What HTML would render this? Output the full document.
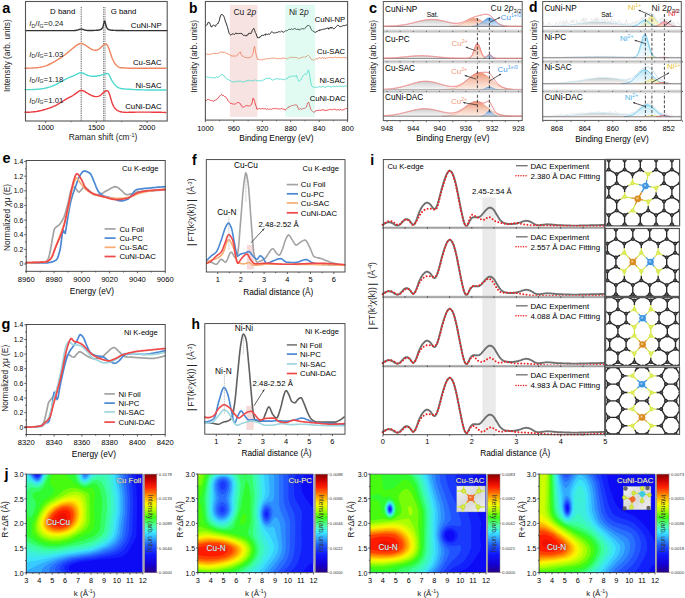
<!DOCTYPE html>
<html><head><meta charset="utf-8"><style>
html,body{margin:0;padding:0;background:#fff;}
body{width:685px;height:598px;overflow:hidden;}
svg{display:block;font-family:"Liberation Sans", sans-serif;}
</style></head><body>
<svg width="685" height="598" viewBox="0 0 685 598">
<rect width="685" height="598" fill="#fff"/>
<text x="2.3" y="12.7" font-size="14.5" font-weight="bold" fill="#000">a</text>
<line x1="81.2" y1="7" x2="81.2" y2="121" stroke="#111" stroke-width="0.8" stroke-dasharray="0.9,0.9"/>
<line x1="103.6" y1="7" x2="103.6" y2="121" stroke="#222" stroke-width="0.7" stroke-dasharray="0.9,0.9"/>
<line x1="105" y1="7" x2="105" y2="121" stroke="#222" stroke-width="0.7" stroke-dasharray="0.9,0.9"/>
<polyline points="25.5,30.6 25.8,30.6 26.1,30.6 26.4,30.6 26.6,30.6 26.9,30.6 27.2,30.6 27.5,30.6 27.8,30.6 28.1,30.6 28.3,30.6 28.6,30.6 28.9,30.6 29.2,30.6 29.5,30.6 29.8,30.6 30,30.6 30.3,30.6 30.6,30.6 30.9,30.6 31.2,30.6 31.5,30.6 31.7,30.6 32,30.6 32.3,30.6 32.6,30.6 32.9,30.6 33.2,30.6 33.5,30.6 33.7,30.6 34,30.6 34.3,30.6 34.6,30.6 34.9,30.6 35.2,30.6 35.4,30.6 35.7,30.6 36,30.6 36.3,30.6 36.6,30.6 36.9,30.6 37.1,30.6 37.4,30.6 37.7,30.6 38,30.6 38.3,30.6 38.6,30.6 38.8,30.6 39.1,30.6 39.4,30.6 39.7,30.6 40,30.6 40.3,30.6 40.6,30.6 40.8,30.6 41.1,30.6 41.4,30.6 41.7,30.6 42,30.6 42.3,30.6 42.5,30.6 42.8,30.6 43.1,30.6 43.4,30.6 43.7,30.6 44,30.6 44.2,30.6 44.5,30.6 44.8,30.6 45.1,30.6 45.4,30.6 45.7,30.6 45.9,30.6 46.2,30.6 46.5,30.6 46.8,30.6 47.1,30.6 47.4,30.6 47.6,30.6 47.9,30.6 48.2,30.6 48.5,30.6 48.8,30.6 49.1,30.6 49.4,30.6 49.6,30.6 49.9,30.6 50.2,30.6 50.5,30.6 50.8,30.6 51.1,30.6 51.3,30.6 51.6,30.6 51.9,30.6 52.2,30.6 52.5,30.6 52.8,30.6 53,30.6 53.3,30.6 53.6,30.6 53.9,30.6 54.2,30.6 54.5,30.6 54.7,30.6 55,30.6 55.3,30.6 55.6,30.6 55.9,30.6 56.2,30.6 56.5,30.6 56.7,30.6 57,30.6 57.3,30.6 57.6,30.6 57.9,30.6 58.2,30.6 58.4,30.6 58.7,30.6 59,30.6 59.3,30.6 59.6,30.6 59.9,30.6 60.1,30.6 60.4,30.6 60.7,30.6 61,30.6 61.3,30.6 61.6,30.6 61.8,30.6 62.1,30.6 62.4,30.6 62.7,30.6 63,30.6 63.3,30.6 63.6,30.6 63.8,30.6 64.1,30.6 64.4,30.6 64.7,30.6 65,30.6 65.3,30.6 65.5,30.6 65.8,30.6 66.1,30.6 66.4,30.6 66.7,30.6 67,30.6 67.2,30.6 67.5,30.6 67.8,30.6 68.1,30.6 68.4,30.6 68.7,30.6 68.9,30.6 69.2,30.6 69.5,30.6 69.8,30.6 70.1,30.6 70.4,30.6 70.7,30.6 70.9,30.6 71.2,30.6 71.5,30.6 71.8,30.6 72.1,30.6 72.4,30.6 72.6,30.6 72.9,30.6 73.2,30.6 73.5,30.6 73.8,30.6 74.1,30.6 74.3,30.5 74.6,30.5 74.9,30.5 75.2,30.5 75.5,30.5 75.8,30.4 76,30.4 76.3,30.3 76.6,30.3 76.9,30.2 77.2,30.1 77.5,30.1 77.8,30 78,29.9 78.3,29.8 78.6,29.7 78.9,29.6 79.2,29.5 79.5,29.4 79.7,29.3 80,29.2 80.3,29.2 80.6,29.1 80.9,29.1 81.2,29.1 81.4,29.1 81.7,29.1 82,29.1 82.3,29.2 82.6,29.3 82.9,29.4 83.1,29.5 83.4,29.6 83.7,29.7 84,29.8 84.3,29.9 84.6,29.9 84.8,30 85.1,30.1 85.4,30.2 85.7,30.2 86,30.3 86.3,30.3 86.6,30.4 86.8,30.4 87.1,30.4 87.4,30.5 87.7,30.5 88,30.5 88.3,30.5 88.5,30.5 88.8,30.5 89.1,30.5 89.4,30.5 89.7,30.5 90,30.5 90.2,30.5 90.5,30.5 90.8,30.5 91.1,30.5 91.4,30.5 91.7,30.5 91.9,30.5 92.2,30.5 92.5,30.5 92.8,30.5 93.1,30.5 93.4,30.5 93.7,30.4 93.9,30.4 94.2,30.4 94.5,30.4 94.8,30.4 95.1,30.4 95.4,30.4 95.6,30.4 95.9,30.4 96.2,30.3 96.5,30.3 96.8,30.3 97.1,30.3 97.3,30.3 97.6,30.2 97.9,30.2 98.2,30.2 98.5,30.1 98.8,30.1 99,30 99.3,30 99.6,29.9 99.9,29.8 100.2,29.7 100.5,29.6 100.8,29.5 101,29.3 101.3,29.1 101.6,28.9 101.9,28.6 102.2,28.2 102.5,27.8 102.7,27.2 103,26.5 103.3,25.5 103.6,24.4 103.9,23.2 104.2,22 104.4,21.2 104.7,21 105,21.6 105.3,22.6 105.6,23.9 105.9,25.1 106.1,26.1 106.4,26.9 106.7,27.5 107,28 107.3,28.4 107.6,28.8 107.9,29 108.1,29.2 108.4,29.4 108.7,29.6 109,29.7 109.3,29.8 109.6,29.9 109.8,29.9 110.1,30 110.4,30.1 110.7,30.1 111,30.1 111.3,30.2 111.5,30.2 111.8,30.2 112.1,30.3 112.4,30.3 112.7,30.3 113,30.3 113.2,30.3 113.5,30.4 113.8,30.4 114.1,30.4 114.4,30.4 114.7,30.4 114.9,30.4 115.2,30.4 115.5,30.4 115.8,30.4 116.1,30.5 116.4,30.5 116.7,30.5 116.9,30.5 117.2,30.5 117.5,30.5 117.8,30.5 118.1,30.5 118.4,30.5 118.6,30.5 118.9,30.5 119.2,30.5 119.5,30.5 119.8,30.5 120.1,30.5 120.3,30.5 120.6,30.5 120.9,30.5 121.2,30.5 121.5,30.5 121.8,30.5 122,30.5 122.3,30.5 122.6,30.5 122.9,30.5 123.2,30.5 123.5,30.5 123.8,30.5 124,30.5 124.3,30.6 124.6,30.6 124.9,30.6 125.2,30.6 125.5,30.6 125.7,30.6 126,30.6 126.3,30.6 126.6,30.6 126.9,30.6 127.2,30.6 127.4,30.6 127.7,30.6 128,30.6 128.3,30.6 128.6,30.6 128.9,30.6 129.1,30.6 129.4,30.6 129.7,30.6 130,30.6 130.3,30.6 130.6,30.6 130.9,30.6 131.1,30.6 131.4,30.6 131.7,30.6 132,30.6 132.3,30.6 132.6,30.6 132.8,30.6 133.1,30.6 133.4,30.6 133.7,30.6 134,30.6 134.3,30.6 134.5,30.6 134.8,30.6 135.1,30.6 135.4,30.6 135.7,30.6 136,30.6 136.2,30.6 136.5,30.6 136.8,30.6 137.1,30.6 137.4,30.6 137.7,30.6 138,30.6 138.2,30.6 138.5,30.6 138.8,30.6 139.1,30.6 139.4,30.6 139.7,30.6 139.9,30.6 140.2,30.6 140.5,30.6 140.8,30.6 141.1,30.6 141.4,30.6 141.6,30.6 141.9,30.6 142.2,30.6 142.5,30.6 142.8,30.6 143.1,30.6 143.3,30.6 143.6,30.6 143.9,30.6 144.2,30.6 144.5,30.6 144.8,30.6 145.1,30.6 145.3,30.6 145.6,30.6 145.9,30.6 146.2,30.6 146.5,30.6 146.8,30.6 147,30.6 147.3,30.6 147.6,30.6 147.9,30.6 148.2,30.6 148.5,30.6 148.7,30.6 149,30.6 149.3,30.6 149.6,30.6 149.9,30.6 150.2,30.6 150.4,30.6 150.7,30.6 151,30.6 151.3,30.6 151.6,30.6 151.9,30.6 152.1,30.6 152.4,30.6 152.7,30.6 153,30.6 153.3,30.6 153.6,30.6 153.9,30.6 154.1,30.6 154.4,30.6 154.7,30.6 155,30.6 155.3,30.6 155.6,30.6 155.8,30.6 156.1,30.6 156.4,30.6 156.7,30.6 157,30.6 157.3,30.6 157.5,30.6 157.8,30.6 158.1,30.6 158.4,30.6 158.7,30.6 159,30.6 159.2,30.6 159.5,30.6 159.8,30.6 160.1,30.6 160.4,30.6 160.7,30.6 161,30.6 161.2,30.6 161.5,30.6 161.8,30.6 162.1,30.6 162.4,30.6 162.7,30.6 162.9,30.6 163.2,30.6 163.5,30.6 163.8,30.6 164.1,30.6 164.4,30.6 164.6,30.6 164.9,30.6 165.2,30.6 165.5,30.6 165.8,30.6 166.1,30.6 166.3,30.6 166.6,30.6 166.9,30.6 167.2,30.6" fill="none" stroke="#333" stroke-width="1.4" stroke-linejoin="round" stroke-linecap="round" />
<polyline points="25,68.2 26,68.2 27,68.2 28,68.2 29,68.1 30,68.1 31,68.1 32,68 33,68 34,67.9 35,67.9 36,67.8 37,67.7 38,67.6 39,67.4 40,67.3 41,67.1 42,66.9 43,66.7 44,66.4 45,66.1 46,65.8 47,65.4 48,65 49,64.5 50,64 51,63.5 52,63 53,62.4 54,61.8 55,61.3 55.9,60.7 56.9,60.1 57.9,59.5 58.9,58.9 59.9,58.3 60.9,57.7 61.9,57 62.9,56.3 63.9,55.6 64.9,54.8 65.9,54 66.9,53.2 67.9,52.4 68.9,51.6 69.9,50.7 70.9,49.9 71.9,49 72.9,48.2 73.9,47.4 74.9,46.6 75.9,45.8 76.9,45.1 77.9,44.5 78.9,44 79.9,43.6 80.9,43.5 81.9,43.5 82.9,43.8 83.9,44.3 84.9,44.9 85.9,45.5 86.9,46.2 87.9,46.9 88.9,47.6 89.9,48.3 90.9,48.9 91.9,49.4 92.9,49.9 93.9,50.1 94.9,50.3 95.9,50.2 96.9,50 97.9,49.6 98.9,49.1 99.9,48.3 100.9,47.5 101.9,46.5 102.9,45.6 103.9,44.7 104.9,44 105.9,43.9 106.9,44.6 107.9,46.2 108.9,48.5 109.9,51.4 110.9,54.5 111.9,57.4 112.9,59.8 113.9,61.8 114.9,63.4 115.9,64.7 116.9,65.8 117.8,66.6 118.8,67.1 119.8,67.5 120.8,67.7 121.8,67.8 122.8,67.8 123.8,67.9 124.8,68 125.8,68 126.8,68.1 127.8,68.1 128.8,68.2 129.8,68.2 130.8,68.2 131.8,68.3 132.8,68.3 133.8,68.3 134.8,68.3 135.8,68.3 136.8,68.3 137.8,68.3 138.8,68.3 139.8,68.3 140.8,68.3 141.8,68.3 142.8,68.2 143.8,68.2 144.8,68.2 145.8,68.2 146.8,68.2 147.8,68.2 148.8,68.2 149.8,68.2 150.8,68.2 151.8,68.2 152.8,68.2 153.8,68.2 154.8,68.2 155.8,68.2 156.8,68.2 157.8,68.2 158.8,68.2 159.8,68.2 160.8,68.2 161.8,68.2 162.8,68.2 163.8,68.2 164.8,68.2 165.8,68.2" fill="none" stroke="#EE8660" stroke-width="1.4" stroke-linejoin="round" stroke-linecap="round" />
<polyline points="25,89.6 26,89.6 27,89.6 28,89.6 29,89.6 30,89.6 31,89.6 32,89.6 33,89.5 34,89.5 35,89.4 36,89.4 37,89.3 38,89.2 39,89.1 40,89 41,88.9 42,88.7 43,88.6 44,88.4 45,88.2 46,88 47,87.7 48,87.5 49,87.2 50,86.9 51,86.5 52,86.2 53,85.8 54,85.4 55,85 55.9,84.5 56.9,84 57.9,83.5 58.9,82.9 59.9,82.4 60.9,81.8 61.9,81.2 62.9,80.7 63.9,80.1 64.9,79.6 65.9,79.1 66.9,78.6 67.9,78.1 68.9,77.7 69.9,77.3 70.9,76.9 71.9,76.5 72.9,76.1 73.9,75.7 74.9,75.2 75.9,74.7 76.9,74.2 77.9,73.6 78.9,73.2 79.9,72.8 80.9,72.7 81.9,72.8 82.9,73.1 83.9,73.5 84.9,74 85.9,74.6 86.9,75 87.9,75.4 88.9,75.7 89.9,76 90.9,76.1 91.9,76.2 92.9,76.3 93.9,76.3 94.9,76.2 95.9,76.2 96.9,76 97.9,75.9 98.9,75.7 99.9,75.5 100.9,75.2 101.9,74.9 102.9,74.6 103.9,74.3 104.9,74 105.9,73.7 106.9,73.5 107.9,73.6 108.9,74.5 109.9,76.4 110.9,78.7 111.9,80.6 112.9,82.2 113.9,83.6 114.9,84.8 115.9,85.8 116.9,86.7 117.8,87.3 118.8,87.9 119.8,88.2 120.8,88.5 121.8,88.7 122.8,88.8 123.8,88.9 124.8,89 125.8,89.1 126.8,89.1 127.8,89.2 128.8,89.3 129.8,89.3 130.8,89.4 131.8,89.4 132.8,89.5 133.8,89.6 134.8,89.6 135.8,89.6 136.8,89.7 137.8,89.7 138.8,89.8 139.8,89.8 140.8,89.8 141.8,89.9 142.8,89.9 143.8,89.9 144.8,89.9 145.8,90 146.8,90 147.8,90 148.8,90 149.8,90 150.8,90 151.8,90 152.8,90 153.8,90 154.8,90 155.8,90 156.8,90 157.8,90 158.8,90.1 159.8,90 160.8,90 161.8,90 162.8,90 163.8,90 164.8,90 165.8,90" fill="none" stroke="#4FD9CF" stroke-width="1.4" stroke-linejoin="round" stroke-linecap="round" />
<polyline points="25,112.3 26,112.2 27,112.2 28,112.2 29,112.2 30,112.1 31,112.1 32,112 33,111.9 34,111.8 35,111.7 36,111.6 37,111.4 38,111.2 39,111 40,110.8 41,110.6 42,110.3 43,110 44,109.8 45,109.5 46,109.2 47,108.8 48,108.5 49,108.2 50,107.8 51,107.5 52,107.1 53,106.7 54,106.2 55,105.8 55.9,105.3 56.9,104.8 57.9,104.2 58.9,103.6 59.9,103 60.9,102.4 61.9,101.8 62.9,101.1 63.9,100.5 64.9,99.9 65.9,99.3 66.9,98.7 67.9,98.2 68.9,97.7 69.9,97.1 70.9,96.6 71.9,96.1 72.9,95.5 73.9,94.8 74.9,94.1 75.9,93.4 76.9,92.6 77.9,91.9 78.9,91.2 79.9,90.7 80.9,90.5 81.9,90.5 82.9,90.7 83.9,91.1 84.9,91.7 85.9,92.3 86.9,92.9 87.9,93.5 88.9,94.1 89.9,94.7 90.9,95.2 91.9,95.6 92.9,96 93.9,96.3 94.9,96.5 95.9,96.6 96.9,96.6 97.9,96.4 98.9,96.1 99.9,95.6 100.9,95 101.9,94.1 102.9,93.1 103.9,92.2 104.9,91.4 105.9,90.8 106.9,90.7 107.9,91.1 108.9,92.7 109.9,95.5 110.9,98.9 111.9,102.2 112.9,104.9 113.9,106.9 114.9,108.3 115.9,109.4 116.9,110.1 117.8,110.7 118.8,111.2 119.8,111.5 120.8,111.8 121.8,112 122.8,112.1 123.8,112.2 124.8,112.3 125.8,112.4 126.8,112.4 127.8,112.4 128.8,112.3 129.8,112.3 130.8,112.3 131.8,112.2 132.8,112.2 133.8,112.2 134.8,112.2 135.8,112.1 136.8,112.1 137.8,112.1 138.8,112.1 139.8,112.1 140.8,112.1 141.8,112.1 142.8,112.1 143.8,112.1 144.8,112.1 145.8,112.1 146.8,112.1 147.8,112.1 148.8,112.1 149.8,112.1 150.8,112.1 151.8,112.2 152.8,112.2 153.8,112.2 154.8,112.2 155.8,112.2 156.8,112.3 157.8,112.3 158.8,112.3 159.8,112.3 160.8,112.3 161.8,112.4 162.8,112.4 163.8,112.4 164.8,112.5 165.8,112.5" fill="none" stroke="#EC3A3F" stroke-width="1.4" stroke-linejoin="round" stroke-linecap="round" />
<rect x="25.5" y="1.5" width="141.7" height="119.5" fill="none" stroke="#555" stroke-width="1.1" />
<line x1="45.7" y1="121" x2="45.7" y2="123" stroke="#555" stroke-width="0.9" />
<line x1="96.3" y1="121" x2="96.3" y2="123" stroke="#555" stroke-width="0.9" />
<line x1="147" y1="121" x2="147" y2="123" stroke="#555" stroke-width="0.9" />
<line x1="71" y1="121" x2="71" y2="122.2" stroke="#555" stroke-width="0.8" />
<line x1="121.7" y1="121" x2="121.7" y2="122.2" stroke="#555" stroke-width="0.8" />
<text x="45.7" y="130.3" font-size="7.5" text-anchor="middle">1000</text>
<text x="96.3" y="130.3" font-size="7.5" text-anchor="middle">1500</text>
<text x="147" y="130.3" font-size="7.5" text-anchor="middle">2000</text>
<text x="62.7" y="13.7" font-size="7.8" text-anchor="middle">D band</text>
<text x="123.6" y="13.7" font-size="7.8" text-anchor="middle">G band</text>
<text x="29.3" y="26.2" font-size="7.8" fill="#222"><tspan font-style="italic">I</tspan><tspan font-size="5.2" dy="1.5">D</tspan><tspan dy="-1.5">/</tspan><tspan font-style="italic">I</tspan><tspan font-size="5.2" dy="1.5">G</tspan><tspan dy="-1.5">=0.24</tspan></text>
<text x="29.3" y="56.8" font-size="7.8" fill="#222"><tspan font-style="italic">I</tspan><tspan font-size="5.2" dy="1.5">D</tspan><tspan dy="-1.5">/</tspan><tspan font-style="italic">I</tspan><tspan font-size="5.2" dy="1.5">G</tspan><tspan dy="-1.5">=1.03</tspan></text>
<text x="29.3" y="81.6" font-size="7.8" fill="#222"><tspan font-style="italic">I</tspan><tspan font-size="5.2" dy="1.5">D</tspan><tspan dy="-1.5">/</tspan><tspan font-style="italic">I</tspan><tspan font-size="5.2" dy="1.5">G</tspan><tspan dy="-1.5">=1.18</tspan></text>
<text x="29.3" y="102.7" font-size="7.8" fill="#222"><tspan font-style="italic">I</tspan><tspan font-size="5.2" dy="1.5">D</tspan><tspan dy="-1.5">/</tspan><tspan font-style="italic">I</tspan><tspan font-size="5.2" dy="1.5">G</tspan><tspan dy="-1.5">=1.01</tspan></text>
<text x="161.6" y="28.3" font-size="7.8" text-anchor="end">CuNi-NP</text>
<text x="161.6" y="65.3" font-size="7.8" text-anchor="end">Cu-SAC</text>
<text x="161.6" y="87.6" font-size="7.8" text-anchor="end">Ni-SAC</text>
<text x="161.6" y="109" font-size="7.8" text-anchor="end">CuNi-DAC</text>
<text x="103.0" y="140.3" font-size="8.4" text-anchor="middle" fill="#222">Raman shift (cm<tspan font-size="5.6" dy="-3.0">-1</tspan><tspan dy="3.0">)</tspan></text>
<text x="0" y="0" font-size="8.3" text-anchor="middle" fill="#222" transform="translate(9.9 55.7) rotate(-90)">Intensity (arb. units)</text>
<text x="189" y="12.6" font-size="13.8" font-weight="bold" fill="#000">b</text>
<rect x="229.9" y="4.7" width="27.6" height="112.2" fill="#F8E3E3" />
<polyline points="205.8,25.5 206.6,25.1 207.3,24.7 208.1,22.3 208.8,22.4 209.6,22.7 210.3,24.6 211.1,26.9 211.8,27 212.6,25.7 213.3,24.9 214.1,25.5 214.8,25.9 215.6,26.4 216.3,24.5 217.1,23.7 217.8,24 218.6,22.2 219.3,20.6 220.1,17 220.8,15.2 221.6,14.1 222.3,14.9 223.1,15.2 223.8,16.3 224.6,18.3 225.3,21.1 226.1,23 226.8,25 227.6,27.5 228.3,30.2 229.1,33.2 229.8,34.4 230.6,35 231.3,34.7 232.1,33.7 232.8,34.2 233.6,33.9 234.3,34.6 235.1,33.8 235.8,32.8 236.6,33.8 237.3,33.6 238.1,33.3 238.8,33.7 239.6,33.4 240.3,33.1 241.1,33.9 241.8,33.4 242.6,34.7 243.3,35.3 244.1,35.2 244.8,35.4 245.6,35.7 246.3,36.1 247.1,34.7 247.8,35.1 248.6,33.4 249.3,33.7 250.1,32.8 250.8,33.8 251.6,32.5 252.3,30.2 253.1,29.2 253.8,28.3 254.6,30.3 255.3,32.5 256.1,33.8 256.8,36 257.6,37.9 258.3,37.7 259.1,38 259.8,36.8 260.6,36.9 261.3,35.6 262.1,35.2 262.8,35.4 263.6,35.5 264.3,34.6 265.1,35.4 265.8,33.7 266.6,34.3 267.3,34.6 268.1,34 268.8,34.1 269.6,34.3 270.3,33.4 271.1,32.7 271.8,31.6 272.6,32.4 273.3,32.8 274.1,33.1 274.8,32.8 275.6,33 276.3,32.3 277.1,32.3 277.8,32.5 278.6,31.6 279.3,31.5 280.1,32.3 280.8,31.6 281.6,30.9 282.3,31.8 283.1,32.2 283.8,32.2 284.6,31.5 285.3,30.9 286.1,30.6 286.8,30.9 287.6,30.4 288.3,29.7 289.1,29.5 289.8,29.2 290.6,29.5 291.3,28.8 292.1,29.3 292.8,29.5 293.6,29.2 294.3,28.4 295.1,29.2 295.8,28.7 296.6,29.5 297.3,29.3 298.1,28.9 298.8,29.9 299.6,29.8 300.3,29.3 301.1,29.2 301.8,28.7 302.6,28.6 303.3,28.7 304.1,29.3 304.8,28.5 305.6,27.3 306.3,27.1 307.1,25.9 307.8,25.4 308.6,25.5 309.3,25.6 310.1,26.5 310.8,28.5 311.6,29.9 312.3,30.7 313.1,31.5 313.8,31 314.6,32.4 315.3,32.6 316.1,31.6 316.8,31.7 317.6,31.3 318.3,30.4 319.1,31 319.8,29.6 320.6,30 321.3,29.8 322.1,29.8 322.8,29.1 323.6,29.2 324.3,29 325.1,29.3 325.8,28.3 326.6,28.5 327.3,28.3 328.1,27.7 328.8,29.3 329.6,28 330.3,27.2 331.1,28.4 331.8,27.1 332.6,28 333.3,28.8 334.1,28.7 334.8,28.2 335.6,27.3 336.3,26.7 337.1,25.6 337.8,25.2 338.6,25.6 339.3,26.3 340.1,26.3 340.8,26.8 341.6,26.4 342.3,25.8 343.1,26.1 343.8,25.3 344.6,25.7 345.3,25.3 346.1,25.3 346.8,24.7" fill="none" stroke="#1a1a1a" stroke-width="0.9" stroke-linejoin="round" stroke-linecap="round" />
<polyline points="205.8,54.2 206.6,54.3 207.3,54.1 208.1,54.5 208.8,54.4 209.6,54.3 210.3,53.7 211.1,54.4 211.8,54.1 212.6,53.6 213.3,53.4 214.1,53.4 214.8,53.4 215.6,53.3 216.3,53.4 217.1,53.4 217.8,53.4 218.6,53.2 219.3,52.7 220.1,52.6 220.8,52.1 221.6,51.7 222.3,52.5 223.1,51.9 223.8,52.8 224.6,52.3 225.3,52.8 226.1,53.3 226.8,53.4 227.6,53.8 228.3,54 229.1,54.3 229.8,54.8 230.6,55 231.3,56.1 232.1,55.7 232.8,56.5 233.6,55.4 234.3,56.3 235.1,56.3 235.8,55.8 236.6,56 237.3,55.3 238.1,54 238.8,53.2 239.6,52.5 240.3,51.9 241.1,54.3 241.8,55.2 242.6,56.4 243.3,56.1 244.1,56.7 244.8,57.6 245.6,57.4 246.3,57.4 247.1,57.6 247.8,58 248.6,57.5 249.3,57.9 250.1,57.4 250.8,57 251.6,56.7 252.3,54.8 253.1,53.4 253.8,48.4 254.6,46.3 255.3,49.9 256.1,54.5 256.8,57.1 257.6,59.6 258.3,59.4 259.1,59.4 259.8,60 260.6,59.7 261.3,59.9 262.1,59.7 262.8,59.9 263.6,58.9 264.3,59.4 265.1,59 265.8,58.5 266.6,59.1 267.3,58.4 268.1,59 268.8,58.6 269.6,58.6 270.3,58.4 271.1,58.7 271.8,57.8 272.6,58.3 273.3,58 274.1,58.2 274.8,58.2 275.6,58.4 276.3,58.1 277.1,58.9 277.8,59.1 278.6,58.3 279.3,58.4 280.1,58.5 280.8,58.7 281.6,58.8 282.3,57.8 283.1,58 283.8,58.1 284.6,58.3 285.3,58.3 286.1,58.9 286.8,58.3 287.6,58.9 288.3,58.5 289.1,57.6 289.8,57.4 290.6,57.3 291.3,57.8 292.1,57.3 292.8,57.2 293.6,57.6 294.3,57.6 295.1,57.2 295.8,58 296.6,57.7 297.3,57.9 298.1,57.9 298.8,58.5 299.6,58.5 300.3,57.7 301.1,58.2 301.8,57.2 302.6,57.4 303.3,56.7 304.1,57.5 304.8,56.8 305.6,56.8 306.3,56.7 307.1,56 307.8,55.3 308.6,55.6 309.3,56.3 310.1,57.1 310.8,58.7 311.6,59.7 312.3,59.5 313.1,60.1 313.8,60.5 314.6,59.4 315.3,58.7 316.1,59.1 316.8,58.9 317.6,58.9 318.3,58.2 319.1,58.2 319.8,57.4 320.6,58.3 321.3,58.4 322.1,58.2 322.8,57.3 323.6,58 324.3,57.4 325.1,58.7 325.8,58.4 326.6,57.9 327.3,58 328.1,57.6 328.8,57.6 329.6,57.4 330.3,57.7 331.1,57.3 331.8,57.5 332.6,57.6 333.3,57.7 334.1,57.4 334.8,57.7 335.6,57 336.3,57.4 337.1,57.7 337.8,57.5 338.6,57.6 339.3,57.2 340.1,57.9 340.8,57.5 341.6,57.9 342.3,57.5 343.1,57.8 343.8,57 344.6,57.7 345.3,57.5 346.1,57.9 346.8,58.3" fill="none" stroke="#EE8660" stroke-width="0.9" stroke-linejoin="round" stroke-linecap="round" />
<polyline points="205.8,76.5 206.6,76.7 207.3,77 208.1,77.5 208.8,77.1 209.6,77.8 210.3,77.4 211.1,77.5 211.8,77.8 212.6,78.1 213.3,77.8 214.1,77.8 214.8,77.8 215.6,77.6 216.3,76.7 217.1,77.3 217.8,77.1 218.6,76.9 219.3,76.6 220.1,75.6 220.8,75.1 221.6,74.6 222.3,74.8 223.1,74.8 223.8,75.9 224.6,76.2 225.3,77.5 226.1,78.4 226.8,79.3 227.6,79.3 228.3,79.5 229.1,80 229.8,80.6 230.6,80.8 231.3,81.4 232.1,81.7 232.8,81.8 233.6,82.1 234.3,81.7 235.1,81.8 235.8,81.5 236.6,81.4 237.3,81.6 238.1,81.1 238.8,80.6 239.6,81.3 240.3,81.3 241.1,81.2 241.8,81.5 242.6,82.2 243.3,82.2 244.1,81.3 244.8,81.6 245.6,81.4 246.3,80.5 247.1,80.8 247.8,80.7 248.6,80.7 249.3,80.1 250.1,80.5 250.8,80.8 251.6,80.8 252.3,80.9 253.1,80.2 253.8,80.8 254.6,80.3 255.3,79.8 256.1,80.6 256.8,80.5 257.6,80.9 258.3,80.7 259.1,81.1 259.8,80.7 260.6,80.5 261.3,80.9 262.1,80.5 262.8,80 263.6,80.2 264.3,79.4 265.1,79.1 265.8,78.9 266.6,78.3 267.3,78.4 268.1,78.8 268.8,77.8 269.6,78.4 270.3,78.4 271.1,79 271.8,80 272.6,80.2 273.3,79.8 274.1,79.7 274.8,79.3 275.6,79 276.3,78.7 277.1,78.5 277.8,78.9 278.6,79.1 279.3,79.2 280.1,79.2 280.8,78.9 281.6,79.4 282.3,79.1 283.1,79.7 283.8,79.6 284.6,79.6 285.3,79.3 286.1,78.5 286.8,79 287.6,78.5 288.3,77.1 289.1,77.1 289.8,77 290.6,76 291.3,76.6 292.1,76 292.8,75.9 293.6,76.6 294.3,76.2 295.1,75.8 295.8,76.2 296.6,75.3 297.3,78.5 298.1,79.3 298.8,81.2 299.6,80.9 300.3,80.4 301.1,79.5 301.8,77.7 302.6,77 303.3,75.4 304.1,74.5 304.8,74.1 305.6,74.1 306.3,74.6 307.1,73.6 307.8,71 308.6,69.9 309.3,72.9 310.1,77.5 310.8,82.4 311.6,85.8 312.3,86.6 313.1,87.1 313.8,87 314.6,87.8 315.3,87 316.1,87 316.8,87.2 317.6,87.6 318.3,86.9 319.1,86.3 319.8,86.9 320.6,87 321.3,87.1 322.1,86.6 322.8,86.4 323.6,86.7 324.3,87 325.1,87.5 325.8,87.5 326.6,86.5 327.3,86.4 328.1,86.4 328.8,86.3 329.6,86.5 330.3,86.8 331.1,86.9 331.8,87.2 332.6,86.6 333.3,86.3 334.1,86.2 334.8,86.5 335.6,86.5 336.3,86 337.1,86.6 337.8,86.5 338.6,86.4 339.3,86.3 340.1,86 340.8,86.1 341.6,86.9 342.3,85.8 343.1,86.6 343.8,86.6 344.6,86.1 345.3,85.8 346.1,86.4 346.8,86.1" fill="none" stroke="#4FD9CF" stroke-width="0.9" stroke-linejoin="round" stroke-linecap="round" />
<polyline points="205.8,100.3 206.6,100.4 207.3,99.5 208.1,99.5 208.8,99.6 209.6,100 210.3,100.4 211.1,100.6 211.8,100.5 212.6,100.7 213.3,101.4 214.1,101 214.8,100.1 215.6,100 216.3,99.6 217.1,99.4 217.8,98.2 218.6,97.8 219.3,96.4 220.1,95.7 220.8,94.9 221.6,94.5 222.3,95.5 223.1,95.1 223.8,95.8 224.6,96.5 225.3,96.4 226.1,97.7 226.8,98.2 227.6,100.1 228.3,101.1 229.1,101.9 229.8,102.5 230.6,103.7 231.3,103.5 232.1,103.7 232.8,104.1 233.6,103.7 234.3,104.4 235.1,104.2 235.8,103.6 236.6,103.2 237.3,102.5 238.1,102.6 238.8,102.7 239.6,103.1 240.3,103.5 241.1,105.1 241.8,106.5 242.6,107.2 243.3,107 244.1,106.8 244.8,106.5 245.6,105.8 246.3,105.7 247.1,105.6 247.8,105.8 248.6,105.9 249.3,106.1 250.1,105.4 250.8,105.3 251.6,104.4 252.3,101.8 253.1,98 253.8,99.1 254.6,101.4 255.3,104 256.1,106.1 256.8,109.1 257.6,109.2 258.3,108.9 259.1,108.5 259.8,108.5 260.6,108.7 261.3,109.1 262.1,108.3 262.8,108.5 263.6,108.8 264.3,108.7 265.1,108.5 265.8,109.1 266.6,109.4 267.3,108.8 268.1,109.2 268.8,109.4 269.6,109.3 270.3,108.8 271.1,109.6 271.8,109 272.6,108.5 273.3,108.9 274.1,108.2 274.8,108.8 275.6,108.2 276.3,108.9 277.1,108.5 277.8,109 278.6,108.9 279.3,108.9 280.1,108.8 280.8,109.1 281.6,108.3 282.3,109.1 283.1,109.1 283.8,109.2 284.6,109.4 285.3,110.3 286.1,108.8 286.8,108.5 287.6,107.9 288.3,107.8 289.1,106.3 289.8,107.1 290.6,106.1 291.3,105.4 292.1,105.6 292.8,105.6 293.6,105.4 294.3,105 295.1,104.9 295.8,104.8 296.6,104.9 297.3,106 298.1,108.1 298.8,109.5 299.6,109.3 300.3,108.5 301.1,108.6 301.8,109.6 302.6,108.8 303.3,108.5 304.1,108.2 304.8,108.4 305.6,107.6 306.3,107.1 307.1,104.7 307.8,102.7 308.6,102 309.3,104.1 310.1,107 310.8,109.3 311.6,110.7 312.3,111.4 313.1,111.8 313.8,112.4 314.6,112 315.3,111.1 316.1,110.7 316.8,110.5 317.6,110.4 318.3,110.3 319.1,110.5 319.8,110.1 320.6,110.5 321.3,110.4 322.1,109.3 322.8,110.3 323.6,110.1 324.3,110.1 325.1,109.8 325.8,110.9 326.6,110.3 327.3,110.2 328.1,110.3 328.8,109.7 329.6,109.5 330.3,109.3 331.1,109.6 331.8,109.8 332.6,109.7 333.3,109.5 334.1,109.1 334.8,109.4 335.6,109.3 336.3,110.3 337.1,109.9 337.8,109.5 338.6,109.7 339.3,110.3 340.1,109.3 340.8,109.7 341.6,110.1 342.3,109.8 343.1,110 343.8,109.8 344.6,108.8 345.3,109.2 346.1,108.4 346.8,108.6" fill="none" stroke="#EC3A3F" stroke-width="0.9" stroke-linejoin="round" stroke-linecap="round" />
<rect x="285.2" y="4.7" width="29.9" height="112.2" fill="#80F0C8" fill-opacity="0.24"/>
<rect x="205.4" y="1.5" width="142.2" height="118.6" fill="none" stroke="#555" stroke-width="1.1" />
<line x1="205.4" y1="120.1" x2="205.4" y2="122.1" stroke="#555" stroke-width="0.9" />
<line x1="233.8" y1="120.1" x2="233.8" y2="122.1" stroke="#555" stroke-width="0.9" />
<line x1="262.3" y1="120.1" x2="262.3" y2="122.1" stroke="#555" stroke-width="0.9" />
<line x1="290.7" y1="120.1" x2="290.7" y2="122.1" stroke="#555" stroke-width="0.9" />
<line x1="319.2" y1="120.1" x2="319.2" y2="122.1" stroke="#555" stroke-width="0.9" />
<line x1="347.6" y1="120.1" x2="347.6" y2="122.1" stroke="#555" stroke-width="0.9" />
<line x1="219.6" y1="120.1" x2="219.6" y2="121.3" stroke="#555" stroke-width="0.8" />
<line x1="248.1" y1="120.1" x2="248.1" y2="121.3" stroke="#555" stroke-width="0.8" />
<line x1="276.5" y1="120.1" x2="276.5" y2="121.3" stroke="#555" stroke-width="0.8" />
<line x1="304.9" y1="120.1" x2="304.9" y2="121.3" stroke="#555" stroke-width="0.8" />
<line x1="333.4" y1="120.1" x2="333.4" y2="121.3" stroke="#555" stroke-width="0.8" />
<text x="205.4" y="130.7" font-size="7.4" text-anchor="middle">1000</text>
<text x="233.8" y="130.7" font-size="7.4" text-anchor="middle">960</text>
<text x="262.3" y="130.7" font-size="7.4" text-anchor="middle">920</text>
<text x="290.7" y="130.7" font-size="7.4" text-anchor="middle">880</text>
<text x="319.2" y="130.7" font-size="7.4" text-anchor="middle">840</text>
<text x="347.6" y="130.7" font-size="7.4" text-anchor="middle">800</text>
<text x="244.8" y="14.8" font-size="8.5" text-anchor="middle" fill="#222">Cu 2<tspan font-style="italic">p</tspan></text>
<text x="298.9" y="14.8" font-size="8.5" text-anchor="middle" fill="#222">Ni 2<tspan font-style="italic">p</tspan></text>
<text x="345.1" y="22.1" font-size="7.7" text-anchor="end">CuNi-NP</text>
<text x="345.1" y="54.3" font-size="7.7" text-anchor="end">Cu-SAC</text>
<text x="345.1" y="83.2" font-size="7.7" text-anchor="end">Ni-SAC</text>
<text x="345.6" y="101.3" font-size="7.7" text-anchor="end">CuNi-DAC</text>
<text x="276.5" y="141" font-size="8.3" text-anchor="middle">Binding Energy (eV)</text>
<text x="0" y="0" font-size="8.3" text-anchor="middle" fill="#222" transform="translate(197.4 56.3) rotate(-90)">Intensity (arb. units)</text>
<defs>
<linearGradient id="gOr" x1="0" y1="0" x2="0" y2="1"><stop offset="0" stop-color="#E8805A" stop-opacity="0.85"/><stop offset="1" stop-color="#F6C9B0" stop-opacity="0.35"/></linearGradient>
<linearGradient id="gBl" x1="0" y1="0" x2="0" y2="1"><stop offset="0" stop-color="#3D8FE0" stop-opacity="0.9"/><stop offset="1" stop-color="#A9CFF2" stop-opacity="0.4"/></linearGradient>
<linearGradient id="gGr" x1="0" y1="0" x2="0" y2="1"><stop offset="0" stop-color="#BBBBBB" stop-opacity="0.8"/><stop offset="1" stop-color="#EEEEEE" stop-opacity="0.5"/></linearGradient>
<linearGradient id="gNb" x1="0" y1="0" x2="0" y2="1"><stop offset="0" stop-color="#7FCFEF" stop-opacity="0.6"/><stop offset="1" stop-color="#D7F0FA" stop-opacity="0.3"/></linearGradient>
<linearGradient id="gNy" x1="0" y1="0" x2="0" y2="1"><stop offset="0" stop-color="#E8E070" stop-opacity="0.8"/><stop offset="1" stop-color="#F4F0B8" stop-opacity="0.4"/></linearGradient>
<linearGradient id="gNr" x1="0" y1="0" x2="0" y2="1"><stop offset="0" stop-color="#EE6070" stop-opacity="0.8"/><stop offset="1" stop-color="#F6B8C0" stop-opacity="0.4"/></linearGradient>
</defs>
<text x="369" y="12.8" font-size="14.5" font-weight="bold" fill="#000">c</text>
<path d="M388.1,26.4 L388.1,26.2 L389,26.2 L389.9,26.2 L390.7,26.1 L391.6,26.1 L392.5,26.1 L393.3,26 L394.2,26 L395.1,25.9 L395.9,25.8 L396.8,25.8 L397.7,25.7 L398.5,25.6 L399.4,25.5 L400.3,25.4 L401.1,25.3 L402,25.2 L402.9,25.1 L403.7,24.9 L404.6,24.8 L405.5,24.6 L406.3,24.5 L407.2,24.3 L408.1,24.1 L409,23.9 L409.8,23.7 L410.7,23.5 L411.6,23.3 L412.4,23.1 L413.3,22.9 L414.2,22.7 L415,22.4 L415.9,22.2 L416.8,22 L417.6,21.8 L418.5,21.5 L419.4,21.3 L420.2,21.1 L421.1,20.9 L422,20.7 L422.8,20.5 L423.7,20.4 L424.6,20.2 L425.4,20 L426.3,19.9 L427.2,19.8 L428,19.7 L428.9,19.6 L429.8,19.6 L430.6,19.5 L431.5,19.5 L432.4,19.5 L433.2,19.5 L434.1,19.6 L435,19.6 L435.8,19.7 L436.7,19.8 L437.6,19.9 L438.4,20.1 L439.3,20.2 L440.2,20.4 L441,20.5 L441.9,20.7 L442.8,20.9 L443.6,21.1 L444.5,21.3 L445.4,21.6 L446.2,21.8 L447.1,22 L448,22.2 L448.8,22.5 L449.7,22.7 L450.6,22.9 L451.4,23.1 L452.3,23.3 L453.2,23.6 L454.1,23.8 L454.9,23.9 L455.8,24.1 L456.7,24.3 L457.5,24.5 L458.4,24.6 L459.3,24.8 L460.1,24.9 L461,25.1 L461.9,25.2 L462.7,25.3 L463.6,25.4 L464.5,25.5 L465.3,25.6 L466.2,25.7 L467.1,25.8 L467.9,25.9 L468.8,25.9 L469.7,26 L470.5,26 L471.4,26.1 L472.3,26.1 L473.1,26.2 L474,26.2 L474.9,26.2 L475.7,26.2 L475.7,26.4 Z" fill="url(#gGr)" stroke="none"/>
<path d="M450.6,26.4 L450.6,26.2 L451.4,26.2 L452.3,26.1 L453.2,26.1 L454.1,26 L454.9,25.8 L455.8,25.7 L456.7,25.5 L457.5,25.3 L458.4,25.1 L459.3,24.8 L460.1,24.5 L461,24.1 L461.9,23.8 L462.7,23.3 L463.6,22.9 L464.5,22.4 L465.3,21.9 L466.2,21.4 L467.1,20.9 L467.9,20.5 L468.8,20 L469.7,19.6 L470.5,19.2 L471.4,18.9 L472.3,18.7 L473.1,18.5 L474,18.4 L474.9,18.4 L475.7,18.5 L476.6,18.6 L477.5,18.9 L478.3,19.2 L479.2,19.5 L480.1,19.9 L480.9,20.4 L481.8,20.9 L482.7,21.4 L483.5,21.9 L484.4,22.3 L485.3,22.8 L486.1,23.3 L487,23.7 L487.9,24.1 L488.7,24.4 L489.6,24.8 L490.5,25 L491.3,25.3 L492.2,25.5 L493.1,25.7 L493.9,25.8 L494.8,25.9 L495.7,26 L496.5,26.1 L497.4,26.2 L498.3,26.2 L498.3,26.4 Z" fill="url(#gOr)" stroke="none"/>
<polyline points="449.7,26.3 450.6,26.2 451.4,26.2 452.3,26.1 453.2,26.1 454.1,26 454.9,25.8 455.8,25.7 456.7,25.5 457.5,25.3 458.4,25.1 459.3,24.8 460.1,24.5 461,24.1 461.9,23.8 462.7,23.3 463.6,22.9 464.5,22.4 465.3,21.9 466.2,21.4 467.1,20.9 467.9,20.5 468.8,20 469.7,19.6 470.5,19.2 471.4,18.9 472.3,18.7 473.1,18.5 474,18.4 474.9,18.4 475.7,18.5 476.6,18.6 477.5,18.9 478.3,19.2 479.2,19.5 480.1,19.9 480.9,20.4 481.8,20.9 482.7,21.4 483.5,21.9 484.4,22.3 485.3,22.8 486.1,23.3 487,23.7 487.9,24.1 488.7,24.4 489.6,24.8 490.5,25 491.3,25.3 492.2,25.5 493.1,25.7 493.9,25.8 494.8,25.9 495.7,26 496.5,26.1 497.4,26.2 498.3,26.2 499.2,26.3" fill="none" stroke="#E88A6A" stroke-width="0.5" stroke-linejoin="round" stroke-linecap="round" />
<path d="M473.1,26.4 L473.1,26.2 L474,26.1 L474.9,25.9 L475.7,25.8 L476.6,25.5 L477.5,25.2 L478.3,24.8 L479.2,24.4 L480.1,23.8 L480.9,23.2 L481.8,22.5 L482.7,21.8 L483.5,21.1 L484.4,20.3 L485.3,19.6 L486.1,19 L487,18.5 L487.9,18.1 L488.7,17.9 L489.6,17.8 L490.5,17.9 L491.3,18.2 L492.2,18.7 L493.1,19.3 L493.9,19.9 L494.8,20.7 L495.7,21.4 L496.5,22.2 L497.4,22.9 L498.3,23.5 L499.2,24.1 L500,24.6 L500.9,25 L501.8,25.4 L502.6,25.6 L503.5,25.9 L504.4,26 L505.2,26.1 L506.1,26.2 L506.1,26.4 Z" fill="url(#gBl)" stroke="none"/>
<polyline points="472.3,26.3 473.1,26.2 474,26.1 474.9,25.9 475.7,25.8 476.6,25.5 477.5,25.2 478.3,24.8 479.2,24.4 480.1,23.8 480.9,23.2 481.8,22.5 482.7,21.8 483.5,21.1 484.4,20.3 485.3,19.6 486.1,19 487,18.5 487.9,18.1 488.7,17.9 489.6,17.8 490.5,17.9 491.3,18.2 492.2,18.7 493.1,19.3 493.9,19.9 494.8,20.7 495.7,21.4 496.5,22.2 497.4,22.9 498.3,23.5 499.2,24.1 500,24.6 500.9,25 501.8,25.4 502.6,25.6 503.5,25.9 504.4,26 505.2,26.1 506.1,26.2 507,26.3" fill="none" stroke="#3D8FE0" stroke-width="0.5" stroke-linejoin="round" stroke-linecap="round" />
<line x1="383.3" y1="26.4" x2="522.2" y2="26.4" stroke="#555" stroke-width="0.7" />
<polyline points="383.8,26.3 384.7,26.3 385.5,26.3 386.4,26.3 387.3,26.3 388.1,26.2 389,26.2 389.9,26.2 390.7,26.1 391.6,26.1 392.5,26.1 393.3,26 394.2,26 395.1,25.9 395.9,25.8 396.8,25.8 397.7,25.7 398.5,25.6 399.4,25.5 400.3,25.4 401.1,25.3 402,25.2 402.9,25.1 403.7,24.9 404.6,24.8 405.5,24.6 406.3,24.5 407.2,24.3 408.1,24.1 409,23.9 409.8,23.7 410.7,23.5 411.6,23.3 412.4,23.1 413.3,22.9 414.2,22.7 415,22.4 415.9,22.2 416.8,22 417.6,21.8 418.5,21.5 419.4,21.3 420.2,21.1 421.1,20.9 422,20.7 422.8,20.5 423.7,20.4 424.6,20.2 425.4,20 426.3,19.9 427.2,19.8 428,19.7 428.9,19.6 429.8,19.6 430.6,19.5 431.5,19.5 432.4,19.5 433.2,19.5 434.1,19.6 435,19.6 435.8,19.7 436.7,19.8 437.6,19.9 438.4,20.1 439.3,20.2 440.2,20.4 441,20.5 441.9,20.7 442.8,20.9 443.6,21.1 444.5,21.3 445.4,21.5 446.2,21.8 447.1,22 448,22.2 448.8,22.4 449.7,22.6 450.6,22.8 451.4,22.9 452.3,23.1 453.2,23.2 454.1,23.3 454.9,23.4 455.8,23.4 456.7,23.4 457.5,23.4 458.4,23.3 459.3,23.2 460.1,23 461,22.8 461.9,22.6 462.7,22.2 463.6,21.9 464.5,21.5 465.3,21.1 466.2,20.7 467.1,20.2 467.9,19.8 468.8,19.3 469.7,18.9 470.5,18.5 471.4,18.1 472.3,17.7 473.1,17.4 474,17.1 474.9,16.8 475.7,16.5 476.6,16.3 477.5,16.1 478.3,15.8 479.2,15.6 480.1,15.4 480.9,15.2 481.8,15 482.7,14.7 483.5,14.5 484.4,14.4 485.3,14.3 486.1,14.2 487,14.3 487.9,14.5 488.7,14.8 489.6,15.3 490.5,15.8 491.3,16.5 492.2,17.3 493.1,18.2 493.9,19.1 494.8,20 495.7,20.9 496.5,21.8 497.4,22.6 498.3,23.3 499.2,23.9 500,24.5 500.9,24.9 501.8,25.3 502.6,25.6 503.5,25.8 504.4,26 505.2,26.1 506.1,26.2 507,26.3 507.8,26.3 508.7,26.3 509.6,26.4 510.4,26.4 511.3,26.4 512.2,26.4 513,26.4 513.9,26.4 514.8,26.4 515.6,26.4 516.5,26.4 517.4,26.4 518.2,26.4 519.1,26.4 520,26.4 520.8,26.4 521.7,26.4" fill="none" stroke="#E8706E" stroke-width="0.8" stroke-linejoin="round" stroke-linecap="round" />
<polyline points="383.8,25.9 384.7,25.9 385.5,25.9 386.4,25.9 387.3,25.9 388.1,25.8 389,25.8 389.9,25.8 390.7,25.8 391.6,25.7 392.5,25.7 393.3,25.6 394.2,25.6 395.1,25.5 395.9,25.5 396.8,25.4 397.7,25.3 398.5,25.2 399.4,25.1 400.3,25.1 401.1,24.9 402,24.8 402.9,24.7 403.7,24.6 404.6,24.4 405.5,24.3 406.3,24.1 407.2,24 408.1,23.8 409,23.6 409.8,23.4 410.7,23.2 411.6,23 412.4,22.8 413.3,22.6 414.2,22.4 415,22.2 415.9,21.9 416.8,21.7 417.6,21.5 418.5,21.3 419.4,21.1 420.2,20.9 421.1,20.7 422,20.5 422.8,20.3 423.7,20.1 424.6,20 425.4,19.8 426.3,19.7 427.2,19.6 428,19.5 428.9,19.4 429.8,19.4 430.6,19.3 431.5,19.3 432.4,19.3 433.2,19.3 434.1,19.4 435,19.4 435.8,19.5 436.7,19.6 437.6,19.7 438.4,19.8 439.3,20 440.2,20.1 441,20.3 441.9,20.5 442.8,20.7 443.6,20.9 444.5,21.1 445.4,21.3 446.2,21.5 447.1,21.7 448,21.9 448.8,22.1 449.7,22.3 450.6,22.5 451.4,22.6 452.3,22.8 453.2,22.9 454.1,23 454.9,23.1 455.8,23.1 456.7,23.1 457.5,23.1 458.4,23 459.3,22.9 460.1,22.7 461,22.5 461.9,22.3 462.7,22 463.6,21.6 464.5,21.3 465.3,20.9 466.2,20.4 467.1,20 467.9,19.6 468.8,19.1 469.7,18.7 470.5,18.3 471.4,17.9 472.3,17.6 473.1,17.2 474,16.9 474.9,16.7 475.7,16.4 476.6,16.2 477.5,16 478.3,15.8 479.2,15.5 480.1,15.3 480.9,15.1 481.8,14.9 482.7,14.7 483.5,14.5 484.4,14.3 485.3,14.2 486.1,14.2 487,14.3 487.9,14.5 488.7,14.8 489.6,15.2 490.5,15.7 491.3,16.4 492.2,17.2 493.1,18 493.9,18.9 494.8,19.8 495.7,20.7 496.5,21.5 497.4,22.3 498.3,23 499.2,23.6 500,24.1 500.9,24.6 501.8,24.9 502.6,25.2 503.5,25.4 504.4,25.6 505.2,25.7 506.1,25.8 507,25.9 507.8,25.9 508.7,25.9 509.6,26 510.4,26 511.3,26 512.2,26 513,26 513.9,26 514.8,26 515.6,26 516.5,26 517.4,26 518.2,26 519.1,26 520,26 520.8,26 521.7,26" fill="none" stroke="#F0A0A0" stroke-width="0.5" stroke-linejoin="round" stroke-linecap="round" />
<path d="M385.5,58.4 L385.5,58.2 L386.4,58.2 L387.3,58.2 L388.1,58.2 L389,58.1 L389.9,58.1 L390.7,58.1 L391.6,58 L392.5,58 L393.3,57.9 L394.2,57.9 L395.1,57.8 L395.9,57.8 L396.8,57.7 L397.7,57.6 L398.5,57.6 L399.4,57.5 L400.3,57.4 L401.1,57.3 L402,57.2 L402.9,57.1 L403.7,57.1 L404.6,57 L405.5,56.9 L406.3,56.8 L407.2,56.7 L408.1,56.6 L409,56.5 L409.8,56.4 L410.7,56.3 L411.6,56.3 L412.4,56.2 L413.3,56.1 L414.2,56.1 L415,56 L415.9,55.9 L416.8,55.9 L417.6,55.9 L418.5,55.8 L419.4,55.8 L420.2,55.8 L421.1,55.8 L422,55.8 L422.8,55.8 L423.7,55.8 L424.6,55.9 L425.4,55.9 L426.3,56 L427.2,56 L428,56.1 L428.9,56.1 L429.8,56.2 L430.6,56.3 L431.5,56.4 L432.4,56.4 L433.2,56.5 L434.1,56.6 L435,56.7 L435.8,56.8 L436.7,56.9 L437.6,57 L438.4,57.1 L439.3,57.2 L440.2,57.3 L441,57.3 L441.9,57.4 L442.8,57.5 L443.6,57.6 L444.5,57.6 L445.4,57.7 L446.2,57.8 L447.1,57.8 L448,57.9 L448.8,57.9 L449.7,58 L450.6,58 L451.4,58.1 L452.3,58.1 L453.2,58.1 L454.1,58.2 L454.9,58.2 L455.8,58.2 L456.7,58.2 L456.7,58.4 Z" fill="url(#gGr)" stroke="none"/>
<path d="M468.8,58.4 L468.8,58.2 L469.7,57.9 L470.5,57.3 L471.4,56.4 L472.3,54.9 L473.1,52.9 L474,50.5 L474.9,47.9 L475.7,45.5 L476.6,43.9 L477.5,43.4 L478.3,44.1 L479.2,45.9 L480.1,48.3 L480.9,50.9 L481.8,53.3 L482.7,55.2 L483.5,56.6 L484.4,57.4 L485.3,57.9 L486.1,58.2 L486.1,58.4 Z" fill="url(#gOr)" stroke="none"/>
<polyline points="467.9,58.3 468.8,58.2 469.7,57.9 470.5,57.3 471.4,56.4 472.3,54.9 473.1,52.9 474,50.5 474.9,47.9 475.7,45.5 476.6,43.9 477.5,43.4 478.3,44.1 479.2,45.9 480.1,48.3 480.9,50.9 481.8,53.3 482.7,55.2 483.5,56.6 484.4,57.4 485.3,57.9 486.1,58.2" fill="none" stroke="#E88A6A" stroke-width="0.5" stroke-linejoin="round" stroke-linecap="round" />
<path d="M483.5,58.4 L483.5,58.2 L484.4,58 L485.3,57.6 L486.1,57 L487,56.2 L487.9,55.5 L488.7,54.9 L489.6,54.8 L490.5,55.1 L491.3,55.8 L492.2,56.6 L493.1,57.3 L493.9,57.8 L494.8,58.1 L494.8,58.4 Z" fill="url(#gBl)" stroke="none"/>
<polyline points="483.5,58.2 484.4,58 485.3,57.6 486.1,57 487,56.2 487.9,55.5 488.7,54.9 489.6,54.8 490.5,55.1 491.3,55.8 492.2,56.6 493.1,57.3 493.9,57.8 494.8,58.1 495.7,58.3" fill="none" stroke="#3D8FE0" stroke-width="0.5" stroke-linejoin="round" stroke-linecap="round" />
<line x1="383.3" y1="58.4" x2="522.2" y2="58.4" stroke="#555" stroke-width="0.7" />
<polyline points="383.8,58.3 384.7,58.3 385.5,58.2 386.4,58.2 387.3,58.2 388.1,58.2 389,58.1 389.9,58.1 390.7,58.1 391.6,58 392.5,58 393.3,57.9 394.2,57.9 395.1,57.8 395.9,57.8 396.8,57.7 397.7,57.6 398.5,57.6 399.4,57.5 400.3,57.4 401.1,57.3 402,57.2 402.9,57.1 403.7,57.1 404.6,57 405.5,56.9 406.3,56.8 407.2,56.7 408.1,56.6 409,56.5 409.8,56.4 410.7,56.3 411.6,56.3 412.4,56.2 413.3,56.1 414.2,56.1 415,56 415.9,55.9 416.8,55.9 417.6,55.9 418.5,55.8 419.4,55.8 420.2,55.8 421.1,55.8 422,55.8 422.8,55.8 423.7,55.8 424.6,55.9 425.4,55.9 426.3,56 427.2,56 428,56.1 428.9,56.1 429.8,56.2 430.6,56.3 431.5,56.4 432.4,56.4 433.2,56.5 434.1,56.6 435,56.7 435.8,56.8 436.7,56.9 437.6,57 438.4,57.1 439.3,57.2 440.2,57.3 441,57.3 441.9,57.4 442.8,57.5 443.6,57.6 444.5,57.6 445.4,57.7 446.2,57.8 447.1,57.8 448,57.9 448.8,57.9 449.7,58 450.6,58 451.4,58.1 452.3,58.1 453.2,58.1 454.1,58.2 454.9,58.2 455.8,58.2 456.7,58.2 457.5,58.3 458.4,58.3 459.3,58.3 460.1,58.3 461,58.3 461.9,58.3 462.7,58.3 463.6,58.4 464.5,58.4 465.3,58.4 466.2,58.4 467.1,58.3 467.9,58.3 468.8,58.1 469.7,57.8 470.5,57.3 471.4,56.4 472.3,54.9 473.1,52.9 474,50.5 474.9,47.9 475.7,45.5 476.6,43.9 477.5,43.4 478.3,44.1 479.2,45.9 480.1,48.3 480.9,50.9 481.8,53.3 482.7,55.1 483.5,56.4 484.4,57 485.3,57.1 486.1,56.8 487,56.1 487.9,55.4 488.7,54.9 489.6,54.8 490.5,55.1 491.3,55.8 492.2,56.6 493.1,57.3 493.9,57.8 494.8,58.1 495.7,58.3 496.5,58.4 497.4,58.4 498.3,58.4 499.2,58.4 500,58.4 500.9,58.4 501.8,58.4 502.6,58.4 503.5,58.4 504.4,58.4 505.2,58.4 506.1,58.4 507,58.4 507.8,58.4 508.7,58.4 509.6,58.4 510.4,58.4 511.3,58.4 512.2,58.4 513,58.4 513.9,58.4 514.8,58.4 515.6,58.4 516.5,58.4 517.4,58.4 518.2,58.4 519.1,58.4 520,58.4 520.8,58.4 521.7,58.4" fill="none" stroke="#E8706E" stroke-width="0.8" stroke-linejoin="round" stroke-linecap="round" />
<polyline points="383.8,57.9 384.7,57.9 385.5,57.8 386.4,57.8 387.3,57.8 388.1,57.8 389,57.7 389.9,57.7 390.7,57.7 391.6,57.6 392.5,57.6 393.3,57.5 394.2,57.5 395.1,57.4 395.9,57.4 396.8,57.3 397.7,57.2 398.5,57.2 399.4,57.1 400.3,57 401.1,56.9 402,56.9 402.9,56.8 403.7,56.7 404.6,56.6 405.5,56.5 406.3,56.4 407.2,56.3 408.1,56.3 409,56.2 409.8,56.1 410.7,56 411.6,55.9 412.4,55.9 413.3,55.8 414.2,55.7 415,55.7 415.9,55.6 416.8,55.6 417.6,55.5 418.5,55.5 419.4,55.5 420.2,55.5 421.1,55.5 422,55.5 422.8,55.5 423.7,55.5 424.6,55.5 425.4,55.6 426.3,55.6 427.2,55.7 428,55.7 428.9,55.8 429.8,55.9 430.6,55.9 431.5,56 432.4,56.1 433.2,56.2 434.1,56.3 435,56.4 435.8,56.5 436.7,56.5 437.6,56.6 438.4,56.7 439.3,56.8 440.2,56.9 441,57 441.9,57 442.8,57.1 443.6,57.2 444.5,57.3 445.4,57.3 446.2,57.4 447.1,57.4 448,57.5 448.8,57.5 449.7,57.6 450.6,57.6 451.4,57.7 452.3,57.7 453.2,57.7 454.1,57.8 454.9,57.8 455.8,57.8 456.7,57.9 457.5,57.9 458.4,57.9 459.3,57.9 460.1,57.9 461,57.9 461.9,57.9 462.7,57.9 463.6,58 464.5,58 465.3,58 466.2,58 467.1,57.9 467.9,57.9 468.8,57.7 469.7,57.5 470.5,56.9 471.4,56 472.3,54.6 473.1,52.7 474,50.3 474.9,47.8 475.7,45.5 476.6,44 477.5,43.5 478.3,44.1 479.2,45.9 480.1,48.2 480.9,50.7 481.8,53 482.7,54.8 483.5,56 484.4,56.6 485.3,56.7 486.1,56.4 487,55.8 487.9,55.1 488.7,54.6 489.6,54.5 490.5,54.8 491.3,55.5 492.2,56.2 493.1,56.9 493.9,57.4 494.8,57.7 495.7,57.9 496.5,58 497.4,58 498.3,58 499.2,58 500,58 500.9,58 501.8,58 502.6,58 503.5,58 504.4,58 505.2,58 506.1,58 507,58 507.8,58 508.7,58 509.6,58 510.4,58 511.3,58 512.2,58 513,58 513.9,58 514.8,58 515.6,58 516.5,58 517.4,58 518.2,58 519.1,58 520,58 520.8,58 521.7,58" fill="none" stroke="#F0A0A0" stroke-width="0.5" stroke-linejoin="round" stroke-linecap="round" />
<path d="M383.8,89.7 L383.8,89.4 L384.7,89.4 L385.5,89.3 L386.4,89.3 L387.3,89.2 L388.1,89.2 L389,89.1 L389.9,89 L390.7,88.9 L391.6,88.8 L392.5,88.7 L393.3,88.6 L394.2,88.5 L395.1,88.3 L395.9,88.2 L396.8,88 L397.7,87.8 L398.5,87.7 L399.4,87.5 L400.3,87.3 L401.1,87.1 L402,86.8 L402.9,86.6 L403.7,86.4 L404.6,86.1 L405.5,85.9 L406.3,85.6 L407.2,85.3 L408.1,85.1 L409,84.8 L409.8,84.5 L410.7,84.2 L411.6,84 L412.4,83.7 L413.3,83.4 L414.2,83.2 L415,82.9 L415.9,82.7 L416.8,82.5 L417.6,82.3 L418.5,82.1 L419.4,81.9 L420.2,81.7 L421.1,81.6 L422,81.5 L422.8,81.4 L423.7,81.4 L424.6,81.3 L425.4,81.3 L426.3,81.3 L427.2,81.3 L428,81.4 L428.9,81.5 L429.8,81.6 L430.6,81.7 L431.5,81.9 L432.4,82 L433.2,82.2 L434.1,82.4 L435,82.6 L435.8,82.9 L436.7,83.1 L437.6,83.4 L438.4,83.6 L439.3,83.9 L440.2,84.2 L441,84.5 L441.9,84.7 L442.8,85 L443.6,85.3 L444.5,85.6 L445.4,85.8 L446.2,86.1 L447.1,86.3 L448,86.6 L448.8,86.8 L449.7,87 L450.6,87.2 L451.4,87.4 L452.3,87.6 L453.2,87.8 L454.1,88 L454.9,88.2 L455.8,88.3 L456.7,88.4 L457.5,88.6 L458.4,88.7 L459.3,88.8 L460.1,88.9 L461,89 L461.9,89.1 L462.7,89.1 L463.6,89.2 L464.5,89.3 L465.3,89.3 L466.2,89.4 L467.1,89.4 L467.9,89.5 L468.8,89.5 L469.7,89.5 L470.5,89.5 L470.5,89.7 Z" fill="url(#gGr)" stroke="none"/>
<path d="M444.5,89.7 L444.5,89.5 L445.4,89.5 L446.2,89.4 L447.1,89.4 L448,89.3 L448.8,89.2 L449.7,89.1 L450.6,89 L451.4,88.8 L452.3,88.7 L453.2,88.5 L454.1,88.2 L454.9,88 L455.8,87.7 L456.7,87.3 L457.5,87 L458.4,86.5 L459.3,86.1 L460.1,85.6 L461,85 L461.9,84.5 L462.7,83.8 L463.6,83.2 L464.5,82.5 L465.3,81.7 L466.2,81 L467.1,80.2 L467.9,79.5 L468.8,78.7 L469.7,77.9 L470.5,77.2 L471.4,76.4 L472.3,75.8 L473.1,75.1 L474,74.5 L474.9,74 L475.7,73.6 L476.6,73.2 L477.5,73 L478.3,72.8 L479.2,72.7 L480.1,72.7 L480.9,72.8 L481.8,73 L482.7,73.3 L483.5,73.7 L484.4,74.2 L485.3,74.7 L486.1,75.3 L487,76 L487.9,76.7 L488.7,77.4 L489.6,78.1 L490.5,78.9 L491.3,79.7 L492.2,80.5 L493.1,81.2 L493.9,82 L494.8,82.7 L495.7,83.4 L496.5,84 L497.4,84.6 L498.3,85.2 L499.2,85.8 L500,86.2 L500.9,86.7 L501.8,87.1 L502.6,87.4 L503.5,87.8 L504.4,88.1 L505.2,88.3 L506.1,88.5 L507,88.7 L507.8,88.9 L508.7,89 L509.6,89.1 L510.4,89.2 L511.3,89.3 L512.2,89.4 L513,89.5 L513.9,89.5 L514.8,89.5 L514.8,89.7 Z" fill="url(#gOr)" stroke="none"/>
<polyline points="442.8,89.6 443.6,89.6 444.5,89.5 445.4,89.5 446.2,89.4 447.1,89.4 448,89.3 448.8,89.2 449.7,89.1 450.6,89 451.4,88.8 452.3,88.7 453.2,88.5 454.1,88.2 454.9,88 455.8,87.7 456.7,87.3 457.5,87 458.4,86.5 459.3,86.1 460.1,85.6 461,85 461.9,84.5 462.7,83.8 463.6,83.2 464.5,82.5 465.3,81.7 466.2,81 467.1,80.2 467.9,79.5 468.8,78.7 469.7,77.9 470.5,77.2 471.4,76.4 472.3,75.8 473.1,75.1 474,74.5 474.9,74 475.7,73.6 476.6,73.2 477.5,73 478.3,72.8 479.2,72.7 480.1,72.7 480.9,72.8 481.8,73 482.7,73.3 483.5,73.7 484.4,74.2 485.3,74.7 486.1,75.3 487,76 487.9,76.7 488.7,77.4 489.6,78.1 490.5,78.9 491.3,79.7 492.2,80.5 493.1,81.2 493.9,82 494.8,82.7 495.7,83.4 496.5,84 497.4,84.6 498.3,85.2 499.2,85.8 500,86.2 500.9,86.7 501.8,87.1 502.6,87.4 503.5,87.8 504.4,88.1 505.2,88.3 506.1,88.5 507,88.7 507.8,88.9 508.7,89 509.6,89.1 510.4,89.2 511.3,89.3 512.2,89.4 513,89.5 513.9,89.5 514.8,89.5 515.6,89.6" fill="none" stroke="#E88A6A" stroke-width="0.5" stroke-linejoin="round" stroke-linecap="round" />
<path d="M481.8,89.7 L481.8,89.5 L482.7,89.3 L483.5,89.1 L484.4,88.8 L485.3,88.4 L486.1,88 L487,87.6 L487.9,87.3 L488.7,87.1 L489.6,87.1 L490.5,87.2 L491.3,87.5 L492.2,87.8 L493.1,88.2 L493.9,88.6 L494.8,88.9 L495.7,89.2 L496.5,89.4 L497.4,89.5 L497.4,89.7 Z" fill="url(#gBl)" stroke="none"/>
<polyline points="480.9,89.6 481.8,89.5 482.7,89.3 483.5,89.1 484.4,88.8 485.3,88.4 486.1,88 487,87.6 487.9,87.3 488.7,87.1 489.6,87.1 490.5,87.2 491.3,87.5 492.2,87.8 493.1,88.2 493.9,88.6 494.8,88.9 495.7,89.2 496.5,89.4 497.4,89.5 498.3,89.6" fill="none" stroke="#3D8FE0" stroke-width="0.5" stroke-linejoin="round" stroke-linecap="round" />
<line x1="383.3" y1="89.7" x2="522.2" y2="89.7" stroke="#555" stroke-width="0.7" />
<polyline points="383.8,89.4 384.7,89.4 385.5,89.3 386.4,89.3 387.3,89.2 388.1,89.2 389,89.1 389.9,89 390.7,88.9 391.6,88.8 392.5,88.7 393.3,88.6 394.2,88.5 395.1,88.3 395.9,88.2 396.8,88 397.7,87.8 398.5,87.7 399.4,87.5 400.3,87.3 401.1,87.1 402,86.8 402.9,86.6 403.7,86.4 404.6,86.1 405.5,85.9 406.3,85.6 407.2,85.3 408.1,85.1 409,84.8 409.8,84.5 410.7,84.2 411.6,84 412.4,83.7 413.3,83.4 414.2,83.2 415,82.9 415.9,82.7 416.8,82.5 417.6,82.3 418.5,82.1 419.4,81.9 420.2,81.7 421.1,81.6 422,81.5 422.8,81.4 423.7,81.4 424.6,81.3 425.4,81.3 426.3,81.3 427.2,81.3 428,81.4 428.9,81.5 429.8,81.6 430.6,81.7 431.5,81.9 432.4,82 433.2,82.2 434.1,82.4 435,82.6 435.8,82.9 436.7,83.1 437.6,83.4 438.4,83.6 439.3,83.9 440.2,84.1 441,84.4 441.9,84.7 442.8,84.9 443.6,85.2 444.5,85.4 445.4,85.6 446.2,85.8 447.1,86 448,86.2 448.8,86.3 449.7,86.4 450.6,86.5 451.4,86.6 452.3,86.6 453.2,86.6 454.1,86.5 454.9,86.4 455.8,86.3 456.7,86.1 457.5,85.8 458.4,85.5 459.3,85.2 460.1,84.8 461,84.3 461.9,83.8 462.7,83.3 463.6,82.7 464.5,82 465.3,81.4 466.2,80.7 467.1,79.9 467.9,79.2 468.8,78.5 469.7,77.7 470.5,77 471.4,76.3 472.3,75.6 473.1,75 474,74.4 474.9,73.9 475.7,73.5 476.6,73.1 477.5,72.9 478.3,72.6 479.2,72.5 480.1,72.4 480.9,72.4 481.8,72.4 482.7,72.4 483.5,72.3 484.4,72.3 485.3,72.3 486.1,72.2 487,72.3 487.9,72.5 488.7,72.8 489.6,73.4 490.5,74.3 491.3,75.3 492.2,76.5 493.1,77.7 493.9,79 494.8,80.3 495.7,81.4 496.5,82.5 497.4,83.5 498.3,84.4 499.2,85.1 500,85.8 500.9,86.4 501.8,86.9 502.6,87.3 503.5,87.7 504.4,88 505.2,88.3 506.1,88.5 507,88.7 507.8,88.9 508.7,89 509.6,89.1 510.4,89.2 511.3,89.3 512.2,89.4 513,89.5 513.9,89.5 514.8,89.5 515.6,89.6 516.5,89.6 517.4,89.6 518.2,89.6 519.1,89.7 520,89.7 520.8,89.7 521.7,89.7" fill="none" stroke="#E8706E" stroke-width="0.8" stroke-linejoin="round" stroke-linecap="round" />
<polyline points="383.8,89 384.7,89 385.5,88.9 386.4,88.9 387.3,88.8 388.1,88.8 389,88.7 389.9,88.6 390.7,88.5 391.6,88.4 392.5,88.3 393.3,88.2 394.2,88.1 395.1,88 395.9,87.8 396.8,87.7 397.7,87.5 398.5,87.3 399.4,87.1 400.3,86.9 401.1,86.7 402,86.5 402.9,86.3 403.7,86.1 404.6,85.8 405.5,85.6 406.3,85.3 407.2,85.1 408.1,84.8 409,84.5 409.8,84.3 410.7,84 411.6,83.7 412.4,83.5 413.3,83.2 414.2,83 415,82.7 415.9,82.5 416.8,82.3 417.6,82.1 418.5,81.9 419.4,81.7 420.2,81.6 421.1,81.5 422,81.3 422.8,81.3 423.7,81.2 424.6,81.2 425.4,81.2 426.3,81.2 427.2,81.2 428,81.3 428.9,81.3 429.8,81.4 430.6,81.6 431.5,81.7 432.4,81.9 433.2,82 434.1,82.2 435,82.5 435.8,82.7 436.7,82.9 437.6,83.1 438.4,83.4 439.3,83.6 440.2,83.9 441,84.2 441.9,84.4 442.8,84.7 443.6,84.9 444.5,85.1 445.4,85.3 446.2,85.5 447.1,85.7 448,85.9 448.8,86 449.7,86.1 450.6,86.2 451.4,86.3 452.3,86.3 453.2,86.3 454.1,86.2 454.9,86.1 455.8,86 456.7,85.8 457.5,85.5 458.4,85.3 459.3,84.9 460.1,84.5 461,84.1 461.9,83.6 462.7,83.1 463.6,82.5 464.5,81.9 465.3,81.2 466.2,80.5 467.1,79.8 467.9,79.1 468.8,78.4 469.7,77.7 470.5,77 471.4,76.3 472.3,75.7 473.1,75.1 474,74.5 474.9,74 475.7,73.6 476.6,73.2 477.5,73 478.3,72.8 479.2,72.6 480.1,72.5 480.9,72.5 481.8,72.5 482.7,72.5 483.5,72.5 484.4,72.4 485.3,72.4 486.1,72.4 487,72.4 487.9,72.6 488.7,73 489.6,73.5 490.5,74.3 491.3,75.3 492.2,76.4 493.1,77.7 493.9,78.9 494.8,80.1 495.7,81.3 496.5,82.3 497.4,83.3 498.3,84.1 499.2,84.9 500,85.5 500.9,86.1 501.8,86.5 502.6,87 503.5,87.3 504.4,87.6 505.2,87.9 506.1,88.1 507,88.3 507.8,88.5 508.7,88.6 509.6,88.8 510.4,88.9 511.3,88.9 512.2,89 513,89.1 513.9,89.1 514.8,89.2 515.6,89.2 516.5,89.2 517.4,89.2 518.2,89.2 519.1,89.3 520,89.3 520.8,89.3 521.7,89.3" fill="none" stroke="#F0A0A0" stroke-width="0.5" stroke-linejoin="round" stroke-linecap="round" />
<path d="M383.8,116.2 L383.8,115.8 L384.7,115.8 L385.5,115.7 L386.4,115.7 L387.3,115.6 L388.1,115.5 L389,115.5 L389.9,115.4 L390.7,115.3 L391.6,115.2 L392.5,115.1 L393.3,115 L394.2,114.8 L395.1,114.7 L395.9,114.5 L396.8,114.4 L397.7,114.2 L398.5,114.1 L399.4,113.9 L400.3,113.7 L401.1,113.5 L402,113.3 L402.9,113.1 L403.7,112.8 L404.6,112.6 L405.5,112.4 L406.3,112.2 L407.2,111.9 L408.1,111.7 L409,111.5 L409.8,111.2 L410.7,111 L411.6,110.8 L412.4,110.5 L413.3,110.3 L414.2,110.1 L415,109.9 L415.9,109.7 L416.8,109.6 L417.6,109.4 L418.5,109.3 L419.4,109.2 L420.2,109 L421.1,109 L422,108.9 L422.8,108.8 L423.7,108.8 L424.6,108.8 L425.4,108.8 L426.3,108.8 L427.2,108.9 L428,109 L428.9,109.1 L429.8,109.2 L430.6,109.3 L431.5,109.4 L432.4,109.6 L433.2,109.8 L434.1,110 L435,110.1 L435.8,110.4 L436.7,110.6 L437.6,110.8 L438.4,111 L439.3,111.3 L440.2,111.5 L441,111.7 L441.9,112 L442.8,112.2 L443.6,112.4 L444.5,112.7 L445.4,112.9 L446.2,113.1 L447.1,113.3 L448,113.5 L448.8,113.7 L449.7,113.9 L450.6,114.1 L451.4,114.3 L452.3,114.4 L453.2,114.6 L454.1,114.7 L454.9,114.8 L455.8,115 L456.7,115.1 L457.5,115.2 L458.4,115.3 L459.3,115.4 L460.1,115.5 L461,115.6 L461.9,115.6 L462.7,115.7 L463.6,115.8 L464.5,115.8 L465.3,115.9 L466.2,115.9 L467.1,115.9 L467.9,116 L468.8,116 L469.7,116 L470.5,116 L470.5,116.2 Z" fill="url(#gGr)" stroke="none"/>
<path d="M443.6,116.2 L443.6,116 L444.5,116 L445.4,115.9 L446.2,115.9 L447.1,115.8 L448,115.7 L448.8,115.6 L449.7,115.4 L450.6,115.3 L451.4,115.1 L452.3,114.8 L453.2,114.6 L454.1,114.3 L454.9,114 L455.8,113.6 L456.7,113.2 L457.5,112.8 L458.4,112.3 L459.3,111.8 L460.1,111.2 L461,110.7 L461.9,110 L462.7,109.4 L463.6,108.7 L464.5,108 L465.3,107.3 L466.2,106.6 L467.1,105.9 L467.9,105.3 L468.8,104.6 L469.7,104 L470.5,103.5 L471.4,103 L472.3,102.6 L473.1,102.2 L474,101.9 L474.9,101.7 L475.7,101.6 L476.6,101.6 L477.5,101.7 L478.3,101.8 L479.2,102.1 L480.1,102.4 L480.9,102.8 L481.8,103.3 L482.7,103.9 L483.5,104.4 L484.4,105.1 L485.3,105.7 L486.1,106.4 L487,107.1 L487.9,107.8 L488.7,108.5 L489.6,109.2 L490.5,109.8 L491.3,110.5 L492.2,111.1 L493.1,111.6 L493.9,112.2 L494.8,112.7 L495.7,113.1 L496.5,113.5 L497.4,113.9 L498.3,114.2 L499.2,114.5 L500,114.8 L500.9,115 L501.8,115.2 L502.6,115.4 L503.5,115.5 L504.4,115.6 L505.2,115.7 L506.1,115.8 L507,115.9 L507.8,116 L508.7,116 L509.6,116 L509.6,116.2 Z" fill="url(#gOr)" stroke="none"/>
<polyline points="441.9,116.1 442.8,116.1 443.6,116 444.5,116 445.4,115.9 446.2,115.9 447.1,115.8 448,115.7 448.8,115.6 449.7,115.4 450.6,115.3 451.4,115.1 452.3,114.8 453.2,114.6 454.1,114.3 454.9,114 455.8,113.6 456.7,113.2 457.5,112.8 458.4,112.3 459.3,111.8 460.1,111.2 461,110.7 461.9,110 462.7,109.4 463.6,108.7 464.5,108 465.3,107.3 466.2,106.6 467.1,105.9 467.9,105.3 468.8,104.6 469.7,104 470.5,103.5 471.4,103 472.3,102.6 473.1,102.2 474,101.9 474.9,101.7 475.7,101.6 476.6,101.6 477.5,101.7 478.3,101.8 479.2,102.1 480.1,102.4 480.9,102.8 481.8,103.3 482.7,103.9 483.5,104.4 484.4,105.1 485.3,105.7 486.1,106.4 487,107.1 487.9,107.8 488.7,108.5 489.6,109.2 490.5,109.8 491.3,110.5 492.2,111.1 493.1,111.6 493.9,112.2 494.8,112.7 495.7,113.1 496.5,113.5 497.4,113.9 498.3,114.2 499.2,114.5 500,114.8 500.9,115 501.8,115.2 502.6,115.4 503.5,115.5 504.4,115.6 505.2,115.7 506.1,115.8 507,115.9 507.8,116 508.7,116 509.6,116 510.4,116.1" fill="none" stroke="#E88A6A" stroke-width="0.5" stroke-linejoin="round" stroke-linecap="round" />
<path d="M482.7,116.2 L482.7,115.9 L483.5,115.6 L484.4,115.1 L485.3,114.4 L486.1,113.5 L487,112.5 L487.9,111.5 L488.7,110.9 L489.6,110.8 L490.5,111.2 L491.3,112 L492.2,112.9 L493.1,113.9 L493.9,114.8 L494.8,115.4 L495.7,115.8 L496.5,116 L496.5,116.2 Z" fill="url(#gBl)" stroke="none"/>
<polyline points="481.8,116.1 482.7,115.9 483.5,115.6 484.4,115.1 485.3,114.4 486.1,113.5 487,112.5 487.9,111.5 488.7,110.9 489.6,110.8 490.5,111.2 491.3,112 492.2,112.9 493.1,113.9 493.9,114.8 494.8,115.4 495.7,115.8 496.5,116" fill="none" stroke="#3D8FE0" stroke-width="0.5" stroke-linejoin="round" stroke-linecap="round" />
<line x1="383.3" y1="116.2" x2="522.2" y2="116.2" stroke="#555" stroke-width="0.7" />
<polyline points="383.8,115.8 384.7,115.8 385.5,115.7 386.4,115.7 387.3,115.6 388.1,115.5 389,115.5 389.9,115.4 390.7,115.3 391.6,115.2 392.5,115.1 393.3,115 394.2,114.8 395.1,114.7 395.9,114.5 396.8,114.4 397.7,114.2 398.5,114.1 399.4,113.9 400.3,113.7 401.1,113.5 402,113.3 402.9,113.1 403.7,112.8 404.6,112.6 405.5,112.4 406.3,112.2 407.2,111.9 408.1,111.7 409,111.5 409.8,111.2 410.7,111 411.6,110.8 412.4,110.5 413.3,110.3 414.2,110.1 415,109.9 415.9,109.7 416.8,109.6 417.6,109.4 418.5,109.3 419.4,109.2 420.2,109 421.1,109 422,108.9 422.8,108.8 423.7,108.8 424.6,108.8 425.4,108.8 426.3,108.8 427.2,108.9 428,109 428.9,109.1 429.8,109.2 430.6,109.3 431.5,109.4 432.4,109.6 433.2,109.8 434.1,109.9 435,110.1 435.8,110.3 436.7,110.5 437.6,110.8 438.4,111 439.3,111.2 440.2,111.4 441,111.6 441.9,111.8 442.8,112.1 443.6,112.2 444.5,112.4 445.4,112.6 446.2,112.7 447.1,112.9 448,113 448.8,113.1 449.7,113.1 450.6,113.1 451.4,113.1 452.3,113.1 453.2,113 454.1,112.8 454.9,112.6 455.8,112.4 456.7,112.1 457.5,111.8 458.4,111.4 459.3,111 460.1,110.5 461,110 461.9,109.5 462.7,108.9 463.6,108.3 464.5,107.6 465.3,107 466.2,106.3 467.1,105.7 467.9,105 468.8,104.4 469.7,103.9 470.5,103.3 471.4,102.9 472.3,102.4 473.1,102.1 474,101.8 474.9,101.6 475.7,101.6 476.6,101.5 477.5,101.6 478.3,101.8 479.2,102 480.1,102.2 480.9,102.5 481.8,102.8 482.7,103 483.5,103 484.4,102.9 485.3,102.6 486.1,102.1 487,101.6 487.9,101.2 488.7,101.2 489.6,101.8 490.5,103 491.3,104.5 492.2,106.4 493.1,108.2 493.9,109.8 494.8,111.1 495.7,112.2 496.5,113 497.4,113.6 498.3,114 499.2,114.4 500,114.7 500.9,115 501.8,115.2 502.6,115.4 503.5,115.5 504.4,115.6 505.2,115.7 506.1,115.8 507,115.9 507.8,116 508.7,116 509.6,116 510.4,116.1 511.3,116.1 512.2,116.1 513,116.1 513.9,116.2 514.8,116.2 515.6,116.2 516.5,116.2 517.4,116.2 518.2,116.2 519.1,116.2 520,116.2 520.8,116.2 521.7,116.2" fill="none" stroke="#E8706E" stroke-width="0.8" stroke-linejoin="round" stroke-linecap="round" />
<polyline points="383.8,115.5 384.7,115.4 385.5,115.4 386.4,115.3 387.3,115.2 388.1,115.2 389,115.1 389.9,115 390.7,114.9 391.6,114.8 392.5,114.7 393.3,114.6 394.2,114.5 395.1,114.3 395.9,114.2 396.8,114 397.7,113.9 398.5,113.7 399.4,113.5 400.3,113.4 401.1,113.2 402,113 402.9,112.8 403.7,112.5 404.6,112.3 405.5,112.1 406.3,111.9 407.2,111.7 408.1,111.4 409,111.2 409.8,111 410.7,110.7 411.6,110.5 412.4,110.3 413.3,110.1 414.2,109.9 415,109.7 415.9,109.5 416.8,109.4 417.6,109.2 418.5,109.1 419.4,109 420.2,108.9 421.1,108.8 422,108.7 422.8,108.7 423.7,108.6 424.6,108.6 425.4,108.6 426.3,108.7 427.2,108.7 428,108.8 428.9,108.9 429.8,109 430.6,109.1 431.5,109.2 432.4,109.4 433.2,109.6 434.1,109.7 435,109.9 435.8,110.1 436.7,110.3 437.6,110.5 438.4,110.7 439.3,111 440.2,111.2 441,111.4 441.9,111.6 442.8,111.8 443.6,112 444.5,112.1 445.4,112.3 446.2,112.4 447.1,112.6 448,112.7 448.8,112.8 449.7,112.8 450.6,112.8 451.4,112.8 452.3,112.8 453.2,112.7 454.1,112.5 454.9,112.3 455.8,112.1 456.7,111.9 457.5,111.5 458.4,111.2 459.3,110.8 460.1,110.3 461,109.8 461.9,109.3 462.7,108.7 463.6,108.1 464.5,107.5 465.3,106.9 466.2,106.2 467.1,105.6 467.9,105 468.8,104.4 469.7,103.8 470.5,103.3 471.4,102.9 472.3,102.5 473.1,102.1 474,101.9 474.9,101.7 475.7,101.6 476.6,101.6 477.5,101.6 478.3,101.8 479.2,102 480.1,102.2 480.9,102.5 481.8,102.8 482.7,103 483.5,103 484.4,102.9 485.3,102.6 486.1,102.1 487,101.6 487.9,101.3 488.7,101.3 489.6,101.8 490.5,102.9 491.3,104.5 492.2,106.3 493.1,108 493.9,109.6 494.8,110.9 495.7,111.9 496.5,112.7 497.4,113.3 498.3,113.7 499.2,114.1 500,114.4 500.9,114.6 501.8,114.8 502.6,115 503.5,115.1 504.4,115.3 505.2,115.4 506.1,115.4 507,115.5 507.8,115.6 508.7,115.6 509.6,115.7 510.4,115.7 511.3,115.7 512.2,115.7 513,115.7 513.9,115.8 514.8,115.8 515.6,115.8 516.5,115.8 517.4,115.8 518.2,115.8 519.1,115.8 520,115.8 520.8,115.8 521.7,115.8" fill="none" stroke="#F0A0A0" stroke-width="0.5" stroke-linejoin="round" stroke-linecap="round" />
<line x1="477.4" y1="18" x2="477.4" y2="113" stroke="#333" stroke-width="0.9" stroke-dasharray="3,1.8"/>
<line x1="489.4" y1="18" x2="489.4" y2="113" stroke="#333" stroke-width="0.9" stroke-dasharray="3,1.8"/>
<rect x="383.3" y="29.5" width="138.9" height="3.6" fill="#DCDCDC" />
<line x1="383.3" y1="31.3" x2="522.2" y2="31.3" stroke="#A8A8A8" stroke-width="0.6" />
<line x1="387" y1="30.8" x2="387" y2="31.9" stroke="#555" stroke-width="0.9" />
<line x1="400.1" y1="30.8" x2="400.1" y2="31.9" stroke="#555" stroke-width="0.9" />
<line x1="413.3" y1="30.8" x2="413.3" y2="31.9" stroke="#555" stroke-width="0.9" />
<line x1="426.4" y1="30.8" x2="426.4" y2="31.9" stroke="#555" stroke-width="0.9" />
<line x1="439.6" y1="30.8" x2="439.6" y2="31.9" stroke="#555" stroke-width="0.9" />
<line x1="452.8" y1="30.8" x2="452.8" y2="31.9" stroke="#555" stroke-width="0.9" />
<line x1="465.9" y1="30.8" x2="465.9" y2="31.9" stroke="#555" stroke-width="0.9" />
<line x1="479.1" y1="30.8" x2="479.1" y2="31.9" stroke="#555" stroke-width="0.9" />
<line x1="492.2" y1="30.8" x2="492.2" y2="31.9" stroke="#555" stroke-width="0.9" />
<line x1="505.4" y1="30.8" x2="505.4" y2="31.9" stroke="#555" stroke-width="0.9" />
<line x1="518.5" y1="30.8" x2="518.5" y2="31.9" stroke="#555" stroke-width="0.9" />
<rect x="383.3" y="59.9" width="138.9" height="3.6" fill="#DCDCDC" />
<line x1="383.3" y1="61.7" x2="522.2" y2="61.7" stroke="#A8A8A8" stroke-width="0.6" />
<line x1="387" y1="61.2" x2="387" y2="62.3" stroke="#555" stroke-width="0.9" />
<line x1="400.1" y1="61.2" x2="400.1" y2="62.3" stroke="#555" stroke-width="0.9" />
<line x1="413.3" y1="61.2" x2="413.3" y2="62.3" stroke="#555" stroke-width="0.9" />
<line x1="426.4" y1="61.2" x2="426.4" y2="62.3" stroke="#555" stroke-width="0.9" />
<line x1="439.6" y1="61.2" x2="439.6" y2="62.3" stroke="#555" stroke-width="0.9" />
<line x1="452.8" y1="61.2" x2="452.8" y2="62.3" stroke="#555" stroke-width="0.9" />
<line x1="465.9" y1="61.2" x2="465.9" y2="62.3" stroke="#555" stroke-width="0.9" />
<line x1="479.1" y1="61.2" x2="479.1" y2="62.3" stroke="#555" stroke-width="0.9" />
<line x1="492.2" y1="61.2" x2="492.2" y2="62.3" stroke="#555" stroke-width="0.9" />
<line x1="505.4" y1="61.2" x2="505.4" y2="62.3" stroke="#555" stroke-width="0.9" />
<line x1="518.5" y1="61.2" x2="518.5" y2="62.3" stroke="#555" stroke-width="0.9" />
<rect x="383.3" y="89.6" width="138.9" height="3.6" fill="#DCDCDC" />
<line x1="383.3" y1="91.4" x2="522.2" y2="91.4" stroke="#A8A8A8" stroke-width="0.6" />
<line x1="387" y1="90.9" x2="387" y2="92" stroke="#555" stroke-width="0.9" />
<line x1="400.1" y1="90.9" x2="400.1" y2="92" stroke="#555" stroke-width="0.9" />
<line x1="413.3" y1="90.9" x2="413.3" y2="92" stroke="#555" stroke-width="0.9" />
<line x1="426.4" y1="90.9" x2="426.4" y2="92" stroke="#555" stroke-width="0.9" />
<line x1="439.6" y1="90.9" x2="439.6" y2="92" stroke="#555" stroke-width="0.9" />
<line x1="452.8" y1="90.9" x2="452.8" y2="92" stroke="#555" stroke-width="0.9" />
<line x1="465.9" y1="90.9" x2="465.9" y2="92" stroke="#555" stroke-width="0.9" />
<line x1="479.1" y1="90.9" x2="479.1" y2="92" stroke="#555" stroke-width="0.9" />
<line x1="492.2" y1="90.9" x2="492.2" y2="92" stroke="#555" stroke-width="0.9" />
<line x1="505.4" y1="90.9" x2="505.4" y2="92" stroke="#555" stroke-width="0.9" />
<line x1="518.5" y1="90.9" x2="518.5" y2="92" stroke="#555" stroke-width="0.9" />
<rect x="383.3" y="1.5" width="138.9" height="119.1" fill="none" stroke="#555" stroke-width="1" />
<line x1="387" y1="120.6" x2="387" y2="122.2" stroke="#555" stroke-width="0.8" />
<line x1="400.1" y1="120.6" x2="400.1" y2="122.2" stroke="#555" stroke-width="0.8" />
<line x1="413.3" y1="120.6" x2="413.3" y2="122.2" stroke="#555" stroke-width="0.8" />
<line x1="426.4" y1="120.6" x2="426.4" y2="122.2" stroke="#555" stroke-width="0.8" />
<line x1="439.6" y1="120.6" x2="439.6" y2="122.2" stroke="#555" stroke-width="0.8" />
<line x1="452.8" y1="120.6" x2="452.8" y2="122.2" stroke="#555" stroke-width="0.8" />
<line x1="465.9" y1="120.6" x2="465.9" y2="122.2" stroke="#555" stroke-width="0.8" />
<line x1="479.1" y1="120.6" x2="479.1" y2="122.2" stroke="#555" stroke-width="0.8" />
<line x1="492.2" y1="120.6" x2="492.2" y2="122.2" stroke="#555" stroke-width="0.8" />
<line x1="505.4" y1="120.6" x2="505.4" y2="122.2" stroke="#555" stroke-width="0.8" />
<line x1="518.5" y1="120.6" x2="518.5" y2="122.2" stroke="#555" stroke-width="0.8" />
<text x="387" y="131.1" font-size="7.4" text-anchor="middle">948</text>
<text x="413.3" y="131.1" font-size="7.4" text-anchor="middle">944</text>
<text x="439.6" y="131.1" font-size="7.4" text-anchor="middle">940</text>
<text x="465.9" y="131.1" font-size="7.4" text-anchor="middle">936</text>
<text x="492.2" y="131.1" font-size="7.4" text-anchor="middle">932</text>
<text x="518.5" y="131.1" font-size="7.4" text-anchor="middle">928</text>
<text x="452.8" y="141.4" font-size="8.2" text-anchor="middle">Binding Energy (eV)</text>
<text x="0" y="0" font-size="8.3" text-anchor="middle" fill="#222" transform="translate(375.5 56.3) rotate(-90)">Intensity (arb. units)</text>
<text x="385" y="11.6" font-size="8.2">CuNi-NP</text>
<text x="385" y="42.4" font-size="8.2">Cu-PC</text>
<text x="385" y="71" font-size="8.2">Cu-SAC</text>
<text x="385" y="100.1" font-size="8.2">CuNi-DAC</text>
<text x="432.5" y="17.2" font-size="6.6" text-anchor="middle">Sat.</text>
<text x="490.6" y="11.1" font-size="8.6" fill="#222">Cu 2<tspan font-style="italic">p</tspan><tspan font-size="5.8" dy="1.8">3/2</tspan></text>
<text x="500.7" y="20.1" font-size="8.0" fill="#4A9BE8">Cu<tspan font-size="5.2" dy="-2.9">1+/0</tspan></text>
<text x="497.5" y="71.5" font-size="8.0" fill="#4A9BE8">Cu<tspan font-size="5.2" dy="-2.9">1+/0</tspan></text>
<text x="451.5" y="46.3" font-size="8.0" fill="#F09A78">Cu<tspan font-size="5.2" dy="-2.9">2+</tspan></text>
<text x="451" y="74" font-size="8.0" fill="#F09A78">Cu<tspan font-size="5.2" dy="-2.9">2+</tspan></text>
<text x="451" y="104.3" font-size="8.0" fill="#F09A78">Cu<tspan font-size="5.2" dy="-2.9">2+</tspan></text>
<line x1="490.1" y1="22.2" x2="500.2" y2="17.4" stroke="#333" stroke-width="0.8" />
<polygon points="500.2,17.4 498.8,19.1 498,17.4" fill="#333"/>
<line x1="475.7" y1="50.8" x2="465.7" y2="47" stroke="#333" stroke-width="0.8" />
<polygon points="465.7,47 467.9,46.8 467.2,48.6" fill="#333"/>
<line x1="476.3" y1="79.2" x2="464.7" y2="75.4" stroke="#333" stroke-width="0.8" />
<polygon points="464.7,75.4 466.9,75.1 466.3,76.9" fill="#333"/>
<line x1="489.7" y1="80.9" x2="501.1" y2="73.9" stroke="#333" stroke-width="0.8" />
<polygon points="501.1,73.9 499.9,75.8 498.9,74.1" fill="#333"/>
<line x1="477.4" y1="105" x2="463.2" y2="102.5" stroke="#333" stroke-width="0.8" />
<polygon points="463.2,102.5 465.3,101.9 465,103.8" fill="#333"/>
<text x="528.9" y="12.1" font-size="13.9" font-weight="bold" fill="#000">d</text>
<polyline points="543.2,22.3 544.1,25.3 544.9,26.3 545.8,25.4 546.7,24.4 547.5,26.3 548.4,26.3 549.3,22.1 550.1,23.8 551,24.8 551.9,24.7 552.7,25.7 553.6,24.9 554.5,25.4 555.3,25.4 556.2,22.5 557,24.6 557.9,25.6 558.8,25.2 559.6,22.1 560.5,21.7 561.4,25.3 562.2,24.6 563.1,20.6 564,25.3 564.8,21.9 565.7,24.3 566.6,19.7 567.4,22.6 568.3,24 569.2,23.1 570,22.2 570.9,20.7 571.8,23.3 572.6,19.5 573.5,22.7 574.4,21.3 575.2,20.6 576.1,19.7 577,23.1 577.8,21.7 578.7,23.2 579.5,22.1 580.4,21.6 581.3,19.2 582.1,18.8 583,22.1 583.9,17.5 584.7,22.2 585.6,21.4 586.5,18 587.3,21.9 588.2,22.2 589.1,21.7 589.9,21.9 590.8,21.4 591.7,18.7 592.5,20.9 593.4,21.8 594.3,19.1 595.1,21.1 596,17.3 596.9,21.7 597.7,17.8 598.6,21 599.5,19.8 600.3,19.1 601.2,19.4 602,21.3 602.9,19.2 603.8,18.5 604.6,21.5 605.5,22 606.4,18.8 607.2,18.8 608.1,21.9 609,21.7 609.8,20.9 610.7,22.3 611.6,18.6 612.4,21.4 613.3,20.9 614.2,22.2 615,21.1 615.9,22.9 616.8,22.1 617.6,22.9 618.5,20.7 619.4,20.2 620.2,22.4 621.1,22.8 622,22.6 622.8,24.3 623.7,24.3 624.5,23 625.4,24.6 626.3,19.4 627.1,22.8 628,24.2 628.9,24 629.7,23.1 630.6,24.3 631.5,24.3 632.3,21.8 633.2,24.1 634.1,23.9 634.9,21.7 635.8,24.5 636.7,20.4 637.5,23 638.4,22.9 639.3,22.2 640.1,19.6 641,19.9 641.9,17.4 642.7,19 643.6,18.4 644.5,16.5 645.3,15.1 646.2,11.6 647,14 647.9,12.3 648.8,12.3 649.6,13.3 650.5,13.5 651.4,12.1 652.2,13.6 653.1,14.9 654,14.6 654.8,17.6 655.7,18.1 656.6,19.8 657.4,20.4 658.3,21.8 659.2,20 660,18.2 660.9,22.2 661.8,18.8 662.6,17 663.5,20.4 664.4,19.4 665.2,20 666.1,20.1 667,19.1 667.8,19.4 668.7,21.9 669.5,23.1 670.4,22.5 671.3,24.3 672.1,21.8 673,25.8 673.9,21.8 674.7,25.8 675.6,24.7 676.5,23.8 677.3,22.3 678.2,22.7 679.1,24.7 679.9,23.6 680.8,24.1" fill="none" stroke="#D6D6D6" stroke-width="0.5" stroke-linejoin="round" stroke-linecap="round" />
<path d="M545.8,26.5 L545.8,26.3 L546.7,26.3 L547.5,26.3 L548.4,26.3 L549.3,26.3 L550.1,26.2 L551,26.2 L551.9,26.2 L552.7,26.1 L553.6,26.1 L554.5,26.1 L555.3,26 L556.2,26 L557,25.9 L557.9,25.9 L558.8,25.8 L559.6,25.8 L560.5,25.7 L561.4,25.6 L562.2,25.6 L563.1,25.5 L564,25.4 L564.8,25.3 L565.7,25.3 L566.6,25.2 L567.4,25.1 L568.3,25 L569.2,24.9 L570,24.8 L570.9,24.7 L571.8,24.6 L572.6,24.4 L573.5,24.3 L574.4,24.2 L575.2,24.1 L576.1,24 L577,23.9 L577.8,23.7 L578.7,23.6 L579.5,23.5 L580.4,23.4 L581.3,23.3 L582.1,23.1 L583,23 L583.9,22.9 L584.7,22.8 L585.6,22.7 L586.5,22.6 L587.3,22.5 L588.2,22.4 L589.1,22.3 L589.9,22.3 L590.8,22.2 L591.7,22.1 L592.5,22.1 L593.4,22 L594.3,22 L595.1,21.9 L596,21.9 L596.9,21.9 L597.7,21.9 L598.6,21.9 L599.5,21.9 L600.3,21.9 L601.2,22 L602,22 L602.9,22 L603.8,22.1 L604.6,22.1 L605.5,22.2 L606.4,22.3 L607.2,22.4 L608.1,22.5 L609,22.5 L609.8,22.6 L610.7,22.7 L611.6,22.8 L612.4,23 L613.3,23.1 L614.2,23.2 L615,23.3 L615.9,23.4 L616.8,23.5 L617.6,23.7 L618.5,23.8 L619.4,23.9 L620.2,24 L621.1,24.1 L622,24.3 L622.8,24.4 L623.7,24.5 L624.5,24.6 L625.4,24.7 L626.3,24.8 L627.1,24.9 L628,25 L628.9,25.1 L629.7,25.2 L630.6,25.3 L631.5,25.4 L632.3,25.4 L633.2,25.5 L634.1,25.6 L634.9,25.7 L635.8,25.7 L636.7,25.8 L637.5,25.8 L638.4,25.9 L639.3,26 L640.1,26 L641,26 L641.9,26.1 L642.7,26.1 L643.6,26.2 L644.5,26.2 L645.3,26.2 L646.2,26.2 L647,26.3 L647.9,26.3 L648.8,26.3 L649.6,26.3 L649.6,26.5 Z" fill="url(#gGr)" stroke="none"/>
<path d="M633.2,26.5 L633.2,26.3 L634.1,26.1 L634.9,25.9 L635.8,25.7 L636.7,25.3 L637.5,24.8 L638.4,24.2 L639.3,23.6 L640.1,22.9 L641,22.2 L641.9,21.5 L642.7,20.9 L643.6,20.5 L644.5,20.3 L645.3,20.3 L646.2,20.6 L647,21 L647.9,21.6 L648.8,22.3 L649.6,23 L650.5,23.7 L651.4,24.4 L652.2,24.9 L653.1,25.4 L654,25.7 L654.8,26 L655.7,26.2 L656.6,26.3 L656.6,26.5 Z" fill="url(#gNb)" stroke="none"/>
<path d="M640.1,26.5 L640.1,26.2 L641,26.1 L641.9,25.8 L642.7,25.4 L643.6,24.8 L644.5,24 L645.3,23 L646.2,21.9 L647,20.7 L647.9,19.4 L648.8,18.2 L649.6,17.2 L650.5,16.6 L651.4,16.3 L652.2,16.5 L653.1,17 L654,17.9 L654.8,19.1 L655.7,20.3 L656.6,21.6 L657.4,22.7 L658.3,23.7 L659.2,24.6 L660,25.2 L660.9,25.7 L661.8,26 L662.6,26.2 L663.5,26.3 L663.5,26.5 Z" fill="url(#gNy)" stroke="none"/>
<path d="M654.8,26.5 L654.8,26.3 L655.7,26.1 L656.6,25.9 L657.4,25.6 L658.3,25.1 L659.2,24.6 L660,24 L660.9,23.3 L661.8,22.6 L662.6,22 L663.5,21.5 L664.4,21.2 L665.2,21.2 L666.1,21.4 L667,21.9 L667.8,22.4 L668.7,23.1 L669.5,23.8 L670.4,24.5 L671.3,25 L672.1,25.5 L673,25.8 L673.9,26.1 L674.7,26.2 L674.7,26.5 Z" fill="url(#gNr)" stroke="none"/>
<polyline points="632.3,26.4 633.2,26.3 634.1,26.1 634.9,25.9 635.8,25.7 636.7,25.3 637.5,24.8 638.4,24.2 639.3,23.6 640.1,22.9 641,22.2 641.9,21.5 642.7,20.9 643.6,20.5 644.5,20.3 645.3,20.3 646.2,20.6 647,21 647.9,21.6 648.8,22.3 649.6,23 650.5,23.7 651.4,24.4 652.2,24.9 653.1,25.4 654,25.7 654.8,26 655.7,26.2 656.6,26.3 657.4,26.4" fill="none" stroke="#5BC2EC" stroke-width="0.9" stroke-linejoin="round" stroke-linecap="round" />
<polyline points="639.3,26.4 640.1,26.2 641,26.1 641.9,25.8 642.7,25.4 643.6,24.8 644.5,24 645.3,23 646.2,21.9 647,20.7 647.9,19.4 648.8,18.2 649.6,17.2 650.5,16.6 651.4,16.3 652.2,16.5 653.1,17 654,17.9 654.8,19.1 655.7,20.3 656.6,21.6 657.4,22.7 658.3,23.7 659.2,24.6 660,25.2 660.9,25.7 661.8,26 662.6,26.2 663.5,26.3" fill="none" stroke="#E6DA6A" stroke-width="0.6" stroke-linejoin="round" stroke-linecap="round" />
<polyline points="654,26.4 654.8,26.3 655.7,26.1 656.6,25.9 657.4,25.6 658.3,25.1 659.2,24.6 660,24 660.9,23.3 661.8,22.6 662.6,22 663.5,21.5 664.4,21.2 665.2,21.2 666.1,21.4 667,21.9 667.8,22.4 668.7,23.1 669.5,23.8 670.4,24.5 671.3,25 672.1,25.5 673,25.8 673.9,26.1 674.7,26.2 675.6,26.4" fill="none" stroke="#EE5A6A" stroke-width="0.8" stroke-linejoin="round" stroke-linecap="round" />
<polyline points="543.2,26.4 544.1,26.4 544.9,26.4 545.8,26.3 546.7,26.3 547.5,26.3 548.4,26.3 549.3,26.3 550.1,26.2 551,26.2 551.9,26.2 552.7,26.1 553.6,26.1 554.5,26.1 555.3,26 556.2,26 557,25.9 557.9,25.9 558.8,25.8 559.6,25.8 560.5,25.7 561.4,25.6 562.2,25.6 563.1,25.5 564,25.4 564.8,25.3 565.7,25.3 566.6,25.2 567.4,25.1 568.3,25 569.2,24.9 570,24.8 570.9,24.7 571.8,24.6 572.6,24.4 573.5,24.3 574.4,24.2 575.2,24.1 576.1,24 577,23.9 577.8,23.7 578.7,23.6 579.5,23.5 580.4,23.4 581.3,23.3 582.1,23.1 583,23 583.9,22.9 584.7,22.8 585.6,22.7 586.5,22.6 587.3,22.5 588.2,22.4 589.1,22.3 589.9,22.3 590.8,22.2 591.7,22.1 592.5,22.1 593.4,22 594.3,22 595.1,21.9 596,21.9 596.9,21.9 597.7,21.9 598.6,21.9 599.5,21.9 600.3,21.9 601.2,22 602,22 602.9,22 603.8,22.1 604.6,22.1 605.5,22.2 606.4,22.3 607.2,22.4 608.1,22.5 609,22.5 609.8,22.6 610.7,22.7 611.6,22.8 612.4,23 613.3,23.1 614.2,23.2 615,23.3 615.9,23.4 616.8,23.5 617.6,23.7 618.5,23.8 619.4,23.9 620.2,24 621.1,24.1 622,24.3 622.8,24.4 623.7,24.5 624.5,24.6 625.4,24.7 626.3,24.8 627.1,24.9 628,25 628.9,25.1 629.7,25.2 630.6,25.2 631.5,25.3 632.3,25.3 633.2,25.3 634.1,25.2 634.9,25.1 635.8,24.9 636.7,24.6 637.5,24.1 638.4,23.6 639.3,22.9 640.1,22.1 641,21.3 641.9,20.3 642.7,19.4 643.6,18.4 644.5,17.5 645.3,16.6 646.2,15.8 647,15 647.9,14.3 648.8,13.9 649.6,13.6 650.5,13.7 651.4,14 652.2,14.7 653.1,15.7 654,16.9 654.8,18.2 655.7,19.5 656.6,20.7 657.4,21.6 658.3,22.3 659.2,22.6 660,22.6 660.9,22.4 661.8,22.1 662.6,21.7 663.5,21.3 664.4,21.1 665.2,21.2 666.1,21.4 667,21.8 667.8,22.4 668.7,23.1 669.5,23.8 670.4,24.4 671.3,25 672.1,25.5 673,25.8 673.9,26.1 674.7,26.2 675.6,26.4 676.5,26.4 677.3,26.5 678.2,26.5 679.1,26.5 679.9,26.5 680.8,26.5" fill="none" stroke="#A9DDF0" stroke-width="0.6" stroke-linejoin="round" stroke-linecap="round" />
<line x1="542.7" y1="26.5" x2="681.3" y2="26.5" stroke="#6b5050" stroke-width="0.7" />
<polyline points="543.2,57.3 544.1,57.6 544.9,56.9 545.8,57 546.7,57.5 547.5,57.2 548.4,57.4 549.3,57.4 550.1,57.2 551,57.3 551.9,57.3 552.7,57.6 553.6,57.6 554.5,57.2 555.3,57.2 556.2,57.6 557,57.2 557.9,57.3 558.8,57 559.6,57.3 560.5,57.3 561.4,57.4 562.2,57.4 563.1,56.9 564,57.4 564.8,56.6 565.7,56.8 566.6,57.1 567.4,57.3 568.3,56.8 569.2,57.2 570,57 570.9,56.8 571.8,56.9 572.6,56.3 573.5,56.2 574.4,56.3 575.2,56.9 576.1,56.7 577,57 577.8,56.3 578.7,56.6 579.5,56.3 580.4,56.3 581.3,56.8 582.1,56.6 583,56.8 583.9,56.5 584.7,56.6 585.6,56.7 586.5,56.3 587.3,56.6 588.2,56.5 589.1,56.6 589.9,56.5 590.8,56.4 591.7,56.4 592.5,56.6 593.4,56.6 594.3,56.4 595.1,56.5 596,55.8 596.9,56.5 597.7,56.5 598.6,56.1 599.5,56.6 600.3,56.3 601.2,56.2 602,56.6 602.9,56.3 603.8,56.6 604.6,56.4 605.5,56.2 606.4,56.6 607.2,56.5 608.1,56.1 609,56.1 609.8,56.5 610.7,56.5 611.6,56.6 612.4,56.7 613.3,55.9 614.2,56.2 615,56.8 615.9,56.5 616.8,56.3 617.6,56.3 618.5,56.7 619.4,56.9 620.2,56.3 621.1,57 622,57 622.8,57 623.7,56.9 624.5,57.1 625.4,56.7 626.3,57 627.1,56.8 628,57.3 628.9,57 629.7,56.7 630.6,56.9 631.5,56.5 632.3,57.2 633.2,56.6 634.1,57.1 634.9,56.7 635.8,56.3 636.7,55.4 637.5,54.1 638.4,52.7 639.3,49.7 640.1,47.2 641,43.8 641.9,40.4 642.7,37.2 643.6,35 644.5,33.9 645.3,33.1 646.2,35.2 647,37.7 647.9,40 648.8,43.5 649.6,47.3 650.5,49.8 651.4,52.3 652.2,53.7 653.1,54.6 654,55.4 654.8,56.2 655.7,56.8 656.6,57.3 657.4,56.9 658.3,57.1 659.2,57.4 660,57.1 660.9,56.6 661.8,57.5 662.6,56.6 663.5,57.1 664.4,57.2 665.2,57.3 666.1,56.7 667,57.4 667.8,57.2 668.7,57.6 669.5,57.7 670.4,57.1 671.3,57.2 672.1,57.1 673,57.5 673.9,57.2 674.7,57.1 675.6,57.6 676.5,57.4 677.3,57.5 678.2,56.4 679.1,57.5 679.9,57.4 680.8,57.7" fill="none" stroke="#D6D6D6" stroke-width="0.5" stroke-linejoin="round" stroke-linecap="round" />
<path d="M555.3,57.8 L555.3,57.6 L556.2,57.6 L557,57.6 L557.9,57.6 L558.8,57.6 L559.6,57.6 L560.5,57.6 L561.4,57.5 L562.2,57.5 L563.1,57.5 L564,57.5 L564.8,57.5 L565.7,57.4 L566.6,57.4 L567.4,57.4 L568.3,57.4 L569.2,57.4 L570,57.3 L570.9,57.3 L571.8,57.3 L572.6,57.2 L573.5,57.2 L574.4,57.2 L575.2,57.2 L576.1,57.1 L577,57.1 L577.8,57.1 L578.7,57 L579.5,57 L580.4,57 L581.3,57 L582.1,56.9 L583,56.9 L583.9,56.9 L584.7,56.9 L585.6,56.8 L586.5,56.8 L587.3,56.8 L588.2,56.8 L589.1,56.7 L589.9,56.7 L590.8,56.7 L591.7,56.7 L592.5,56.7 L593.4,56.7 L594.3,56.6 L595.1,56.6 L596,56.6 L596.9,56.6 L597.7,56.6 L598.6,56.6 L599.5,56.6 L600.3,56.6 L601.2,56.6 L602,56.6 L602.9,56.6 L603.8,56.6 L604.6,56.6 L605.5,56.6 L606.4,56.6 L607.2,56.7 L608.1,56.7 L609,56.7 L609.8,56.7 L610.7,56.7 L611.6,56.8 L612.4,56.8 L613.3,56.8 L614.2,56.8 L615,56.8 L615.9,56.9 L616.8,56.9 L617.6,56.9 L618.5,57 L619.4,57 L620.2,57 L621.1,57 L622,57.1 L622.8,57.1 L623.7,57.1 L624.5,57.2 L625.4,57.2 L626.3,57.2 L627.1,57.2 L628,57.3 L628.9,57.3 L629.7,57.3 L630.6,57.3 L631.5,57.4 L632.3,57.4 L633.2,57.4 L634.1,57.4 L634.9,57.5 L635.8,57.5 L636.7,57.5 L637.5,57.5 L638.4,57.5 L639.3,57.6 L640.1,57.6 L641,57.6 L641.9,57.6 L642.7,57.6 L643.6,57.6 L644.5,57.6 L644.5,57.8 Z" fill="url(#gGr)" stroke="none"/>
<path d="M634.1,57.8 L634.1,57.5 L634.9,57.2 L635.8,56.8 L636.7,56 L637.5,54.7 L638.4,53 L639.3,50.6 L640.1,47.6 L641,44.3 L641.9,40.9 L642.7,37.8 L643.6,35.5 L644.5,34.3 L645.3,34.4 L646.2,35.9 L647,38.4 L647.9,41.6 L648.8,45 L649.6,48.3 L650.5,51.1 L651.4,53.4 L652.2,55 L653.1,56.2 L654,56.9 L654.8,57.3 L655.7,57.6 L655.7,57.8 Z" fill="url(#gNb)" stroke="none"/>
<path d="M646.2,57.8 L646.2,57.6 L647,57.5 L647.9,57.4 L648.8,57.2 L649.6,57.1 L650.5,56.9 L651.4,56.8 L652.2,56.8 L653.1,56.9 L654,57 L654.8,57.2 L655.7,57.3 L656.6,57.5 L657.4,57.6 L657.4,57.8 Z" fill="url(#gNy)" stroke="none"/>
<path d="M660,57.8 L660,57.6 L660.9,57.6 L661.8,57.5 L662.6,57.4 L663.5,57.4 L664.4,57.4 L665.2,57.4 L666.1,57.5 L667,57.6 L667.8,57.6 L667.8,57.8 Z" fill="url(#gNr)" stroke="none"/>
<polyline points="633.2,57.7 634.1,57.5 634.9,57.2 635.8,56.8 636.7,56 637.5,54.7 638.4,53 639.3,50.6 640.1,47.6 641,44.3 641.9,40.9 642.7,37.8 643.6,35.5 644.5,34.3 645.3,34.4 646.2,35.9 647,38.4 647.9,41.6 648.8,45 649.6,48.3 650.5,51.1 651.4,53.4 652.2,55 653.1,56.2 654,56.9 654.8,57.3 655.7,57.6 656.6,57.7" fill="none" stroke="#5BC2EC" stroke-width="0.9" stroke-linejoin="round" stroke-linecap="round" />
<polyline points="646.2,57.6 647,57.5 647.9,57.4 648.8,57.2 649.6,57.1 650.5,56.9 651.4,56.8 652.2,56.8 653.1,56.9 654,57 654.8,57.2 655.7,57.3 656.6,57.5 657.4,57.6 658.3,57.7" fill="none" stroke="#E6DA6A" stroke-width="0.6" stroke-linejoin="round" stroke-linecap="round" />
<polyline points="659.2,57.7 660,57.6 660.9,57.6 661.8,57.5 662.6,57.4 663.5,57.4 664.4,57.4 665.2,57.4 666.1,57.5 667,57.6 667.8,57.6 668.7,57.7" fill="none" stroke="#EE5A6A" stroke-width="0.8" stroke-linejoin="round" stroke-linecap="round" />
<polyline points="543.2,57.8 544.1,57.8 544.9,57.7 545.8,57.7 546.7,57.7 547.5,57.7 548.4,57.7 549.3,57.7 550.1,57.7 551,57.7 551.9,57.7 552.7,57.7 553.6,57.7 554.5,57.7 555.3,57.6 556.2,57.6 557,57.6 557.9,57.6 558.8,57.6 559.6,57.6 560.5,57.6 561.4,57.5 562.2,57.5 563.1,57.5 564,57.5 564.8,57.5 565.7,57.4 566.6,57.4 567.4,57.4 568.3,57.4 569.2,57.4 570,57.3 570.9,57.3 571.8,57.3 572.6,57.2 573.5,57.2 574.4,57.2 575.2,57.2 576.1,57.1 577,57.1 577.8,57.1 578.7,57 579.5,57 580.4,57 581.3,57 582.1,56.9 583,56.9 583.9,56.9 584.7,56.9 585.6,56.8 586.5,56.8 587.3,56.8 588.2,56.8 589.1,56.7 589.9,56.7 590.8,56.7 591.7,56.7 592.5,56.7 593.4,56.7 594.3,56.6 595.1,56.6 596,56.6 596.9,56.6 597.7,56.6 598.6,56.6 599.5,56.6 600.3,56.6 601.2,56.6 602,56.6 602.9,56.6 603.8,56.6 604.6,56.6 605.5,56.6 606.4,56.6 607.2,56.7 608.1,56.7 609,56.7 609.8,56.7 610.7,56.7 611.6,56.8 612.4,56.8 613.3,56.8 614.2,56.8 615,56.8 615.9,56.9 616.8,56.9 617.6,56.9 618.5,57 619.4,57 620.2,57 621.1,57 622,57.1 622.8,57.1 623.7,57.1 624.5,57.2 625.4,57.2 626.3,57.2 627.1,57.2 628,57.3 628.9,57.3 629.7,57.3 630.6,57.3 631.5,57.3 632.3,57.3 633.2,57.3 634.1,57.2 634.9,56.9 635.8,56.4 636.7,55.7 637.5,54.4 638.4,52.7 639.3,50.3 640.1,47.4 641,44.1 641.9,40.7 642.7,37.6 643.6,35.3 644.5,34.1 645.3,34.2 646.2,35.6 647,38 647.9,41.1 648.8,44.3 649.6,47.4 650.5,50.1 651.4,52.3 652.2,53.9 653.1,55.2 654,56 654.8,56.6 655.7,57 656.6,57.3 657.4,57.5 658.3,57.6 659.2,57.6 660,57.6 660.9,57.5 661.8,57.5 662.6,57.4 663.5,57.4 664.4,57.4 665.2,57.4 666.1,57.5 667,57.5 667.8,57.6 668.7,57.7 669.5,57.7 670.4,57.8 671.3,57.8 672.1,57.8 673,57.8 673.9,57.8 674.7,57.8 675.6,57.8 676.5,57.8 677.3,57.8 678.2,57.8 679.1,57.8 679.9,57.8 680.8,57.8" fill="none" stroke="#A9DDF0" stroke-width="0.6" stroke-linejoin="round" stroke-linecap="round" />
<line x1="542.7" y1="57.8" x2="681.3" y2="57.8" stroke="#6b5050" stroke-width="0.7" />
<polyline points="543.2,83.4 544.1,83.6 544.9,83.2 545.8,83 546.7,83.3 547.5,83.7 548.4,82.7 549.3,83 550.1,83.2 551,83.5 551.9,83.4 552.7,83.4 553.6,83.1 554.5,82.7 555.3,83.3 556.2,82.6 557,83.2 557.9,82.5 558.8,83.3 559.6,83.2 560.5,82.2 561.4,82.5 562.2,82.3 563.1,82.7 564,82.3 564.8,82.6 565.7,82.6 566.6,82.3 567.4,81.7 568.3,82.1 569.2,80.9 570,81.2 570.9,82.1 571.8,80.8 572.6,82 573.5,81.9 574.4,80.4 575.2,81.6 576.1,81.4 577,80.9 577.8,80.9 578.7,80.5 579.5,80.7 580.4,80.7 581.3,80.3 582.1,80 583,80.3 583.9,79.9 584.7,79.7 585.6,78.6 586.5,79.4 587.3,78.7 588.2,79.4 589.1,78.3 589.9,79.2 590.8,78.3 591.7,78.1 592.5,78.1 593.4,78.7 594.3,78.3 595.1,77.9 596,78.4 596.9,78.1 597.7,77.7 598.6,76.3 599.5,77.2 600.3,78 601.2,77.9 602,77.8 602.9,77.9 603.8,77.9 604.6,77.5 605.5,77.5 606.4,77.9 607.2,77.1 608.1,77.6 609,78.2 609.8,78 610.7,77.4 611.6,77.8 612.4,78.5 613.3,78.2 614.2,77.9 615,78.6 615.9,78.9 616.8,78.2 617.6,78.5 618.5,79 619.4,79.1 620.2,79.4 621.1,79.2 622,79.1 622.8,79.5 623.7,79.1 624.5,80 625.4,79.6 626.3,79.9 627.1,79.7 628,79.6 628.9,78.1 629.7,79.1 630.6,78.3 631.5,78.6 632.3,77.8 633.2,77 634.1,76.7 634.9,75.3 635.8,75.4 636.7,74.1 637.5,73.4 638.4,72.3 639.3,71.2 640.1,70.8 641,69.8 641.9,69 642.7,68.2 643.6,67.7 644.5,67.4 645.3,67.1 646.2,66.9 647,66.8 647.9,66.7 648.8,66.1 649.6,67.4 650.5,68.2 651.4,69.1 652.2,69.9 653.1,71.2 654,72 654.8,72.2 655.7,74.7 656.6,75.6 657.4,77.2 658.3,77.8 659.2,78.6 660,79.2 660.9,79 661.8,78.8 662.6,80.7 663.5,81.1 664.4,81.7 665.2,81.8 666.1,81.6 667,82.2 667.8,82.6 668.7,82.6 669.5,83.4 670.4,83.1 671.3,83.6 672.1,83.6 673,83.4 673.9,83.7 674.7,83.4 675.6,83.7 676.5,83.1 677.3,83.3 678.2,83.1 679.1,83.1 679.9,83.5 680.8,83.2" fill="none" stroke="#D6D6D6" stroke-width="0.5" stroke-linejoin="round" stroke-linecap="round" />
<path d="M550.1,83.8 L550.1,83.6 L551,83.6 L551.9,83.6 L552.7,83.6 L553.6,83.5 L554.5,83.5 L555.3,83.5 L556.2,83.4 L557,83.4 L557.9,83.4 L558.8,83.3 L559.6,83.3 L560.5,83.2 L561.4,83.2 L562.2,83.1 L563.1,83 L564,83 L564.8,82.9 L565.7,82.8 L566.6,82.7 L567.4,82.7 L568.3,82.6 L569.2,82.5 L570,82.4 L570.9,82.3 L571.8,82.2 L572.6,82 L573.5,81.9 L574.4,81.8 L575.2,81.7 L576.1,81.5 L577,81.4 L577.8,81.3 L578.7,81.1 L579.5,81 L580.4,80.8 L581.3,80.7 L582.1,80.5 L583,80.4 L583.9,80.2 L584.7,80.1 L585.6,79.9 L586.5,79.8 L587.3,79.6 L588.2,79.5 L589.1,79.3 L589.9,79.2 L590.8,79.1 L591.7,78.9 L592.5,78.8 L593.4,78.7 L594.3,78.6 L595.1,78.5 L596,78.4 L596.9,78.3 L597.7,78.2 L598.6,78.2 L599.5,78.1 L600.3,78.1 L601.2,78 L602,78 L602.9,78 L603.8,78 L604.6,78 L605.5,78 L606.4,78.1 L607.2,78.1 L608.1,78.2 L609,78.2 L609.8,78.3 L610.7,78.4 L611.6,78.5 L612.4,78.6 L613.3,78.7 L614.2,78.8 L615,78.9 L615.9,79 L616.8,79.1 L617.6,79.3 L618.5,79.4 L619.4,79.6 L620.2,79.7 L621.1,79.9 L622,80 L622.8,80.2 L623.7,80.3 L624.5,80.5 L625.4,80.6 L626.3,80.8 L627.1,80.9 L628,81.1 L628.9,81.2 L629.7,81.3 L630.6,81.5 L631.5,81.6 L632.3,81.7 L633.2,81.9 L634.1,82 L634.9,82.1 L635.8,82.2 L636.7,82.3 L637.5,82.4 L638.4,82.5 L639.3,82.6 L640.1,82.7 L641,82.8 L641.9,82.9 L642.7,83 L643.6,83 L644.5,83.1 L645.3,83.1 L646.2,83.2 L647,83.3 L647.9,83.3 L648.8,83.4 L649.6,83.4 L650.5,83.4 L651.4,83.5 L652.2,83.5 L653.1,83.5 L654,83.6 L654.8,83.6 L655.7,83.6 L656.6,83.6 L657.4,83.6 L657.4,83.8 Z" fill="url(#gGr)" stroke="none"/>
<path d="M622.8,83.8 L622.8,83.6 L623.7,83.5 L624.5,83.4 L625.4,83.3 L626.3,83.1 L627.1,82.9 L628,82.7 L628.9,82.3 L629.7,81.9 L630.6,81.5 L631.5,80.9 L632.3,80.3 L633.2,79.6 L634.1,78.8 L634.9,77.9 L635.8,77 L636.7,76 L637.5,75 L638.4,74.1 L639.3,73.1 L640.1,72.3 L641,71.5 L641.9,70.8 L642.7,70.3 L643.6,70 L644.5,69.8 L645.3,69.8 L646.2,70 L647,70.4 L647.9,71 L648.8,71.6 L649.6,72.4 L650.5,73.3 L651.4,74.3 L652.2,75.2 L653.1,76.2 L654,77.2 L654.8,78.1 L655.7,78.9 L656.6,79.7 L657.4,80.4 L658.3,81 L659.2,81.6 L660,82 L660.9,82.4 L661.8,82.7 L662.6,83 L663.5,83.2 L664.4,83.3 L665.2,83.5 L666.1,83.6 L667,83.6 L667,83.8 Z" fill="url(#gNb)" stroke="none"/>
<path d="M639.3,83.8 L639.3,83.6 L640.1,83.5 L641,83.4 L641.9,83.2 L642.7,83 L643.6,82.7 L644.5,82.3 L645.3,81.9 L646.2,81.5 L647,81 L647.9,80.5 L648.8,80.1 L649.6,79.7 L650.5,79.4 L651.4,79.2 L652.2,79.2 L653.1,79.3 L654,79.5 L654.8,79.9 L655.7,80.3 L656.6,80.8 L657.4,81.3 L658.3,81.7 L659.2,82.2 L660,82.5 L660.9,82.9 L661.8,83.1 L662.6,83.3 L663.5,83.5 L664.4,83.6 L664.4,83.8 Z" fill="url(#gNy)" stroke="none"/>
<path d="M655.7,83.8 L655.7,83.6 L656.6,83.5 L657.4,83.4 L658.3,83.2 L659.2,83 L660,82.8 L660.9,82.5 L661.8,82.4 L662.6,82.3 L663.5,82.3 L664.4,82.4 L665.2,82.6 L666.1,82.8 L667,83 L667.8,83.2 L668.7,83.4 L669.5,83.5 L670.4,83.6 L670.4,83.8 Z" fill="url(#gNr)" stroke="none"/>
<polyline points="622,83.7 622.8,83.6 623.7,83.5 624.5,83.4 625.4,83.3 626.3,83.1 627.1,82.9 628,82.7 628.9,82.3 629.7,81.9 630.6,81.5 631.5,80.9 632.3,80.3 633.2,79.6 634.1,78.8 634.9,77.9 635.8,77 636.7,76 637.5,75 638.4,74.1 639.3,73.1 640.1,72.3 641,71.5 641.9,70.8 642.7,70.3 643.6,70 644.5,69.8 645.3,69.8 646.2,70 647,70.4 647.9,71 648.8,71.6 649.6,72.4 650.5,73.3 651.4,74.3 652.2,75.2 653.1,76.2 654,77.2 654.8,78.1 655.7,78.9 656.6,79.7 657.4,80.4 658.3,81 659.2,81.6 660,82 660.9,82.4 661.8,82.7 662.6,83 663.5,83.2 664.4,83.3 665.2,83.5 666.1,83.6 667,83.6 667.8,83.7" fill="none" stroke="#5BC2EC" stroke-width="0.9" stroke-linejoin="round" stroke-linecap="round" />
<polyline points="638.4,83.7 639.3,83.6 640.1,83.5 641,83.4 641.9,83.2 642.7,83 643.6,82.7 644.5,82.3 645.3,81.9 646.2,81.5 647,81 647.9,80.5 648.8,80.1 649.6,79.7 650.5,79.4 651.4,79.2 652.2,79.2 653.1,79.3 654,79.5 654.8,79.9 655.7,80.3 656.6,80.8 657.4,81.3 658.3,81.7 659.2,82.2 660,82.5 660.9,82.9 661.8,83.1 662.6,83.3 663.5,83.5 664.4,83.6 665.2,83.7" fill="none" stroke="#E6DA6A" stroke-width="0.6" stroke-linejoin="round" stroke-linecap="round" />
<polyline points="655.7,83.6 656.6,83.5 657.4,83.4 658.3,83.2 659.2,83 660,82.8 660.9,82.5 661.8,82.4 662.6,82.3 663.5,82.3 664.4,82.4 665.2,82.6 666.1,82.8 667,83 667.8,83.2 668.7,83.4 669.5,83.5 670.4,83.6" fill="none" stroke="#EE5A6A" stroke-width="0.8" stroke-linejoin="round" stroke-linecap="round" />
<polyline points="543.2,83.7 544.1,83.7 544.9,83.7 545.8,83.7 546.7,83.7 547.5,83.7 548.4,83.7 549.3,83.7 550.1,83.6 551,83.6 551.9,83.6 552.7,83.6 553.6,83.5 554.5,83.5 555.3,83.5 556.2,83.4 557,83.4 557.9,83.4 558.8,83.3 559.6,83.3 560.5,83.2 561.4,83.2 562.2,83.1 563.1,83 564,83 564.8,82.9 565.7,82.8 566.6,82.7 567.4,82.7 568.3,82.6 569.2,82.5 570,82.4 570.9,82.3 571.8,82.2 572.6,82 573.5,81.9 574.4,81.8 575.2,81.7 576.1,81.5 577,81.4 577.8,81.3 578.7,81.1 579.5,81 580.4,80.8 581.3,80.7 582.1,80.5 583,80.4 583.9,80.2 584.7,80.1 585.6,79.9 586.5,79.8 587.3,79.6 588.2,79.5 589.1,79.3 589.9,79.2 590.8,79.1 591.7,78.9 592.5,78.8 593.4,78.7 594.3,78.6 595.1,78.5 596,78.4 596.9,78.3 597.7,78.2 598.6,78.2 599.5,78.1 600.3,78.1 601.2,78 602,78 602.9,78 603.8,78 604.6,78 605.5,78 606.4,78.1 607.2,78.1 608.1,78.2 609,78.2 609.8,78.3 610.7,78.4 611.6,78.5 612.4,78.5 613.3,78.7 614.2,78.8 615,78.9 615.9,79 616.8,79.1 617.6,79.3 618.5,79.4 619.4,79.5 620.2,79.6 621.1,79.8 622,79.9 622.8,80 623.7,80 624.5,80.1 625.4,80.1 626.3,80.1 627.1,80 628,79.9 628.9,79.7 629.7,79.5 630.6,79.1 631.5,78.7 632.3,78.2 633.2,77.6 634.1,77 634.9,76.2 635.8,75.4 636.7,74.5 637.5,73.6 638.4,72.7 639.3,71.8 640.1,70.9 641,70.1 641.9,69.3 642.7,68.7 643.6,68.1 644.5,67.6 645.3,67.3 646.2,67.1 647,67.1 647.9,67.2 648.8,67.5 649.6,67.9 650.5,68.6 651.4,69.4 652.2,70.3 653.1,71.4 654,72.6 654.8,73.9 655.7,75.1 656.6,76.2 657.4,77.3 658.3,78.2 659.2,79 660,79.6 660.9,80.1 661.8,80.5 662.6,80.9 663.5,81.3 664.4,81.7 665.2,82 666.1,82.4 667,82.7 667.8,83 668.7,83.3 669.5,83.4 670.4,83.6 671.3,83.7 672.1,83.7 673,83.7 673.9,83.8 674.7,83.8 675.6,83.8 676.5,83.8 677.3,83.8 678.2,83.8 679.1,83.8 679.9,83.8 680.8,83.8" fill="none" stroke="#A9DDF0" stroke-width="0.6" stroke-linejoin="round" stroke-linecap="round" />
<line x1="542.7" y1="83.8" x2="681.3" y2="83.8" stroke="#6b5050" stroke-width="0.7" />
<polyline points="543.2,115.4 544.1,115.6 544.9,116.4 545.8,115.4 546.7,116.1 547.5,115.8 548.4,115.9 549.3,116.4 550.1,116.1 551,116.3 551.9,115.7 552.7,115.5 553.6,115.2 554.5,115.8 555.3,114.6 556.2,115.4 557,114.9 557.9,116 558.8,114.6 559.6,115.8 560.5,114.3 561.4,113.8 562.2,115.4 563.1,115.5 564,114.8 564.8,115.2 565.7,114.2 566.6,115.3 567.4,114 568.3,115.3 569.2,114.4 570,113.2 570.9,113.8 571.8,113 572.6,113.2 573.5,114.8 574.4,113.7 575.2,113.3 576.1,113.5 577,114.3 577.8,113.1 578.7,112.5 579.5,113.6 580.4,113.4 581.3,113.9 582.1,112.5 583,112.5 583.9,113.5 584.7,113.7 585.6,113.7 586.5,113.2 587.3,113.4 588.2,112.5 589.1,112.1 589.9,113.3 590.8,112.1 591.7,111.8 592.5,113.4 593.4,112.1 594.3,112.9 595.1,112.7 596,113.1 596.9,112.1 597.7,111.5 598.6,111 599.5,112.8 600.3,113 601.2,113 602,112.7 602.9,113 603.8,112.3 604.6,112.2 605.5,113.2 606.4,112.4 607.2,112 608.1,112.7 609,112.8 609.8,111.2 610.7,112.3 611.6,113.3 612.4,112.4 613.3,113 614.2,113.7 615,112.3 615.9,111 616.8,113.5 617.6,113.1 618.5,113.5 619.4,113.2 620.2,113.7 621.1,114.1 622,113.7 622.8,114.5 623.7,113.1 624.5,113.8 625.4,114.1 626.3,114 627.1,113.2 628,114.5 628.9,113.8 629.7,114.4 630.6,113.7 631.5,111.8 632.3,112.7 633.2,111.9 634.1,112.6 634.9,111.8 635.8,110.5 636.7,109.3 637.5,109.9 638.4,109.8 639.3,107.7 640.1,107.8 641,106.5 641.9,105.8 642.7,104.8 643.6,104.6 644.5,104.4 645.3,102 646.2,103.7 647,103.8 647.9,102.4 648.8,101.6 649.6,101.9 650.5,103.9 651.4,103.6 652.2,104.4 653.1,104.9 654,107.2 654.8,106.6 655.7,109.3 656.6,109.1 657.4,111 658.3,110.9 659.2,111.5 660,112.3 660.9,112.8 661.8,113.5 662.6,113.1 663.5,113.9 664.4,114.2 665.2,113.7 666.1,114 667,113.6 667.8,115 668.7,115.1 669.5,115.3 670.4,115.9 671.3,114.9 672.1,114.9 673,116.4 673.9,116.6 674.7,115.3 675.6,116.6 676.5,116.1 677.3,115.5 678.2,116.1 679.1,115.1 679.9,116.5 680.8,115.6" fill="none" stroke="#D6D6D6" stroke-width="0.5" stroke-linejoin="round" stroke-linecap="round" />
<path d="M544.9,116.8 L544.9,116.6 L545.8,116.6 L546.7,116.6 L547.5,116.6 L548.4,116.6 L549.3,116.5 L550.1,116.5 L551,116.5 L551.9,116.5 L552.7,116.4 L553.6,116.4 L554.5,116.4 L555.3,116.3 L556.2,116.3 L557,116.3 L557.9,116.2 L558.8,116.2 L559.6,116.1 L560.5,116.1 L561.4,116 L562.2,116 L563.1,115.9 L564,115.9 L564.8,115.8 L565.7,115.7 L566.6,115.7 L567.4,115.6 L568.3,115.5 L569.2,115.5 L570,115.4 L570.9,115.3 L571.8,115.2 L572.6,115.1 L573.5,115.1 L574.4,115 L575.2,114.9 L576.1,114.8 L577,114.7 L577.8,114.6 L578.7,114.5 L579.5,114.5 L580.4,114.4 L581.3,114.3 L582.1,114.2 L583,114.1 L583.9,114 L584.7,114 L585.6,113.9 L586.5,113.8 L587.3,113.7 L588.2,113.7 L589.1,113.6 L589.9,113.6 L590.8,113.5 L591.7,113.4 L592.5,113.4 L593.4,113.4 L594.3,113.3 L595.1,113.3 L596,113.3 L596.9,113.2 L597.7,113.2 L598.6,113.2 L599.5,113.2 L600.3,113.2 L601.2,113.2 L602,113.2 L602.9,113.2 L603.8,113.3 L604.6,113.3 L605.5,113.3 L606.4,113.3 L607.2,113.4 L608.1,113.4 L609,113.5 L609.8,113.5 L610.7,113.6 L611.6,113.7 L612.4,113.7 L613.3,113.8 L614.2,113.9 L615,113.9 L615.9,114 L616.8,114.1 L617.6,114.2 L618.5,114.3 L619.4,114.4 L620.2,114.4 L621.1,114.5 L622,114.6 L622.8,114.7 L623.7,114.8 L624.5,114.9 L625.4,115 L626.3,115 L627.1,115.1 L628,115.2 L628.9,115.3 L629.7,115.4 L630.6,115.4 L631.5,115.5 L632.3,115.6 L633.2,115.6 L634.1,115.7 L634.9,115.8 L635.8,115.8 L636.7,115.9 L637.5,116 L638.4,116 L639.3,116.1 L640.1,116.1 L641,116.2 L641.9,116.2 L642.7,116.3 L643.6,116.3 L644.5,116.3 L645.3,116.4 L646.2,116.4 L647,116.4 L647.9,116.5 L648.8,116.5 L649.6,116.5 L650.5,116.5 L651.4,116.6 L652.2,116.6 L653.1,116.6 L654,116.6 L654.8,116.6 L654.8,116.8 Z" fill="url(#gGr)" stroke="none"/>
<path d="M625.4,116.8 L625.4,116.6 L626.3,116.5 L627.1,116.4 L628,116.3 L628.9,116.2 L629.7,116 L630.6,115.7 L631.5,115.4 L632.3,115 L633.2,114.6 L634.1,114.1 L634.9,113.5 L635.8,112.9 L636.7,112.2 L637.5,111.4 L638.4,110.6 L639.3,109.8 L640.1,108.9 L641,108.1 L641.9,107.3 L642.7,106.6 L643.6,106 L644.5,105.5 L645.3,105.1 L646.2,104.9 L647,104.8 L647.9,104.9 L648.8,105.1 L649.6,105.5 L650.5,106 L651.4,106.7 L652.2,107.4 L653.1,108.2 L654,109 L654.8,109.8 L655.7,110.7 L656.6,111.5 L657.4,112.2 L658.3,112.9 L659.2,113.6 L660,114.1 L660.9,114.6 L661.8,115.1 L662.6,115.4 L663.5,115.7 L664.4,116 L665.2,116.2 L666.1,116.3 L667,116.5 L667.8,116.5 L668.7,116.6 L668.7,116.8 Z" fill="url(#gNb)" stroke="none"/>
<path d="M643.6,116.8 L643.6,116.6 L644.5,116.6 L645.3,116.5 L646.2,116.3 L647,116.1 L647.9,116 L648.8,115.8 L649.6,115.6 L650.5,115.5 L651.4,115.4 L652.2,115.4 L653.1,115.5 L654,115.6 L654.8,115.7 L655.7,115.9 L656.6,116.1 L657.4,116.2 L658.3,116.4 L659.2,116.5 L660,116.6 L660,116.8 Z" fill="url(#gNy)" stroke="none"/>
<path d="M656.6,116.8 L656.6,116.6 L657.4,116.5 L658.3,116.4 L659.2,116.2 L660,116 L660.9,115.7 L661.8,115.5 L662.6,115.3 L663.5,115.2 L664.4,115.2 L665.2,115.3 L666.1,115.5 L667,115.7 L667.8,115.9 L668.7,116.1 L669.5,116.3 L670.4,116.5 L671.3,116.6 L671.3,116.8 Z" fill="url(#gNr)" stroke="none"/>
<polyline points="624.5,116.7 625.4,116.6 626.3,116.5 627.1,116.4 628,116.3 628.9,116.2 629.7,116 630.6,115.7 631.5,115.4 632.3,115 633.2,114.6 634.1,114.1 634.9,113.5 635.8,112.9 636.7,112.2 637.5,111.4 638.4,110.6 639.3,109.8 640.1,108.9 641,108.1 641.9,107.3 642.7,106.6 643.6,106 644.5,105.5 645.3,105.1 646.2,104.9 647,104.8 647.9,104.9 648.8,105.1 649.6,105.5 650.5,106 651.4,106.7 652.2,107.4 653.1,108.2 654,109 654.8,109.8 655.7,110.7 656.6,111.5 657.4,112.2 658.3,112.9 659.2,113.6 660,114.1 660.9,114.6 661.8,115.1 662.6,115.4 663.5,115.7 664.4,116 665.2,116.2 666.1,116.3 667,116.5 667.8,116.5 668.7,116.6 669.5,116.7" fill="none" stroke="#5BC2EC" stroke-width="0.9" stroke-linejoin="round" stroke-linecap="round" />
<polyline points="643.6,116.6 644.5,116.6 645.3,116.5 646.2,116.3 647,116.1 647.9,116 648.8,115.8 649.6,115.6 650.5,115.5 651.4,115.4 652.2,115.4 653.1,115.5 654,115.6 654.8,115.7 655.7,115.9 656.6,116.1 657.4,116.2 658.3,116.4 659.2,116.5 660,116.6 660.9,116.7" fill="none" stroke="#E6DA6A" stroke-width="0.6" stroke-linejoin="round" stroke-linecap="round" />
<polyline points="656.6,116.6 657.4,116.5 658.3,116.4 659.2,116.2 660,116 660.9,115.7 661.8,115.5 662.6,115.3 663.5,115.2 664.4,115.2 665.2,115.3 666.1,115.5 667,115.7 667.8,115.9 668.7,116.1 669.5,116.3 670.4,116.5 671.3,116.6 672.1,116.7" fill="none" stroke="#EE5A6A" stroke-width="0.8" stroke-linejoin="round" stroke-linecap="round" />
<polyline points="543.2,116.7 544.1,116.7 544.9,116.6 545.8,116.6 546.7,116.6 547.5,116.6 548.4,116.6 549.3,116.5 550.1,116.5 551,116.5 551.9,116.5 552.7,116.4 553.6,116.4 554.5,116.4 555.3,116.3 556.2,116.3 557,116.3 557.9,116.2 558.8,116.2 559.6,116.1 560.5,116.1 561.4,116 562.2,116 563.1,115.9 564,115.9 564.8,115.8 565.7,115.7 566.6,115.7 567.4,115.6 568.3,115.5 569.2,115.5 570,115.4 570.9,115.3 571.8,115.2 572.6,115.1 573.5,115.1 574.4,115 575.2,114.9 576.1,114.8 577,114.7 577.8,114.6 578.7,114.5 579.5,114.5 580.4,114.4 581.3,114.3 582.1,114.2 583,114.1 583.9,114 584.7,114 585.6,113.9 586.5,113.8 587.3,113.7 588.2,113.7 589.1,113.6 589.9,113.6 590.8,113.5 591.7,113.4 592.5,113.4 593.4,113.4 594.3,113.3 595.1,113.3 596,113.3 596.9,113.2 597.7,113.2 598.6,113.2 599.5,113.2 600.3,113.2 601.2,113.2 602,113.2 602.9,113.2 603.8,113.3 604.6,113.3 605.5,113.3 606.4,113.3 607.2,113.4 608.1,113.4 609,113.5 609.8,113.5 610.7,113.6 611.6,113.7 612.4,113.7 613.3,113.8 614.2,113.9 615,113.9 615.9,114 616.8,114.1 617.6,114.2 618.5,114.3 619.4,114.3 620.2,114.4 621.1,114.5 622,114.6 622.8,114.6 623.7,114.7 624.5,114.7 625.4,114.8 626.3,114.8 627.1,114.8 628,114.7 628.9,114.6 629.7,114.5 630.6,114.3 631.5,114.1 632.3,113.8 633.2,113.4 634.1,113 634.9,112.5 635.8,111.9 636.7,111.3 637.5,110.6 638.4,109.8 639.3,109 640.1,108.2 641,107.4 641.9,106.7 642.7,106 643.6,105.3 644.5,104.8 645.3,104.3 646.2,104 647,103.8 647.9,103.7 648.8,103.8 649.6,104.1 650.5,104.5 651.4,105.1 652.2,105.8 653.1,106.6 654,107.6 654.8,108.5 655.7,109.5 656.6,110.5 657.4,111.3 658.3,112 659.2,112.6 660,113 660.9,113.4 661.8,113.6 662.6,113.8 663.5,114.1 664.4,114.3 665.2,114.6 666.1,114.9 667,115.3 667.8,115.6 668.7,115.9 669.5,116.2 670.4,116.4 671.3,116.5 672.1,116.6 673,116.7 673.9,116.7 674.7,116.8 675.6,116.8 676.5,116.8 677.3,116.8 678.2,116.8 679.1,116.8 679.9,116.8 680.8,116.8" fill="none" stroke="#A9DDF0" stroke-width="0.6" stroke-linejoin="round" stroke-linecap="round" />
<line x1="542.7" y1="116.8" x2="681.3" y2="116.8" stroke="#6b5050" stroke-width="0.7" />
<line x1="645.4" y1="14" x2="645.4" y2="116" stroke="#333" stroke-width="0.9" stroke-dasharray="3,1.8"/>
<line x1="651.9" y1="14" x2="651.9" y2="116" stroke="#333" stroke-width="0.9" stroke-dasharray="3,1.8"/>
<line x1="664.4" y1="14" x2="664.4" y2="116" stroke="#333" stroke-width="0.9" stroke-dasharray="3,1.8"/>
<rect x="542.7" y="29.5" width="138.6" height="3.6" fill="#DCDCDC" />
<line x1="542.7" y1="31.3" x2="681.3" y2="31.3" stroke="#A8A8A8" stroke-width="0.6" />
<line x1="542.9" y1="30.8" x2="542.9" y2="31.9" stroke="#555" stroke-width="0.9" />
<line x1="556.9" y1="30.8" x2="556.9" y2="31.9" stroke="#555" stroke-width="0.9" />
<line x1="570.9" y1="30.8" x2="570.9" y2="31.9" stroke="#555" stroke-width="0.9" />
<line x1="584.8" y1="30.8" x2="584.8" y2="31.9" stroke="#555" stroke-width="0.9" />
<line x1="598.8" y1="30.8" x2="598.8" y2="31.9" stroke="#555" stroke-width="0.9" />
<line x1="612.7" y1="30.8" x2="612.7" y2="31.9" stroke="#555" stroke-width="0.9" />
<line x1="626.7" y1="30.8" x2="626.7" y2="31.9" stroke="#555" stroke-width="0.9" />
<line x1="640.7" y1="30.8" x2="640.7" y2="31.9" stroke="#555" stroke-width="0.9" />
<line x1="654.6" y1="30.8" x2="654.6" y2="31.9" stroke="#555" stroke-width="0.9" />
<line x1="668.6" y1="30.8" x2="668.6" y2="31.9" stroke="#555" stroke-width="0.9" />
<line x1="682.5" y1="30.8" x2="682.5" y2="31.9" stroke="#555" stroke-width="0.9" />
<rect x="542.7" y="59.9" width="138.6" height="3.6" fill="#DCDCDC" />
<line x1="542.7" y1="61.7" x2="681.3" y2="61.7" stroke="#A8A8A8" stroke-width="0.6" />
<line x1="542.9" y1="61.2" x2="542.9" y2="62.3" stroke="#555" stroke-width="0.9" />
<line x1="556.9" y1="61.2" x2="556.9" y2="62.3" stroke="#555" stroke-width="0.9" />
<line x1="570.9" y1="61.2" x2="570.9" y2="62.3" stroke="#555" stroke-width="0.9" />
<line x1="584.8" y1="61.2" x2="584.8" y2="62.3" stroke="#555" stroke-width="0.9" />
<line x1="598.8" y1="61.2" x2="598.8" y2="62.3" stroke="#555" stroke-width="0.9" />
<line x1="612.7" y1="61.2" x2="612.7" y2="62.3" stroke="#555" stroke-width="0.9" />
<line x1="626.7" y1="61.2" x2="626.7" y2="62.3" stroke="#555" stroke-width="0.9" />
<line x1="640.7" y1="61.2" x2="640.7" y2="62.3" stroke="#555" stroke-width="0.9" />
<line x1="654.6" y1="61.2" x2="654.6" y2="62.3" stroke="#555" stroke-width="0.9" />
<line x1="668.6" y1="61.2" x2="668.6" y2="62.3" stroke="#555" stroke-width="0.9" />
<line x1="682.5" y1="61.2" x2="682.5" y2="62.3" stroke="#555" stroke-width="0.9" />
<rect x="542.7" y="89.6" width="138.6" height="3.6" fill="#DCDCDC" />
<line x1="542.7" y1="91.4" x2="681.3" y2="91.4" stroke="#A8A8A8" stroke-width="0.6" />
<line x1="542.9" y1="90.9" x2="542.9" y2="92" stroke="#555" stroke-width="0.9" />
<line x1="556.9" y1="90.9" x2="556.9" y2="92" stroke="#555" stroke-width="0.9" />
<line x1="570.9" y1="90.9" x2="570.9" y2="92" stroke="#555" stroke-width="0.9" />
<line x1="584.8" y1="90.9" x2="584.8" y2="92" stroke="#555" stroke-width="0.9" />
<line x1="598.8" y1="90.9" x2="598.8" y2="92" stroke="#555" stroke-width="0.9" />
<line x1="612.7" y1="90.9" x2="612.7" y2="92" stroke="#555" stroke-width="0.9" />
<line x1="626.7" y1="90.9" x2="626.7" y2="92" stroke="#555" stroke-width="0.9" />
<line x1="640.7" y1="90.9" x2="640.7" y2="92" stroke="#555" stroke-width="0.9" />
<line x1="654.6" y1="90.9" x2="654.6" y2="92" stroke="#555" stroke-width="0.9" />
<line x1="668.6" y1="90.9" x2="668.6" y2="92" stroke="#555" stroke-width="0.9" />
<line x1="682.5" y1="90.9" x2="682.5" y2="92" stroke="#555" stroke-width="0.9" />
<rect x="542.7" y="1.5" width="138.6" height="118.9" fill="none" stroke="#555" stroke-width="1" />
<line x1="542.9" y1="120.4" x2="542.9" y2="122" stroke="#555" stroke-width="0.8" />
<line x1="556.9" y1="120.4" x2="556.9" y2="122" stroke="#555" stroke-width="0.8" />
<line x1="570.9" y1="120.4" x2="570.9" y2="122" stroke="#555" stroke-width="0.8" />
<line x1="584.8" y1="120.4" x2="584.8" y2="122" stroke="#555" stroke-width="0.8" />
<line x1="598.8" y1="120.4" x2="598.8" y2="122" stroke="#555" stroke-width="0.8" />
<line x1="612.7" y1="120.4" x2="612.7" y2="122" stroke="#555" stroke-width="0.8" />
<line x1="626.7" y1="120.4" x2="626.7" y2="122" stroke="#555" stroke-width="0.8" />
<line x1="640.7" y1="120.4" x2="640.7" y2="122" stroke="#555" stroke-width="0.8" />
<line x1="654.6" y1="120.4" x2="654.6" y2="122" stroke="#555" stroke-width="0.8" />
<line x1="668.6" y1="120.4" x2="668.6" y2="122" stroke="#555" stroke-width="0.8" />
<line x1="682.5" y1="120.4" x2="682.5" y2="122" stroke="#555" stroke-width="0.8" />
<text x="556.9" y="131.1" font-size="7.4" text-anchor="middle">868</text>
<text x="584.8" y="131.1" font-size="7.4" text-anchor="middle">864</text>
<text x="612.7" y="131.1" font-size="7.4" text-anchor="middle">860</text>
<text x="640.7" y="131.1" font-size="7.4" text-anchor="middle">856</text>
<text x="668.6" y="131.1" font-size="7.4" text-anchor="middle">852</text>
<text x="612" y="142.4" font-size="8.2" text-anchor="middle">Binding Energy (eV)</text>
<text x="0" y="0" font-size="8.3" text-anchor="middle" fill="#222" transform="translate(536.5 56.3) rotate(-90)">Intensity (arb. units)</text>
<text x="544.4" y="10.9" font-size="8.2">CuNi-NP</text>
<text x="544.4" y="40.1" font-size="8.2">Ni-PC</text>
<text x="544.4" y="69.9" font-size="8.2">Ni-SAC</text>
<text x="544.4" y="100.1" font-size="8.2">CuNi-DAC</text>
<text x="607" y="16.8" font-size="6.6" text-anchor="middle">Sat.</text>
<text x="651.6" y="11.1" font-size="8.6" fill="#222">Ni 2<tspan font-style="italic">p</tspan><tspan font-size="5.8" dy="1.8">3/2</tspan></text>
<text x="627.8" y="10.1" font-size="8.0" fill="#E8C23A">Ni<tspan font-size="5.2" dy="-2.9">1+</tspan></text>
<text x="668" y="16.3" font-size="8.0" fill="#E8404F">Ni<tspan font-size="5.2" dy="-2.9">0</tspan></text>
<text x="620" y="40.9" font-size="8.0" fill="#4FB3E8">Ni<tspan font-size="5.2" dy="-2.9">2+</tspan></text>
<text x="667" y="69.4" font-size="8.0" fill="#E8C23A">Ni<tspan font-size="5.2" dy="-2.9">1+</tspan></text>
<text x="624.7" y="100.1" font-size="8.0" fill="#4FB3E8">Ni<tspan font-size="5.2" dy="-2.9">2+</tspan></text>
<line x1="650.6" y1="15.5" x2="638.6" y2="10" stroke="#333" stroke-width="0.8" />
<polygon points="638.6,10 640.8,10 640,11.7" fill="#333"/>
<line x1="664.6" y1="25.6" x2="671.2" y2="20.6" stroke="#333" stroke-width="0.8" />
<polygon points="671.2,20.6 670.2,22.6 669,21" fill="#333"/>
<line x1="644.8" y1="43.4" x2="634.6" y2="40.2" stroke="#333" stroke-width="0.8" />
<polygon points="634.6,40.2 636.8,39.9 636.2,41.7" fill="#333"/>
<line x1="652.2" y1="82.3" x2="669.1" y2="72.8" stroke="#333" stroke-width="0.8" />
<polygon points="669.1,72.8 667.8,74.6 666.9,72.9" fill="#333"/>
<line x1="645.8" y1="106.7" x2="633.1" y2="102.5" stroke="#333" stroke-width="0.8" />
<polygon points="633.1,102.5 635.3,102.2 634.7,104" fill="#333"/>
<text x="2.6" y="162.8" font-size="14.5" font-weight="bold" fill="#000">e</text>
<polyline points="26.3,262.6 27.3,262.6 28.3,262.6 29.3,262.6 30.3,262.6 31.3,262.6 32.3,262.6 33.3,262.6 34.3,262.6 35.3,262.6 36.3,262.5 37.3,262.5 38.3,262.5 39.3,262.5 40.3,262.5 41.3,262.4 42.3,262.3 43.3,262.1 44.3,261.9 45.3,261.6 46.3,261.2 47.3,260.6 48.3,258.5 49.3,255.2 50.2,251.3 51.2,245.8 52.2,239.9 53.2,234.4 54.2,229.5 55.2,227.9 56.2,226.9 57.2,226.3 58.2,225.7 59.2,224.8 60.2,223.6 61.2,222.2 62.2,220.5 63.2,218.7 64.2,216.5 65.2,213.6 66.2,210.1 67.2,206.3 68.2,202.5 69.2,197.8 70.2,193 71.2,189.4 72.2,187.9 73.2,187.1 74.2,186.8 75.2,187.7 76.2,189.1 77.2,190.4 78.2,191.8 79.2,192.1 80.2,191.2 81.2,190 82.2,188.8 83.2,187.6 84.2,187.2 85.2,187.5 86.2,188.1 87.2,188.9 88.2,189.6 89.2,190.5 90.2,191.5 91.2,192.6 92.2,193.6 93.2,194.4 94.2,194.7 95.2,194.7 96.1,194.6 97.1,194.5 98.1,194.3 99.1,194.2 100.1,194 101.1,193.7 102.1,193.3 103.1,192.8 104.1,192.2 105.1,191.6 106.1,191 107.1,190.4 108.1,189.9 109.1,189.4 110.1,188.8 111.1,188.2 112.1,187.7 113.1,187.2 114.1,186.9 115.1,186.7 116.1,186.8 117.1,187.2 118.1,187.8 119.1,188.5 120.1,189.3 121.1,190.1 122.1,191 123.1,192 124.1,193.1 125.1,194.1 126.1,194.6 127.1,194.7 128.1,194.6 129.1,194.4 130.1,194.2 131.1,194 132.1,193.7 133.1,193.5 134.1,193.2 135.1,192.9 136.1,192.5 137.1,192.1 138.1,191.9 139.1,191.7 140.1,191.6 141.1,191.5 142,191.4 143,191.4 144,191.3 145,191.3 146,191.2 147,191.2 148,191.1 149,191.1 150,191 151,190.9 152,190.8 153,190.8 154,190.7 155,190.6 156,190.5 157,190.4 158,190.4 159,190.3 160,190.2 161,190.1 162,190 163,189.9 164,189.8 165,189.7" fill="none" stroke="#A3A3A3" stroke-width="1.7" stroke-linejoin="round" stroke-linecap="round" />
<polyline points="26.3,263 27.3,263 28.3,263 29.3,263 30.3,263 31.3,263 32.3,263 33.3,263 34.3,263 35.3,263 36.3,263 37.3,263 38.3,263 39.3,263 40.3,263 41.3,263 42.3,263 43.3,263 44.3,263 45.3,263 46.3,262.9 47.3,262.8 48.3,262.7 49.3,262.5 50.2,262.3 51.2,262.1 52.2,261.9 53.2,261.5 54.2,261.1 55.2,260.6 56.2,260 57.2,258.8 58.2,256.4 59.2,253.1 60.2,249.3 61.2,242.3 62.2,233.8 63.2,230.4 64.2,232.5 65.2,233.5 66.2,227.7 67.2,221 68.2,215.1 69.2,209.2 70.2,204 71.2,199.8 72.2,196.3 73.2,193.1 74.2,190.2 75.2,187.4 76.2,184.7 77.2,181.9 78.2,179.2 79.2,176.9 80.2,175.1 81.2,173.6 82.2,172.3 83.2,171.3 84.2,171 85.2,171.1 86.2,171.4 87.2,171.7 88.2,172.2 89.2,172.8 90.2,173.5 91.2,175 92.2,177.1 93.2,179.6 94.2,182 95.2,184.3 96.1,186.8 97.1,189.2 98.1,191.1 99.1,192.3 100.1,193.4 101.1,194.3 102.1,195 103.1,195.6 104.1,196 105.1,196.3 106.1,196.5 107.1,196.8 108.1,197 109.1,197.3 110.1,197.5 111.1,197.9 112.1,198.2 113.1,198.6 114.1,199 115.1,199.4 116.1,199.7 117.1,200.1 118.1,200.4 119.1,200.6 120.1,200.8 121.1,200.9 122.1,200.9 123.1,200.8 124.1,200.5 125.1,200.2 126.1,199.8 127.1,199.4 128.1,199 129.1,198.2 130.1,197.2 131.1,195.8 132.1,194.4 133.1,192.9 134.1,191.6 135.1,190.6 136.1,189.9 137.1,189.6 138.1,189.4 139.1,189.2 140.1,189 141.1,188.9 142,188.8 143,188.6 144,188.5 145,188.4 146,188.4 147,188.3 148,188.2 149,188.1 150,188 151,187.9 152,187.8 153,187.7 154,187.6 155,187.5 156,187.4 157,187.3 158,187.2 159,187.2 160,187.1 161,187 162,186.9 163,186.8 164,186.8 165,186.7" fill="none" stroke="#4A88D4" stroke-width="1.7" stroke-linejoin="round" stroke-linecap="round" />
<polyline points="26.3,262.8 27.3,262.8 28.3,262.8 29.3,262.8 30.3,262.8 31.3,262.8 32.3,262.7 33.3,262.7 34.3,262.7 35.3,262.6 36.3,262.6 37.3,262.5 38.3,262.5 39.3,262.4 40.3,262.4 41.3,262.3 42.3,262.2 43.3,262.2 44.3,262.1 45.3,262 46.3,261.7 47.3,261.2 48.3,260.5 49.3,259.7 50.2,258.7 51.2,257.5 52.2,256.2 53.2,253.9 54.2,251.1 55.2,248.2 56.2,245.6 57.2,243 58.2,240.4 59.2,237.7 60.2,235 61.2,232.2 62.2,229.5 63.2,226.7 64.2,223.9 65.2,220.9 66.2,217.6 67.2,213.9 68.2,209.1 69.2,203.6 70.2,198.1 71.2,193.3 72.2,189.4 73.2,185.6 74.2,182.1 75.2,179.3 76.2,178 77.2,178.4 78.2,179.7 79.2,181.3 80.2,182.8 81.2,184 82.2,185.2 83.2,186.5 84.2,187.6 85.2,188.7 86.2,189.5 87.2,190.3 88.2,191.1 89.2,191.8 90.2,192.4 91.2,193 92.2,193.6 93.2,194 94.2,194.4 95.2,194.8 96.1,195.1 97.1,195.4 98.1,195.7 99.1,195.9 100.1,196.1 101.1,196.3 102.1,196.4 103.1,196.6 104.1,196.8 105.1,197 106.1,197.1 107.1,197.3 108.1,197.5 109.1,197.6 110.1,197.8 111.1,197.9 112.1,198 113.1,198.1 114.1,198.2 115.1,198.3 116.1,198.3 117.1,198.4 118.1,198.4 119.1,198.4 120.1,198.4 121.1,198.3 122.1,198.3 123.1,198.2 124.1,198 125.1,197.9 126.1,197.7 127.1,197.6 128.1,197.4 129.1,197.2 130.1,197 131.1,196.7 132.1,196.4 133.1,196 134.1,195.5 135.1,195 136.1,194.6 137.1,194.1 138.1,193.7 139.1,193.4 140.1,193.1 141.1,192.8 142,192.6 143,192.4 144,192.1 145,191.9 146,191.7 147,191.5 148,191.3 149,191.2 150,191 151,190.8 152,190.7 153,190.5 154,190.4 155,190.3 156,190.1 157,190 158,189.9 159,189.7 160,189.6 161,189.5 162,189.4 163,189.3 164,189.3 165,189.2" fill="none" stroke="#F6AC72" stroke-width="1.7" stroke-linejoin="round" stroke-linecap="round" />
<polyline points="26.3,262.5 27.3,262.5 28.3,262.5 29.3,262.5 30.3,262.5 31.3,262.5 32.3,262.5 33.3,262.4 34.3,262.4 35.3,262.4 36.3,262.4 37.3,262.3 38.3,262.3 39.3,262.3 40.3,262.2 41.3,262.2 42.3,262.1 43.3,262.1 44.3,262 45.3,262 46.3,261.8 47.3,261.4 48.3,260.8 49.3,260.2 50.2,259.4 51.2,258.3 52.2,256.4 53.2,253.8 54.2,250.9 55.2,248.2 56.2,245.7 57.2,243.4 58.2,241.2 59.2,238.9 60.2,236.5 61.2,234 62.2,231.2 63.2,228.1 64.2,224.5 65.2,220.3 66.2,215.8 67.2,211.1 68.2,206.4 69.2,201.8 70.2,196.7 71.2,191.4 72.2,186.4 73.2,182.2 74.2,179 75.2,176.1 76.2,174 77.2,173.7 78.2,174.4 79.2,175.7 80.2,177.4 81.2,179 82.2,180.8 83.2,183 84.2,185.3 85.2,187.3 86.2,188.7 87.2,189.7 88.2,190.5 89.2,191.3 90.2,192 91.2,192.6 92.2,193.1 93.2,193.6 94.2,194 95.2,194.4 96.1,194.7 97.1,195 98.1,195.3 99.1,195.6 100.1,195.8 101.1,196.1 102.1,196.4 103.1,196.6 104.1,196.9 105.1,197.2 106.1,197.5 107.1,197.8 108.1,198.1 109.1,198.4 110.1,198.7 111.1,198.9 112.1,199.1 113.1,199.3 114.1,199.4 115.1,199.5 116.1,199.6 117.1,199.6 118.1,199.6 119.1,199.5 120.1,199.4 121.1,199.3 122.1,199.2 123.1,199 124.1,198.9 125.1,198.7 126.1,198.5 127.1,198.3 128.1,198 129.1,197.5 130.1,197 131.1,196.5 132.1,195.8 133.1,195.2 134.1,194.6 135.1,193.9 136.1,193.4 137.1,192.9 138.1,192.5 139.1,192.2 140.1,192 141.1,191.8 142,191.6 143,191.4 144,191.2 145,191.1 146,190.9 147,190.8 148,190.7 149,190.6 150,190.5 151,190.4 152,190.3 153,190.3 154,190.2 155,190.1 156,190 157,190 158,189.9 159,189.9 160,189.8 161,189.8 162,189.7 163,189.7 164,189.7 165,189.7" fill="none" stroke="#EE4848" stroke-width="1.7" stroke-linejoin="round" stroke-linecap="round" />
<rect x="26.2" y="160.5" width="139" height="110.8" fill="none" stroke="#3a3a3a" stroke-width="0.9" />
<line x1="26.2" y1="264" x2="24.2" y2="264" stroke="#3a3a3a" stroke-width="0.8" />
<line x1="26.2" y1="256.7" x2="25" y2="256.7" stroke="#3a3a3a" stroke-width="0.8" />
<line x1="26.2" y1="249.4" x2="24.2" y2="249.4" stroke="#3a3a3a" stroke-width="0.8" />
<line x1="26.2" y1="242" x2="25" y2="242" stroke="#3a3a3a" stroke-width="0.8" />
<line x1="26.2" y1="234.7" x2="24.2" y2="234.7" stroke="#3a3a3a" stroke-width="0.8" />
<line x1="26.2" y1="227.4" x2="25" y2="227.4" stroke="#3a3a3a" stroke-width="0.8" />
<line x1="26.2" y1="220.1" x2="24.2" y2="220.1" stroke="#3a3a3a" stroke-width="0.8" />
<line x1="26.2" y1="212.8" x2="25" y2="212.8" stroke="#3a3a3a" stroke-width="0.8" />
<line x1="26.2" y1="205.4" x2="24.2" y2="205.4" stroke="#3a3a3a" stroke-width="0.8" />
<line x1="26.2" y1="198.1" x2="25" y2="198.1" stroke="#3a3a3a" stroke-width="0.8" />
<line x1="26.2" y1="190.8" x2="24.2" y2="190.8" stroke="#3a3a3a" stroke-width="0.8" />
<line x1="26.2" y1="183.5" x2="25" y2="183.5" stroke="#3a3a3a" stroke-width="0.8" />
<line x1="26.2" y1="176.2" x2="24.2" y2="176.2" stroke="#3a3a3a" stroke-width="0.8" />
<line x1="26.2" y1="168.8" x2="25" y2="168.8" stroke="#3a3a3a" stroke-width="0.8" />
<line x1="26.2" y1="161.5" x2="24.2" y2="161.5" stroke="#3a3a3a" stroke-width="0.8" />
<line x1="26.2" y1="271.3" x2="25" y2="271.3" stroke="#3a3a3a" stroke-width="0.8" />
<text x="23.3" y="266.4" font-size="6.8" text-anchor="end">0</text>
<text x="23.3" y="251.8" font-size="6.8" text-anchor="end">0.2</text>
<text x="23.3" y="237.2" font-size="6.8" text-anchor="end">0.4</text>
<text x="23.3" y="222.5" font-size="6.8" text-anchor="end">0.6</text>
<text x="23.3" y="207.9" font-size="6.8" text-anchor="end">0.8</text>
<text x="23.3" y="193.2" font-size="6.8" text-anchor="end">1.0</text>
<text x="23.3" y="178.6" font-size="6.8" text-anchor="end">1.2</text>
<text x="23.3" y="164" font-size="6.8" text-anchor="end">1.4</text>
<line x1="26.2" y1="271.3" x2="26.2" y2="273.3" stroke="#3a3a3a" stroke-width="0.8" />
<line x1="40.1" y1="271.3" x2="40.1" y2="272.5" stroke="#3a3a3a" stroke-width="0.8" />
<line x1="54" y1="271.3" x2="54" y2="273.3" stroke="#3a3a3a" stroke-width="0.8" />
<line x1="67.9" y1="271.3" x2="67.9" y2="272.5" stroke="#3a3a3a" stroke-width="0.8" />
<line x1="81.8" y1="271.3" x2="81.8" y2="273.3" stroke="#3a3a3a" stroke-width="0.8" />
<line x1="95.7" y1="271.3" x2="95.7" y2="272.5" stroke="#3a3a3a" stroke-width="0.8" />
<line x1="109.6" y1="271.3" x2="109.6" y2="273.3" stroke="#3a3a3a" stroke-width="0.8" />
<line x1="123.5" y1="271.3" x2="123.5" y2="272.5" stroke="#3a3a3a" stroke-width="0.8" />
<line x1="137.4" y1="271.3" x2="137.4" y2="273.3" stroke="#3a3a3a" stroke-width="0.8" />
<line x1="151.3" y1="271.3" x2="151.3" y2="272.5" stroke="#3a3a3a" stroke-width="0.8" />
<line x1="165.2" y1="271.3" x2="165.2" y2="273.3" stroke="#3a3a3a" stroke-width="0.8" />
<text x="26.2" y="282.2" font-size="7.6" text-anchor="middle">8960</text>
<text x="54" y="282.2" font-size="7.6" text-anchor="middle">8980</text>
<text x="81.8" y="282.2" font-size="7.6" text-anchor="middle">9000</text>
<text x="109.6" y="282.2" font-size="7.6" text-anchor="middle">9020</text>
<text x="137.4" y="282.2" font-size="7.6" text-anchor="middle">9040</text>
<text x="165.2" y="282.2" font-size="7.6" text-anchor="middle">9060</text>
<text x="92" y="294.2" font-size="8.3" text-anchor="middle">Energy (eV)</text>
<text x="0" y="0" font-size="8.3" text-anchor="middle" fill="#222" transform="translate(9.6 217.5) rotate(-90)">Normalized <tspan font-style="italic">χ</tspan>μ (E)</text>
<text x="158.4" y="170.9" font-size="7.6" text-anchor="end">Cu K-edge</text>
<line x1="104.6" y1="228.9" x2="115.6" y2="228.9" stroke="#A3A3A3" stroke-width="1.7" />
<text x="119.4" y="231.7" font-size="7.8">Cu Foil</text>
<line x1="104.6" y1="238.1" x2="115.6" y2="238.1" stroke="#4A88D4" stroke-width="1.7" />
<text x="119.4" y="240.9" font-size="7.8">Cu-PC</text>
<line x1="104.6" y1="247.3" x2="115.6" y2="247.3" stroke="#F6AC72" stroke-width="1.7" />
<text x="119.4" y="250.1" font-size="7.8">Cu-SAC</text>
<line x1="104.6" y1="256.5" x2="115.6" y2="256.5" stroke="#EE4848" stroke-width="1.7" />
<text x="119.4" y="259.3" font-size="7.8">CuNi-DAC</text>
<text x="191.9" y="164.6" font-size="13.8" font-weight="bold" fill="#000">f</text>
<rect x="246.9" y="244.9" width="7.1" height="24.5" fill="#F6DADA" />
<polyline points="206.8,261.2 207.8,261.4 208.8,261.6 209.8,261.8 210.8,262.1 211.8,262.5 212.8,263 213.8,263.5 214.8,264 215.8,264.3 216.8,264.1 217.8,263.1 218.8,261.7 219.8,260.3 220.8,259.4 221.8,259.3 222.8,260.1 223.8,261.1 224.8,262 225.8,262.1 226.8,260.8 227.8,258.5 228.8,255.9 229.8,253.6 230.7,252.2 231.7,252.2 232.7,253.7 233.7,255.6 234.7,257.4 235.7,258.1 236.7,256.9 237.7,254.1 238.7,245.7 239.7,233 240.7,220.1 241.7,208 242.7,195.3 243.7,185.2 244.7,177.6 245.7,172.8 246.7,174.6 247.7,180.4 248.7,188.2 249.7,201.1 250.7,215.5 251.7,228.6 252.7,242.2 253.7,252.3 254.7,256.9 255.7,260.2 256.7,262 257.7,262.1 258.7,261.8 259.7,261.4 260.7,261 261.7,260.5 262.7,260 263.7,259.4 264.7,258.6 265.7,257.7 266.7,256.3 267.7,254.6 268.7,253.1 269.7,251.7 270.7,250.3 271.7,249.1 272.7,248.6 273.7,249.1 274.7,250.6 275.6,252.1 276.6,253.2 277.6,254.3 278.6,255 279.6,255.1 280.6,253.6 281.6,251.2 282.6,248.7 283.6,245.7 284.6,242.3 285.6,239.7 286.6,237.5 287.6,235.7 288.6,234.9 289.6,235.6 290.6,237.2 291.6,238.9 292.6,240.4 293.6,242.2 294.6,243.8 295.6,244.9 296.6,245 297.6,244.5 298.6,243.6 299.6,242.8 300.6,242.1 301.6,241.5 302.6,240.9 303.6,240.4 304.6,240.1 305.6,240.3 306.6,241.4 307.6,243.2 308.6,245.2 309.6,247.1 310.6,249.3 311.6,251.8 312.6,254.3 313.6,256.1 314.6,256.9 315.6,257.3 316.6,257.5 317.6,257.7 318.6,257.9 319.6,258.1 320.6,258.4 321.6,258.7 322.5,259.1 323.5,259.5 324.5,259.9 325.5,260.3 326.5,260.7 327.5,261.1 328.5,261.5 329.5,261.9 330.5,262.2 331.5,262.5 332.5,262.8 333.5,263.1 334.5,263.3 335.5,263.6 336.5,263.8 337.5,264 338.5,264.3 339.5,264.5 340.5,264.7 341.5,264.8 342.5,265 343.5,265.2 344.5,265.3" fill="none" stroke="#A3A3A3" stroke-width="1.6" stroke-linejoin="round" stroke-linecap="round" />
<polyline points="206.8,260.2 207.8,259.2 208.8,258.2 209.8,257.3 210.8,256.4 211.8,255.5 212.8,254.8 213.8,254.2 214.8,253.4 215.8,252.5 216.8,251.2 217.8,249.2 218.8,246.7 219.8,244 220.8,241.2 221.8,238.4 222.8,235.2 223.8,231.9 224.8,228.9 225.8,226.8 226.8,224.8 227.8,223.4 228.8,223.1 229.8,224.2 230.7,226.3 231.7,228.9 232.7,233.4 233.7,239.3 234.7,244.4 235.7,249.6 236.7,254.2 237.7,256.1 238.7,255.6 239.7,254.7 240.7,254 241.7,253.7 242.7,253.5 243.7,253.3 244.7,253.1 245.7,252.7 246.7,252.2 247.7,251.8 248.7,251.6 249.7,251.9 250.7,253 251.7,254.5 252.7,255.8 253.7,256.8 254.7,257.8 255.7,258.6 256.7,259.1 257.7,258.9 258.7,257.4 259.7,256 260.7,255.8 261.7,256.5 262.7,257.5 263.7,258.8 264.7,260.9 265.7,262.9 266.7,263.3 267.7,263.1 268.7,262.8 269.7,262.4 270.7,261.9 271.7,261.5 272.7,261.1 273.7,260.7 274.7,260.3 275.6,259.9 276.6,259.5 277.6,259.1 278.6,258.9 279.6,258.7 280.6,258.6 281.6,258.9 282.6,259.5 283.6,260.3 284.6,261.2 285.6,261.8 286.6,262.2 287.6,262.3 288.6,262.4 289.6,262.4 290.6,262.5 291.6,262.5 292.6,262.6 293.6,262.6 294.6,262.6 295.6,262.6 296.6,262.4 297.6,262.2 298.6,261.8 299.6,261.5 300.6,261.1 301.6,260.7 302.6,260.3 303.6,260 304.6,259.8 305.6,259.6 306.6,259.6 307.6,260 308.6,260.6 309.6,261.2 310.6,261.9 311.6,262.3 312.6,262.7 313.6,263 314.6,263.3 315.6,263.6 316.6,263.9 317.6,264.1 318.6,264.2 319.6,264.3 320.6,264.3 321.6,264.4 322.5,264.4 323.5,264.4 324.5,264.5 325.5,264.5 326.5,264.5 327.5,264.5 328.5,264.6 329.5,264.6 330.5,264.6 331.5,264.6 332.5,264.6 333.5,264.6 334.5,264.6 335.5,264.7 336.5,264.7 337.5,264.7 338.5,264.7 339.5,264.7 340.5,264.7 341.5,264.7 342.5,264.7 343.5,264.7 344.5,264.7" fill="none" stroke="#4A88D4" stroke-width="1.6" stroke-linejoin="round" stroke-linecap="round" />
<polyline points="206.8,262.2 207.8,261.7 208.8,261.2 209.8,260.7 210.8,260.3 211.8,259.9 212.8,259.6 213.8,259.3 214.8,259 215.8,258.7 216.8,258.3 217.8,257.9 218.8,257.3 219.8,256.6 220.8,255.7 221.8,254.7 222.8,253.5 223.8,251.2 224.8,248.2 225.8,245 226.8,242.1 227.8,240.2 228.8,239.7 229.8,240.4 230.7,241.8 231.7,243.8 232.7,246 233.7,248.2 234.7,251.8 235.7,256.3 236.7,260.3 237.7,262.2 238.7,262.7 239.7,263.1 240.7,263.5 241.7,263.7 242.7,263.8 243.7,263.9 244.7,263.8 245.7,263.5 246.7,263.1 247.7,262.8 248.7,262.6 249.7,262.8 250.7,263.4 251.7,264.1 252.7,264.9 253.7,265.3 254.7,265.3 255.7,265.2 256.7,265.2 257.7,265.1 258.7,265 259.7,264.9 260.7,264.7 261.7,264.6 262.7,264.5 263.7,264.4 264.7,264.3 265.7,264.3 266.7,264.3 267.7,264.3 268.7,264.3 269.7,264.3 270.7,264.3 271.7,264.3 272.7,264.3 273.7,264.3 274.7,264.3 275.6,264.3 276.6,264.3 277.6,264.3 278.6,264.3 279.6,264.3 280.6,264.3 281.6,264.3 282.6,264.3 283.6,264.3 284.6,264.3 285.6,264.3 286.6,264.3 287.6,264.3 288.6,264.3 289.6,264.3 290.6,264.3 291.6,264.3 292.6,264.3 293.6,264.3 294.6,264.3 295.6,264.4 296.6,264.4 297.6,264.4 298.6,264.4 299.6,264.4 300.6,264.4 301.6,264.4 302.6,264.4 303.6,264.4 304.6,264.4 305.6,264.4 306.6,264.4 307.6,264.4 308.6,264.5 309.6,264.5 310.6,264.5 311.6,264.5 312.6,264.5 313.6,264.5 314.6,264.5 315.6,264.6 316.6,264.6 317.6,264.6 318.6,264.6 319.6,264.6 320.6,264.6 321.6,264.7 322.5,264.7 323.5,264.7 324.5,264.7 325.5,264.7 326.5,264.8 327.5,264.8 328.5,264.8 329.5,264.8 330.5,264.9 331.5,264.9 332.5,264.9 333.5,264.9 334.5,265 335.5,265 336.5,265 337.5,265.1 338.5,265.1 339.5,265.1 340.5,265.2 341.5,265.2 342.5,265.2 343.5,265.3 344.5,265.3" fill="none" stroke="#F6AC72" stroke-width="1.6" stroke-linejoin="round" stroke-linecap="round" />
<polyline points="206.8,263.3 207.8,263 208.8,262.5 209.8,262 210.8,261.4 211.8,260.7 212.8,259.7 213.8,258.7 214.8,257.5 215.8,256.5 216.8,255.6 217.8,254.9 218.8,254.3 219.8,253.5 220.8,252.6 221.8,251.3 222.8,249.1 223.8,246.3 224.8,243.5 225.8,240.9 226.8,237.8 227.8,235.3 228.8,234.6 229.8,235.2 230.7,236.4 231.7,238.1 232.7,240 233.7,244 234.7,250.1 235.7,256.4 236.7,261.4 237.7,263.3 238.7,262.7 239.7,261.2 240.7,259.6 241.7,258.2 242.7,257.1 243.7,256.1 244.7,255.1 245.7,254.4 246.7,254 247.7,254.5 248.7,256.1 249.7,258.1 250.7,259.8 251.7,261 252.7,262.2 253.7,263.3 254.7,263.8 255.7,263.9 256.7,263.9 257.7,263.8 258.7,263.8 259.7,263.7 260.7,263.6 261.7,263.5 262.7,263.4 263.7,263.4 264.7,263.3 265.7,263.3 266.7,263.3 267.7,263.3 268.7,263.3 269.7,263.4 270.7,263.4 271.7,263.5 272.7,263.5 273.7,263.6 274.7,263.7 275.6,263.7 276.6,263.8 277.6,263.9 278.6,264 279.6,264 280.6,264.1 281.6,264.1 282.6,264.2 283.6,264.2 284.6,264.3 285.6,264.3 286.6,264.3 287.6,264.3 288.6,264.3 289.6,264.3 290.6,264.3 291.6,264.2 292.6,264.2 293.6,264.2 294.6,264.1 295.6,264.1 296.6,264.1 297.6,264 298.6,264 299.6,263.9 300.6,263.9 301.6,263.8 302.6,263.8 303.6,263.7 304.6,263.7 305.6,263.6 306.6,263.6 307.6,263.5 308.6,263.5 309.6,263.5 310.6,263.4 311.6,263.4 312.6,263.4 313.6,263.3 314.6,263.3 315.6,263.3 316.6,263.3 317.6,263.3 318.6,263.3 319.6,263.3 320.6,263.3 321.6,263.3 322.5,263.4 323.5,263.4 324.5,263.4 325.5,263.4 326.5,263.5 327.5,263.5 328.5,263.6 329.5,263.6 330.5,263.7 331.5,263.7 332.5,263.8 333.5,263.8 334.5,263.9 335.5,264 336.5,264 337.5,264.1 338.5,264.2 339.5,264.3 340.5,264.4 341.5,264.4 342.5,264.5 343.5,264.6 344.5,264.7" fill="none" stroke="#EE4848" stroke-width="1.6" stroke-linejoin="round" stroke-linecap="round" />
<line x1="245.9" y1="173.3" x2="245.9" y2="202" stroke="#999" stroke-width="0.7" stroke-dasharray="1,0.8"/>
<line x1="228.9" y1="217.3" x2="228.9" y2="250" stroke="#999" stroke-width="0.7" stroke-dasharray="1,0.8"/>
<rect x="206.3" y="159.6" width="138.7" height="112.4" fill="none" stroke="#3a3a3a" stroke-width="0.9" />
<line x1="217.7" y1="272" x2="217.7" y2="274" stroke="#3a3a3a" stroke-width="0.8" />
<line x1="229.3" y1="272" x2="229.3" y2="273.2" stroke="#3a3a3a" stroke-width="0.8" />
<line x1="240.9" y1="272" x2="240.9" y2="274" stroke="#3a3a3a" stroke-width="0.8" />
<line x1="252.5" y1="272" x2="252.5" y2="273.2" stroke="#3a3a3a" stroke-width="0.8" />
<line x1="264.1" y1="272" x2="264.1" y2="274" stroke="#3a3a3a" stroke-width="0.8" />
<line x1="275.7" y1="272" x2="275.7" y2="273.2" stroke="#3a3a3a" stroke-width="0.8" />
<line x1="287.3" y1="272" x2="287.3" y2="274" stroke="#3a3a3a" stroke-width="0.8" />
<line x1="298.9" y1="272" x2="298.9" y2="273.2" stroke="#3a3a3a" stroke-width="0.8" />
<line x1="310.5" y1="272" x2="310.5" y2="274" stroke="#3a3a3a" stroke-width="0.8" />
<line x1="322.2" y1="272" x2="322.2" y2="273.2" stroke="#3a3a3a" stroke-width="0.8" />
<line x1="333.8" y1="272" x2="333.8" y2="274" stroke="#3a3a3a" stroke-width="0.8" />
<text x="217.7" y="282" font-size="7.4" text-anchor="middle">1</text>
<text x="240.9" y="282" font-size="7.4" text-anchor="middle">2</text>
<text x="264.1" y="282" font-size="7.4" text-anchor="middle">3</text>
<text x="287.3" y="282" font-size="7.4" text-anchor="middle">4</text>
<text x="310.5" y="282" font-size="7.4" text-anchor="middle">5</text>
<text x="333.8" y="282" font-size="7.4" text-anchor="middle">6</text>
<text x="278.3" y="294.6" font-size="8.3" text-anchor="middle">Radial distance (Å)</text>
<text x="0" y="0" font-size="8.5" text-anchor="middle" fill="#222" transform="translate(194.4 212.3) rotate(-90)"><tspan font-size="11.5" dy="0.9">|</tspan><tspan dx="1.6" dy="-0.9">FT(k</tspan><tspan font-size="5.6" dy="-2.9">2</tspan><tspan dy="2.9" font-style="italic">χ</tspan>(k))<tspan dx="1.6" font-size="11.5" dy="0.9">|</tspan><tspan dx="4.2" dy="-0.9">(Å</tspan><tspan font-size="5.6" dy="-2.9">-3</tspan><tspan dy="2.9">)</tspan></text>
<text x="245.9" y="168.4" font-size="8.3" text-anchor="middle">Cu-Cu</text>
<text x="226.9" y="214.5" font-size="8.3" text-anchor="middle">Cu-N</text>
<text x="338.9" y="170.5" font-size="7.6" text-anchor="end">Cu K-edge</text>
<line x1="286.7" y1="184.6" x2="298" y2="184.6" stroke="#A3A3A3" stroke-width="1.7" />
<text x="300.8" y="187.4" font-size="7.8">Cu Foil</text>
<line x1="286.7" y1="193.8" x2="298" y2="193.8" stroke="#4A88D4" stroke-width="1.7" />
<text x="300.8" y="196.6" font-size="7.8">Cu-PC</text>
<line x1="286.7" y1="203" x2="298" y2="203" stroke="#F6AC72" stroke-width="1.7" />
<text x="300.8" y="205.8" font-size="7.8">Cu-SAC</text>
<line x1="286.7" y1="212.8" x2="298" y2="212.8" stroke="#EE4848" stroke-width="1.7" />
<text x="300.8" y="215.6" font-size="7.8">CuNi-DAC</text>
<text x="258.5" y="227.2" font-size="7.8">2.48-2.52 Å</text>
<line x1="251" y1="242.8" x2="264.3" y2="228.5" stroke="#333" stroke-width="0.8" />
<polygon points="264.3,228.5 263.6,230.8 262.1,229.4" fill="#333"/>
<text x="1.6" y="329.4" font-size="14.5" font-weight="bold" fill="#000">g</text>
<polyline points="25,427.3 26,427.2 27,427.2 28,427.2 29,427.2 30,427.1 31,427.1 32,427 33,427 34,426.9 35,426.8 36,426.7 37,426.6 38,426.4 39,426.3 40,426 41,425.5 42,424.7 43,423.7 44,421.9 45,418.3 46,413.9 47,409.4 48,404.4 49,401.8 50,400.4 51,399.3 52,398.1 53,396.9 54,395.5 55,393.9 56,391.8 57,389.3 58,386.5 59,383.3 60,379.7 61,376 62,372.3 63,368.6 64,364.8 65,361.4 66,357.7 67,355.6 68,355 69,354.7 70,355.2 71,356.1 72,356.7 73,357 74,357.2 75,356.5 76,355.1 77,353.8 78,352.8 79,351.9 80,351.7 81,352.1 82,352.8 83,353.5 84,354.1 85,354.8 86,355.4 87,356.1 88,356.6 89,357 90,357.5 91,357.9 92,358.3 93,358.6 94,358.8 95,358.8 96,358.7 97,358.6 98,358.4 99,358.2 100,357.9 101,357.6 102,357.1 103,356.2 104,355.3 105,354.3 106,353.3 107,352.5 108,351.6 109,350.6 110,349.7 111,348.9 112,348.2 113,347.7 114,347.5 115,347.9 116,348.6 117,349.6 118,350.7 119,351.6 120,352.5 121,353.6 122,354.6 123,355.6 124,356.3 125,356.7 126,356.8 127,356.9 128,357 129,357 130,357.1 131,357.1 132,357.2 133,357.3 134,357.4 135,357.4 136,357.5 137,357.6 138,357.7 139,357.7 140,357.8 141,357.9 142,357.9 143,358 144,358.1 145,358.1 146,358.2 147,358.2 148,358.3 149,358.3 150,358.4 151,358.4 152,358.4 153,358.3 154,358.3 155,358.2 156,358 157,357.9 158,357.7 159,357.5 160,357.2 161,356.9 162,356.7 163,356.4 164,356 165,355.7" fill="none" stroke="#A3A3A3" stroke-width="1.7" stroke-linejoin="round" stroke-linecap="round" />
<polyline points="25,427.3 26,427.2 27,427.2 28,427.2 29,427.2 30,427.2 31,427.1 32,427.1 33,427 34,427 35,426.9 36,426.8 37,426.7 38,426.6 39,426.5 40,426.4 41,426.3 42,426 43,425.2 44,424.3 45,423.4 46,423 47,422.7 48,422.4 49,421.3 50,417.5 51,412.8 52,406.9 53,398.7 54,392.4 55,392.4 56,396.7 57,399.5 58,397.9 59,391.8 60,386.2 61,381.4 62,376.7 63,372.3 64,368 65,363.9 66,360.4 67,357.4 68,354.7 69,352.5 70,350.8 71,349.3 72,348 73,346.6 74,345.1 75,343.7 76,342.2 77,340.6 78,338.5 79,336.1 80,334.7 81,334.9 82,335.8 83,337 84,338.6 85,341.1 86,343.8 87,346 88,348.4 89,350.6 90,352.2 91,353.1 92,353.8 93,354.4 94,354.9 95,355.3 96,355.6 97,355.8 98,356 99,356.1 100,356.3 101,356.4 102,356.6 103,356.9 104,357.3 105,358 106,358.8 107,359.6 108,360.4 109,360.9 110,361.5 111,362 112,362.5 113,362.9 114,363.2 115,363.3 116,363 117,362.4 118,361.6 119,360.8 120,359.9 121,358.7 122,357.5 123,356.3 124,355.3 125,354.7 126,354.5 127,354.3 128,354.1 129,354 130,353.9 131,353.8 132,353.7 133,353.7 134,353.7 135,353.7 136,353.8 137,353.9 138,353.9 139,354 140,354.1 141,354.2 142,354.3 143,354.3 144,354.3 145,354.3 146,354.2 147,354.1 148,354 149,353.8 150,353.7 151,353.5 152,353.3 153,353.2 154,353 155,352.8 156,352.6 157,352.4 158,352.3 159,352 160,351.8 161,351.6 162,351.4 163,351.1 164,350.9 165,350.6" fill="none" stroke="#4A88D4" stroke-width="1.7" stroke-linejoin="round" stroke-linecap="round" />
<polyline points="25,427.3 26,427.2 27,427.2 28,427.2 29,427.2 30,427.2 31,427.1 32,427.1 33,427 34,427 35,426.9 36,426.8 37,426.7 38,426.6 39,426.5 40,426.4 41,426.3 42,426.1 43,425.5 44,424.6 45,423.6 46,422.5 47,421 48,419.1 49,416.8 50,413.6 51,409.8 52,405.9 53,402.3 54,398.8 55,395.4 56,391.8 57,388.1 58,384.1 59,379.9 60,375.4 61,370.7 62,365.9 63,360.4 64,354.6 65,349.6 66,346.2 67,343.9 68,342.1 69,341.4 70,342.1 71,343.2 72,344.1 73,344.4 74,344.6 75,344.7 76,344.9 77,345 78,345.1 79,345.3 80,345.5 81,345.8 82,346.4 83,347.3 84,348.2 85,349.3 86,350.3 87,351.3 88,352.6 89,353.9 90,355.2 91,356.4 92,357.4 93,358.1 94,358.7 95,359.3 96,359.8 97,360.2 98,360.6 99,361 100,361.4 101,361.9 102,362.3 103,362.6 104,362.8 105,362.9 106,362.8 107,362.7 108,362.5 109,362.3 110,362.1 111,361.8 112,361.5 113,361 114,360.5 115,359.9 116,359.3 117,358.8 118,358.1 119,357.4 120,356.5 121,355.7 122,355 123,354.3 124,353.9 125,353.7 126,353.7 127,353.7 128,353.7 129,353.7 130,353.7 131,353.7 132,353.7 133,353.7 134,353.7 135,353.7 136,353.7 137,353.7 138,353.8 139,353.9 140,354 141,354.1 142,354.3 143,354.4 144,354.5 145,354.6 146,354.7 147,354.7 148,354.7 149,354.7 150,354.7 151,354.6 152,354.5 153,354.5 154,354.4 155,354.2 156,354.1 157,354 158,353.8 159,353.6 160,353.4 161,353.2 162,353 163,352.8 164,352.5 165,352.2" fill="none" stroke="#9ED6DE" stroke-width="1.7" stroke-linejoin="round" stroke-linecap="round" />
<polyline points="25,427.3 26,427.2 27,427.2 28,427.2 29,427.2 30,427.1 31,427.1 32,427 33,426.9 34,426.9 35,426.8 36,426.6 37,426.5 38,426.4 39,426.2 40,426.1 41,425.9 42,425.6 43,424.8 44,423.7 45,422.6 46,421.6 47,420.8 48,419.9 49,418.8 50,417.1 51,414.1 52,410.1 53,406 54,402.4 55,399 56,395.5 57,392 58,388.3 59,384.5 60,380.6 61,376.5 62,372.1 63,367.1 64,361.7 65,356.6 66,352.2 67,348.4 68,345.1 69,342.3 70,339.7 71,338.4 72,339 73,340.4 74,341.4 75,341.7 76,341.9 77,342.1 78,342.4 79,342.8 80,343.2 81,343.7 82,344.3 83,345.1 84,346.1 85,347.2 86,348.2 87,349.3 88,350.4 89,351.5 90,352.5 91,353.5 92,354.4 93,355.1 94,355.7 95,356.3 96,356.8 97,357.3 98,357.8 99,358.2 100,358.6 101,358.9 102,359.3 103,359.6 104,359.9 105,360.2 106,360.5 107,360.7 108,360.8 109,360.8 110,360.7 111,360.4 112,360.1 113,359.6 114,359.2 115,358.8 116,358.3 117,357.8 118,357.3 119,356.7 120,356.1 121,355.6 122,355.1 123,354.7 124,354.4 125,354.1 126,353.8 127,353.5 128,353.2 129,352.9 130,352.7 131,352.5 132,352.3 133,352.1 134,351.9 135,351.7 136,351.5 137,351.4 138,351.3 139,351.1 140,351 141,350.9 142,350.8 143,350.7 144,350.6 145,350.5 146,350.4 147,350.3 148,350.2 149,350.1 150,350 151,349.9 152,349.8 153,349.7 154,349.6 155,349.5 156,349.4 157,349.3 158,349.2 159,349.1 160,349 161,348.9 162,348.8 163,348.7 164,348.7 165,348.6" fill="none" stroke="#EE4848" stroke-width="1.7" stroke-linejoin="round" stroke-linecap="round" />
<rect x="26.3" y="324.5" width="138.9" height="110.1" fill="none" stroke="#3a3a3a" stroke-width="0.9" />
<line x1="26.3" y1="427.3" x2="24.3" y2="427.3" stroke="#3a3a3a" stroke-width="0.8" />
<line x1="26.3" y1="420" x2="25.1" y2="420" stroke="#3a3a3a" stroke-width="0.8" />
<line x1="26.3" y1="412.7" x2="24.3" y2="412.7" stroke="#3a3a3a" stroke-width="0.8" />
<line x1="26.3" y1="405.3" x2="25.1" y2="405.3" stroke="#3a3a3a" stroke-width="0.8" />
<line x1="26.3" y1="398" x2="24.3" y2="398" stroke="#3a3a3a" stroke-width="0.8" />
<line x1="26.3" y1="390.7" x2="25.1" y2="390.7" stroke="#3a3a3a" stroke-width="0.8" />
<line x1="26.3" y1="383.4" x2="24.3" y2="383.4" stroke="#3a3a3a" stroke-width="0.8" />
<line x1="26.3" y1="376.1" x2="25.1" y2="376.1" stroke="#3a3a3a" stroke-width="0.8" />
<line x1="26.3" y1="368.7" x2="24.3" y2="368.7" stroke="#3a3a3a" stroke-width="0.8" />
<line x1="26.3" y1="361.4" x2="25.1" y2="361.4" stroke="#3a3a3a" stroke-width="0.8" />
<line x1="26.3" y1="354.1" x2="24.3" y2="354.1" stroke="#3a3a3a" stroke-width="0.8" />
<line x1="26.3" y1="346.8" x2="25.1" y2="346.8" stroke="#3a3a3a" stroke-width="0.8" />
<line x1="26.3" y1="339.5" x2="24.3" y2="339.5" stroke="#3a3a3a" stroke-width="0.8" />
<line x1="26.3" y1="332.1" x2="25.1" y2="332.1" stroke="#3a3a3a" stroke-width="0.8" />
<line x1="26.3" y1="324.8" x2="24.3" y2="324.8" stroke="#3a3a3a" stroke-width="0.8" />
<line x1="26.3" y1="434.6" x2="25.1" y2="434.6" stroke="#3a3a3a" stroke-width="0.8" />
<text x="23.3" y="429.7" font-size="6.8" text-anchor="end">0</text>
<text x="23.3" y="415.1" font-size="6.8" text-anchor="end">0.2</text>
<text x="23.3" y="400.5" font-size="6.8" text-anchor="end">0.4</text>
<text x="23.3" y="385.8" font-size="6.8" text-anchor="end">0.6</text>
<text x="23.3" y="371.2" font-size="6.8" text-anchor="end">0.8</text>
<text x="23.3" y="356.5" font-size="6.8" text-anchor="end">1.0</text>
<text x="23.3" y="341.9" font-size="6.8" text-anchor="end">1.2</text>
<text x="23.3" y="327.3" font-size="6.8" text-anchor="end">1.4</text>
<line x1="26.3" y1="434.6" x2="26.3" y2="436.6" stroke="#3a3a3a" stroke-width="0.8" />
<line x1="40.2" y1="434.6" x2="40.2" y2="435.8" stroke="#3a3a3a" stroke-width="0.8" />
<line x1="54.1" y1="434.6" x2="54.1" y2="436.6" stroke="#3a3a3a" stroke-width="0.8" />
<line x1="68" y1="434.6" x2="68" y2="435.8" stroke="#3a3a3a" stroke-width="0.8" />
<line x1="81.9" y1="434.6" x2="81.9" y2="436.6" stroke="#3a3a3a" stroke-width="0.8" />
<line x1="95.7" y1="434.6" x2="95.7" y2="435.8" stroke="#3a3a3a" stroke-width="0.8" />
<line x1="109.6" y1="434.6" x2="109.6" y2="436.6" stroke="#3a3a3a" stroke-width="0.8" />
<line x1="123.5" y1="434.6" x2="123.5" y2="435.8" stroke="#3a3a3a" stroke-width="0.8" />
<line x1="137.4" y1="434.6" x2="137.4" y2="436.6" stroke="#3a3a3a" stroke-width="0.8" />
<line x1="151.3" y1="434.6" x2="151.3" y2="435.8" stroke="#3a3a3a" stroke-width="0.8" />
<line x1="165.2" y1="434.6" x2="165.2" y2="436.6" stroke="#3a3a3a" stroke-width="0.8" />
<text x="26.3" y="445.3" font-size="7.6" text-anchor="middle">8320</text>
<text x="54.1" y="445.3" font-size="7.6" text-anchor="middle">8340</text>
<text x="81.9" y="445.3" font-size="7.6" text-anchor="middle">8360</text>
<text x="109.6" y="445.3" font-size="7.6" text-anchor="middle">8380</text>
<text x="137.4" y="445.3" font-size="7.6" text-anchor="middle">8400</text>
<text x="165.2" y="445.3" font-size="7.6" text-anchor="middle">8420</text>
<text x="0" y="0" font-size="8.3" text-anchor="middle" fill="#222" transform="translate(7.8 378.3) rotate(-90)">Normalized <tspan font-style="italic">χ</tspan>μ (E)</text>
<text x="157.8" y="334.5" font-size="7.6" text-anchor="end">Ni K-edge</text>
<line x1="104.3" y1="393.9" x2="114.9" y2="393.9" stroke="#A3A3A3" stroke-width="1.7" />
<text x="118.6" y="396.7" font-size="7.8">Ni Foil</text>
<line x1="104.3" y1="403.1" x2="114.9" y2="403.1" stroke="#4A88D4" stroke-width="1.7" />
<text x="118.6" y="405.9" font-size="7.8">Ni-PC</text>
<line x1="104.3" y1="411.9" x2="114.9" y2="411.9" stroke="#9ED6DE" stroke-width="1.7" />
<text x="118.6" y="414.7" font-size="7.8">Ni-SAC</text>
<line x1="104.3" y1="422.1" x2="114.9" y2="422.1" stroke="#EE4848" stroke-width="1.7" />
<text x="118.6" y="424.9" font-size="7.8">CuNi-DAC</text>
<text x="94" y="456.6" font-size="8.3" text-anchor="middle">Energy (eV)</text>
<text x="191.4" y="329" font-size="13.8" font-weight="bold" fill="#000">h</text>
<rect x="246.3" y="405.8" width="7.4" height="24.1" fill="#F6DADA" />
<polyline points="204.8,422.6 205.8,422.6 206.8,422.7 207.8,422.7 208.8,422.8 209.8,422.9 210.8,423 211.8,423.1 212.8,423.2 213.8,423.4 214.8,423.7 215.8,423.9 216.7,424.1 217.7,424.2 218.7,424.2 219.7,423.9 220.7,423.4 221.7,422.9 222.7,422.4 223.7,422.1 224.7,421.8 225.7,421.6 226.7,421.4 227.7,421.1 228.7,420.6 229.7,420 230.7,419.1 231.7,418 232.7,415 233.6,410 234.6,403.8 235.6,395.5 236.6,384.8 237.6,374.1 238.6,363.9 239.6,353.8 240.6,345.6 241.6,339.6 242.6,334.9 243.6,334 244.6,335.2 245.6,337.5 246.6,342.1 247.6,352 248.6,362.9 249.6,373.4 250.5,384.4 251.5,395.8 252.5,407.7 253.5,414.7 254.5,419 255.5,420.4 256.5,420.8 257.5,421.1 258.5,421.1 259.5,421.1 260.5,421.1 261.5,421.1 262.5,421 263.5,419.2 264.5,416.2 265.5,413.6 266.5,411.2 267.4,408.7 268.4,407.1 269.4,407.1 270.4,409 271.4,411.7 272.4,413.9 273.4,415.3 274.4,416.6 275.4,417.6 276.4,418 277.4,417.4 278.4,415.2 279.4,412 280.4,408.7 281.4,405.1 282.4,400.7 283.4,396.7 284.3,393.8 285.3,391.3 286.3,390.5 287.3,391.6 288.3,393.6 289.3,395.7 290.3,398.5 291.3,401 292.3,401.9 293.3,402.4 294.3,402.7 295.3,402.6 296.3,401.6 297.3,400.1 298.3,399.1 299.3,398.3 300.3,397.8 301.2,397.7 302.2,399 303.2,401.5 304.2,403.9 305.2,406.4 306.2,409.1 307.2,411.7 308.2,413.9 309.2,415.8 310.2,417.6 311.2,419 312.2,420 313.2,420.6 314.2,421.1 315.2,421.5 316.2,421.8 317.2,422 318.1,422.1 319.1,422.1 320.1,422.1 321.1,422.1 322.1,422.1 323.1,422.1 324.1,422.1 325.1,422.1 326.1,422.1 327.1,422.1 328.1,422.1 329.1,422.1 330.1,422.1 331.1,422.1 332.1,422.1 333.1,422.1 334.1,422.1 335,422.1 336,422 337,421.6 338,421.1 339,420.6 340,420 341,419.4 342,418.7 343,417.9 344,417" fill="none" stroke="#606060" stroke-width="1.6" stroke-linejoin="round" stroke-linecap="round" />
<polyline points="204.8,422.1 205.8,422 206.8,421.8 207.8,421.5 208.8,421.2 209.8,420.9 210.8,420.5 211.8,420 212.8,419.3 213.8,418.5 214.8,417.2 215.8,414.3 216.7,410.2 217.7,405.8 218.7,401.7 219.7,398.4 220.7,395 221.7,391.6 222.7,388.9 223.7,387.5 224.7,387.7 225.7,389.2 226.7,391.5 227.7,394 228.7,397.7 229.7,402.6 230.7,407.7 231.7,412.2 232.7,416.9 233.6,421.2 234.6,423.2 235.6,421.8 236.6,418.9 237.6,416.2 238.6,414.3 239.6,412.4 240.6,411.1 241.6,411 242.6,412.2 243.6,413.9 244.6,415.6 245.6,416.9 246.6,418.2 247.6,419.4 248.6,420 249.6,420.1 250.5,420 251.5,419.9 252.5,419.8 253.5,419.8 254.5,419.7 255.5,419.7 256.5,419.9 257.5,420.2 258.5,420.5 259.5,420.8 260.5,421.1 261.5,421.1 262.5,421.1 263.5,421.1 264.5,421.1 265.5,421.1 266.5,421.1 267.4,421.1 268.4,421.1 269.4,421.1 270.4,421.1 271.4,421.1 272.4,421 273.4,420.9 274.4,420.8 275.4,420.8 276.4,420.7 277.4,420.7 278.4,420.7 279.4,420.8 280.4,420.8 281.4,420.9 282.4,421 283.4,421 284.3,421.1 285.3,421.1 286.3,421.1 287.3,421.1 288.3,421 289.3,420.9 290.3,420.7 291.3,420.5 292.3,420.4 293.3,420.2 294.3,420 295.3,419.8 296.3,419.5 297.3,419.2 298.3,418.8 299.3,418.5 300.3,418.3 301.2,418.1 302.2,418.1 303.2,418.2 304.2,418.4 305.2,418.8 306.2,419.3 307.2,419.7 308.2,420.1 309.2,420.5 310.2,421 311.2,421.5 312.2,421.9 313.2,422.3 314.2,422.5 315.2,422.6 316.2,422.7 317.2,422.8 318.1,422.8 319.1,422.9 320.1,422.9 321.1,422.9 322.1,423 323.1,423 324.1,423.1 325.1,423.1 326.1,423.1 327.1,423.2 328.1,423.2 329.1,423.3 330.1,423.4 331.1,423.4 332.1,423.5 333.1,423.5 334.1,423.6 335,423.6 336,423.7 337,423.8 338,423.8 339,423.9 340,423.9 341,424 342,424.1 343,424.1 344,424.2" fill="none" stroke="#4A88D4" stroke-width="1.6" stroke-linejoin="round" stroke-linecap="round" />
<polyline points="204.8,423.2 205.8,423.1 206.8,423.1 207.8,423 208.8,422.8 209.8,422.7 210.8,422.5 211.8,422.2 212.8,421.9 213.8,421.2 214.8,420.2 215.8,419.1 216.7,417.8 217.7,416.6 218.7,415.5 219.7,414.2 220.7,412.8 221.7,411.5 222.7,410.5 223.7,409.9 224.7,410 225.7,410.4 226.7,411.2 227.7,412.1 228.7,413.1 229.7,414.6 230.7,416.5 231.7,418.5 232.7,420.2 233.6,421.8 234.6,423.4 235.6,424.6 236.6,425.2 237.6,425.1 238.6,424.9 239.6,424.5 240.6,424 241.6,423.6 242.6,423.2 243.6,422.9 244.6,422.6 245.6,422.3 246.6,422 247.6,421.7 248.6,421.4 249.6,421.2 250.5,421.1 251.5,421.1 252.5,421.2 253.5,421.4 254.5,421.5 255.5,421.8 256.5,422 257.5,422.2 258.5,422.6 259.5,423 260.5,423.5 261.5,424 262.5,424.5 263.5,424.9 264.5,425.1 265.5,425.2 266.5,425.2 267.4,425.2 268.4,425.2 269.4,425.2 270.4,425.2 271.4,425.2 272.4,425.2 273.4,425.1 274.4,424.9 275.4,424.7 276.4,424.5 277.4,424.3 278.4,424.1 279.4,424 280.4,423.8 281.4,423.8 282.4,423.8 283.4,423.8 284.3,423.9 285.3,424 286.3,424.1 287.3,424.3 288.3,424.4 289.3,424.5 290.3,424.5 291.3,424.6 292.3,424.6 293.3,424.6 294.3,424.5 295.3,424.5 296.3,424.4 297.3,424.4 298.3,424.3 299.3,424.3 300.3,424.2 301.2,424.2 302.2,424.2 303.2,424.2 304.2,424.2 305.2,424.3 306.2,424.4 307.2,424.4 308.2,424.5 309.2,424.6 310.2,424.7 311.2,424.8 312.2,424.9 313.2,425 314.2,425.1 315.2,425.1 316.2,425.2 317.2,425.2 318.1,425.3 319.1,425.3 320.1,425.3 321.1,425.4 322.1,425.4 323.1,425.4 324.1,425.5 325.1,425.5 326.1,425.5 327.1,425.6 328.1,425.6 329.1,425.6 330.1,425.6 331.1,425.7 332.1,425.7 333.1,425.7 334.1,425.7 335,425.7 336,425.8 337,425.8 338,425.8 339,425.8 340,425.8 341,425.8 342,425.8 343,425.8 344,425.8" fill="none" stroke="#9ED6DE" stroke-width="1.6" stroke-linejoin="round" stroke-linecap="round" />
<polyline points="204.8,417 205.8,417.4 206.8,417.6 207.8,417.6 208.8,417.6 209.8,417.4 210.8,417.1 211.8,416.7 212.8,416.2 213.8,415.6 214.8,414.5 215.8,413 216.7,411.4 217.7,409.8 218.7,408.4 219.7,407.5 220.7,406.6 221.7,405.8 222.7,405.1 223.7,404.8 224.7,404.8 225.7,405.2 226.7,405.7 227.7,406.4 228.7,407.2 229.7,407.9 230.7,408.9 231.7,410.1 232.7,411.4 233.6,412.8 234.6,414 235.6,415.2 236.6,416.5 237.6,417.5 238.6,418 239.6,417.9 240.6,417.2 241.6,416.4 242.6,415.4 243.6,414.6 244.6,413.9 245.6,413.2 246.6,412.5 247.6,412 248.6,411.8 249.6,411.5 250.5,411.4 251.5,411.3 252.5,411.9 253.5,413 254.5,414.3 255.5,415.4 256.5,416.7 257.5,418 258.5,419.2 259.5,419.9 260.5,420.1 261.5,419.9 262.5,419.5 263.5,419 264.5,418.6 265.5,418.5 266.5,418.4 267.4,418.3 268.4,418.2 269.4,418.2 270.4,418.1 271.4,418.1 272.4,418.1 273.4,418.1 274.4,418.3 275.4,418.8 276.4,419.6 277.4,420.4 278.4,421.2 279.4,421.7 280.4,421.9 281.4,422.1 282.4,422.3 283.4,422.4 284.3,422.5 285.3,422.5 286.3,422.5 287.3,422.3 288.3,422 289.3,421.6 290.3,421.1 291.3,420.7 292.3,420.4 293.3,420.1 294.3,420.1 295.3,420.2 296.3,420.4 297.3,420.7 298.3,420.9 299.3,421.2 300.3,421.4 301.2,421.5 302.2,421.7 303.2,421.8 304.2,421.9 305.2,422 306.2,422.1 307.2,422.2 308.2,422.3 309.2,422.4 310.2,422.5 311.2,422.6 312.2,422.6 313.2,422.7 314.2,422.8 315.2,422.9 316.2,422.9 317.2,423 318.1,423.1 319.1,423.2 320.1,423.3 321.1,423.4 322.1,423.6 323.1,423.7 324.1,423.8 325.1,423.9 326.1,424 327.1,424 328.1,424.1 329.1,424.2 330.1,424.2 331.1,424.2 332.1,424.2 333.1,424.2 334.1,424.2 335,424.1 336,424.1 337,424.1 338,424 339,424 340,423.9 341,423.8 342,423.8 343,423.7 344,423.6" fill="none" stroke="#EE4848" stroke-width="1.6" stroke-linejoin="round" stroke-linecap="round" />
<line x1="243.4" y1="336.3" x2="243.4" y2="354.7" stroke="#999" stroke-width="0.7" stroke-dasharray="1,0.8"/>
<line x1="224.4" y1="374.1" x2="224.4" y2="414" stroke="#999" stroke-width="0.7" stroke-dasharray="1,0.8"/>
<rect x="204.8" y="323.6" width="140.2" height="110.6" fill="none" stroke="#3a3a3a" stroke-width="0.9" />
<line x1="216.3" y1="434.2" x2="216.3" y2="436.2" stroke="#3a3a3a" stroke-width="0.8" />
<line x1="227.9" y1="434.2" x2="227.9" y2="435.4" stroke="#3a3a3a" stroke-width="0.8" />
<line x1="239.5" y1="434.2" x2="239.5" y2="436.2" stroke="#3a3a3a" stroke-width="0.8" />
<line x1="251.1" y1="434.2" x2="251.1" y2="435.4" stroke="#3a3a3a" stroke-width="0.8" />
<line x1="262.7" y1="434.2" x2="262.7" y2="436.2" stroke="#3a3a3a" stroke-width="0.8" />
<line x1="274.4" y1="434.2" x2="274.4" y2="435.4" stroke="#3a3a3a" stroke-width="0.8" />
<line x1="286" y1="434.2" x2="286" y2="436.2" stroke="#3a3a3a" stroke-width="0.8" />
<line x1="297.6" y1="434.2" x2="297.6" y2="435.4" stroke="#3a3a3a" stroke-width="0.8" />
<line x1="309.2" y1="434.2" x2="309.2" y2="436.2" stroke="#3a3a3a" stroke-width="0.8" />
<line x1="320.8" y1="434.2" x2="320.8" y2="435.4" stroke="#3a3a3a" stroke-width="0.8" />
<line x1="332.4" y1="434.2" x2="332.4" y2="436.2" stroke="#3a3a3a" stroke-width="0.8" />
<text x="216.3" y="444.1" font-size="7.4" text-anchor="middle">1</text>
<text x="239.5" y="444.1" font-size="7.4" text-anchor="middle">2</text>
<text x="262.7" y="444.1" font-size="7.4" text-anchor="middle">3</text>
<text x="286" y="444.1" font-size="7.4" text-anchor="middle">4</text>
<text x="309.2" y="444.1" font-size="7.4" text-anchor="middle">5</text>
<text x="332.4" y="444.1" font-size="7.4" text-anchor="middle">6</text>
<text x="0" y="0" font-size="8.5" text-anchor="middle" fill="#222" transform="translate(194.4 377.4) rotate(-90)"><tspan font-size="11.5" dy="0.9">|</tspan><tspan dx="1.6" dy="-0.9">FT(k</tspan><tspan font-size="5.6" dy="-2.9">2</tspan><tspan dy="2.9" font-style="italic">χ</tspan>(k))<tspan dx="1.6" font-size="11.5" dy="0.9">|</tspan><tspan dx="4.2" dy="-0.9">(Å</tspan><tspan font-size="5.6" dy="-2.9">-3</tspan><tspan dy="2.9">)</tspan></text>
<text x="243.9" y="331.1" font-size="8.3" text-anchor="middle">Ni-Ni</text>
<text x="223.4" y="374" font-size="8.3" text-anchor="middle">Ni-N</text>
<text x="338.9" y="333.5" font-size="7.6" text-anchor="end">Ni K-edge</text>
<line x1="286.8" y1="344.9" x2="297" y2="344.9" stroke="#808080" stroke-width="1.7" />
<text x="300" y="347.7" font-size="7.8">Ni Foil</text>
<line x1="286.8" y1="354.1" x2="297" y2="354.1" stroke="#4A88D4" stroke-width="1.7" />
<text x="300" y="356.9" font-size="7.8">Ni-PC</text>
<line x1="286.8" y1="363.9" x2="297" y2="363.9" stroke="#9ED6DE" stroke-width="1.7" />
<text x="300" y="366.7" font-size="7.8">Ni-SAC</text>
<line x1="286.8" y1="373.5" x2="297" y2="373.5" stroke="#EE4848" stroke-width="1.7" />
<text x="300" y="376.3" font-size="7.8">CuNi-DAC</text>
<text x="252.6" y="385.7" font-size="7.8">2.48-2.52 Å</text>
<line x1="254" y1="405.8" x2="264.3" y2="389.4" stroke="#333" stroke-width="0.8" />
<polygon points="264.3,389.4 264,391.8 262.3,390.7" fill="#333"/>
<text x="276.5" y="456.4" font-size="8.3" text-anchor="middle">Radial distance (Å)</text>
<text x="370.2" y="165" font-size="14" font-weight="bold" fill="#000">i</text>
<rect x="482.4" y="197.5" width="13.4" height="237.2" fill="#EAEAEA" />
<polyline points="382.7,224.8 383.7,224.2 384.7,223.6 385.7,223 386.7,222.6 387.7,222.3 388.7,222.1 389.7,222.2 390.7,222.5 391.7,222.9 392.7,223.4 393.7,224 394.6,224.6 395.6,225.1 396.6,225.5 397.6,225.7 398.6,225.5 399.6,224.8 400.6,224 401.6,222.9 402.6,221.8 403.6,220.7 404.6,219.8 405.6,219.3 406.6,219.1 407.6,219.3 408.6,219.8 409.6,220.7 410.6,222 411.6,223.4 412.6,224.6 413.6,224.8 414.6,223.9 415.6,222 416.6,219.5 417.6,216.7 418.6,213.9 419.6,211.4 420.6,209.3 421.6,207.5 422.6,206 423.6,204.8 424.6,203.8 425.6,203.1 426.5,202.7 427.5,202.7 428.5,203.1 429.5,203.7 430.5,204.7 431.5,206 432.5,207.4 433.5,208.6 434.5,209.1 435.5,208.6 436.5,207 437.5,204.3 438.5,201 439.5,197.3 440.5,193.4 441.5,189.6 442.5,186 443.5,182.6 444.5,179.5 445.5,176.8 446.5,174.5 447.5,172.6 448.5,171.4 449.5,170.8 450.5,171 451.5,171.9 452.5,173.5 453.5,175.8 454.5,178.9 455.5,182.5 456.5,186.7 457.4,191.3 458.4,196.2 459.4,201.2 460.4,206.3 461.4,211.3 462.4,215.9 463.4,220.1 464.4,223.3 465.4,225.4 466.4,226.2 467.4,225.5 468.4,223.8 469.4,221.6 470.4,219.8 471.4,218.5 472.4,217.6 473.4,217.2 474.4,217.1 475.4,217.2 476.4,217.3 477.4,217.4 478.4,217.3 479.4,217 480.4,216.3 481.4,215.3 482.4,214.2 483.4,213 484.4,211.8 485.4,210.6 486.4,209.6 487.4,208.7 488.4,208 489.3,207.7 490.3,207.6 491.3,207.9 492.3,208.5 493.3,209.4 494.3,210.6 495.3,212.2 496.3,213.9 497.3,215.6 498.3,217.3 499.3,218.8 500.3,220.1 501.3,221.1 502.3,222 503.3,222.6 504.3,223.1 505.3,223.4 506.3,223.7 507.3,223.8 508.3,223.9 509.3,224 510.3,224 511.3,224 512.3,224 513.3,223.9 514.3,223.8 515.3,223.7 516.3,223.5 517.3,223.3 518.3,223 519.3,222.7 520.3,222.4 521.2,222.1 522.2,221.7 523.2,221.4 524.2,221.1 525.2,220.9 526.2,220.8 527.2,220.9 528.2,221 529.2,221.3 530.2,221.7 531.2,222.2 532.2,222.8 533.2,223.4 534.2,224 535.2,224.5 536.2,224.9 537.2,225.1 538.2,225.2 539.2,225.2 540.2,225.2 541.2,225 542.2,224.9 543.2,224.7 544.2,224.6 545.2,224.4 546.2,224.4 547.2,224.3 548.2,224.4 549.2,224.4 550.2,224.4 551.2,224.5 552.2,224.6 553.1,224.7 554.1,224.8 555.1,224.9 556.1,225 557.1,225.1 558.1,225.1 559.1,225.2 560.1,225.2 561.1,225.3 562.1,225.3 563.1,225.4 564.1,225.4 565.1,225.4 566.1,225.5 567.1,225.5 568.1,225.5 569.1,225.5 570.1,225.5 571.1,225.6 572.1,225.6 573.1,225.6 574.1,225.6 575.1,225.6 576.1,225.6 577.1,225.6 578.1,225.6 579.1,225.5 580.1,225.5 581.1,225.5 582.1,225.5 583.1,225.5 584,225.5 585,225.5 586,225.4 587,225.4 588,225.4 589,225.4 590,225.3 591,225.3 592,225.3 593,225.2 594,225.2 595,225.2 596,225.2 597,225.1 598,225.1 599,225.1 600,225 601,225 602,225 603,224.9 604,224.9 605,224.8" fill="none" stroke="#707070" stroke-width="1.9" stroke-linejoin="round" stroke-linecap="round" />
<polyline points="382.7,224.8 383.1,224.5 383.4,224.2 383.8,223.9 384.2,223.6 384.5,223.3 384.9,223.1 385.3,222.8 385.7,222.5 386,222.3 386.4,222 386.8,221.8 387.1,221.6 387.5,221.5 387.9,221.3 388.3,221.2 388.6,221.1 389,221 389.4,221 389.7,221 390.1,221 390.5,221 390.9,221.1 391.2,221.1 391.6,221.2 392,221.4 392.3,221.5 392.7,221.7 393.1,221.9 393.4,222.2 393.8,222.4 394.2,222.7 394.6,223 394.9,223.3 395.3,223.6 395.7,223.8 396,224.1 396.4,224.3 396.8,224.5 397.2,224.7 397.5,224.8 397.9,224.9 398.3,224.9 398.6,224.8 399,224.7 399.4,224.5 399.8,224.3 400.1,224 400.5,223.7 400.9,223.3 401.2,222.9 401.6,222.5 402,222.1 402.4,221.7 402.7,221.4 403.1,221 403.5,220.6 403.8,220.3 404.2,220 404.6,219.8 405,219.6 405.3,219.4 405.7,219.4 406.1,219.3 406.4,219.4 406.8,219.5 407.2,219.6 407.6,219.8 407.9,220 408.3,220.3 408.7,220.6 409,220.9 409.4,221.3 409.8,221.7 410.1,222.1 410.5,222.5 410.9,223 411.3,223.4 411.6,223.8 412,224.2 412.4,224.5 412.7,224.7 413.1,224.8 413.5,224.9 413.9,224.8 414.2,224.6 414.6,224.2 415,223.8 415.3,223.3 415.7,222.7 416.1,222.1 416.5,221.4 416.8,220.7 417.2,220 417.6,219.2 417.9,218.5 418.3,217.7 418.7,217 419.1,216.3 419.4,215.6 419.8,215 420.2,214.4 420.5,213.9 420.9,213.3 421.3,212.8 421.7,212.4 422,211.9 422.4,211.5 422.8,211.2 423.1,210.8 423.5,210.5 423.9,210.2 424.3,210 424.6,209.8 425,209.6 425.4,209.4 425.7,209.3 426.1,209.1 426.5,209 426.8,208.9 427.2,208.9 427.6,208.8 428,208.8 428.3,208.7 428.7,208.7 429.1,208.7 429.4,208.7 429.8,208.7 430.2,208.7 430.6,208.8 430.9,208.8 431.3,208.8 431.7,208.9 432,209 432.4,209 432.8,209.1 433.2,209.2 433.5,209.3 433.9,209.5 434.3,209.6 434.6,209.7 435,209.7 435.4,209.6 435.8,209.4 436.1,209.1 436.5,208.6 436.9,207.9 437.2,207 437.6,205.9 438,204.8 438.4,203.5 438.7,202.1 439.1,200.7 439.5,199.2 439.8,197.7 440.2,196.2 440.6,194.8 441,193.3 441.3,192 441.7,190.6 442.1,189.3 442.4,188 442.8,186.8 443.2,185.6 443.5,184.4 443.9,183.2 444.3,182.1 444.7,180.9 445,179.8 445.4,178.7 445.8,177.6 446.1,176.6 446.5,175.6 446.9,174.6 447.3,173.7 447.6,172.9 448,172.2 448.4,171.7 448.7,171.2 449.1,170.9 449.5,170.7 449.9,170.7 450.2,170.8 450.6,171.1 451,171.5 451.3,171.9 451.7,172.5 452.1,173.2 452.5,174 452.8,174.9 453.2,175.9 453.6,177 453.9,178.2 454.3,179.4 454.7,180.7 455.1,182.1 455.4,183.6 455.8,185.2 456.2,186.8 456.5,188.5 456.9,190.2 457.3,192 457.7,193.9 458,195.7 458.4,197.6 458.8,199.5 459.1,201.5 459.5,203.3 459.9,205.2 460.2,207.1 460.6,208.9 461,210.6 461.4,212.3 461.7,213.9 462.1,215.5 462.5,217 462.8,218.4 463.2,219.8 463.6,221 464,222.2 464.3,223.3 464.7,224.2 465.1,225 465.4,225.7 465.8,226.1 466.2,226.3 466.6,226.2 466.9,225.9 467.3,225.3 467.7,224.5 468,223.5 468.4,222.5 468.8,221.3 469.2,220.2 469.5,219 469.9,217.9 470.3,217 470.6,216.2 471,215.6 471.4,215.1 471.8,214.9 472.1,214.8 472.5,214.8 472.9,214.8 473.2,215 473.6,215.2 474,215.4 474.4,215.6 474.7,215.8 475.1,216 475.5,216.2 475.8,216.4 476.2,216.6 476.6,216.8 476.9,217 477.3,217.2 477.7,217.4 478.1,217.6 478.4,217.8 478.8,218 479.2,218.2 479.5,218.4 479.9,218.6 480.3,218.9 480.7,219.1 481,219.3 481.4,219.4 481.8,219.6 482.1,219.7 482.5,219.8 482.9,219.9 483.3,219.9 483.6,219.9 484,219.8 484.4,219.7 484.7,219.5 485.1,219.3 485.5,219.1 485.9,218.8 486.2,218.6 486.6,218.3 487,218 487.3,217.8 487.7,217.6 488.1,217.4 488.5,217.2 488.8,217.2 489.2,217.1 489.6,217.2 489.9,217.3 490.3,217.4 490.7,217.6 491.1,217.9 491.4,218.1 491.8,218.4 492.2,218.8 492.5,219.1 492.9,219.4 493.3,219.7 493.6,220.1 494,220.4 494.4,220.6 494.8,220.9 495.1,221.1 495.5,221.3 495.9,221.5 496.2,221.7 496.6,221.8 497,221.9 497.4,222.1 497.7,222.2 498.1,222.2 498.5,222.3 498.8,222.4 499.2,222.5 499.6,222.6 500,222.6 500.3,222.7 500.7,222.8 501.1,222.9 501.4,223 501.8,223.1 502.2,223.2 502.6,223.2 502.9,223.3 503.3,223.4 503.7,223.5 504,223.6 504.4,223.7 504.8,223.8 505.2,223.9 505.5,224 505.9,224 506.3,224.1 506.6,224.1 507,224.2 507.4,224.2 507.8,224.2 508.1,224.2 508.5,224.1 508.9,224.1 509.2,224.1 509.6,224 510,223.9 510.3,223.9 510.7,223.8 511.1,223.7 511.5,223.6 511.8,223.6 512.2,223.5 512.6,223.4 512.9,223.3 513.3,223.3 513.7,223.2 514.1,223.2 514.4,223.2 514.8,223.1 515.2,223.1 515.5,223.1 515.9,223.1 516.3,223.2 516.7,223.2 517,223.2 517.4,223.2 517.8,223.3 518.1,223.3 518.5,223.4 518.9,223.5 519.3,223.5 519.6,223.6 520,223.7 520.4,223.7 520.7,223.8 521.1,223.9 521.5,223.9 521.9,224 522.2,224 522.6,224.1 523,224.2 523.3,224.2 523.7,224.3 524.1,224.4 524.5,224.4 524.8,224.5 525.2,224.5 525.6,224.6 525.9,224.6 526.3,224.7 526.7,224.7 527,224.8 527.4,224.8 527.8,224.9 528.2,224.9 528.5,224.9 528.9,225 529.3,225 529.6,225 530,225.1 530.4,225.1 530.8,225.1 531.1,225.2 531.5,225.2 531.9,225.2 532.2,225.2 532.6,225.2 533,225.3 533.4,225.3 533.7,225.3 534.1,225.3 534.5,225.3 534.8,225.4 535.2,225.4 535.6,225.4 536,225.4 536.3,225.4 536.7,225.4 537.1,225.4 537.4,225.4 537.8,225.4 538.2,225.5 538.6,225.5 538.9,225.5 539.3,225.5 539.7,225.5 540,225.5 540.4,225.5 540.8,225.5 541.2,225.5 541.5,225.5 541.9,225.5 542.3,225.5 542.6,225.5 543,225.5 543.4,225.6 543.7,225.6 544.1,225.6 544.5,225.6 544.9,225.6 545.2,225.6 545.6,225.6 546,225.6 546.3,225.6 546.7,225.6 547.1,225.6 547.5,225.6 547.8,225.6 548.2,225.6 548.6,225.6 548.9,225.6 549.3,225.7 549.7,225.7 550.1,225.7 550.4,225.7 550.8,225.7 551.2,225.7 551.5,225.7 551.9,225.7 552.3,225.7 552.7,225.7 553,225.7 553.4,225.7 553.8,225.7 554.1,225.7 554.5,225.7 554.9,225.7 555.3,225.7 555.6,225.7 556,225.7 556.4,225.8 556.7,225.8 557.1,225.8 557.5,225.8 557.9,225.8 558.2,225.8 558.6,225.8 559,225.8 559.3,225.8 559.7,225.8 560.1,225.8 560.4,225.8 560.8,225.8 561.2,225.8 561.6,225.8 561.9,225.8 562.3,225.8 562.7,225.8 563,225.8 563.4,225.8 563.8,225.8 564.2,225.8 564.5,225.9 564.9,225.9 565.3,225.9 565.6,225.9 566,225.9 566.4,225.9 566.8,225.9 567.1,225.9 567.5,225.9 567.9,225.9 568.2,225.9 568.6,225.9 569,225.9 569.4,225.9 569.7,225.9 570.1,225.9 570.5,225.9 570.8,225.9 571.2,225.9 571.6,225.9 572,225.9 572.3,225.9 572.7,225.9 573.1,225.9 573.4,225.9 573.8,225.9 574.2,226 574.6,226 574.9,226 575.3,226 575.7,226 576,226 576.4,226 576.8,226 577.1,226 577.5,226 577.9,226 578.3,226 578.6,226 579,226 579.4,226 579.7,226 580.1,226 580.5,226 580.9,226 581.2,226 581.6,226 582,226 582.3,226 582.7,226 583.1,226 583.5,226 583.8,226 584.2,226 584.6,226 584.9,226 585.3,226 585.7,226.1 586.1,226.1 586.4,226.1 586.8,226.1 587.2,226.1 587.5,226.1 587.9,226.1 588.3,226.1 588.7,226.1 589,226.1 589.4,226.1 589.8,226.1 590.1,226.1 590.5,226.1 590.9,226.1 591.3,226.1 591.6,226.1 592,226.1 592.4,226.1 592.7,226.1 593.1,226.1 593.5,226.1 593.8,226.1 594.2,226.1 594.6,226.1 595,226.1 595.3,226.1 595.7,226.1 596.1,226.1 596.4,226.1 596.8,226.1 597.2,226.1 597.6,226.1 597.9,226.1 598.3,226.1 598.7,226.1 599,226.1 599.4,226.2 599.8,226.2 600.2,226.2 600.5,226.2 600.9,226.2 601.3,226.2 601.6,226.2 602,226.2 602.4,226.2 602.8,226.2 603.1,226.2 603.5,226.2 603.9,226.2 604.2,226.2 604.6,226.2 605,226.2" fill="none" stroke="#F01E1E" stroke-width="1.9" stroke-linejoin="round" stroke-linecap="round" stroke-dasharray="0.01,3.3"/>
<line x1="516" y1="165.7" x2="527.7" y2="165.7" stroke="#777" stroke-width="1.4" />
<line x1="516" y1="175.8" x2="527.7" y2="175.8" stroke="#F01E1E" stroke-width="1.6" stroke-dasharray="0.01,2.5" stroke-linecap="round"/>
<text x="530.4" y="168.5" font-size="7.9">DAC Experiment</text>
<text x="530.4" y="178.6" font-size="7.9">2.380 Å DAC Fitting</text>
<polyline points="382.7,293.8 383.7,293.2 384.7,292.6 385.7,292 386.7,291.6 387.7,291.3 388.7,291.1 389.7,291.2 390.7,291.5 391.7,291.9 392.7,292.4 393.7,293 394.6,293.6 395.6,294.1 396.6,294.5 397.6,294.7 398.6,294.5 399.6,293.8 400.6,293 401.6,291.9 402.6,290.8 403.6,289.7 404.6,288.8 405.6,288.3 406.6,288.1 407.6,288.3 408.6,288.8 409.6,289.7 410.6,291 411.6,292.4 412.6,293.6 413.6,293.8 414.6,292.9 415.6,291 416.6,288.5 417.6,285.7 418.6,282.9 419.6,280.4 420.6,278.3 421.6,276.5 422.6,275 423.6,273.8 424.6,272.8 425.6,272.1 426.5,271.7 427.5,271.7 428.5,272.1 429.5,272.7 430.5,273.7 431.5,275 432.5,276.4 433.5,277.6 434.5,278.1 435.5,277.6 436.5,276 437.5,273.3 438.5,270 439.5,266.3 440.5,262.4 441.5,258.6 442.5,255 443.5,251.6 444.5,248.5 445.5,245.8 446.5,243.5 447.5,241.6 448.5,240.4 449.5,239.8 450.5,240 451.5,240.9 452.5,242.5 453.5,244.8 454.5,247.9 455.5,251.5 456.5,255.7 457.4,260.3 458.4,265.2 459.4,270.2 460.4,275.3 461.4,280.3 462.4,284.9 463.4,289.1 464.4,292.3 465.4,294.4 466.4,295.2 467.4,294.5 468.4,292.8 469.4,290.6 470.4,288.8 471.4,287.5 472.4,286.6 473.4,286.2 474.4,286.1 475.4,286.2 476.4,286.3 477.4,286.4 478.4,286.3 479.4,286 480.4,285.3 481.4,284.3 482.4,283.2 483.4,282 484.4,280.8 485.4,279.6 486.4,278.6 487.4,277.7 488.4,277 489.3,276.7 490.3,276.6 491.3,276.9 492.3,277.5 493.3,278.4 494.3,279.6 495.3,281.2 496.3,282.9 497.3,284.6 498.3,286.3 499.3,287.8 500.3,289.1 501.3,290.1 502.3,291 503.3,291.6 504.3,292.1 505.3,292.4 506.3,292.7 507.3,292.8 508.3,292.9 509.3,293 510.3,293 511.3,293 512.3,293 513.3,292.9 514.3,292.8 515.3,292.7 516.3,292.5 517.3,292.3 518.3,292 519.3,291.7 520.3,291.4 521.2,291.1 522.2,290.7 523.2,290.4 524.2,290.1 525.2,289.9 526.2,289.8 527.2,289.9 528.2,290 529.2,290.3 530.2,290.7 531.2,291.2 532.2,291.8 533.2,292.4 534.2,293 535.2,293.5 536.2,293.9 537.2,294.1 538.2,294.2 539.2,294.2 540.2,294.2 541.2,294 542.2,293.9 543.2,293.7 544.2,293.6 545.2,293.4 546.2,293.4 547.2,293.3 548.2,293.4 549.2,293.4 550.2,293.4 551.2,293.5 552.2,293.6 553.1,293.7 554.1,293.8 555.1,293.9 556.1,294 557.1,294.1 558.1,294.1 559.1,294.2 560.1,294.2 561.1,294.3 562.1,294.3 563.1,294.4 564.1,294.4 565.1,294.4 566.1,294.5 567.1,294.5 568.1,294.5 569.1,294.5 570.1,294.5 571.1,294.6 572.1,294.6 573.1,294.6 574.1,294.6 575.1,294.6 576.1,294.6 577.1,294.6 578.1,294.6 579.1,294.5 580.1,294.5 581.1,294.5 582.1,294.5 583.1,294.5 584,294.5 585,294.5 586,294.4 587,294.4 588,294.4 589,294.4 590,294.3 591,294.3 592,294.3 593,294.2 594,294.2 595,294.2 596,294.2 597,294.1 598,294.1 599,294.1 600,294 601,294 602,294 603,293.9 604,293.9 605,293.8" fill="none" stroke="#707070" stroke-width="1.9" stroke-linejoin="round" stroke-linecap="round" />
<polyline points="382.7,294.5 383.1,294.2 383.4,293.9 383.8,293.7 384.2,293.4 384.5,293.1 384.9,292.9 385.3,292.6 385.7,292.4 386,292.2 386.4,292 386.8,291.8 387.1,291.6 387.5,291.4 387.9,291.3 388.3,291.2 388.6,291.1 389,291.1 389.4,291 389.7,291 390.1,291 390.5,291.1 390.9,291.1 391.2,291.2 391.6,291.3 392,291.5 392.3,291.6 392.7,291.8 393.1,292 393.4,292.2 393.8,292.4 394.2,292.6 394.6,292.9 394.9,293.1 395.3,293.4 395.7,293.6 396,293.8 396.4,294 396.8,294.2 397.2,294.4 397.5,294.5 397.9,294.5 398.3,294.5 398.6,294.5 399,294.4 399.4,294.2 399.8,294.1 400.1,293.8 400.5,293.6 400.9,293.3 401.2,293 401.6,292.6 402,292.3 402.4,291.9 402.7,291.6 403.1,291.2 403.5,290.9 403.8,290.5 404.2,290.2 404.6,289.9 405,289.6 405.3,289.4 405.7,289.2 406.1,289 406.4,288.9 406.8,288.8 407.2,288.8 407.6,288.8 407.9,288.9 408.3,289 408.7,289.2 409,289.4 409.4,289.7 409.8,290 410.1,290.4 410.5,290.9 410.9,291.4 411.3,291.9 411.6,292.4 412,292.8 412.4,293.3 412.7,293.6 413.1,293.8 413.5,293.9 413.9,293.8 414.2,293.5 414.6,293.1 415,292.6 415.3,292 415.7,291.2 416.1,290.5 416.5,289.6 416.8,288.7 417.2,287.8 417.6,286.9 417.9,286 418.3,285.1 418.7,284.3 419.1,283.5 419.4,282.8 419.8,282.2 420.2,281.5 420.5,281 420.9,280.5 421.3,280 421.7,279.5 422,279.1 422.4,278.8 422.8,278.4 423.1,278.1 423.5,277.8 423.9,277.6 424.3,277.3 424.6,277.1 425,276.9 425.4,276.7 425.7,276.5 426.1,276.4 426.5,276.3 426.8,276.2 427.2,276.1 427.6,276.1 428,276 428.3,276 428.7,276 429.1,276.1 429.4,276.2 429.8,276.2 430.2,276.3 430.6,276.4 430.9,276.6 431.3,276.7 431.7,276.8 432,276.9 432.4,276.9 432.8,277 433.2,277 433.5,277.1 433.9,277 434.3,277 434.6,276.9 435,276.8 435.4,276.5 435.8,276.2 436.1,275.8 436.5,275.4 436.9,274.8 437.2,274.1 437.6,273.2 438,272.3 438.4,271.2 438.7,270.1 439.1,268.9 439.5,267.6 439.8,266.3 440.2,264.9 440.6,263.5 441,262.1 441.3,260.7 441.7,259.2 442.1,257.8 442.4,256.4 442.8,255 443.2,253.7 443.5,252.3 443.9,251.1 444.3,249.8 444.7,248.7 445,247.5 445.4,246.5 445.8,245.5 446.1,244.5 446.5,243.7 446.9,242.9 447.3,242.1 447.6,241.5 448,241 448.4,240.5 448.7,240.2 449.1,239.9 449.5,239.8 449.9,239.8 450.2,239.8 450.6,240 451,240.3 451.3,240.6 451.7,241.1 452.1,241.7 452.5,242.3 452.8,243.1 453.2,244 453.6,245 453.9,246 454.3,247.2 454.7,248.4 455.1,249.8 455.4,251.2 455.8,252.7 456.2,254.3 456.5,255.9 456.9,257.6 457.3,259.4 457.7,261.2 458,263 458.4,264.9 458.8,266.9 459.1,268.8 459.5,270.8 459.9,272.8 460.2,274.8 460.6,276.8 461,278.7 461.4,280.6 461.7,282.4 462.1,284.1 462.5,285.8 462.8,287.3 463.2,288.8 463.6,290 464,291.2 464.3,292.2 464.7,293 465.1,293.6 465.4,294.1 465.8,294.4 466.2,294.6 466.6,294.5 466.9,294.3 467.3,294 467.7,293.5 468,292.8 468.4,292.2 468.8,291.4 469.2,290.7 469.5,289.9 469.9,289.1 470.3,288.4 470.6,287.8 471,287.3 471.4,286.9 471.8,286.6 472.1,286.3 472.5,286.2 472.9,286.1 473.2,286 473.6,286 474,286 474.4,286 474.7,286 475.1,286.1 475.5,286.1 475.8,286.1 476.2,286.1 476.6,286.1 476.9,286 477.3,286 477.7,285.9 478.1,285.8 478.4,285.6 478.8,285.5 479.2,285.3 479.5,285.1 479.9,284.9 480.3,284.7 480.7,284.5 481,284.2 481.4,284 481.8,283.7 482.1,283.4 482.5,283.1 482.9,282.8 483.3,282.5 483.6,282.2 484,281.9 484.4,281.6 484.7,281.3 485.1,281 485.5,280.7 485.9,280.3 486.2,280 486.6,279.8 487,279.5 487.3,279.3 487.7,279.1 488.1,278.9 488.5,278.8 488.8,278.7 489.2,278.7 489.6,278.8 489.9,279 490.3,279.2 490.7,279.4 491.1,279.7 491.4,280.1 491.8,280.5 492.2,280.9 492.5,281.4 492.9,281.9 493.3,282.4 493.6,283 494,283.6 494.4,284.2 494.8,284.8 495.1,285.4 495.5,286 495.9,286.6 496.2,287.2 496.6,287.8 497,288.4 497.4,288.9 497.7,289.4 498.1,289.9 498.5,290.4 498.8,290.8 499.2,291.2 499.6,291.5 500,291.8 500.3,292 500.7,292.2 501.1,292.4 501.4,292.5 501.8,292.6 502.2,292.7 502.6,292.8 502.9,292.8 503.3,292.8 503.7,292.8 504,292.8 504.4,292.8 504.8,292.8 505.2,292.8 505.5,292.8 505.9,292.8 506.3,292.8 506.6,292.8 507,292.8 507.4,292.8 507.8,292.8 508.1,292.8 508.5,292.8 508.9,292.7 509.2,292.7 509.6,292.7 510,292.7 510.3,292.7 510.7,292.7 511.1,292.7 511.5,292.7 511.8,292.7 512.2,292.7 512.6,292.7 512.9,292.8 513.3,292.8 513.7,292.8 514.1,292.8 514.4,292.8 514.8,292.9 515.2,292.9 515.5,293 515.9,293 516.3,293.1 516.7,293.1 517,293.2 517.4,293.2 517.8,293.3 518.1,293.4 518.5,293.4 518.9,293.5 519.3,293.6 519.6,293.6 520,293.7 520.4,293.8 520.7,293.8 521.1,293.9 521.5,294 521.9,294.1 522.2,294.1 522.6,294.2 523,294.3 523.3,294.3 523.7,294.4 524.1,294.5 524.5,294.5 524.8,294.6 525.2,294.6 525.6,294.7 525.9,294.7 526.3,294.8 526.7,294.8 527,294.9 527.4,294.9 527.8,295 528.2,295 528.5,295 528.9,295.1 529.3,295.1 529.6,295.1 530,295.2 530.4,295.2 530.8,295.2 531.1,295.2 531.5,295.3 531.9,295.3 532.2,295.3 532.6,295.3 533,295.4 533.4,295.4 533.7,295.4 534.1,295.4 534.5,295.4 534.8,295.4 535.2,295.4 535.6,295.5 536,295.5 536.3,295.5 536.7,295.5 537.1,295.5 537.4,295.5 537.8,295.5 538.2,295.5 538.6,295.5 538.9,295.6 539.3,295.6 539.7,295.6 540,295.6 540.4,295.6 540.8,295.6 541.2,295.6 541.5,295.6 541.9,295.6 542.3,295.6 542.6,295.6 543,295.7 543.4,295.7 543.7,295.7 544.1,295.7 544.5,295.7 544.9,295.7 545.2,295.7 545.6,295.7 546,295.7 546.3,295.7 546.7,295.7 547.1,295.7 547.5,295.7 547.8,295.7 548.2,295.7 548.6,295.8 548.9,295.8 549.3,295.8 549.7,295.8 550.1,295.8 550.4,295.8 550.8,295.8 551.2,295.8 551.5,295.8 551.9,295.8 552.3,295.8 552.7,295.8 553,295.8 553.4,295.8 553.8,295.8 554.1,295.8 554.5,295.8 554.9,295.8 555.3,295.8 555.6,295.8 556,295.8 556.4,295.8 556.7,295.8 557.1,295.9 557.5,295.9 557.9,295.9 558.2,295.9 558.6,295.9 559,295.9 559.3,295.9 559.7,295.9 560.1,295.9 560.4,295.9 560.8,295.9 561.2,295.9 561.6,295.9 561.9,295.9 562.3,295.9 562.7,295.9 563,295.9 563.4,295.9 563.8,295.9 564.2,295.9 564.5,295.9 564.9,295.9 565.3,295.9 565.6,295.9 566,295.9 566.4,295.9 566.8,295.9 567.1,295.9 567.5,295.9 567.9,295.9 568.2,295.9 568.6,295.9 569,295.9 569.4,295.9 569.7,295.9 570.1,295.9 570.5,295.9 570.8,295.9 571.2,295.9 571.6,295.9 572,295.9 572.3,295.9 572.7,295.9 573.1,295.9 573.4,295.9 573.8,295.9 574.2,295.9 574.6,295.9 574.9,295.9 575.3,295.9 575.7,295.9 576,295.9 576.4,295.8 576.8,295.8 577.1,295.8 577.5,295.8 577.9,295.8 578.3,295.8 578.6,295.8 579,295.8 579.4,295.8 579.7,295.8 580.1,295.8 580.5,295.8 580.9,295.8 581.2,295.8 581.6,295.8 582,295.8 582.3,295.8 582.7,295.8 583.1,295.8 583.5,295.8 583.8,295.8 584.2,295.8 584.6,295.8 584.9,295.8 585.3,295.8 585.7,295.8 586.1,295.8 586.4,295.8 586.8,295.8 587.2,295.8 587.5,295.7 587.9,295.7 588.3,295.7 588.7,295.7 589,295.7 589.4,295.7 589.8,295.7 590.1,295.7 590.5,295.7 590.9,295.7 591.3,295.7 591.6,295.7 592,295.7 592.4,295.7 592.7,295.7 593.1,295.7 593.5,295.7 593.8,295.7 594.2,295.7 594.6,295.7 595,295.7 595.3,295.7 595.7,295.7 596.1,295.6 596.4,295.6 596.8,295.6 597.2,295.6 597.6,295.6 597.9,295.6 598.3,295.6 598.7,295.6 599,295.6 599.4,295.6 599.8,295.6 600.2,295.6 600.5,295.6 600.9,295.6 601.3,295.6 601.6,295.6 602,295.6 602.4,295.6 602.8,295.6 603.1,295.6 603.5,295.5 603.9,295.5 604.2,295.5 604.6,295.5 605,295.5" fill="none" stroke="#F01E1E" stroke-width="1.9" stroke-linejoin="round" stroke-linecap="round" stroke-dasharray="0.01,3.3"/>
<line x1="516" y1="236.8" x2="527.7" y2="236.8" stroke="#777" stroke-width="1.4" />
<line x1="516" y1="246.8" x2="527.7" y2="246.8" stroke="#F01E1E" stroke-width="1.6" stroke-dasharray="0.01,2.5" stroke-linecap="round"/>
<text x="530.4" y="239.6" font-size="7.9">DAC Experiment</text>
<text x="530.4" y="249.6" font-size="7.9">2.557 Å DAC Fitting</text>
<polyline points="382.7,362.8 383.7,362.2 384.7,361.6 385.7,361 386.7,360.6 387.7,360.3 388.7,360.1 389.7,360.2 390.7,360.5 391.7,360.9 392.7,361.4 393.7,362 394.6,362.6 395.6,363.1 396.6,363.5 397.6,363.7 398.6,363.5 399.6,362.8 400.6,362 401.6,360.9 402.6,359.8 403.6,358.7 404.6,357.8 405.6,357.3 406.6,357.1 407.6,357.3 408.6,357.8 409.6,358.7 410.6,360 411.6,361.4 412.6,362.6 413.6,362.8 414.6,361.9 415.6,360 416.6,357.5 417.6,354.7 418.6,351.9 419.6,349.4 420.6,347.3 421.6,345.5 422.6,344 423.6,342.8 424.6,341.8 425.6,341.1 426.5,340.7 427.5,340.7 428.5,341.1 429.5,341.7 430.5,342.7 431.5,344 432.5,345.4 433.5,346.6 434.5,347.1 435.5,346.6 436.5,345 437.5,342.3 438.5,339 439.5,335.3 440.5,331.4 441.5,327.6 442.5,324 443.5,320.6 444.5,317.5 445.5,314.8 446.5,312.5 447.5,310.6 448.5,309.4 449.5,308.8 450.5,309 451.5,309.9 452.5,311.5 453.5,313.8 454.5,316.9 455.5,320.5 456.5,324.7 457.4,329.3 458.4,334.2 459.4,339.2 460.4,344.3 461.4,349.3 462.4,353.9 463.4,358.1 464.4,361.3 465.4,363.4 466.4,364.2 467.4,363.5 468.4,361.8 469.4,359.6 470.4,357.8 471.4,356.5 472.4,355.6 473.4,355.2 474.4,355.1 475.4,355.2 476.4,355.3 477.4,355.4 478.4,355.3 479.4,355 480.4,354.3 481.4,353.3 482.4,352.2 483.4,351 484.4,349.8 485.4,348.6 486.4,347.6 487.4,346.7 488.4,346 489.3,345.7 490.3,345.6 491.3,345.9 492.3,346.5 493.3,347.4 494.3,348.6 495.3,350.2 496.3,351.9 497.3,353.6 498.3,355.3 499.3,356.8 500.3,358.1 501.3,359.1 502.3,360 503.3,360.6 504.3,361.1 505.3,361.4 506.3,361.7 507.3,361.8 508.3,361.9 509.3,362 510.3,362 511.3,362 512.3,362 513.3,361.9 514.3,361.8 515.3,361.7 516.3,361.5 517.3,361.3 518.3,361 519.3,360.7 520.3,360.4 521.2,360.1 522.2,359.7 523.2,359.4 524.2,359.1 525.2,358.9 526.2,358.8 527.2,358.9 528.2,359 529.2,359.3 530.2,359.7 531.2,360.2 532.2,360.8 533.2,361.4 534.2,362 535.2,362.5 536.2,362.9 537.2,363.1 538.2,363.2 539.2,363.2 540.2,363.2 541.2,363 542.2,362.9 543.2,362.7 544.2,362.6 545.2,362.4 546.2,362.4 547.2,362.3 548.2,362.4 549.2,362.4 550.2,362.4 551.2,362.5 552.2,362.6 553.1,362.7 554.1,362.8 555.1,362.9 556.1,363 557.1,363.1 558.1,363.1 559.1,363.2 560.1,363.2 561.1,363.3 562.1,363.3 563.1,363.4 564.1,363.4 565.1,363.4 566.1,363.5 567.1,363.5 568.1,363.5 569.1,363.5 570.1,363.5 571.1,363.6 572.1,363.6 573.1,363.6 574.1,363.6 575.1,363.6 576.1,363.6 577.1,363.6 578.1,363.6 579.1,363.5 580.1,363.5 581.1,363.5 582.1,363.5 583.1,363.5 584,363.5 585,363.5 586,363.4 587,363.4 588,363.4 589,363.4 590,363.3 591,363.3 592,363.3 593,363.2 594,363.2 595,363.2 596,363.2 597,363.1 598,363.1 599,363.1 600,363 601,363 602,363 603,362.9 604,362.9 605,362.8" fill="none" stroke="#707070" stroke-width="1.9" stroke-linejoin="round" stroke-linecap="round" />
<polyline points="382.7,363.5 383.1,363.2 383.4,362.9 383.8,362.7 384.2,362.4 384.5,362.1 384.9,361.9 385.3,361.6 385.7,361.4 386,361.2 386.4,361 386.8,360.8 387.1,360.6 387.5,360.4 387.9,360.3 388.3,360.2 388.6,360.1 389,360.1 389.4,360 389.7,360 390.1,360 390.5,360.1 390.9,360.1 391.2,360.2 391.6,360.3 392,360.5 392.3,360.6 392.7,360.8 393.1,361 393.4,361.2 393.8,361.4 394.2,361.6 394.6,361.9 394.9,362.1 395.3,362.4 395.7,362.6 396,362.8 396.4,363 396.8,363.2 397.2,363.4 397.5,363.5 397.9,363.5 398.3,363.5 398.6,363.5 399,363.4 399.4,363.2 399.8,363.1 400.1,362.8 400.5,362.6 400.9,362.3 401.2,362 401.6,361.6 402,361.3 402.4,360.9 402.7,360.6 403.1,360.2 403.5,359.9 403.8,359.5 404.2,359.2 404.6,358.9 405,358.6 405.3,358.4 405.7,358.2 406.1,358 406.4,357.9 406.8,357.8 407.2,357.8 407.6,357.8 407.9,357.9 408.3,358 408.7,358.2 409,358.4 409.4,358.7 409.8,359 410.1,359.4 410.5,359.9 410.9,360.4 411.3,360.9 411.6,361.4 412,361.8 412.4,362.3 412.7,362.6 413.1,362.8 413.5,362.9 413.9,362.8 414.2,362.5 414.6,362.1 415,361.6 415.3,361 415.7,360.2 416.1,359.5 416.5,358.6 416.8,357.7 417.2,356.8 417.6,355.9 417.9,355 418.3,354.1 418.7,353.3 419.1,352.5 419.4,351.8 419.8,351.2 420.2,350.5 420.5,350 420.9,349.5 421.3,349 421.7,348.5 422,348.1 422.4,347.8 422.8,347.4 423.1,347.1 423.5,346.8 423.9,346.6 424.3,346.3 424.6,346.1 425,345.9 425.4,345.7 425.7,345.5 426.1,345.4 426.5,345.3 426.8,345.2 427.2,345.1 427.6,345.1 428,345 428.3,345 428.7,345 429.1,345.1 429.4,345.2 429.8,345.2 430.2,345.3 430.6,345.4 430.9,345.6 431.3,345.7 431.7,345.8 432,345.9 432.4,345.9 432.8,346 433.2,346 433.5,346.1 433.9,346 434.3,346 434.6,345.9 435,345.8 435.4,345.5 435.8,345.2 436.1,344.8 436.5,344.4 436.9,343.8 437.2,343.1 437.6,342.2 438,341.3 438.4,340.2 438.7,339.1 439.1,337.9 439.5,336.6 439.8,335.3 440.2,333.9 440.6,332.5 441,331.1 441.3,329.7 441.7,328.2 442.1,326.8 442.4,325.4 442.8,324 443.2,322.7 443.5,321.3 443.9,320.1 444.3,318.8 444.7,317.7 445,316.5 445.4,315.5 445.8,314.5 446.1,313.5 446.5,312.7 446.9,311.9 447.3,311.1 447.6,310.5 448,310 448.4,309.5 448.7,309.2 449.1,308.9 449.5,308.8 449.9,308.8 450.2,308.8 450.6,309 451,309.3 451.3,309.6 451.7,310.1 452.1,310.7 452.5,311.3 452.8,312.1 453.2,313 453.6,314 453.9,315 454.3,316.2 454.7,317.4 455.1,318.8 455.4,320.2 455.8,321.7 456.2,323.3 456.5,324.9 456.9,326.7 457.3,328.4 457.7,330.2 458,332.1 458.4,334 458.8,335.9 459.1,337.8 459.5,339.8 459.9,341.8 460.2,343.7 460.6,345.7 461,347.6 461.4,349.5 461.7,351.3 462.1,353 462.5,354.7 462.8,356.2 463.2,357.7 463.6,359 464,360.2 464.3,361.2 464.7,362.1 465.1,362.9 465.4,363.4 465.8,363.9 466.2,364.1 466.6,364.2 466.9,364.1 467.3,363.9 467.7,363.5 468,363 468.4,362.4 468.8,361.8 469.2,361.1 469.5,360.4 469.9,359.8 470.3,359.1 470.6,358.5 471,358 471.4,357.6 471.8,357.2 472.1,356.9 472.5,356.7 472.9,356.6 473.2,356.6 473.6,356.6 474,356.8 474.4,357 474.7,357.3 475.1,357.6 475.5,358 475.8,358.4 476.2,358.9 476.6,359.3 476.9,359.7 477.3,360.1 477.7,360.4 478.1,360.8 478.4,361 478.8,361.2 479.2,361.4 479.5,361.6 479.9,361.7 480.3,361.8 480.7,361.8 481,361.9 481.4,361.9 481.8,361.8 482.1,361.8 482.5,361.7 482.9,361.6 483.3,361.5 483.6,361.4 484,361.2 484.4,361 484.7,360.8 485.1,360.6 485.5,360.4 485.9,360.1 486.2,359.8 486.6,359.6 487,359.3 487.3,359 487.7,358.8 488.1,358.5 488.5,358.3 488.8,358.1 489.2,358 489.6,357.9 489.9,357.8 490.3,357.8 490.7,357.9 491.1,358 491.4,358.2 491.8,358.4 492.2,358.6 492.5,358.8 492.9,359.1 493.3,359.4 493.6,359.7 494,360 494.4,360.3 494.8,360.6 495.1,360.9 495.5,361.2 495.9,361.5 496.2,361.7 496.6,361.9 497,362.1 497.4,362.3 497.7,362.5 498.1,362.6 498.5,362.7 498.8,362.8 499.2,362.8 499.6,362.9 500,362.8 500.3,362.8 500.7,362.7 501.1,362.7 501.4,362.6 501.8,362.5 502.2,362.4 502.6,362.2 502.9,362.1 503.3,362 503.7,361.9 504,361.9 504.4,361.8 504.8,361.8 505.2,361.8 505.5,361.8 505.9,361.8 506.3,361.8 506.6,361.9 507,361.9 507.4,362 507.8,362.1 508.1,362.2 508.5,362.2 508.9,362.3 509.2,362.4 509.6,362.5 510,362.6 510.3,362.7 510.7,362.8 511.1,362.9 511.5,362.9 511.8,363 512.2,363.1 512.6,363.1 512.9,363.2 513.3,363.2 513.7,363.3 514.1,363.3 514.4,363.3 514.8,363.4 515.2,363.4 515.5,363.4 515.9,363.4 516.3,363.4 516.7,363.5 517,363.5 517.4,363.5 517.8,363.5 518.1,363.5 518.5,363.5 518.9,363.5 519.3,363.5 519.6,363.5 520,363.5 520.4,363.5 520.7,363.5 521.1,363.5 521.5,363.5 521.9,363.5 522.2,363.5 522.6,363.6 523,363.6 523.3,363.6 523.7,363.6 524.1,363.6 524.5,363.6 524.8,363.6 525.2,363.7 525.6,363.7 525.9,363.7 526.3,363.7 526.7,363.7 527,363.8 527.4,363.8 527.8,363.8 528.2,363.8 528.5,363.8 528.9,363.9 529.3,363.9 529.6,363.9 530,364 530.4,364 530.8,364 531.1,364 531.5,364.1 531.9,364.1 532.2,364.1 532.6,364.1 533,364.2 533.4,364.2 533.7,364.2 534.1,364.3 534.5,364.3 534.8,364.3 535.2,364.3 535.6,364.4 536,364.4 536.3,364.4 536.7,364.4 537.1,364.5 537.4,364.5 537.8,364.5 538.2,364.5 538.6,364.6 538.9,364.6 539.3,364.6 539.7,364.6 540,364.7 540.4,364.7 540.8,364.7 541.2,364.7 541.5,364.8 541.9,364.8 542.3,364.8 542.6,364.8 543,364.8 543.4,364.9 543.7,364.9 544.1,364.9 544.5,364.9 544.9,364.9 545.2,365 545.6,365 546,365 546.3,365 546.7,365 547.1,365 547.5,365.1 547.8,365.1 548.2,365.1 548.6,365.1 548.9,365.1 549.3,365.1 549.7,365.1 550.1,365.2 550.4,365.2 550.8,365.2 551.2,365.2 551.5,365.2 551.9,365.2 552.3,365.2 552.7,365.2 553,365.2 553.4,365.3 553.8,365.3 554.1,365.3 554.5,365.3 554.9,365.3 555.3,365.3 555.6,365.3 556,365.3 556.4,365.3 556.7,365.3 557.1,365.3 557.5,365.3 557.9,365.3 558.2,365.4 558.6,365.4 559,365.4 559.3,365.4 559.7,365.4 560.1,365.4 560.4,365.4 560.8,365.4 561.2,365.4 561.6,365.4 561.9,365.4 562.3,365.4 562.7,365.4 563,365.4 563.4,365.4 563.8,365.4 564.2,365.4 564.5,365.4 564.9,365.4 565.3,365.4 565.6,365.4 566,365.4 566.4,365.4 566.8,365.4 567.1,365.4 567.5,365.4 567.9,365.4 568.2,365.4 568.6,365.4 569,365.4 569.4,365.4 569.7,365.4 570.1,365.4 570.5,365.4 570.8,365.4 571.2,365.4 571.6,365.4 572,365.4 572.3,365.4 572.7,365.4 573.1,365.4 573.4,365.4 573.8,365.4 574.2,365.4 574.6,365.4 574.9,365.4 575.3,365.3 575.7,365.3 576,365.3 576.4,365.3 576.8,365.3 577.1,365.3 577.5,365.3 577.9,365.3 578.3,365.3 578.6,365.3 579,365.3 579.4,365.3 579.7,365.3 580.1,365.3 580.5,365.3 580.9,365.2 581.2,365.2 581.6,365.2 582,365.2 582.3,365.2 582.7,365.2 583.1,365.2 583.5,365.2 583.8,365.2 584.2,365.2 584.6,365.2 584.9,365.2 585.3,365.1 585.7,365.1 586.1,365.1 586.4,365.1 586.8,365.1 587.2,365.1 587.5,365.1 587.9,365.1 588.3,365.1 588.7,365.1 589,365 589.4,365 589.8,365 590.1,365 590.5,365 590.9,365 591.3,365 591.6,365 592,365 592.4,364.9 592.7,364.9 593.1,364.9 593.5,364.9 593.8,364.9 594.2,364.9 594.6,364.9 595,364.9 595.3,364.9 595.7,364.8 596.1,364.8 596.4,364.8 596.8,364.8 597.2,364.8 597.6,364.8 597.9,364.8 598.3,364.8 598.7,364.7 599,364.7 599.4,364.7 599.8,364.7 600.2,364.7 600.5,364.7 600.9,364.7 601.3,364.7 601.6,364.6 602,364.6 602.4,364.6 602.8,364.6 603.1,364.6 603.5,364.6 603.9,364.6 604.2,364.6 604.6,364.5 605,364.5" fill="none" stroke="#F01E1E" stroke-width="1.9" stroke-linejoin="round" stroke-linecap="round" stroke-dasharray="0.01,3.3"/>
<line x1="516" y1="305.8" x2="527.7" y2="305.8" stroke="#777" stroke-width="1.4" />
<line x1="516" y1="315.8" x2="527.7" y2="315.8" stroke="#F01E1E" stroke-width="1.6" stroke-dasharray="0.01,2.5" stroke-linecap="round"/>
<text x="530.4" y="308.6" font-size="7.9">DAC Experiment</text>
<text x="530.4" y="318.6" font-size="7.9">4.088 Å DAC Fitting</text>
<polyline points="382.7,431.8 383.7,431.2 384.7,430.6 385.7,430 386.7,429.6 387.7,429.3 388.7,429.1 389.7,429.2 390.7,429.5 391.7,429.9 392.7,430.4 393.7,431 394.6,431.6 395.6,432.1 396.6,432.5 397.6,432.7 398.6,432.5 399.6,431.8 400.6,431 401.6,429.9 402.6,428.8 403.6,427.7 404.6,426.8 405.6,426.3 406.6,426.1 407.6,426.3 408.6,426.8 409.6,427.7 410.6,429 411.6,430.4 412.6,431.6 413.6,431.8 414.6,430.9 415.6,429 416.6,426.5 417.6,423.7 418.6,420.9 419.6,418.4 420.6,416.3 421.6,414.5 422.6,413 423.6,411.8 424.6,410.8 425.6,410.1 426.5,409.7 427.5,409.7 428.5,410.1 429.5,410.7 430.5,411.7 431.5,413 432.5,414.4 433.5,415.6 434.5,416.1 435.5,415.6 436.5,414 437.5,411.3 438.5,408 439.5,404.3 440.5,400.4 441.5,396.6 442.5,393 443.5,389.6 444.5,386.5 445.5,383.8 446.5,381.5 447.5,379.6 448.5,378.4 449.5,377.8 450.5,378 451.5,378.9 452.5,380.5 453.5,382.8 454.5,385.9 455.5,389.5 456.5,393.7 457.4,398.3 458.4,403.2 459.4,408.2 460.4,413.3 461.4,418.3 462.4,422.9 463.4,427.1 464.4,430.3 465.4,432.4 466.4,433.2 467.4,432.5 468.4,430.8 469.4,428.6 470.4,426.8 471.4,425.5 472.4,424.6 473.4,424.2 474.4,424.1 475.4,424.2 476.4,424.3 477.4,424.4 478.4,424.3 479.4,424 480.4,423.3 481.4,422.3 482.4,421.2 483.4,420 484.4,418.8 485.4,417.6 486.4,416.6 487.4,415.7 488.4,415 489.3,414.7 490.3,414.6 491.3,414.9 492.3,415.5 493.3,416.4 494.3,417.6 495.3,419.2 496.3,420.9 497.3,422.6 498.3,424.3 499.3,425.8 500.3,427.1 501.3,428.1 502.3,429 503.3,429.6 504.3,430.1 505.3,430.4 506.3,430.7 507.3,430.8 508.3,430.9 509.3,431 510.3,431 511.3,431 512.3,431 513.3,430.9 514.3,430.8 515.3,430.7 516.3,430.5 517.3,430.3 518.3,430 519.3,429.7 520.3,429.4 521.2,429.1 522.2,428.7 523.2,428.4 524.2,428.1 525.2,427.9 526.2,427.8 527.2,427.9 528.2,428 529.2,428.3 530.2,428.7 531.2,429.2 532.2,429.8 533.2,430.4 534.2,431 535.2,431.5 536.2,431.9 537.2,432.1 538.2,432.2 539.2,432.2 540.2,432.2 541.2,432 542.2,431.9 543.2,431.7 544.2,431.6 545.2,431.4 546.2,431.4 547.2,431.3 548.2,431.4 549.2,431.4 550.2,431.4 551.2,431.5 552.2,431.6 553.1,431.7 554.1,431.8 555.1,431.9 556.1,432 557.1,432.1 558.1,432.1 559.1,432.2 560.1,432.2 561.1,432.3 562.1,432.3 563.1,432.4 564.1,432.4 565.1,432.4 566.1,432.5 567.1,432.5 568.1,432.5 569.1,432.5 570.1,432.5 571.1,432.6 572.1,432.6 573.1,432.6 574.1,432.6 575.1,432.6 576.1,432.6 577.1,432.6 578.1,432.6 579.1,432.5 580.1,432.5 581.1,432.5 582.1,432.5 583.1,432.5 584,432.5 585,432.5 586,432.4 587,432.4 588,432.4 589,432.4 590,432.3 591,432.3 592,432.3 593,432.2 594,432.2 595,432.2 596,432.2 597,432.1 598,432.1 599,432.1 600,432 601,432 602,432 603,431.9 604,431.9 605,431.8" fill="none" stroke="#707070" stroke-width="1.9" stroke-linejoin="round" stroke-linecap="round" />
<polyline points="382.7,432.5 383.1,432.2 383.4,431.9 383.8,431.7 384.2,431.4 384.5,431.1 384.9,430.9 385.3,430.6 385.7,430.4 386,430.2 386.4,430 386.8,429.8 387.1,429.6 387.5,429.4 387.9,429.3 388.3,429.2 388.6,429.1 389,429.1 389.4,429 389.7,429 390.1,429 390.5,429.1 390.9,429.1 391.2,429.2 391.6,429.3 392,429.5 392.3,429.6 392.7,429.8 393.1,430 393.4,430.2 393.8,430.4 394.2,430.6 394.6,430.9 394.9,431.1 395.3,431.4 395.7,431.6 396,431.8 396.4,432 396.8,432.2 397.2,432.4 397.5,432.5 397.9,432.5 398.3,432.5 398.6,432.5 399,432.4 399.4,432.2 399.8,432.1 400.1,431.8 400.5,431.6 400.9,431.3 401.2,431 401.6,430.6 402,430.3 402.4,429.9 402.7,429.6 403.1,429.2 403.5,428.9 403.8,428.5 404.2,428.2 404.6,427.9 405,427.6 405.3,427.4 405.7,427.2 406.1,427 406.4,426.9 406.8,426.8 407.2,426.8 407.6,426.8 407.9,426.9 408.3,427 408.7,427.2 409,427.4 409.4,427.7 409.8,428 410.1,428.4 410.5,428.9 410.9,429.4 411.3,429.9 411.6,430.4 412,430.8 412.4,431.3 412.7,431.6 413.1,431.8 413.5,431.9 413.9,431.8 414.2,431.5 414.6,431.1 415,430.6 415.3,430 415.7,429.2 416.1,428.5 416.5,427.6 416.8,426.7 417.2,425.8 417.6,424.9 417.9,424 418.3,423.1 418.7,422.3 419.1,421.5 419.4,420.8 419.8,420.2 420.2,419.5 420.5,419 420.9,418.5 421.3,418 421.7,417.5 422,417.1 422.4,416.8 422.8,416.4 423.1,416.1 423.5,415.8 423.9,415.6 424.3,415.3 424.6,415.1 425,414.9 425.4,414.7 425.7,414.5 426.1,414.4 426.5,414.3 426.8,414.2 427.2,414.1 427.6,414.1 428,414 428.3,414 428.7,414 429.1,414.1 429.4,414.2 429.8,414.2 430.2,414.3 430.6,414.4 430.9,414.6 431.3,414.7 431.7,414.8 432,414.9 432.4,414.9 432.8,415 433.2,415 433.5,415.1 433.9,415 434.3,415 434.6,414.9 435,414.8 435.4,414.5 435.8,414.2 436.1,413.8 436.5,413.4 436.9,412.8 437.2,412.1 437.6,411.2 438,410.3 438.4,409.2 438.7,408.1 439.1,406.9 439.5,405.6 439.8,404.3 440.2,402.9 440.6,401.5 441,400.1 441.3,398.7 441.7,397.2 442.1,395.8 442.4,394.4 442.8,393 443.2,391.7 443.5,390.3 443.9,389.1 444.3,387.8 444.7,386.7 445,385.5 445.4,384.5 445.8,383.5 446.1,382.5 446.5,381.7 446.9,380.9 447.3,380.2 447.6,379.5 448,379 448.4,378.5 448.7,378.2 449.1,377.9 449.5,377.8 449.9,377.8 450.2,377.8 450.6,378 451,378.3 451.3,378.6 451.7,379.1 452.1,379.7 452.5,380.3 452.8,381.1 453.2,382 453.6,383 453.9,384 454.3,385.2 454.7,386.4 455.1,387.8 455.4,389.2 455.8,390.7 456.2,392.3 456.5,394 456.9,395.7 457.3,397.4 457.7,399.2 458,401.1 458.4,403 458.8,404.9 459.1,406.8 459.5,408.8 459.9,410.8 460.2,412.7 460.6,414.7 461,416.6 461.4,418.5 461.7,420.3 462.1,422 462.5,423.7 462.8,425.2 463.2,426.7 463.6,428 464,429.2 464.3,430.2 464.7,431.1 465.1,431.9 465.4,432.5 465.8,432.9 466.2,433.1 466.6,433.2 466.9,433.1 467.3,432.8 467.7,432.4 468,431.9 468.4,431.4 468.8,430.7 469.2,430 469.5,429.4 469.9,428.7 470.3,428.1 470.6,427.5 471,427.1 471.4,426.7 471.8,426.4 472.1,426.2 472.5,426.1 472.9,426 473.2,426 473.6,426 474,426.1 474.4,426.3 474.7,426.5 475.1,426.7 475.5,427 475.8,427.3 476.2,427.6 476.6,427.9 476.9,428.2 477.3,428.6 477.7,428.9 478.1,429.3 478.4,429.6 478.8,429.9 479.2,430.3 479.5,430.6 479.9,430.9 480.3,431.1 480.7,431.4 481,431.5 481.4,431.7 481.8,431.8 482.1,431.8 482.5,431.8 482.9,431.8 483.3,431.7 483.6,431.5 484,431.3 484.4,431 484.7,430.8 485.1,430.5 485.5,430.2 485.9,429.9 486.2,429.6 486.6,429.3 487,429 487.3,428.8 487.7,428.5 488.1,428.3 488.5,428.1 488.8,427.9 489.2,427.8 489.6,427.6 489.9,427.5 490.3,427.5 490.7,427.5 491.1,427.5 491.4,427.6 491.8,427.6 492.2,427.8 492.5,427.9 492.9,428.1 493.3,428.3 493.6,428.5 494,428.7 494.4,428.9 494.8,429.1 495.1,429.4 495.5,429.6 495.9,429.8 496.2,430.1 496.6,430.3 497,430.5 497.4,430.7 497.7,430.9 498.1,431.1 498.5,431.2 498.8,431.4 499.2,431.5 499.6,431.6 500,431.7 500.3,431.8 500.7,431.8 501.1,431.9 501.4,431.9 501.8,431.9 502.2,431.8 502.6,431.8 502.9,431.7 503.3,431.7 503.7,431.6 504,431.5 504.4,431.4 504.8,431.3 505.2,431.3 505.5,431.2 505.9,431.1 506.3,431 506.6,431 507,430.9 507.4,430.9 507.8,430.8 508.1,430.8 508.5,430.8 508.9,430.8 509.2,430.9 509.6,430.9 510,431 510.3,431 510.7,431.1 511.1,431.2 511.5,431.2 511.8,431.3 512.2,431.4 512.6,431.5 512.9,431.6 513.3,431.6 513.7,431.7 514.1,431.8 514.4,431.9 514.8,431.9 515.2,432 515.5,432 515.9,432.1 516.3,432.1 516.7,432.2 517,432.2 517.4,432.3 517.8,432.3 518.1,432.3 518.5,432.3 518.9,432.4 519.3,432.4 519.6,432.4 520,432.4 520.4,432.4 520.7,432.4 521.1,432.4 521.5,432.4 521.9,432.5 522.2,432.5 522.6,432.5 523,432.5 523.3,432.5 523.7,432.5 524.1,432.5 524.5,432.5 524.8,432.5 525.2,432.5 525.6,432.6 525.9,432.6 526.3,432.6 526.7,432.6 527,432.6 527.4,432.7 527.8,432.7 528.2,432.7 528.5,432.7 528.9,432.8 529.3,432.8 529.6,432.8 530,432.8 530.4,432.9 530.8,432.9 531.1,432.9 531.5,433 531.9,433 532.2,433 532.6,433.1 533,433.1 533.4,433.1 533.7,433.2 534.1,433.2 534.5,433.2 534.8,433.3 535.2,433.3 535.6,433.3 536,433.4 536.3,433.4 536.7,433.4 537.1,433.5 537.4,433.5 537.8,433.5 538.2,433.6 538.6,433.6 538.9,433.6 539.3,433.6 539.7,433.7 540,433.7 540.4,433.7 540.8,433.8 541.2,433.8 541.5,433.8 541.9,433.8 542.3,433.9 542.6,433.9 543,433.9 543.4,433.9 543.7,434 544.1,434 544.5,434 544.9,434 545.2,434 545.6,434.1 546,434.1 546.3,434.1 546.7,434.1 547.1,434.1 547.5,434.2 547.8,434.2 548.2,434.2 548.6,434.2 548.9,434.2 549.3,434.2 549.7,434.3 550.1,434.3 550.4,434.3 550.8,434.3 551.2,434.3 551.5,434.3 551.9,434.4 552.3,434.4 552.7,434.4 553,434.4 553.4,434.4 553.8,434.4 554.1,434.4 554.5,434.4 554.9,434.4 555.3,434.5 555.6,434.5 556,434.5 556.4,434.5 556.7,434.5 557.1,434.5 557.5,434.5 557.9,434.5 558.2,434.5 558.6,434.5 559,434.5 559.3,434.5 559.7,434.6 560.1,434.6 560.4,434.6 560.8,434.6 561.2,434.6 561.6,434.6 561.9,434.6 562.3,434.6 562.7,434.6 563,434.6 563.4,434.6 563.8,434.6 564.2,434.6 564.5,434.6 564.9,434.6 565.3,434.6 565.6,434.6 566,434.6 566.4,434.6 566.8,434.6 567.1,434.6 567.5,434.6 567.9,434.6 568.2,434.6 568.6,434.6 569,434.6 569.4,434.6 569.7,434.6 570.1,434.6 570.5,434.6 570.8,434.6 571.2,434.6 571.6,434.6 572,434.6 572.3,434.6 572.7,434.6 573.1,434.6 573.4,434.5 573.8,434.5 574.2,434.5 574.6,434.5 574.9,434.5 575.3,434.5 575.7,434.5 576,434.5 576.4,434.5 576.8,434.5 577.1,434.5 577.5,434.5 577.9,434.5 578.3,434.5 578.6,434.5 579,434.4 579.4,434.4 579.7,434.4 580.1,434.4 580.5,434.4 580.9,434.4 581.2,434.4 581.6,434.4 582,434.4 582.3,434.4 582.7,434.3 583.1,434.3 583.5,434.3 583.8,434.3 584.2,434.3 584.6,434.3 584.9,434.3 585.3,434.3 585.7,434.3 586.1,434.2 586.4,434.2 586.8,434.2 587.2,434.2 587.5,434.2 587.9,434.2 588.3,434.2 588.7,434.2 589,434.2 589.4,434.1 589.8,434.1 590.1,434.1 590.5,434.1 590.9,434.1 591.3,434.1 591.6,434.1 592,434 592.4,434 592.7,434 593.1,434 593.5,434 593.8,434 594.2,434 594.6,433.9 595,433.9 595.3,433.9 595.7,433.9 596.1,433.9 596.4,433.9 596.8,433.9 597.2,433.8 597.6,433.8 597.9,433.8 598.3,433.8 598.7,433.8 599,433.8 599.4,433.8 599.8,433.7 600.2,433.7 600.5,433.7 600.9,433.7 601.3,433.7 601.6,433.7 602,433.6 602.4,433.6 602.8,433.6 603.1,433.6 603.5,433.6 603.9,433.6 604.2,433.6 604.6,433.5 605,433.5" fill="none" stroke="#F01E1E" stroke-width="1.9" stroke-linejoin="round" stroke-linecap="round" stroke-dasharray="0.01,3.3"/>
<line x1="516" y1="374.8" x2="527.7" y2="374.8" stroke="#777" stroke-width="1.4" />
<line x1="516" y1="385.5" x2="527.7" y2="385.5" stroke="#F01E1E" stroke-width="1.6" stroke-dasharray="0.01,2.5" stroke-linecap="round"/>
<text x="530.4" y="377.6" font-size="7.9">DAC Experiment</text>
<text x="530.4" y="388.3" font-size="7.9">4.983 Å DAC Fitting</text>
<rect x="383.3" y="226.5" width="221.4" height="2.6" fill="#C8C8C8" />
<line x1="383.3" y1="227.8" x2="604.7" y2="227.8" stroke="#777" stroke-width="0.7" />
<line x1="382.9" y1="227.2" x2="382.9" y2="228.6" stroke="#333" stroke-width="0.9" />
<line x1="405.1" y1="227.2" x2="405.1" y2="228.6" stroke="#333" stroke-width="0.9" />
<line x1="427.4" y1="227.2" x2="427.4" y2="228.6" stroke="#333" stroke-width="0.9" />
<line x1="449.6" y1="227.2" x2="449.6" y2="228.6" stroke="#333" stroke-width="0.9" />
<line x1="471.8" y1="227.2" x2="471.8" y2="228.6" stroke="#333" stroke-width="0.9" />
<line x1="494" y1="227.2" x2="494" y2="228.6" stroke="#333" stroke-width="0.9" />
<line x1="516.3" y1="227.2" x2="516.3" y2="228.6" stroke="#333" stroke-width="0.9" />
<line x1="538.5" y1="227.2" x2="538.5" y2="228.6" stroke="#333" stroke-width="0.9" />
<line x1="560.7" y1="227.2" x2="560.7" y2="228.6" stroke="#333" stroke-width="0.9" />
<line x1="583" y1="227.2" x2="583" y2="228.6" stroke="#333" stroke-width="0.9" />
<line x1="605.2" y1="227.2" x2="605.2" y2="228.6" stroke="#333" stroke-width="0.9" />
<rect x="383.3" y="295.7" width="221.4" height="2.6" fill="#C8C8C8" />
<line x1="383.3" y1="297" x2="604.7" y2="297" stroke="#777" stroke-width="0.7" />
<line x1="382.9" y1="296.4" x2="382.9" y2="297.8" stroke="#333" stroke-width="0.9" />
<line x1="405.1" y1="296.4" x2="405.1" y2="297.8" stroke="#333" stroke-width="0.9" />
<line x1="427.4" y1="296.4" x2="427.4" y2="297.8" stroke="#333" stroke-width="0.9" />
<line x1="449.6" y1="296.4" x2="449.6" y2="297.8" stroke="#333" stroke-width="0.9" />
<line x1="471.8" y1="296.4" x2="471.8" y2="297.8" stroke="#333" stroke-width="0.9" />
<line x1="494" y1="296.4" x2="494" y2="297.8" stroke="#333" stroke-width="0.9" />
<line x1="516.3" y1="296.4" x2="516.3" y2="297.8" stroke="#333" stroke-width="0.9" />
<line x1="538.5" y1="296.4" x2="538.5" y2="297.8" stroke="#333" stroke-width="0.9" />
<line x1="560.7" y1="296.4" x2="560.7" y2="297.8" stroke="#333" stroke-width="0.9" />
<line x1="583" y1="296.4" x2="583" y2="297.8" stroke="#333" stroke-width="0.9" />
<line x1="605.2" y1="296.4" x2="605.2" y2="297.8" stroke="#333" stroke-width="0.9" />
<rect x="383.3" y="364.9" width="221.4" height="2.6" fill="#C8C8C8" />
<line x1="383.3" y1="366.2" x2="604.7" y2="366.2" stroke="#777" stroke-width="0.7" />
<line x1="382.9" y1="365.6" x2="382.9" y2="367" stroke="#333" stroke-width="0.9" />
<line x1="405.1" y1="365.6" x2="405.1" y2="367" stroke="#333" stroke-width="0.9" />
<line x1="427.4" y1="365.6" x2="427.4" y2="367" stroke="#333" stroke-width="0.9" />
<line x1="449.6" y1="365.6" x2="449.6" y2="367" stroke="#333" stroke-width="0.9" />
<line x1="471.8" y1="365.6" x2="471.8" y2="367" stroke="#333" stroke-width="0.9" />
<line x1="494" y1="365.6" x2="494" y2="367" stroke="#333" stroke-width="0.9" />
<line x1="516.3" y1="365.6" x2="516.3" y2="367" stroke="#333" stroke-width="0.9" />
<line x1="538.5" y1="365.6" x2="538.5" y2="367" stroke="#333" stroke-width="0.9" />
<line x1="560.7" y1="365.6" x2="560.7" y2="367" stroke="#333" stroke-width="0.9" />
<line x1="583" y1="365.6" x2="583" y2="367" stroke="#333" stroke-width="0.9" />
<line x1="605.2" y1="365.6" x2="605.2" y2="367" stroke="#333" stroke-width="0.9" />
<rect x="383.3" y="159.6" width="221.4" height="275.1" fill="none" stroke="#3a3a3a" stroke-width="0.9" />
<line x1="382.9" y1="434.7" x2="382.9" y2="436.7" stroke="#3a3a3a" stroke-width="0.8" />
<line x1="405.1" y1="434.7" x2="405.1" y2="435.9" stroke="#3a3a3a" stroke-width="0.8" />
<line x1="427.4" y1="434.7" x2="427.4" y2="436.7" stroke="#3a3a3a" stroke-width="0.8" />
<line x1="449.6" y1="434.7" x2="449.6" y2="435.9" stroke="#3a3a3a" stroke-width="0.8" />
<line x1="471.8" y1="434.7" x2="471.8" y2="436.7" stroke="#3a3a3a" stroke-width="0.8" />
<line x1="494" y1="434.7" x2="494" y2="435.9" stroke="#3a3a3a" stroke-width="0.8" />
<line x1="516.3" y1="434.7" x2="516.3" y2="436.7" stroke="#3a3a3a" stroke-width="0.8" />
<line x1="538.5" y1="434.7" x2="538.5" y2="435.9" stroke="#3a3a3a" stroke-width="0.8" />
<line x1="560.7" y1="434.7" x2="560.7" y2="436.7" stroke="#3a3a3a" stroke-width="0.8" />
<line x1="583" y1="434.7" x2="583" y2="435.9" stroke="#3a3a3a" stroke-width="0.8" />
<line x1="605.2" y1="434.7" x2="605.2" y2="436.7" stroke="#3a3a3a" stroke-width="0.8" />
<text x="382.9" y="444" font-size="7.4" text-anchor="middle">0</text>
<text x="427.4" y="444" font-size="7.4" text-anchor="middle">1</text>
<text x="471.8" y="444" font-size="7.4" text-anchor="middle">2</text>
<text x="516.3" y="444" font-size="7.4" text-anchor="middle">3</text>
<text x="560.7" y="444" font-size="7.4" text-anchor="middle">4</text>
<text x="605.2" y="444" font-size="7.4" text-anchor="middle">5</text>
<text x="515.2" y="455.5" font-size="8.3" text-anchor="middle">Radial distance (Å)</text>
<text x="0" y="0" font-size="8.5" text-anchor="middle" fill="#222" transform="translate(375 296) rotate(-90)"><tspan font-size="11.5" dy="0.9">|</tspan><tspan dx="1.6" dy="-0.9">FT(k</tspan><tspan font-size="5.6" dy="-2.9">3</tspan><tspan dy="2.9" font-style="italic">χ</tspan>(k))<tspan dx="1.6" font-size="11.5" dy="0.9">|</tspan><tspan dx="4.2" dy="-0.9">(Å</tspan><tspan font-size="5.6" dy="-2.9">-4</tspan><tspan dy="2.9">)</tspan></text>
<text x="387.4" y="168.8" font-size="7.6">Cu K-edge</text>
<text x="491.8" y="194.1" font-size="7.7" text-anchor="middle">2.45-2.54 Å</text>
<clipPath id="cb1"><rect x="605.6" y="159.4" width="74" height="66.5"/></clipPath>
<g clip-path="url(#cb1)">
<rect x="605.6" y="159.4" width="74" height="66.5" fill="#fff" />
<path d="M632.5 155.9L632.5 151.4M632.5 146.8L632.5 151.4M671.9 160.4L671.9 165M671.9 169.6L671.9 165M671.9 142.2L675.8 144.5M679.8 146.8L675.8 144.5M616.7 201.4L620.6 199.1M695.5 210.5L699.5 212.8M703.4 215.1L699.5 212.8M585.2 183.2L585.2 178.6M585.2 174.1L585.2 178.6M600.9 155.9L600.9 151.4M600.9 146.8L600.9 151.4M608.8 251.4L604.9 253.7M600.9 256L604.9 253.7M600.9 210.5L604.9 212.8M608.8 215.1L604.9 212.8M616.7 174.1L620.6 171.8M624.6 169.6L620.6 171.8M656.1 251.4L660 253.7M664 256L660 253.7M695.5 183.2L695.5 178.6M695.5 174.1L695.5 178.6M600.9 183.2L600.9 178.6M600.9 174.1L600.9 178.6M703.4 224.2L703.4 219.6M703.4 215.1L703.4 219.6M600.9 256L597 253.7M593.1 251.4L597 253.7M600.9 237.8L597 240.1M593.1 242.3L597 240.1M624.6 160.4L624.6 165M624.6 169.6L624.6 165M616.7 155.9L620.6 158.2M624.6 160.4L620.6 158.2M703.4 169.6L703.4 165M703.4 160.4L703.4 165M585.2 210.5L585.2 205.9M585.2 201.4L585.2 205.9M679.8 201.4L683.7 199.1M687.6 196.8L683.7 199.1M585.2 174.1L589.1 171.8M593.1 169.6L589.1 171.8M624.6 242.3L624.6 246.9M624.6 251.4L624.6 246.9M648.2 237.8L644.3 240.1M640.3 242.3L644.3 240.1M600.9 228.7L604.9 226.4M608.8 224.2L604.9 226.4M679.8 210.5L675.8 212.8M671.9 215.1L675.8 212.8M679.8 174.1L683.7 171.8M687.6 169.6L683.7 171.8M695.5 174.1L699.5 171.8M703.4 169.6L699.5 171.8M624.6 215.1L624.6 219.6M624.6 224.2L624.6 219.6M585.2 201.4L589.1 199.1M593.1 196.8L589.1 199.1M679.8 210.5L683.7 212.8M687.6 215.1L683.7 212.8M616.7 146.8L620.6 144.5M624.6 142.2L620.6 144.5M640.3 224.2L644.3 226.4M648.2 228.7L644.3 226.4M679.8 183.2L683.7 185.5M687.6 187.8L683.7 185.5M624.6 187.8L628.5 185.5M632.5 155.9L636.4 158.2M640.3 160.4L636.4 158.2M593.1 160.4L593.1 165M593.1 169.6L593.1 165M593.1 196.8L597 199.1M600.9 201.4L597 199.1M624.6 169.6L628.5 171.8M632.5 174.1L628.5 171.8M656.1 142.2L660 144.5M664 146.8L660 144.5M600.9 237.8L600.9 233.2M600.9 228.7L600.9 233.2M695.5 210.5L695.5 205.9M695.5 201.4L695.5 205.9M600.9 210.5L597 212.8M593.1 215.1L597 212.8M664 146.8L667.9 144.5M671.9 142.2L667.9 144.5M593.1 224.2L597 226.4M600.9 228.7L597 226.4M640.3 251.4L636.4 253.7M632.5 256L636.4 253.7M656.1 160.4L656.1 165M656.1 169.6L656.1 165M632.5 146.8L636.4 144.5M640.3 142.2L636.4 144.5M640.3 251.4L644.3 253.7M648.2 256L644.3 253.7M695.5 201.4L699.5 199.1M703.4 196.8L699.5 199.1M664 237.8L664 233.2M664 228.7L664 233.2M679.8 228.7L683.7 226.4M687.6 224.2L683.7 226.4M687.6 251.4L691.6 253.7M695.5 256L691.6 253.7M593.1 215.1L589.1 212.8M585.2 210.5L589.1 212.8M624.6 142.2L628.5 144.5M632.5 146.8L628.5 144.5M656.1 242.3L656.1 246.9M656.1 251.4L656.1 246.9M679.8 237.8L675.8 240.1M671.9 242.3L675.8 240.1M593.1 187.8L593.1 192.3M593.1 196.8L593.1 192.3M616.7 210.5L616.7 205.9M616.7 201.4L616.7 205.9M664 210.5L664 205.9M664 201.4L664 205.9M679.8 237.8L683.7 240.1M687.6 242.3L683.7 240.1M687.6 215.1L687.6 219.6M687.6 224.2L687.6 219.6M664 201.4L667.9 199.1M671.9 196.8L667.9 199.1M616.7 183.2L616.7 178.6M616.7 174.1L616.7 178.6M664 183.2L664 178.6M664 174.1L664 178.6M616.7 183.2L620.6 185.5M624.6 187.8L620.6 185.5M664 174.1L667.9 171.8M671.9 169.6L667.9 171.8M687.6 187.8L687.6 192.3M687.6 196.8L687.6 192.3M695.5 155.9L691.6 158.2M687.6 160.4L691.6 158.2M593.1 242.3L589.1 240.1M585.2 237.8L589.1 240.1M600.9 201.4L604.9 199.1M608.8 196.8L604.9 199.1M695.5 155.9L699.5 158.2M703.4 160.4L699.5 158.2M616.7 155.9L612.8 158.2M608.8 160.4L612.8 158.2M600.9 155.9L604.9 158.2M608.8 160.4L604.9 158.2M624.6 224.2L628.5 226.4M632.5 228.7L628.5 226.4M632.5 237.8L628.5 240.1M624.6 242.3L628.5 240.1M664 155.9L660 158.2M656.1 160.4L660 158.2M648.2 237.8L652.2 240.1M656.1 242.3L652.2 240.1M671.9 196.8L675.8 199.1M679.8 201.4L675.8 199.1M664 155.9L667.9 158.2M671.9 160.4L667.9 158.2M632.5 237.8L636.4 240.1M640.3 242.3L636.4 240.1M585.2 237.8L585.2 233.2M585.2 228.7L585.2 233.2M600.9 210.5L600.9 205.9M600.9 201.4L600.9 205.9M624.6 215.1L628.5 212.8M632.5 174.1L636.4 171.8M640.3 169.6L636.4 171.8M640.3 215.1L636.4 212.8M695.5 155.9L695.5 151.4M695.5 146.8L695.5 151.4M695.5 228.7L699.5 226.4M703.4 224.2L699.5 226.4M616.7 228.7L620.6 226.4M624.6 224.2L620.6 226.4M664 155.9L664 151.4M664 146.8L664 151.4M695.5 237.8L695.5 233.2M695.5 228.7L695.5 233.2M608.8 142.2L612.8 144.5M616.7 146.8L612.8 144.5M585.2 228.7L589.1 226.4M593.1 224.2L589.1 226.4M687.6 242.3L687.6 246.9M687.6 251.4L687.6 246.9M671.9 251.4L667.9 253.7M664 256L667.9 253.7M679.8 210.5L679.8 205.9M679.8 201.4L679.8 205.9M671.9 251.4L675.8 253.7M679.8 256L675.8 253.7M616.7 237.8L616.7 233.2M616.7 228.7L616.7 233.2M679.8 183.2L679.8 178.6M679.8 174.1L679.8 178.6M608.8 160.4L608.8 165M608.8 169.6L608.8 165M593.1 242.3L593.1 246.9M593.1 251.4L593.1 246.9M616.7 237.8L620.6 240.1M624.6 242.3L620.6 240.1M664 228.7L667.9 226.4M671.9 224.2L667.9 226.4M695.5 237.8L699.5 240.1M703.4 242.3L699.5 240.1M703.4 251.4L703.4 246.9M703.4 242.3L703.4 246.9M608.8 242.3L608.8 246.9M608.8 251.4L608.8 246.9M632.5 228.7L636.4 226.4M640.3 224.2L636.4 226.4M616.7 210.5L620.6 212.8M624.6 215.1L620.6 212.8M648.2 210.5L648.2 205.9M671.9 187.8L671.9 192.3M671.9 196.8L671.9 192.3M679.8 155.9L675.8 158.2M671.9 160.4L675.8 158.2M640.3 242.3L640.3 246.9M640.3 251.4L640.3 246.9M593.1 160.4L589.1 158.2M585.2 155.9L589.1 158.2M687.6 196.8L691.6 199.1M695.5 201.4L691.6 199.1M608.8 215.1L608.8 219.6M608.8 224.2L608.8 219.6M671.9 224.2L675.8 226.4M679.8 228.7L675.8 226.4M640.3 215.1L640.3 219.6M640.3 224.2L640.3 219.6M664 210.5L660 212.8M656.1 215.1L660 212.8M687.6 169.6L691.6 171.8M695.5 174.1L691.6 171.8M656.1 169.6L652.2 171.8M695.5 183.2L691.6 185.5M687.6 187.8L691.6 185.5M616.7 183.2L612.8 185.5M608.8 187.8L612.8 185.5M664 183.2L660 185.5M648.2 155.9L644.3 158.2M640.3 160.4L644.3 158.2M656.1 196.8L660 199.1M664 201.4L660 199.1M664 183.2L667.9 185.5M671.9 187.8L667.9 185.5M679.8 155.9L679.8 151.4M679.8 146.8L679.8 151.4M648.2 155.9L652.2 158.2M656.1 160.4L652.2 158.2M585.2 155.9L585.2 151.4M585.2 146.8L585.2 151.4M608.8 169.6L612.8 171.8M616.7 174.1L612.8 171.8M656.1 169.6L660 171.8M664 174.1L660 171.8M687.6 142.2L691.6 144.5M695.5 146.8L691.6 144.5M608.8 251.4L612.8 253.7M616.7 256L612.8 253.7M679.8 237.8L679.8 233.2M679.8 228.7L679.8 233.2M616.7 155.9L616.7 151.4M616.7 146.8L616.7 151.4M585.2 146.8L589.1 144.5M593.1 142.2L589.1 144.5M600.9 183.2L604.9 185.5M608.8 187.8L604.9 185.5M648.2 155.9L648.2 151.4M648.2 146.8L648.2 151.4M648.2 146.8L652.2 144.5M656.1 142.2L652.2 144.5M656.1 251.4L652.2 253.7M648.2 256L652.2 253.7M687.6 160.4L687.6 165M687.6 169.6L687.6 165M600.9 237.8L604.9 240.1M608.8 242.3L604.9 240.1M648.2 237.8L648.2 233.2M648.2 228.7L648.2 233.2M640.3 160.4L640.3 165M640.3 169.6L640.3 165M640.3 142.2L644.3 144.5M648.2 146.8L644.3 144.5M632.5 237.8L632.5 233.2M632.5 228.7L632.5 233.2M648.2 228.7L652.2 226.4M656.1 224.2L652.2 226.4M671.9 242.3L671.9 246.9M671.9 251.4L671.9 246.9M695.5 237.8L691.6 240.1M687.6 242.3L691.6 240.1M593.1 142.2L597 144.5M600.9 146.8L597 144.5M624.6 251.4L620.6 253.7M616.7 256L620.6 253.7M656.1 196.8L652.2 199.1M671.9 215.1L671.9 219.6M671.9 224.2L671.9 219.6M695.5 210.5L691.6 212.8M687.6 215.1L691.6 212.8M624.6 251.4L628.5 253.7M632.5 256L628.5 253.7M687.6 224.2L691.6 226.4M695.5 228.7L691.6 226.4M656.1 215.1L656.1 219.6M656.1 224.2L656.1 219.6M600.9 155.9L597 158.2M593.1 160.4L597 158.2M632.5 174.1L632.5 178.6M593.1 169.6L597 171.8M600.9 174.1L597 171.8M608.8 224.2L612.8 226.4M616.7 228.7L612.8 226.4M656.1 224.2L660 226.4M664 228.7L660 226.4M616.7 237.8L612.8 240.1M608.8 242.3L612.8 240.1M664 237.8L660 240.1M656.1 242.3L660 240.1M608.8 187.8L608.8 192.3M608.8 196.8L608.8 192.3M656.1 196.8L656.1 192.3M679.8 183.2L675.8 185.5M671.9 187.8L675.8 185.5M600.9 174.1L604.9 171.8M608.8 169.6L604.9 171.8M679.8 155.9L683.7 158.2M687.6 160.4L683.7 158.2M600.9 183.2L597 185.5M593.1 187.8L597 185.5M593.1 215.1L593.1 219.6M593.1 224.2L593.1 219.6M664 237.8L667.9 240.1M671.9 242.3L667.9 240.1M608.8 196.8L612.8 199.1M616.7 201.4L612.8 199.1M703.4 251.4L699.5 253.7M695.5 256L699.5 253.7M616.7 210.5L612.8 212.8M608.8 215.1L612.8 212.8M695.5 183.2L699.5 185.5M703.4 187.8L699.5 185.5M632.5 155.9L628.5 158.2M624.6 160.4L628.5 158.2M648.2 210.5L644.3 212.8M640.3 215.1L644.3 212.8M671.9 169.6L675.8 171.8M679.8 174.1L675.8 171.8M664 210.5L667.9 212.8M671.9 215.1L667.9 212.8M703.4 196.8L703.4 192.3M703.4 187.8L703.4 192.3M648.2 210.5L652.2 212.8M656.1 215.1L652.2 212.8M640.3 169.6L644.3 171.8M624.6 187.8L624.6 192.3M600.9 146.8L604.9 144.5M608.8 142.2L604.9 144.5M687.6 251.4L683.7 253.7M679.8 256L683.7 253.7M679.8 146.8L683.7 144.5M687.6 142.2L683.7 144.5M593.1 187.8L589.1 185.5M585.2 183.2L589.1 185.5" stroke="#2a2a2a" stroke-width="1.35" fill="none"/>
<path d="M624.6 196.8L620.6 199.1M632.5 183.2L628.5 185.5M632.5 210.5L628.5 212.8M632.5 210.5L636.4 212.8M648.2 201.4L648.2 205.9M648.2 174.1L652.2 171.8M656.1 187.8L660 185.5M648.2 201.4L652.2 199.1M632.5 183.2L632.5 178.6M656.1 187.8L656.1 192.3M648.2 174.1L644.3 171.8M624.6 196.8L624.6 192.3" stroke="#D4E845" stroke-width="1.25" fill="none"/>
<line x1="645.5" y1="186" x2="646.9" y2="180.1" stroke="#3D95E0" stroke-width="1.2" />
<line x1="646.9" y1="180.1" x2="648.2" y2="174.1" stroke="#D4E845" stroke-width="1.2" />
<line x1="645.5" y1="186" x2="639" y2="184.6" stroke="#3D95E0" stroke-width="1.2" />
<line x1="639" y1="184.6" x2="632.5" y2="183.2" stroke="#D4E845" stroke-width="1.2" />
<line x1="645.5" y1="186" x2="650.8" y2="186.9" stroke="#3D95E0" stroke-width="1.2" />
<line x1="650.8" y1="186.9" x2="656.1" y2="187.8" stroke="#D4E845" stroke-width="1.2" />
<line x1="637.8" y1="198.9" x2="643" y2="200.2" stroke="#D98C1C" stroke-width="1.2" />
<line x1="643" y1="200.2" x2="648.2" y2="201.4" stroke="#D4E845" stroke-width="1.2" />
<line x1="637.8" y1="198.9" x2="631.2" y2="197.9" stroke="#D98C1C" stroke-width="1.2" />
<line x1="631.2" y1="197.9" x2="624.6" y2="196.8" stroke="#D4E845" stroke-width="1.2" />
<line x1="637.8" y1="198.9" x2="635.1" y2="204.7" stroke="#D98C1C" stroke-width="1.2" />
<line x1="635.1" y1="204.7" x2="632.5" y2="210.5" stroke="#D4E845" stroke-width="1.2" />
<line x1="645.5" y1="186" x2="641.6" y2="192.4" stroke="#3D95E0" stroke-width="1.4" />
<line x1="641.6" y1="192.4" x2="637.8" y2="198.9" stroke="#D98C1C" stroke-width="1.4" />
<g fill="#555" stroke="#111" stroke-width="0.8"><circle cx="600.9" cy="155.9" r="1.55"/><circle cx="593.1" cy="160.4" r="1.55"/><circle cx="585.2" cy="155.9" r="1.55"/><circle cx="585.2" cy="146.8" r="1.55"/><circle cx="593.1" cy="142.2" r="1.55"/><circle cx="600.9" cy="146.8" r="1.55"/><circle cx="600.9" cy="183.2" r="1.55"/><circle cx="593.1" cy="187.8" r="1.55"/><circle cx="585.2" cy="183.2" r="1.55"/><circle cx="585.2" cy="174.1" r="1.55"/><circle cx="593.1" cy="169.6" r="1.55"/><circle cx="600.9" cy="174.1" r="1.55"/><circle cx="600.9" cy="210.5" r="1.55"/><circle cx="593.1" cy="215.1" r="1.55"/><circle cx="585.2" cy="210.5" r="1.55"/><circle cx="585.2" cy="201.4" r="1.55"/><circle cx="593.1" cy="196.8" r="1.55"/><circle cx="600.9" cy="201.4" r="1.55"/><circle cx="600.9" cy="237.8" r="1.55"/><circle cx="593.1" cy="242.3" r="1.55"/><circle cx="585.2" cy="237.8" r="1.55"/><circle cx="585.2" cy="228.7" r="1.55"/><circle cx="593.1" cy="224.2" r="1.55"/><circle cx="600.9" cy="228.7" r="1.55"/><circle cx="616.7" cy="155.9" r="1.55"/><circle cx="608.8" cy="160.4" r="1.55"/><circle cx="608.8" cy="142.2" r="1.55"/><circle cx="616.7" cy="146.8" r="1.55"/><circle cx="608.8" cy="169.6" r="1.55"/><circle cx="616.7" cy="183.2" r="1.55"/><circle cx="608.8" cy="187.8" r="1.55"/><circle cx="616.7" cy="174.1" r="1.55"/><circle cx="608.8" cy="196.8" r="1.55"/><circle cx="616.7" cy="210.5" r="1.55"/><circle cx="608.8" cy="215.1" r="1.55"/><circle cx="616.7" cy="201.4" r="1.55"/><circle cx="608.8" cy="224.2" r="1.55"/><circle cx="616.7" cy="237.8" r="1.55"/><circle cx="608.8" cy="242.3" r="1.55"/><circle cx="616.7" cy="228.7" r="1.55"/><circle cx="608.8" cy="251.4" r="1.55"/><circle cx="600.9" cy="256" r="1.55"/><circle cx="593.1" cy="251.4" r="1.55"/><circle cx="632.5" cy="155.9" r="1.55"/><circle cx="624.6" cy="160.4" r="1.55"/><circle cx="624.6" cy="142.2" r="1.55"/><circle cx="632.5" cy="146.8" r="1.55"/><circle cx="624.6" cy="169.6" r="1.55"/><circle cx="624.6" cy="187.8" r="1.55"/><circle cx="632.5" cy="174.1" r="1.55"/><circle cx="624.6" cy="215.1" r="1.55"/><circle cx="624.6" cy="224.2" r="1.55"/><circle cx="632.5" cy="237.8" r="1.55"/><circle cx="624.6" cy="242.3" r="1.55"/><circle cx="632.5" cy="228.7" r="1.55"/><circle cx="624.6" cy="251.4" r="1.55"/><circle cx="616.7" cy="256" r="1.55"/><circle cx="648.2" cy="155.9" r="1.55"/><circle cx="640.3" cy="160.4" r="1.55"/><circle cx="640.3" cy="142.2" r="1.55"/><circle cx="648.2" cy="146.8" r="1.55"/><circle cx="640.3" cy="169.6" r="1.55"/><circle cx="648.2" cy="210.5" r="1.55"/><circle cx="640.3" cy="215.1" r="1.55"/><circle cx="640.3" cy="224.2" r="1.55"/><circle cx="648.2" cy="237.8" r="1.55"/><circle cx="640.3" cy="242.3" r="1.55"/><circle cx="648.2" cy="228.7" r="1.55"/><circle cx="640.3" cy="251.4" r="1.55"/><circle cx="632.5" cy="256" r="1.55"/><circle cx="664" cy="155.9" r="1.55"/><circle cx="656.1" cy="160.4" r="1.55"/><circle cx="656.1" cy="142.2" r="1.55"/><circle cx="664" cy="146.8" r="1.55"/><circle cx="656.1" cy="169.6" r="1.55"/><circle cx="664" cy="183.2" r="1.55"/><circle cx="664" cy="174.1" r="1.55"/><circle cx="656.1" cy="196.8" r="1.55"/><circle cx="664" cy="210.5" r="1.55"/><circle cx="656.1" cy="215.1" r="1.55"/><circle cx="664" cy="201.4" r="1.55"/><circle cx="656.1" cy="224.2" r="1.55"/><circle cx="664" cy="237.8" r="1.55"/><circle cx="656.1" cy="242.3" r="1.55"/><circle cx="664" cy="228.7" r="1.55"/><circle cx="656.1" cy="251.4" r="1.55"/><circle cx="648.2" cy="256" r="1.55"/><circle cx="679.8" cy="155.9" r="1.55"/><circle cx="671.9" cy="160.4" r="1.55"/><circle cx="671.9" cy="142.2" r="1.55"/><circle cx="679.8" cy="146.8" r="1.55"/><circle cx="671.9" cy="169.6" r="1.55"/><circle cx="679.8" cy="183.2" r="1.55"/><circle cx="671.9" cy="187.8" r="1.55"/><circle cx="679.8" cy="174.1" r="1.55"/><circle cx="671.9" cy="196.8" r="1.55"/><circle cx="679.8" cy="210.5" r="1.55"/><circle cx="671.9" cy="215.1" r="1.55"/><circle cx="679.8" cy="201.4" r="1.55"/><circle cx="671.9" cy="224.2" r="1.55"/><circle cx="679.8" cy="237.8" r="1.55"/><circle cx="671.9" cy="242.3" r="1.55"/><circle cx="679.8" cy="228.7" r="1.55"/><circle cx="671.9" cy="251.4" r="1.55"/><circle cx="664" cy="256" r="1.55"/><circle cx="695.5" cy="155.9" r="1.55"/><circle cx="687.6" cy="160.4" r="1.55"/><circle cx="687.6" cy="142.2" r="1.55"/><circle cx="695.5" cy="146.8" r="1.55"/><circle cx="687.6" cy="169.6" r="1.55"/><circle cx="695.5" cy="183.2" r="1.55"/><circle cx="687.6" cy="187.8" r="1.55"/><circle cx="695.5" cy="174.1" r="1.55"/><circle cx="687.6" cy="196.8" r="1.55"/><circle cx="695.5" cy="210.5" r="1.55"/><circle cx="687.6" cy="215.1" r="1.55"/><circle cx="695.5" cy="201.4" r="1.55"/><circle cx="687.6" cy="224.2" r="1.55"/><circle cx="695.5" cy="237.8" r="1.55"/><circle cx="687.6" cy="242.3" r="1.55"/><circle cx="695.5" cy="228.7" r="1.55"/><circle cx="687.6" cy="251.4" r="1.55"/><circle cx="679.8" cy="256" r="1.55"/><circle cx="703.4" cy="169.6" r="1.55"/><circle cx="703.4" cy="160.4" r="1.55"/><circle cx="703.4" cy="196.8" r="1.55"/><circle cx="703.4" cy="187.8" r="1.55"/><circle cx="703.4" cy="224.2" r="1.55"/><circle cx="703.4" cy="215.1" r="1.55"/><circle cx="703.4" cy="251.4" r="1.55"/><circle cx="695.5" cy="256" r="1.55"/><circle cx="703.4" cy="242.3" r="1.55"/></g>
<g fill="#E2F05A" stroke="#C4D430" stroke-width="0.4"><circle cx="648.2" cy="174.1" r="1.85"/><circle cx="648.2" cy="201.4" r="1.85"/><circle cx="632.5" cy="183.2" r="1.85"/><circle cx="624.6" cy="196.8" r="1.85"/><circle cx="632.5" cy="210.5" r="1.85"/><circle cx="656.1" cy="187.8" r="1.85"/></g>
<circle cx="645.5" cy="186" r="3.3" fill="#3D95E0"/><circle cx="645" cy="185.4" r="1.2" fill="#fff" opacity="0.45"/>
<circle cx="637.8" cy="198.9" r="3.3" fill="#D98C1C"/><circle cx="637.3" cy="198.3" r="1.2" fill="#fff" opacity="0.45"/>
</g>
<rect x="605.6" y="159.4" width="74" height="66.5" fill="none" stroke="#555" stroke-width="1.2" />
<clipPath id="cb2"><rect x="605.6" y="228.5" width="73.8" height="67.9"/></clipPath>
<g clip-path="url(#cb2)">
<rect x="605.6" y="228.5" width="73.8" height="67.9" fill="#fff" />
<path d="M649.7 211.4L654 213.7M658.2 216L654 213.7M658.2 225.2L658.2 220.6M658.2 216L658.2 220.6M658.2 216L662.4 213.7M666.7 211.4L662.4 213.7M607.4 280.4L611.6 282.7M615.9 285L611.6 282.7M582 239L582 234.4M582 229.8L582 234.4M607.4 225.2L607.4 220.6M607.4 216L607.4 220.6M624.3 225.2L624.3 220.6M624.3 216L624.3 220.6M598.9 257.4L598.9 262M598.9 266.6L598.9 262M658.2 308L658.2 303.4M658.2 298.8L658.2 303.4M675.1 298.8L679.4 296.5M683.6 294.2L679.4 296.5M683.6 321.8L687.9 324.1M692.1 326.4L687.9 324.1M683.6 312.6L683.6 317.2M683.6 321.8L683.6 317.2M658.2 280.4L658.2 275.8M607.4 280.4L603.2 282.7M598.9 285L603.2 282.7M641.3 280.4L641.3 275.8M666.7 266.6L662.4 268.9M683.6 285L683.6 289.6M683.6 294.2L683.6 289.6M598.9 266.6L594.7 268.9M590.5 271.2L594.7 268.9M641.3 243.6L641.3 248.2M658.2 243.6L662.4 241.3M666.7 239L662.4 241.3M683.6 257.4L683.6 262M683.6 266.6L683.6 262M692.1 225.2L687.9 227.5M683.6 229.8L687.9 227.5M666.7 294.2L670.9 296.5M675.1 298.8L670.9 296.5M624.3 298.8L628.6 296.5M632.8 294.2L628.6 296.5M666.7 257.4L666.7 262M666.7 266.6L666.7 262M692.1 252.8L687.9 255.1M683.6 257.4L687.9 255.1M692.1 225.2L696.3 227.5M700.6 229.8L696.3 227.5M590.5 271.2L586.2 268.9M582 266.6L586.2 268.9M598.9 239L603.2 241.3M607.4 243.6L603.2 241.3M590.5 243.6L590.5 248.2M590.5 252.8L590.5 248.2M624.3 308L620.1 310.3M615.9 312.6L620.1 310.3M666.7 266.6L670.9 268.9M675.1 271.2L670.9 268.9M607.4 280.4L607.4 275.8M607.4 271.2L607.4 275.8M624.3 308L628.6 310.3M632.8 312.6L628.6 310.3M624.3 280.4L628.6 282.7M632.8 285L628.6 282.7M649.7 239L654 241.3M658.2 243.6L654 241.3M692.1 225.2L692.1 220.6M692.1 216L692.1 220.6M692.1 298.8L696.3 296.5M700.6 294.2L696.3 296.5M692.1 243.6L696.3 241.3M700.6 239L696.3 241.3M666.7 257.4L662.4 255.1M624.3 225.2L628.6 227.5M632.8 229.8L628.6 227.5M582 266.6L582 262M582 257.4L582 262M692.1 308L692.1 303.4M692.1 298.8L692.1 303.4M615.9 266.6L620.1 268.9M607.4 252.8L611.6 255.1M615.9 257.4L611.6 255.1M641.3 216L645.5 213.7M649.7 211.4L645.5 213.7M683.6 229.8L683.6 234.4M683.6 239L683.6 234.4M683.6 211.4L687.9 213.7M692.1 216L687.9 213.7M675.1 308L675.1 303.4M675.1 298.8L675.1 303.4M598.9 294.2L594.7 296.5M590.5 298.8L594.7 296.5M615.9 239L620.1 241.3M624.3 243.6L620.1 241.3M641.3 308L641.3 303.4M641.3 298.8L641.3 303.4M607.4 308L611.6 310.3M615.9 312.6L611.6 310.3M666.7 321.8L662.4 324.1M658.2 326.4L662.4 324.1M675.1 280.4L675.1 275.8M675.1 271.2L675.1 275.8M666.7 321.8L670.9 324.1M675.1 326.4L670.9 324.1M675.1 252.8L675.1 248.2M675.1 243.6L675.1 248.2M649.7 229.8L649.7 234.4M649.7 239L649.7 234.4M692.1 271.2L696.3 268.9M700.6 266.6L696.3 268.9M615.9 321.8L611.6 324.1M607.4 326.4L611.6 324.1M666.7 285L666.7 289.6M666.7 294.2L666.7 289.6M658.2 298.8L662.4 296.5M666.7 294.2L662.4 296.5M692.1 308L696.3 310.3M700.6 312.6L696.3 310.3M649.7 312.6L649.7 317.2M649.7 321.8L649.7 317.2M624.3 243.6L624.3 248.2M590.5 298.8L586.2 296.5M582 294.2L586.2 296.5M598.9 266.6L603.2 268.9M607.4 271.2L603.2 268.9M632.8 312.6L632.8 317.2M632.8 321.8L632.8 317.2M658.2 308L654 310.3M649.7 312.6L654 310.3M683.6 266.6L687.9 268.9M692.1 271.2L687.9 268.9M692.1 280.4L687.9 282.7M683.6 285L687.9 282.7M598.9 285L594.7 282.7M590.5 280.4L594.7 282.7M632.8 285L632.8 289.6M632.8 294.2L632.8 289.6M582 294.2L582 289.6M582 285L582 289.6M658.2 280.4L654 282.7M649.7 285L654 282.7M683.6 239L687.9 241.3M692.1 243.6L687.9 241.3M649.7 294.2L654 296.5M658.2 298.8L654 296.5M658.2 280.4L662.4 282.7M666.7 285L662.4 282.7M590.5 252.8L586.2 255.1M582 257.4L586.2 255.1M641.3 225.2L637 227.5M632.8 229.8L637 227.5M615.9 294.2L620.1 296.5M624.3 298.8L620.1 296.5M615.9 257.4L615.9 262M615.9 266.6L615.9 262M641.3 225.2L645.5 227.5M649.7 229.8L645.5 227.5M598.9 285L598.9 289.6M598.9 294.2L598.9 289.6M598.9 321.8L594.7 324.1M590.5 326.4L594.7 324.1M632.8 239L637 241.3M641.3 243.6L637 241.3M666.7 211.4L670.9 213.7M675.1 216L670.9 213.7M607.4 308L603.2 310.3M598.9 312.6L603.2 310.3M641.3 225.2L641.3 220.6M641.3 216L641.3 220.6M590.5 326.4L586.2 324.1M582 321.8L586.2 324.1M649.7 321.8L645.5 324.1M641.3 326.4L645.5 324.1M590.5 298.8L590.5 303.4M590.5 308L590.5 303.4M666.7 229.8L666.7 234.4M666.7 239L666.7 234.4M649.7 321.8L654 324.1M658.2 326.4L654 324.1M598.9 312.6L594.7 310.3M590.5 308L594.7 310.3M692.1 280.4L696.3 282.7M700.6 285L696.3 282.7M632.8 229.8L632.8 234.4M632.8 239L632.8 234.4M632.8 211.4L637 213.7M641.3 216L637 213.7M624.3 308L624.3 303.4M624.3 298.8L624.3 303.4M666.7 312.6L666.7 317.2M666.7 321.8L666.7 317.2M692.1 308L687.9 310.3M683.6 312.6L687.9 310.3M590.5 271.2L590.5 275.8M590.5 280.4L590.5 275.8M598.9 321.8L603.2 324.1M607.4 326.4L603.2 324.1M607.4 308L607.4 303.4M607.4 298.8L607.4 303.4M624.3 280.4L624.3 275.8M590.5 280.4L586.2 282.7M582 285L586.2 282.7M615.9 321.8L620.1 324.1M624.3 326.4L620.1 324.1M683.6 294.2L687.9 296.5M692.1 298.8L687.9 296.5M649.7 285L649.7 289.6M649.7 294.2L649.7 289.6M675.1 280.4L670.9 282.7M666.7 285L670.9 282.7M607.4 271.2L611.6 268.9M615.9 266.6L611.6 268.9M658.2 243.6L658.2 248.2M598.9 229.8L594.7 227.5M590.5 225.2L594.7 227.5M675.1 243.6L679.4 241.3M683.6 239L679.4 241.3M700.6 321.8L700.6 317.2M700.6 312.6L700.6 317.2M598.9 312.6L598.9 317.2M598.9 321.8L598.9 317.2M675.1 252.8L670.9 255.1M666.7 257.4L670.9 255.1M607.4 216L611.6 213.7M615.9 211.4L611.6 213.7M675.1 225.2L670.9 227.5M666.7 229.8L670.9 227.5M658.2 308L662.4 310.3M666.7 312.6L662.4 310.3M675.1 252.8L679.4 255.1M683.6 257.4L679.4 255.1M692.1 252.8L696.3 255.1M700.6 257.4L696.3 255.1M615.9 285L615.9 289.6M615.9 294.2L615.9 289.6M641.3 280.4L637 282.7M632.8 285L637 282.7M700.6 266.6L700.6 262M700.6 257.4L700.6 262M641.3 243.6L645.5 241.3M649.7 239L645.5 241.3M641.3 280.4L645.5 282.7M649.7 285L645.5 282.7M590.5 225.2L590.5 220.6M590.5 216L590.5 220.6M683.6 321.8L679.4 324.1M675.1 326.4L679.4 324.1M675.1 225.2L675.1 220.6M675.1 216L675.1 220.6M675.1 216L679.4 213.7M683.6 211.4L679.4 213.7M590.5 216L594.7 213.7M598.9 211.4L594.7 213.7M598.9 294.2L603.2 296.5M607.4 298.8L603.2 296.5M692.1 280.4L692.1 275.8M692.1 271.2L692.1 275.8M598.9 229.8L598.9 234.4M598.9 239L598.9 234.4M615.9 211.4L620.1 213.7M624.3 216L620.1 213.7M590.5 308L586.2 310.3M582 312.6L586.2 310.3M632.8 321.8L628.6 324.1M624.3 326.4L628.6 324.1M692.1 252.8L692.1 248.2M692.1 243.6L692.1 248.2M700.6 294.2L700.6 289.6M700.6 285L700.6 289.6M607.4 225.2L611.6 227.5M615.9 229.8L611.6 227.5M624.3 216L628.6 213.7M632.8 211.4L628.6 213.7M582 321.8L582 317.2M582 312.6L582 317.2M632.8 321.8L637 324.1M641.3 326.4L637 324.1M598.9 211.4L603.2 213.7M607.4 216L603.2 213.7M607.4 243.6L611.6 241.3M615.9 239L611.6 241.3M615.9 229.8L615.9 234.4M615.9 239L615.9 234.4M700.6 239L700.6 234.4M700.6 229.8L700.6 234.4M675.1 308L670.9 310.3M666.7 312.6L670.9 310.3M641.3 298.8L645.5 296.5M649.7 294.2L645.5 296.5M675.1 271.2L679.4 268.9M683.6 266.6L679.4 268.9M607.4 225.2L603.2 227.5M598.9 229.8L603.2 227.5M615.9 312.6L615.9 317.2M615.9 321.8L615.9 317.2M607.4 252.8L603.2 255.1M598.9 257.4L603.2 255.1M641.3 308L637 310.3M632.8 312.6L637 310.3M607.4 298.8L611.6 296.5M615.9 294.2L611.6 296.5M675.1 308L679.4 310.3M683.6 312.6L679.4 310.3M641.3 308L645.5 310.3M649.7 312.6L645.5 310.3M675.1 280.4L679.4 282.7M683.6 285L679.4 282.7M598.9 239L594.7 241.3M590.5 243.6L594.7 241.3M632.8 294.2L637 296.5M641.3 298.8L637 296.5M624.3 280.4L620.1 282.7M615.9 285L620.1 282.7M624.3 243.6L628.6 241.3M632.8 239L628.6 241.3M658.2 225.2L654 227.5M649.7 229.8L654 227.5M675.1 225.2L679.4 227.5M683.6 229.8L679.4 227.5M615.9 257.4L620.1 255.1M700.6 321.8L696.3 324.1M692.1 326.4L696.3 324.1M658.2 225.2L662.4 227.5M666.7 229.8L662.4 227.5M624.3 225.2L620.1 227.5M615.9 229.8L620.1 227.5M607.4 252.8L607.4 248.2M607.4 243.6L607.4 248.2M598.9 257.4L594.7 255.1M590.5 252.8L594.7 255.1M590.5 225.2L586.2 227.5M582 229.8L586.2 227.5M666.7 239L670.9 241.3M675.1 243.6L670.9 241.3M590.5 243.6L586.2 241.3M582 239L586.2 241.3" stroke="#2a2a2a" stroke-width="1.35" fill="none"/>
<path d="M658.2 271.2L658.2 275.8M641.3 271.2L641.3 275.8M658.2 271.2L662.4 268.9M641.3 252.8L641.3 248.2M658.2 252.8L662.4 255.1M624.3 271.2L620.1 268.9M624.3 252.8L624.3 248.2M624.3 271.2L624.3 275.8M658.2 252.8L658.2 248.2M624.3 252.8L620.1 255.1" stroke="#D4E845" stroke-width="1.25" fill="none"/>
<line x1="632.8" y1="262" x2="628.6" y2="257.4" stroke="#D98C1C" stroke-width="1.2" />
<line x1="628.6" y1="257.4" x2="624.3" y2="252.8" stroke="#D4E845" stroke-width="1.2" />
<line x1="632.8" y1="262" x2="628.6" y2="266.6" stroke="#D98C1C" stroke-width="1.2" />
<line x1="628.6" y1="266.6" x2="624.3" y2="271.2" stroke="#D4E845" stroke-width="1.2" />
<line x1="632.8" y1="262" x2="637" y2="257.4" stroke="#D98C1C" stroke-width="1.2" />
<line x1="637" y1="257.4" x2="641.3" y2="252.8" stroke="#D4E845" stroke-width="1.2" />
<line x1="632.8" y1="262" x2="637" y2="266.6" stroke="#D98C1C" stroke-width="1.2" />
<line x1="637" y1="266.6" x2="641.3" y2="271.2" stroke="#D4E845" stroke-width="1.2" />
<line x1="650.5" y1="262" x2="654.4" y2="257.4" stroke="#3D95E0" stroke-width="1.2" />
<line x1="654.4" y1="257.4" x2="658.2" y2="252.8" stroke="#D4E845" stroke-width="1.2" />
<line x1="650.5" y1="262" x2="654.4" y2="266.6" stroke="#3D95E0" stroke-width="1.2" />
<line x1="654.4" y1="266.6" x2="658.2" y2="271.2" stroke="#D4E845" stroke-width="1.2" />
<line x1="650.5" y1="262" x2="645.9" y2="257.4" stroke="#3D95E0" stroke-width="1.2" />
<line x1="645.9" y1="257.4" x2="641.3" y2="252.8" stroke="#D4E845" stroke-width="1.2" />
<line x1="650.5" y1="262" x2="645.9" y2="266.6" stroke="#3D95E0" stroke-width="1.2" />
<line x1="645.9" y1="266.6" x2="641.3" y2="271.2" stroke="#D4E845" stroke-width="1.2" />
<g fill="#555" stroke="#111" stroke-width="0.8"><circle cx="607.4" cy="225.2" r="1.55"/><circle cx="598.9" cy="229.8" r="1.55"/><circle cx="590.5" cy="225.2" r="1.55"/><circle cx="590.5" cy="216" r="1.55"/><circle cx="598.9" cy="211.4" r="1.55"/><circle cx="607.4" cy="216" r="1.55"/><circle cx="598.9" cy="239" r="1.55"/><circle cx="590.5" cy="243.6" r="1.55"/><circle cx="582" cy="239" r="1.55"/><circle cx="582" cy="229.8" r="1.55"/><circle cx="607.4" cy="252.8" r="1.55"/><circle cx="598.9" cy="257.4" r="1.55"/><circle cx="590.5" cy="252.8" r="1.55"/><circle cx="607.4" cy="243.6" r="1.55"/><circle cx="598.9" cy="266.6" r="1.55"/><circle cx="590.5" cy="271.2" r="1.55"/><circle cx="582" cy="266.6" r="1.55"/><circle cx="582" cy="257.4" r="1.55"/><circle cx="607.4" cy="280.4" r="1.55"/><circle cx="598.9" cy="285" r="1.55"/><circle cx="590.5" cy="280.4" r="1.55"/><circle cx="607.4" cy="271.2" r="1.55"/><circle cx="598.9" cy="294.2" r="1.55"/><circle cx="590.5" cy="298.8" r="1.55"/><circle cx="582" cy="294.2" r="1.55"/><circle cx="582" cy="285" r="1.55"/><circle cx="607.4" cy="308" r="1.55"/><circle cx="598.9" cy="312.6" r="1.55"/><circle cx="590.5" cy="308" r="1.55"/><circle cx="607.4" cy="298.8" r="1.55"/><circle cx="598.9" cy="321.8" r="1.55"/><circle cx="590.5" cy="326.4" r="1.55"/><circle cx="582" cy="321.8" r="1.55"/><circle cx="582" cy="312.6" r="1.55"/><circle cx="624.3" cy="225.2" r="1.55"/><circle cx="615.9" cy="229.8" r="1.55"/><circle cx="615.9" cy="211.4" r="1.55"/><circle cx="624.3" cy="216" r="1.55"/><circle cx="615.9" cy="239" r="1.55"/><circle cx="615.9" cy="257.4" r="1.55"/><circle cx="624.3" cy="243.6" r="1.55"/><circle cx="615.9" cy="266.6" r="1.55"/><circle cx="624.3" cy="280.4" r="1.55"/><circle cx="615.9" cy="285" r="1.55"/><circle cx="615.9" cy="294.2" r="1.55"/><circle cx="624.3" cy="308" r="1.55"/><circle cx="615.9" cy="312.6" r="1.55"/><circle cx="624.3" cy="298.8" r="1.55"/><circle cx="615.9" cy="321.8" r="1.55"/><circle cx="607.4" cy="326.4" r="1.55"/><circle cx="641.3" cy="225.2" r="1.55"/><circle cx="632.8" cy="229.8" r="1.55"/><circle cx="632.8" cy="211.4" r="1.55"/><circle cx="641.3" cy="216" r="1.55"/><circle cx="632.8" cy="239" r="1.55"/><circle cx="641.3" cy="243.6" r="1.55"/><circle cx="641.3" cy="280.4" r="1.55"/><circle cx="632.8" cy="285" r="1.55"/><circle cx="632.8" cy="294.2" r="1.55"/><circle cx="641.3" cy="308" r="1.55"/><circle cx="632.8" cy="312.6" r="1.55"/><circle cx="641.3" cy="298.8" r="1.55"/><circle cx="632.8" cy="321.8" r="1.55"/><circle cx="624.3" cy="326.4" r="1.55"/><circle cx="658.2" cy="225.2" r="1.55"/><circle cx="649.7" cy="229.8" r="1.55"/><circle cx="649.7" cy="211.4" r="1.55"/><circle cx="658.2" cy="216" r="1.55"/><circle cx="649.7" cy="239" r="1.55"/><circle cx="658.2" cy="243.6" r="1.55"/><circle cx="658.2" cy="280.4" r="1.55"/><circle cx="649.7" cy="285" r="1.55"/><circle cx="649.7" cy="294.2" r="1.55"/><circle cx="658.2" cy="308" r="1.55"/><circle cx="649.7" cy="312.6" r="1.55"/><circle cx="658.2" cy="298.8" r="1.55"/><circle cx="649.7" cy="321.8" r="1.55"/><circle cx="641.3" cy="326.4" r="1.55"/><circle cx="675.1" cy="225.2" r="1.55"/><circle cx="666.7" cy="229.8" r="1.55"/><circle cx="666.7" cy="211.4" r="1.55"/><circle cx="675.1" cy="216" r="1.55"/><circle cx="666.7" cy="239" r="1.55"/><circle cx="675.1" cy="252.8" r="1.55"/><circle cx="666.7" cy="257.4" r="1.55"/><circle cx="675.1" cy="243.6" r="1.55"/><circle cx="666.7" cy="266.6" r="1.55"/><circle cx="675.1" cy="280.4" r="1.55"/><circle cx="666.7" cy="285" r="1.55"/><circle cx="675.1" cy="271.2" r="1.55"/><circle cx="666.7" cy="294.2" r="1.55"/><circle cx="675.1" cy="308" r="1.55"/><circle cx="666.7" cy="312.6" r="1.55"/><circle cx="675.1" cy="298.8" r="1.55"/><circle cx="666.7" cy="321.8" r="1.55"/><circle cx="658.2" cy="326.4" r="1.55"/><circle cx="692.1" cy="225.2" r="1.55"/><circle cx="683.6" cy="229.8" r="1.55"/><circle cx="683.6" cy="211.4" r="1.55"/><circle cx="692.1" cy="216" r="1.55"/><circle cx="683.6" cy="239" r="1.55"/><circle cx="692.1" cy="252.8" r="1.55"/><circle cx="683.6" cy="257.4" r="1.55"/><circle cx="692.1" cy="243.6" r="1.55"/><circle cx="683.6" cy="266.6" r="1.55"/><circle cx="692.1" cy="280.4" r="1.55"/><circle cx="683.6" cy="285" r="1.55"/><circle cx="692.1" cy="271.2" r="1.55"/><circle cx="683.6" cy="294.2" r="1.55"/><circle cx="692.1" cy="308" r="1.55"/><circle cx="683.6" cy="312.6" r="1.55"/><circle cx="692.1" cy="298.8" r="1.55"/><circle cx="683.6" cy="321.8" r="1.55"/><circle cx="675.1" cy="326.4" r="1.55"/><circle cx="700.6" cy="239" r="1.55"/><circle cx="700.6" cy="229.8" r="1.55"/><circle cx="700.6" cy="266.6" r="1.55"/><circle cx="700.6" cy="257.4" r="1.55"/><circle cx="700.6" cy="294.2" r="1.55"/><circle cx="700.6" cy="285" r="1.55"/><circle cx="700.6" cy="321.8" r="1.55"/><circle cx="692.1" cy="326.4" r="1.55"/><circle cx="700.6" cy="312.6" r="1.55"/></g>
<g fill="#E2F05A" stroke="#C4D430" stroke-width="0.4"><circle cx="624.3" cy="252.8" r="1.85"/><circle cx="658.2" cy="252.8" r="1.85"/><circle cx="624.3" cy="271.2" r="1.85"/><circle cx="658.2" cy="271.2" r="1.85"/><circle cx="641.3" cy="252.8" r="1.85"/><circle cx="641.3" cy="271.2" r="1.85"/></g>
<circle cx="632.8" cy="262" r="3.3" fill="#D98C1C"/><circle cx="632.3" cy="261.4" r="1.2" fill="#fff" opacity="0.45"/>
<circle cx="650.5" cy="262" r="3.3" fill="#3D95E0"/><circle cx="650" cy="261.4" r="1.2" fill="#fff" opacity="0.45"/>
</g>
<rect x="605.6" y="228.5" width="73.8" height="67.9" fill="none" stroke="#555" stroke-width="1.2" />
<clipPath id="cb3"><rect x="605.6" y="297.6" width="73.8" height="68"/></clipPath>
<g clip-path="url(#cb3)">
<rect x="605.6" y="297.6" width="73.8" height="68" fill="#fff" />
<path d="M634.4 300.5L634.4 304.9M642.6 269.7L646.7 271.9M650.8 274.1L646.7 271.9M634.4 388.5L630.3 390.7M626.1 392.9L630.3 390.7M659 322.5L663.2 324.7M667.3 326.9L663.2 324.7M667.3 335.7L663.2 337.9M659 340.1L663.2 337.9M617.9 326.9L622 324.7M626.1 322.5L622 324.7M700.2 388.5L700.2 384.1M700.2 379.7L700.2 384.1M650.8 282.9L650.8 278.5M650.8 274.1L650.8 278.5M650.8 388.5L650.8 384.1M650.8 379.7L650.8 384.1M601.5 362.1L605.6 364.3M609.7 366.5L605.6 364.3M585 309.3L585 304.9M585 300.5L585 304.9M601.5 282.9L601.5 278.5M601.5 274.1L601.5 278.5M609.7 296.1L613.8 298.3M617.9 300.5L613.8 298.3M626.1 375.3L630.3 377.5M634.4 379.7L630.3 377.5M650.8 362.1L650.8 357.7M617.9 335.7L622 337.9M626.1 340.1L622 337.9M692 287.3L692 291.7M692 296.1L692 291.7M692 269.7L696.1 271.9M700.2 274.1L696.1 271.9M683.7 379.7L687.9 377.5M692 375.3L687.9 377.5M675.5 340.1L675.5 344.5M675.5 348.9L675.5 344.5M601.5 309.3L601.5 304.9M601.5 300.5L601.5 304.9M601.5 362.1L597.4 364.3M593.2 366.5L597.4 364.3M675.5 313.7L675.5 318.1M675.5 322.5L675.5 318.1M650.8 274.1L654.9 271.9M659 269.7L654.9 271.9M585 335.7L585 331.3M585 326.9L585 331.3M667.3 335.7L671.4 337.9M675.5 340.1L671.4 337.9M585 300.5L589.1 298.3M593.2 296.1L589.1 298.3M667.3 309.3L671.4 311.5M675.5 313.7L671.4 311.5M585 326.9L589.1 324.7M593.2 322.5L589.1 324.7M617.9 388.5L613.8 390.7M609.7 392.9L613.8 390.7M617.9 309.3L617.9 304.9M617.9 300.5L617.9 304.9M667.3 388.5L663.2 390.7M659 392.9L663.2 390.7M634.4 362.1L638.5 364.3M642.6 366.5L638.5 364.3M659 322.5L654.9 324.7M683.7 388.5L683.7 384.1M683.7 379.7L683.7 384.1M667.3 362.1L663.2 364.3M659 366.5L663.2 364.3M642.6 296.1L646.7 298.3M650.8 300.5L646.7 298.3M650.8 300.5L654.9 298.3M659 296.1L654.9 298.3M659 375.3L663.2 377.5M667.3 379.7L663.2 377.5M601.5 274.1L605.6 271.9M609.7 269.7L605.6 271.9M683.7 362.1L683.7 357.7M683.7 353.3L683.7 357.7M617.9 379.7L622 377.5M626.1 375.3L622 377.5M593.2 287.3L593.2 291.7M593.2 296.1L593.2 291.7M593.2 322.5L597.4 324.7M601.5 326.9L597.4 324.7M626.1 366.5L626.1 370.9M626.1 375.3L626.1 370.9M683.7 335.7L683.7 331.3M683.7 326.9L683.7 331.3M609.7 348.9L613.8 351.1M617.9 353.3L613.8 351.1M601.5 362.1L601.5 357.7M601.5 353.3L601.5 357.7M617.9 353.3L622 351.1M626.1 348.9L622 351.1M675.5 366.5L675.5 370.9M675.5 375.3L675.5 370.9M617.9 388.5L622 390.7M626.1 392.9L622 390.7M667.3 353.3L671.4 351.1M675.5 348.9L671.4 351.1M601.5 335.7L597.4 337.9M593.2 340.1L597.4 337.9M692 296.1L696.1 298.3M700.2 300.5L696.1 298.3M626.1 340.1L626.1 344.5M626.1 348.9L626.1 344.5M593.2 348.9L597.4 351.1M601.5 353.3L597.4 351.1M609.7 322.5L613.8 324.7M617.9 326.9L613.8 324.7M601.5 309.3L605.6 311.5M609.7 313.7L605.6 311.5M617.9 362.1L622 364.3M626.1 366.5L622 364.3M601.5 335.7L605.6 337.9M609.7 340.1L605.6 337.9M700.2 282.9L700.2 278.5M700.2 274.1L700.2 278.5M650.8 282.9L654.9 285.1M659 287.3L654.9 285.1M667.3 362.1L671.4 364.3M675.5 366.5L671.4 364.3M593.2 340.1L589.1 337.9M585 335.7L589.1 337.9M659 313.7L654.9 311.5M626.1 313.7L630.3 311.5M683.7 282.9L679.6 285.1M675.5 287.3L679.6 285.1M642.6 287.3L642.6 291.7M642.6 296.1L642.6 291.7M593.2 313.7L593.2 318.1M593.2 322.5L593.2 318.1M634.4 282.9L630.3 285.1M626.1 287.3L630.3 285.1M700.2 388.5L696.1 390.7M692 392.9L696.1 390.7M642.6 366.5L642.6 370.9M642.6 375.3L642.6 370.9M617.9 335.7L617.9 331.3M617.9 326.9L617.9 331.3M700.2 362.1L696.1 364.3M692 366.5L696.1 364.3M634.4 388.5L638.5 390.7M642.6 392.9L638.5 390.7M650.8 362.1L646.7 364.3M642.6 366.5L646.7 364.3M675.5 296.1L679.6 298.3M683.7 300.5L679.6 298.3M601.5 353.3L605.6 351.1M609.7 348.9L605.6 351.1M683.7 309.3L679.6 311.5M675.5 313.7L679.6 311.5M593.2 366.5L589.1 364.3M585 362.1L589.1 364.3M650.8 379.7L654.9 377.5M659 375.3L654.9 377.5M601.5 388.5L597.4 390.7M593.2 392.9L597.4 390.7M683.7 282.9L683.7 278.5M683.7 274.1L683.7 278.5M601.5 300.5L605.6 298.3M609.7 296.1L605.6 298.3M667.3 335.7L667.3 331.3M667.3 326.9L667.3 331.3M659 348.9L654.9 351.1M683.7 282.9L687.9 285.1M692 287.3L687.9 285.1M585 362.1L585 357.7M585 353.3L585 357.7M626.1 287.3L626.1 291.7M626.1 296.1L626.1 291.7M692 348.9L696.1 351.1M700.2 353.3L696.1 351.1M601.5 335.7L601.5 331.3M601.5 326.9L601.5 331.3M626.1 269.7L630.3 271.9M634.4 274.1L630.3 271.9M609.7 375.3L613.8 377.5M617.9 379.7L613.8 377.5M609.7 340.1L609.7 344.5M609.7 348.9L609.7 344.5M667.3 309.3L667.3 304.9M667.3 300.5L667.3 304.9M675.5 269.7L679.6 271.9M683.7 274.1L679.6 271.9M692 322.5L696.1 324.7M700.2 326.9L696.1 324.7M609.7 313.7L609.7 318.1M609.7 322.5L609.7 318.1M617.9 282.9L613.8 285.1M609.7 287.3L613.8 285.1M683.7 309.3L687.9 311.5M692 313.7L687.9 311.5M634.4 362.1L634.4 357.7M593.2 392.9L589.1 390.7M585 388.5L589.1 390.7M659 313.7L659 318.1M659 322.5L659 318.1M675.5 287.3L675.5 291.7M675.5 296.1L675.5 291.7M634.4 274.1L638.5 271.9M642.6 269.7L638.5 271.9M667.3 282.9L663.2 285.1M659 287.3L663.2 285.1M667.3 379.7L671.4 377.5M675.5 375.3L671.4 377.5M585 388.5L585 384.1M585 379.7L585 384.1M585 353.3L589.1 351.1M593.2 348.9L589.1 351.1M601.5 388.5L605.6 390.7M609.7 392.9L605.6 390.7M667.3 388.5L671.4 390.7M675.5 392.9L671.4 390.7M683.7 362.1L679.6 364.3M675.5 366.5L679.6 364.3M585 379.7L589.1 377.5M593.2 375.3L589.1 377.5M683.7 274.1L687.9 271.9M692 269.7L687.9 271.9M617.9 282.9L617.9 278.5M617.9 274.1L617.9 278.5M617.9 388.5L617.9 384.1M617.9 379.7L617.9 384.1M683.7 335.7L679.6 337.9M675.5 340.1L679.6 337.9M617.9 282.9L622 285.1M626.1 287.3L622 285.1M700.2 335.7L700.2 331.3M700.2 326.9L700.2 331.3M617.9 362.1L617.9 357.7M617.9 353.3L617.9 357.7M642.6 375.3L646.7 377.5M650.8 379.7L646.7 377.5M667.3 362.1L667.3 357.7M667.3 353.3L667.3 357.7M650.8 388.5L646.7 390.7M642.6 392.9L646.7 390.7M675.5 322.5L679.6 324.7M683.7 326.9L679.6 324.7M700.2 309.3L700.2 304.9M700.2 300.5L700.2 304.9M650.8 300.5L650.8 304.9M593.2 287.3L589.1 285.1M585 282.9L589.1 285.1M683.7 326.9L687.9 324.7M692 322.5L687.9 324.7M593.2 375.3L597.4 377.5M601.5 379.7L597.4 377.5M601.5 326.9L605.6 324.7M609.7 322.5L605.6 324.7M626.1 296.1L630.3 298.3M634.4 300.5L630.3 298.3M634.4 300.5L638.5 298.3M642.6 296.1L638.5 298.3M601.5 282.9L605.6 285.1M609.7 287.3L605.6 285.1M692 313.7L692 318.1M692 322.5L692 318.1M683.7 300.5L687.9 298.3M692 296.1L687.9 298.3M667.3 274.1L671.4 271.9M675.5 269.7L671.4 271.9M692 375.3L696.1 377.5M700.2 379.7L696.1 377.5M683.7 335.7L687.9 337.9M692 340.1L687.9 337.9M634.4 282.9L634.4 278.5M634.4 274.1L634.4 278.5M634.4 388.5L634.4 384.1M634.4 379.7L634.4 384.1M609.7 366.5L609.7 370.9M609.7 375.3L609.7 370.9M634.4 282.9L638.5 285.1M642.6 287.3L638.5 285.1M659 366.5L659 370.9M659 375.3L659 370.9M585 282.9L585 278.5M585 274.1L585 278.5M650.8 388.5L654.9 390.7M659 392.9L654.9 390.7M593.2 366.5L593.2 370.9M593.2 375.3L593.2 370.9M659 340.1L659 344.5M659 348.9L659 344.5M650.8 362.1L654.9 364.3M659 366.5L654.9 364.3M585 274.1L589.1 271.9M593.2 269.7L589.1 271.9M617.9 309.3L613.8 311.5M609.7 313.7L613.8 311.5M659 340.1L654.9 337.9M667.3 309.3L663.2 311.5M659 313.7L663.2 311.5M675.5 375.3L679.6 377.5M683.7 379.7L679.6 377.5M700.2 362.1L700.2 357.7M700.2 353.3L700.2 357.7M683.7 388.5L679.6 390.7M675.5 392.9L679.6 390.7M634.4 379.7L638.5 377.5M642.6 375.3L638.5 377.5M667.3 326.9L671.4 324.7M675.5 322.5L671.4 324.7M683.7 309.3L683.7 304.9M683.7 300.5L683.7 304.9M675.5 348.9L679.6 351.1M683.7 353.3L679.6 351.1M626.1 348.9L630.3 351.1M634.4 362.1L630.3 364.3M626.1 366.5L630.3 364.3M659 296.1L663.2 298.3M667.3 300.5L663.2 298.3M626.1 313.7L626.1 318.1M626.1 322.5L626.1 318.1M667.3 300.5L671.4 298.3M675.5 296.1L671.4 298.3M617.9 300.5L622 298.3M626.1 296.1L622 298.3M609.7 269.7L613.8 271.9M617.9 274.1L613.8 271.9M601.5 388.5L601.5 384.1M601.5 379.7L601.5 384.1M626.1 322.5L630.3 324.7M593.2 269.7L597.4 271.9M601.5 274.1L597.4 271.9M626.1 340.1L630.3 337.9M667.3 282.9L667.3 278.5M667.3 274.1L667.3 278.5M667.3 388.5L667.3 384.1M667.3 379.7L667.3 384.1M617.9 309.3L622 311.5M626.1 313.7L622 311.5M667.3 282.9L671.4 285.1M675.5 287.3L671.4 285.1M692 366.5L692 370.9M692 375.3L692 370.9M601.5 282.9L597.4 285.1M593.2 287.3L597.4 285.1M609.7 287.3L609.7 291.7M609.7 296.1L609.7 291.7M683.7 353.3L687.9 351.1M692 348.9L687.9 351.1M593.2 296.1L597.4 298.3M601.5 300.5L597.4 298.3M601.5 379.7L605.6 377.5M609.7 375.3L605.6 377.5M683.7 388.5L687.9 390.7M692 392.9L687.9 390.7M659 287.3L659 291.7M659 296.1L659 291.7M659 269.7L663.2 271.9M667.3 274.1L663.2 271.9M692 340.1L692 344.5M692 348.9L692 344.5M601.5 309.3L597.4 311.5M593.2 313.7L597.4 311.5M593.2 340.1L593.2 344.5M593.2 348.9L593.2 344.5M683.7 362.1L687.9 364.3M692 366.5L687.9 364.3M700.2 335.7L696.1 337.9M692 340.1L696.1 337.9M617.9 362.1L613.8 364.3M609.7 366.5L613.8 364.3M617.9 274.1L622 271.9M626.1 269.7L622 271.9M650.8 282.9L646.7 285.1M642.6 287.3L646.7 285.1M700.2 309.3L696.1 311.5M692 313.7L696.1 311.5M617.9 335.7L613.8 337.9M609.7 340.1L613.8 337.9M700.2 282.9L696.1 285.1M692 287.3L696.1 285.1M659 348.9L663.2 351.1M667.3 353.3L663.2 351.1M593.2 313.7L589.1 311.5M585 309.3L589.1 311.5" stroke="#2a2a2a" stroke-width="1.35" fill="none"/>
<path d="M634.4 309.3L634.4 304.9M650.8 353.3L650.8 357.7M650.8 335.7L650.8 331.3M650.8 326.9L650.8 331.3M650.8 326.9L654.9 324.7M634.4 335.7L634.4 331.3M634.4 326.9L634.4 331.3M650.8 309.3L654.9 311.5M634.4 309.3L630.3 311.5M650.8 353.3L654.9 351.1M634.4 353.3L634.4 357.7M650.8 309.3L650.8 304.9M650.8 335.7L654.9 337.9M634.4 353.3L630.3 351.1M634.4 326.9L630.3 324.7M634.4 335.7L630.3 337.9" stroke="#D4E845" stroke-width="1.25" fill="none"/>
<line x1="642.6" y1="318.2" x2="646.7" y2="313.8" stroke="#3D95E0" stroke-width="1.2" />
<line x1="646.7" y1="313.8" x2="650.8" y2="309.3" stroke="#D4E845" stroke-width="1.2" />
<line x1="642.6" y1="318.2" x2="646.7" y2="322.5" stroke="#3D95E0" stroke-width="1.2" />
<line x1="646.7" y1="322.5" x2="650.8" y2="326.9" stroke="#D4E845" stroke-width="1.2" />
<line x1="642.6" y1="318.2" x2="638.5" y2="313.8" stroke="#3D95E0" stroke-width="1.2" />
<line x1="638.5" y1="313.8" x2="634.4" y2="309.3" stroke="#D4E845" stroke-width="1.2" />
<line x1="642.6" y1="318.2" x2="638.5" y2="322.5" stroke="#3D95E0" stroke-width="1.2" />
<line x1="638.5" y1="322.5" x2="634.4" y2="326.9" stroke="#D4E845" stroke-width="1.2" />
<line x1="642.6" y1="344.5" x2="638.5" y2="348.9" stroke="#D98C1C" stroke-width="1.2" />
<line x1="638.5" y1="348.9" x2="634.4" y2="353.3" stroke="#D4E845" stroke-width="1.2" />
<line x1="642.6" y1="344.5" x2="646.7" y2="340.1" stroke="#D98C1C" stroke-width="1.2" />
<line x1="646.7" y1="340.1" x2="650.8" y2="335.7" stroke="#D4E845" stroke-width="1.2" />
<line x1="642.6" y1="344.5" x2="646.7" y2="348.9" stroke="#D98C1C" stroke-width="1.2" />
<line x1="646.7" y1="348.9" x2="650.8" y2="353.3" stroke="#D4E845" stroke-width="1.2" />
<line x1="642.6" y1="344.5" x2="638.5" y2="340.1" stroke="#D98C1C" stroke-width="1.2" />
<line x1="638.5" y1="340.1" x2="634.4" y2="335.7" stroke="#D4E845" stroke-width="1.2" />
<g fill="#555" stroke="#111" stroke-width="0.8"><circle cx="601.5" cy="282.9" r="1.55"/><circle cx="593.2" cy="287.3" r="1.55"/><circle cx="585" cy="282.9" r="1.55"/><circle cx="585" cy="274.1" r="1.55"/><circle cx="593.2" cy="269.7" r="1.55"/><circle cx="601.5" cy="274.1" r="1.55"/><circle cx="601.5" cy="309.3" r="1.55"/><circle cx="593.2" cy="313.7" r="1.55"/><circle cx="585" cy="309.3" r="1.55"/><circle cx="585" cy="300.5" r="1.55"/><circle cx="593.2" cy="296.1" r="1.55"/><circle cx="601.5" cy="300.5" r="1.55"/><circle cx="601.5" cy="335.7" r="1.55"/><circle cx="593.2" cy="340.1" r="1.55"/><circle cx="585" cy="335.7" r="1.55"/><circle cx="585" cy="326.9" r="1.55"/><circle cx="593.2" cy="322.5" r="1.55"/><circle cx="601.5" cy="326.9" r="1.55"/><circle cx="601.5" cy="362.1" r="1.55"/><circle cx="593.2" cy="366.5" r="1.55"/><circle cx="585" cy="362.1" r="1.55"/><circle cx="585" cy="353.3" r="1.55"/><circle cx="593.2" cy="348.9" r="1.55"/><circle cx="601.5" cy="353.3" r="1.55"/><circle cx="601.5" cy="388.5" r="1.55"/><circle cx="593.2" cy="392.9" r="1.55"/><circle cx="585" cy="388.5" r="1.55"/><circle cx="585" cy="379.7" r="1.55"/><circle cx="593.2" cy="375.3" r="1.55"/><circle cx="601.5" cy="379.7" r="1.55"/><circle cx="617.9" cy="282.9" r="1.55"/><circle cx="609.7" cy="287.3" r="1.55"/><circle cx="609.7" cy="269.7" r="1.55"/><circle cx="617.9" cy="274.1" r="1.55"/><circle cx="609.7" cy="296.1" r="1.55"/><circle cx="617.9" cy="309.3" r="1.55"/><circle cx="609.7" cy="313.7" r="1.55"/><circle cx="617.9" cy="300.5" r="1.55"/><circle cx="609.7" cy="322.5" r="1.55"/><circle cx="617.9" cy="335.7" r="1.55"/><circle cx="609.7" cy="340.1" r="1.55"/><circle cx="617.9" cy="326.9" r="1.55"/><circle cx="609.7" cy="348.9" r="1.55"/><circle cx="617.9" cy="362.1" r="1.55"/><circle cx="609.7" cy="366.5" r="1.55"/><circle cx="617.9" cy="353.3" r="1.55"/><circle cx="609.7" cy="375.3" r="1.55"/><circle cx="617.9" cy="388.5" r="1.55"/><circle cx="609.7" cy="392.9" r="1.55"/><circle cx="617.9" cy="379.7" r="1.55"/><circle cx="634.4" cy="282.9" r="1.55"/><circle cx="626.1" cy="287.3" r="1.55"/><circle cx="626.1" cy="269.7" r="1.55"/><circle cx="634.4" cy="274.1" r="1.55"/><circle cx="626.1" cy="296.1" r="1.55"/><circle cx="626.1" cy="313.7" r="1.55"/><circle cx="634.4" cy="300.5" r="1.55"/><circle cx="626.1" cy="322.5" r="1.55"/><circle cx="626.1" cy="340.1" r="1.55"/><circle cx="626.1" cy="348.9" r="1.55"/><circle cx="634.4" cy="362.1" r="1.55"/><circle cx="626.1" cy="366.5" r="1.55"/><circle cx="626.1" cy="375.3" r="1.55"/><circle cx="634.4" cy="388.5" r="1.55"/><circle cx="626.1" cy="392.9" r="1.55"/><circle cx="634.4" cy="379.7" r="1.55"/><circle cx="650.8" cy="282.9" r="1.55"/><circle cx="642.6" cy="287.3" r="1.55"/><circle cx="642.6" cy="269.7" r="1.55"/><circle cx="650.8" cy="274.1" r="1.55"/><circle cx="642.6" cy="296.1" r="1.55"/><circle cx="650.8" cy="300.5" r="1.55"/><circle cx="650.8" cy="362.1" r="1.55"/><circle cx="642.6" cy="366.5" r="1.55"/><circle cx="642.6" cy="375.3" r="1.55"/><circle cx="650.8" cy="388.5" r="1.55"/><circle cx="642.6" cy="392.9" r="1.55"/><circle cx="650.8" cy="379.7" r="1.55"/><circle cx="667.3" cy="282.9" r="1.55"/><circle cx="659" cy="287.3" r="1.55"/><circle cx="659" cy="269.7" r="1.55"/><circle cx="667.3" cy="274.1" r="1.55"/><circle cx="659" cy="296.1" r="1.55"/><circle cx="667.3" cy="309.3" r="1.55"/><circle cx="659" cy="313.7" r="1.55"/><circle cx="667.3" cy="300.5" r="1.55"/><circle cx="659" cy="322.5" r="1.55"/><circle cx="667.3" cy="335.7" r="1.55"/><circle cx="659" cy="340.1" r="1.55"/><circle cx="667.3" cy="326.9" r="1.55"/><circle cx="659" cy="348.9" r="1.55"/><circle cx="667.3" cy="362.1" r="1.55"/><circle cx="659" cy="366.5" r="1.55"/><circle cx="667.3" cy="353.3" r="1.55"/><circle cx="659" cy="375.3" r="1.55"/><circle cx="667.3" cy="388.5" r="1.55"/><circle cx="659" cy="392.9" r="1.55"/><circle cx="667.3" cy="379.7" r="1.55"/><circle cx="683.7" cy="282.9" r="1.55"/><circle cx="675.5" cy="287.3" r="1.55"/><circle cx="675.5" cy="269.7" r="1.55"/><circle cx="683.7" cy="274.1" r="1.55"/><circle cx="675.5" cy="296.1" r="1.55"/><circle cx="683.7" cy="309.3" r="1.55"/><circle cx="675.5" cy="313.7" r="1.55"/><circle cx="683.7" cy="300.5" r="1.55"/><circle cx="675.5" cy="322.5" r="1.55"/><circle cx="683.7" cy="335.7" r="1.55"/><circle cx="675.5" cy="340.1" r="1.55"/><circle cx="683.7" cy="326.9" r="1.55"/><circle cx="675.5" cy="348.9" r="1.55"/><circle cx="683.7" cy="362.1" r="1.55"/><circle cx="675.5" cy="366.5" r="1.55"/><circle cx="683.7" cy="353.3" r="1.55"/><circle cx="675.5" cy="375.3" r="1.55"/><circle cx="683.7" cy="388.5" r="1.55"/><circle cx="675.5" cy="392.9" r="1.55"/><circle cx="683.7" cy="379.7" r="1.55"/><circle cx="700.2" cy="282.9" r="1.55"/><circle cx="692" cy="287.3" r="1.55"/><circle cx="692" cy="269.7" r="1.55"/><circle cx="700.2" cy="274.1" r="1.55"/><circle cx="692" cy="296.1" r="1.55"/><circle cx="700.2" cy="309.3" r="1.55"/><circle cx="692" cy="313.7" r="1.55"/><circle cx="700.2" cy="300.5" r="1.55"/><circle cx="692" cy="322.5" r="1.55"/><circle cx="700.2" cy="335.7" r="1.55"/><circle cx="692" cy="340.1" r="1.55"/><circle cx="700.2" cy="326.9" r="1.55"/><circle cx="692" cy="348.9" r="1.55"/><circle cx="700.2" cy="362.1" r="1.55"/><circle cx="692" cy="366.5" r="1.55"/><circle cx="700.2" cy="353.3" r="1.55"/><circle cx="692" cy="375.3" r="1.55"/><circle cx="700.2" cy="388.5" r="1.55"/><circle cx="692" cy="392.9" r="1.55"/><circle cx="700.2" cy="379.7" r="1.55"/></g>
<g fill="#E2F05A" stroke="#C4D430" stroke-width="0.4"><circle cx="634.4" cy="353.3" r="1.85"/><circle cx="650.8" cy="309.3" r="1.85"/><circle cx="650.8" cy="335.7" r="1.85"/><circle cx="650.8" cy="326.9" r="1.85"/><circle cx="650.8" cy="353.3" r="1.85"/><circle cx="634.4" cy="309.3" r="1.85"/><circle cx="634.4" cy="335.7" r="1.85"/><circle cx="634.4" cy="326.9" r="1.85"/></g>
<circle cx="642.6" cy="318.2" r="3.3" fill="#3D95E0"/><circle cx="642.1" cy="317.6" r="1.2" fill="#fff" opacity="0.45"/>
<circle cx="642.6" cy="344.5" r="3.3" fill="#D98C1C"/><circle cx="642.1" cy="343.9" r="1.2" fill="#fff" opacity="0.45"/>
</g>
<rect x="605.6" y="297.6" width="73.8" height="68" fill="none" stroke="#555" stroke-width="1.2" />
<clipPath id="cb4"><rect x="605.5" y="367.2" width="74" height="67.2"/></clipPath>
<g clip-path="url(#cb4)">
<rect x="605.5" y="367.2" width="74" height="67.2" fill="#fff" />
<path d="M637.2 434L634.8 429.9M661.2 442.3L663.6 446.5M666 450.7L663.6 446.5M579.6 384.1L577.2 380M574.8 375.8L577.2 380M594 359.2L591.6 355M589.2 350.9L591.6 355M608.4 450.7L606 454.8M603.6 459L606 454.8M637.2 367.5L642 367.5M646.8 367.5L642 367.5M608.4 434L613.2 434M618 434L613.2 434M589.2 400.8L591.6 404.9M594 409.1L591.6 404.9M589.2 350.9L591.6 346.7M594 342.6L591.6 346.7M622.8 392.5L627.6 392.5M666 450.7L663.6 454.8M661.2 459L663.6 454.8M661.2 409.1L656.4 409.1M694.8 450.7L699.6 450.7M704.4 450.7L699.6 450.7M704.4 384.1L706.8 388.3M709.2 392.5L706.8 388.3M589.2 384.1L591.6 388.3M594 392.5L591.6 388.3M603.6 459L598.8 459M594 459L598.8 459M666 417.4L663.6 421.6M661.2 425.7L663.6 421.6M594 425.7L591.6 429.9M589.2 434L591.6 429.9M651.6 359.2L649.2 363.4M646.8 367.5L649.2 363.4M675.6 350.9L678 346.7M680.4 342.6L678 346.7M709.2 359.2L706.8 363.4M704.4 367.5L706.8 363.4M594 425.7L598.8 425.7M603.6 425.7L598.8 425.7M594 409.1L591.6 413.2M589.2 417.4L591.6 413.2M680.4 392.5L685.2 392.5M690 392.5L685.2 392.5M690 442.3L692.4 446.5M694.8 450.7L692.4 446.5M680.4 375.8L678 380M675.6 384.1L678 380M675.6 417.4L678 421.6M680.4 425.7L678 421.6M680.4 442.3L685.2 442.3M690 442.3L685.2 442.3M589.2 417.4L584.4 417.4M579.6 417.4L584.4 417.4M618 384.1L620.4 388.3M622.8 392.5L620.4 388.3M675.6 384.1L678 388.3M680.4 392.5L678 388.3M680.4 409.1L685.2 409.1M690 409.1L685.2 409.1M661.2 425.7L656.4 425.7M709.2 442.3L706.8 446.5M704.4 450.7L706.8 446.5M608.4 434L606 438.2M603.6 442.3L606 438.2M622.8 392.5L620.4 396.6M618 400.8L620.4 396.6M680.4 359.2L678 363.4M675.6 367.5L678 363.4M622.8 375.8L627.6 375.8M594 442.3L598.8 442.3M603.6 442.3L598.8 442.3M661.2 392.5L656.4 392.5M594 409.1L598.8 409.1M603.6 409.1L598.8 409.1M709.2 409.1L706.8 413.2M704.4 417.4L706.8 413.2M589.2 417.4L591.6 421.6M594 425.7L591.6 421.6M579.6 417.4L577.2 413.2M574.8 409.1L577.2 413.2M632.4 459L627.6 459M622.8 459L627.6 459M709.2 375.8L706.8 380M704.4 384.1L706.8 380M618 450.7L620.4 454.8M622.8 459L620.4 454.8M680.4 392.5L678 396.6M675.6 400.8L678 396.6M651.6 359.2L656.4 359.2M661.2 359.2L656.4 359.2M680.4 342.6L685.2 342.6M690 342.6L685.2 342.6M579.6 400.8L577.2 396.6M574.8 392.5L577.2 396.6M594 442.3L591.6 446.5M589.2 450.7L591.6 446.5M618 400.8L620.4 404.9M622.8 409.1L620.4 404.9M622.8 425.7L627.6 425.7M680.4 442.3L678 446.5M675.6 450.7L678 446.5M675.6 400.8L678 404.9M680.4 409.1L678 404.9M680.4 425.7L685.2 425.7M690 425.7L685.2 425.7M675.6 450.7L678 454.8M680.4 459L678 454.8M680.4 409.1L678 413.2M675.6 417.4L678 413.2M594 392.5L598.8 392.5M603.6 392.5L598.8 392.5M622.8 409.1L620.4 413.2M618 417.4L620.4 413.2M646.8 434L649.2 429.9M618 417.4L620.4 421.6M622.8 425.7L620.4 421.6M709.2 425.7L706.8 429.9M704.4 434L706.8 429.9M622.8 375.8L620.4 380M618 384.1L620.4 380M589.2 450.7L584.4 450.7M579.6 450.7L584.4 450.7M622.8 359.2L627.6 359.2M632.4 359.2L627.6 359.2M646.8 400.8L649.2 396.6M704.4 434L706.8 438.2M709.2 442.3L706.8 438.2M646.8 434L649.2 438.2M651.6 442.3L649.2 438.2M680.4 359.2L685.2 359.2M690 359.2L685.2 359.2M709.2 392.5L706.8 396.6M704.4 400.8L706.8 396.6M589.2 450.7L591.6 454.8M594 459L591.6 454.8M589.2 434L584.4 434M579.6 434L584.4 434M579.6 450.7L577.2 446.5M574.8 442.3L577.2 446.5M646.8 400.8L649.2 404.9M579.6 417.4L577.2 421.6M574.8 425.7L577.2 421.6M637.2 350.9L634.8 355M632.4 359.2L634.8 355M622.8 442.3L627.6 442.3M632.4 442.3L627.6 442.3M646.8 450.7L649.2 454.8M651.6 459L649.2 454.8M637.2 400.8L642 400.8M646.8 400.8L642 400.8M694.8 350.9L692.4 355M690 359.2L692.4 355M637.2 350.9L642 350.9M646.8 350.9L642 350.9M579.6 434L577.2 429.9M574.8 425.7L577.2 429.9M579.6 400.8L577.2 404.9M574.8 409.1L577.2 404.9M594 375.8L598.8 375.8M603.6 375.8L598.8 375.8M622.8 425.7L620.4 429.9M618 434L620.4 429.9M622.8 409.1L627.6 409.1M680.4 425.7L678 429.9M675.6 434L678 429.9M579.6 384.1L577.2 388.3M574.8 392.5L577.2 388.3M589.2 434L591.6 438.2M594 442.3L591.6 438.2M618 434L620.4 438.2M622.8 442.3L620.4 438.2M608.4 367.5L606 371.7M603.6 375.8L606 371.7M594 359.2L598.8 359.2M603.6 359.2L598.8 359.2M637.2 350.9L634.8 346.7M632.4 342.6L634.8 346.7M651.6 359.2L649.2 355M646.8 350.9L649.2 355M666 367.5L663.6 371.7M661.2 375.8L663.6 371.7M608.4 350.9L606 355M603.6 359.2L606 355M603.6 375.8L606 380M608.4 384.1L606 380M666 350.9L663.6 355M661.2 359.2L663.6 355M704.4 417.4L706.8 421.6M709.2 425.7L706.8 421.6M608.4 350.9L613.2 350.9M618 350.9L613.2 350.9M651.6 442.3L656.4 442.3M661.2 442.3L656.4 442.3M675.6 434L678 438.2M680.4 442.3L678 438.2M666 350.9L670.8 350.9M675.6 350.9L670.8 350.9M690 392.5L692.4 396.6M694.8 400.8L692.4 396.6M694.8 417.4L699.6 417.4M704.4 417.4L699.6 417.4M622.8 442.3L620.4 446.5M618 450.7L620.4 446.5M637.2 400.8L634.8 404.9M694.8 384.1L699.6 384.1M704.4 384.1L699.6 384.1M666 400.8L670.8 400.8M675.6 400.8L670.8 400.8M608.4 350.9L606 346.7M603.6 342.6L606 346.7M622.8 359.2L620.4 355M618 350.9L620.4 355M579.6 434L577.2 438.2M574.8 442.3L577.2 438.2M637.2 367.5L634.8 371.7M704.4 367.5L706.8 371.7M709.2 375.8L706.8 371.7M666 350.9L663.6 346.7M661.2 342.6L663.6 346.7M680.4 359.2L678 355M675.6 350.9L678 355M661.2 425.7L663.6 429.9M666 434L663.6 429.9M589.2 367.5L584.4 367.5M579.6 367.5L584.4 367.5M603.6 359.2L606 363.4M608.4 367.5L606 363.4M594 342.6L598.8 342.6M603.6 342.6L598.8 342.6M661.2 392.5L663.6 396.6M666 400.8L663.6 396.6M608.4 417.4L613.2 417.4M618 417.4L613.2 417.4M651.6 342.6L656.4 342.6M661.2 342.6L656.4 342.6M637.2 434L642 434M646.8 434L642 434M608.4 367.5L613.2 367.5M618 367.5L613.2 367.5M694.8 367.5L692.4 371.7M690 375.8L692.4 371.7M694.8 434L699.6 434M704.4 434L699.6 434M608.4 384.1L613.2 384.1M618 384.1L613.2 384.1M651.6 442.3L649.2 446.5M646.8 450.7L649.2 446.5M618 367.5L620.4 371.7M622.8 375.8L620.4 371.7M694.8 417.4L692.4 421.6M690 425.7L692.4 421.6M661.2 359.2L663.6 363.4M666 367.5L663.6 363.4M675.6 367.5L678 371.7M680.4 375.8L678 371.7M690 375.8L692.4 380M694.8 384.1L692.4 380M694.8 400.8L699.6 400.8M704.4 400.8L699.6 400.8M694.8 350.9L699.6 350.9M704.4 350.9L699.6 350.9M579.6 367.5L577.2 363.4M574.8 359.2L577.2 363.4M694.8 384.1L692.4 388.3M690 392.5L692.4 388.3M666 400.8L663.6 404.9M661.2 409.1L663.6 404.9M666 384.1L670.8 384.1M675.6 384.1L670.8 384.1M574.8 359.2L577.2 355M579.6 350.9L577.2 355M622.8 342.6L627.6 342.6M632.4 342.6L627.6 342.6M603.6 409.1L606 413.2M608.4 417.4L606 413.2M694.8 350.9L692.4 346.7M690 342.6L692.4 346.7M709.2 359.2L706.8 355M704.4 350.9L706.8 355M661.2 409.1L663.6 413.2M666 417.4L663.6 413.2M666 434L670.8 434M675.6 434L670.8 434M690 425.7L692.4 429.9M694.8 434L692.4 429.9M637.2 450.7L642 450.7M646.8 450.7L642 450.7M589.2 367.5L591.6 371.7M594 375.8L591.6 371.7M632.4 359.2L634.8 363.4M637.2 367.5L634.8 363.4M646.8 367.5L649.2 371.7M608.4 417.4L606 421.6M603.6 425.7L606 421.6M661.2 375.8L663.6 380M666 384.1L663.6 380M637.2 434L634.8 438.2M632.4 442.3L634.8 438.2M608.4 400.8L613.2 400.8M618 400.8L613.2 400.8M690 359.2L692.4 363.4M694.8 367.5L692.4 363.4M637.2 400.8L634.8 396.6M618 350.9L620.4 346.7M622.8 342.6L620.4 346.7M661.2 375.8L656.4 375.8M694.8 434L692.4 438.2M690 442.3L692.4 438.2M608.4 384.1L606 388.3M603.6 392.5L606 388.3M694.8 367.5L699.6 367.5M704.4 367.5L699.6 367.5M579.6 350.9L584.4 350.9M589.2 350.9L584.4 350.9M632.4 442.3L634.8 446.5M637.2 450.7L634.8 446.5M694.8 400.8L692.4 404.9M690 409.1L692.4 404.9M661.2 459L656.4 459M651.6 459L656.4 459M594 359.2L591.6 363.4M589.2 367.5L591.6 363.4M594 392.5L591.6 396.6M589.2 400.8L591.6 396.6M603.6 425.7L606 429.9M608.4 434L606 429.9M608.4 450.7L613.2 450.7M618 450.7L613.2 450.7M666 384.1L663.6 388.3M661.2 392.5L663.6 388.3M594 375.8L591.6 380M589.2 384.1L591.6 380M666 450.7L670.8 450.7M675.6 450.7L670.8 450.7M704.4 400.8L706.8 404.9M709.2 409.1L706.8 404.9M603.6 392.5L606 396.6M608.4 400.8L606 396.6M622.8 359.2L620.4 363.4M618 367.5L620.4 363.4M666 434L663.6 438.2M661.2 442.3L663.6 438.2M666 417.4L670.8 417.4M675.6 417.4L670.8 417.4M637.2 450.7L634.8 454.8M632.4 459L634.8 454.8M666 367.5L670.8 367.5M675.6 367.5L670.8 367.5M690 409.1L692.4 413.2M694.8 417.4L692.4 413.2M603.6 442.3L606 446.5M608.4 450.7L606 446.5M694.8 450.7L692.4 454.8M690 459L692.4 454.8M608.4 400.8L606 404.9M603.6 409.1L606 404.9M589.2 400.8L584.4 400.8M579.6 400.8L584.4 400.8M579.6 367.5L577.2 371.7M574.8 375.8L577.2 371.7M690 459L685.2 459M680.4 459L685.2 459M646.8 350.9L649.2 346.7M651.6 342.6L649.2 346.7M680.4 375.8L685.2 375.8M690 375.8L685.2 375.8M589.2 384.1L584.4 384.1M579.6 384.1L584.4 384.1" stroke="#2a2a2a" stroke-width="1.35" fill="none"/>
<path d="M632.4 425.7L634.8 429.9M632.4 392.5L627.6 392.5M651.6 409.1L656.4 409.1M651.6 425.7L656.4 425.7M632.4 375.8L627.6 375.8M651.6 392.5L656.4 392.5M632.4 425.7L627.6 425.7M651.6 425.7L649.2 429.9M651.6 392.5L649.2 396.6M651.6 409.1L649.2 404.9M632.4 409.1L627.6 409.1M632.4 409.1L634.8 404.9M632.4 375.8L634.8 371.7M651.6 375.8L649.2 371.7M632.4 392.5L634.8 396.6M651.6 375.8L656.4 375.8" stroke="#D4E845" stroke-width="1.25" fill="none"/>
<line x1="642" y1="384.2" x2="646.8" y2="380" stroke="#3D95E0" stroke-width="1.2" />
<line x1="646.8" y1="380" x2="651.6" y2="375.8" stroke="#D4E845" stroke-width="1.2" />
<line x1="642" y1="384.2" x2="646.8" y2="388.3" stroke="#3D95E0" stroke-width="1.2" />
<line x1="646.8" y1="388.3" x2="651.6" y2="392.5" stroke="#D4E845" stroke-width="1.2" />
<line x1="642" y1="384.2" x2="637.2" y2="380" stroke="#3D95E0" stroke-width="1.2" />
<line x1="637.2" y1="380" x2="632.4" y2="375.8" stroke="#D4E845" stroke-width="1.2" />
<line x1="642" y1="384.2" x2="637.2" y2="388.3" stroke="#3D95E0" stroke-width="1.2" />
<line x1="637.2" y1="388.3" x2="632.4" y2="392.5" stroke="#D4E845" stroke-width="1.2" />
<line x1="642" y1="417.4" x2="637.2" y2="413.2" stroke="#D98C1C" stroke-width="1.2" />
<line x1="637.2" y1="413.2" x2="632.4" y2="409.1" stroke="#D4E845" stroke-width="1.2" />
<line x1="642" y1="417.4" x2="637.2" y2="421.6" stroke="#D98C1C" stroke-width="1.2" />
<line x1="637.2" y1="421.6" x2="632.4" y2="425.7" stroke="#D4E845" stroke-width="1.2" />
<line x1="642" y1="417.4" x2="646.8" y2="413.2" stroke="#D98C1C" stroke-width="1.2" />
<line x1="646.8" y1="413.2" x2="651.6" y2="409.1" stroke="#D4E845" stroke-width="1.2" />
<line x1="642" y1="417.4" x2="646.8" y2="421.6" stroke="#D98C1C" stroke-width="1.2" />
<line x1="646.8" y1="421.6" x2="651.6" y2="425.7" stroke="#D4E845" stroke-width="1.2" />
<g fill="#555" stroke="#111" stroke-width="0.8"><circle cx="594" cy="359.2" r="1.55"/><circle cx="589.2" cy="367.5" r="1.55"/><circle cx="579.6" cy="367.5" r="1.55"/><circle cx="574.8" cy="359.2" r="1.55"/><circle cx="579.6" cy="350.9" r="1.55"/><circle cx="589.2" cy="350.9" r="1.55"/><circle cx="594" cy="375.8" r="1.55"/><circle cx="589.2" cy="384.1" r="1.55"/><circle cx="579.6" cy="384.1" r="1.55"/><circle cx="574.8" cy="375.8" r="1.55"/><circle cx="594" cy="392.5" r="1.55"/><circle cx="589.2" cy="400.8" r="1.55"/><circle cx="579.6" cy="400.8" r="1.55"/><circle cx="574.8" cy="392.5" r="1.55"/><circle cx="594" cy="409.1" r="1.55"/><circle cx="589.2" cy="417.4" r="1.55"/><circle cx="579.6" cy="417.4" r="1.55"/><circle cx="574.8" cy="409.1" r="1.55"/><circle cx="594" cy="425.7" r="1.55"/><circle cx="589.2" cy="434" r="1.55"/><circle cx="579.6" cy="434" r="1.55"/><circle cx="574.8" cy="425.7" r="1.55"/><circle cx="594" cy="442.3" r="1.55"/><circle cx="589.2" cy="450.7" r="1.55"/><circle cx="579.6" cy="450.7" r="1.55"/><circle cx="574.8" cy="442.3" r="1.55"/><circle cx="608.4" cy="350.9" r="1.55"/><circle cx="603.6" cy="359.2" r="1.55"/><circle cx="594" cy="342.6" r="1.55"/><circle cx="603.6" cy="342.6" r="1.55"/><circle cx="608.4" cy="367.5" r="1.55"/><circle cx="603.6" cy="375.8" r="1.55"/><circle cx="608.4" cy="384.1" r="1.55"/><circle cx="603.6" cy="392.5" r="1.55"/><circle cx="608.4" cy="400.8" r="1.55"/><circle cx="603.6" cy="409.1" r="1.55"/><circle cx="608.4" cy="417.4" r="1.55"/><circle cx="603.6" cy="425.7" r="1.55"/><circle cx="608.4" cy="434" r="1.55"/><circle cx="603.6" cy="442.3" r="1.55"/><circle cx="608.4" cy="450.7" r="1.55"/><circle cx="603.6" cy="459" r="1.55"/><circle cx="594" cy="459" r="1.55"/><circle cx="622.8" cy="359.2" r="1.55"/><circle cx="618" cy="367.5" r="1.55"/><circle cx="618" cy="350.9" r="1.55"/><circle cx="622.8" cy="375.8" r="1.55"/><circle cx="618" cy="384.1" r="1.55"/><circle cx="622.8" cy="392.5" r="1.55"/><circle cx="618" cy="400.8" r="1.55"/><circle cx="622.8" cy="409.1" r="1.55"/><circle cx="618" cy="417.4" r="1.55"/><circle cx="622.8" cy="425.7" r="1.55"/><circle cx="618" cy="434" r="1.55"/><circle cx="622.8" cy="442.3" r="1.55"/><circle cx="618" cy="450.7" r="1.55"/><circle cx="637.2" cy="350.9" r="1.55"/><circle cx="632.4" cy="359.2" r="1.55"/><circle cx="622.8" cy="342.6" r="1.55"/><circle cx="632.4" cy="342.6" r="1.55"/><circle cx="637.2" cy="367.5" r="1.55"/><circle cx="637.2" cy="400.8" r="1.55"/><circle cx="637.2" cy="434" r="1.55"/><circle cx="632.4" cy="442.3" r="1.55"/><circle cx="637.2" cy="450.7" r="1.55"/><circle cx="632.4" cy="459" r="1.55"/><circle cx="622.8" cy="459" r="1.55"/><circle cx="651.6" cy="359.2" r="1.55"/><circle cx="646.8" cy="367.5" r="1.55"/><circle cx="646.8" cy="350.9" r="1.55"/><circle cx="646.8" cy="400.8" r="1.55"/><circle cx="646.8" cy="434" r="1.55"/><circle cx="651.6" cy="442.3" r="1.55"/><circle cx="646.8" cy="450.7" r="1.55"/><circle cx="666" cy="350.9" r="1.55"/><circle cx="661.2" cy="359.2" r="1.55"/><circle cx="651.6" cy="342.6" r="1.55"/><circle cx="661.2" cy="342.6" r="1.55"/><circle cx="666" cy="367.5" r="1.55"/><circle cx="661.2" cy="375.8" r="1.55"/><circle cx="666" cy="384.1" r="1.55"/><circle cx="661.2" cy="392.5" r="1.55"/><circle cx="666" cy="400.8" r="1.55"/><circle cx="661.2" cy="409.1" r="1.55"/><circle cx="666" cy="417.4" r="1.55"/><circle cx="661.2" cy="425.7" r="1.55"/><circle cx="666" cy="434" r="1.55"/><circle cx="661.2" cy="442.3" r="1.55"/><circle cx="666" cy="450.7" r="1.55"/><circle cx="661.2" cy="459" r="1.55"/><circle cx="651.6" cy="459" r="1.55"/><circle cx="680.4" cy="359.2" r="1.55"/><circle cx="675.6" cy="367.5" r="1.55"/><circle cx="675.6" cy="350.9" r="1.55"/><circle cx="680.4" cy="375.8" r="1.55"/><circle cx="675.6" cy="384.1" r="1.55"/><circle cx="680.4" cy="392.5" r="1.55"/><circle cx="675.6" cy="400.8" r="1.55"/><circle cx="680.4" cy="409.1" r="1.55"/><circle cx="675.6" cy="417.4" r="1.55"/><circle cx="680.4" cy="425.7" r="1.55"/><circle cx="675.6" cy="434" r="1.55"/><circle cx="680.4" cy="442.3" r="1.55"/><circle cx="675.6" cy="450.7" r="1.55"/><circle cx="694.8" cy="350.9" r="1.55"/><circle cx="690" cy="359.2" r="1.55"/><circle cx="680.4" cy="342.6" r="1.55"/><circle cx="690" cy="342.6" r="1.55"/><circle cx="694.8" cy="367.5" r="1.55"/><circle cx="690" cy="375.8" r="1.55"/><circle cx="694.8" cy="384.1" r="1.55"/><circle cx="690" cy="392.5" r="1.55"/><circle cx="694.8" cy="400.8" r="1.55"/><circle cx="690" cy="409.1" r="1.55"/><circle cx="694.8" cy="417.4" r="1.55"/><circle cx="690" cy="425.7" r="1.55"/><circle cx="694.8" cy="434" r="1.55"/><circle cx="690" cy="442.3" r="1.55"/><circle cx="694.8" cy="450.7" r="1.55"/><circle cx="690" cy="459" r="1.55"/><circle cx="680.4" cy="459" r="1.55"/><circle cx="709.2" cy="359.2" r="1.55"/><circle cx="704.4" cy="367.5" r="1.55"/><circle cx="704.4" cy="350.9" r="1.55"/><circle cx="709.2" cy="375.8" r="1.55"/><circle cx="704.4" cy="384.1" r="1.55"/><circle cx="709.2" cy="392.5" r="1.55"/><circle cx="704.4" cy="400.8" r="1.55"/><circle cx="709.2" cy="409.1" r="1.55"/><circle cx="704.4" cy="417.4" r="1.55"/><circle cx="709.2" cy="425.7" r="1.55"/><circle cx="704.4" cy="434" r="1.55"/><circle cx="709.2" cy="442.3" r="1.55"/><circle cx="704.4" cy="450.7" r="1.55"/></g>
<g fill="#E2F05A" stroke="#C4D430" stroke-width="0.4"><circle cx="632.4" cy="409.1" r="1.85"/><circle cx="632.4" cy="425.7" r="1.85"/><circle cx="651.6" cy="375.8" r="1.85"/><circle cx="651.6" cy="392.5" r="1.85"/><circle cx="651.6" cy="409.1" r="1.85"/><circle cx="651.6" cy="425.7" r="1.85"/><circle cx="632.4" cy="375.8" r="1.85"/><circle cx="632.4" cy="392.5" r="1.85"/></g>
<circle cx="642" cy="384.2" r="3.3" fill="#3D95E0"/><circle cx="641.5" cy="383.6" r="1.2" fill="#fff" opacity="0.45"/>
<circle cx="642" cy="417.4" r="3.3" fill="#D98C1C"/><circle cx="641.5" cy="416.8" r="1.2" fill="#fff" opacity="0.45"/>
</g>
<rect x="605.5" y="367.2" width="74" height="67.2" fill="none" stroke="#555" stroke-width="1.2" />
<clipPath id="h1"><rect x="26.3" y="474.1" width="116.5" height="98.7"/></clipPath>
<g clip-path="url(#h1)">
<rect x="26.3" y="474.1" width="116.5" height="98.7" fill="#0d0bf6" />
<path d="M26.9 572.8 75.7 572.8 70.9 571.2 68.6 568.7 69.6 566.2 73.6 563.8 82.6 561.6 118.2 557.5 122.7 556.2 126 554 128.8 550.6 133.6 542.4 135.5 538.3 136.5 534.1 137.1 503.7 135.7 474.1 39.3 474.1 37.3 475.5 35 474.1 26.3 474.1 26.3 572.8 26.9 572.8Z" fill="#1220fb" fill-rule="evenodd"/>
<path d="M26.9 572.8 69.4 572.8 65.9 571.2 64.1 568.7 64.4 567 65.8 565.4 70 562.9 78.7 560.5 94.9 558.4 113.7 555 118.9 553.2 122.7 550.6 126 546.9 129.2 541.5 131.3 536.6 132.1 532.5 133.3 503.7 131.4 474.1 40.1 474.1 38.6 476.2 37.3 476.7 36 476.3 33.9 474.1 26.3 474.1 26.3 572.8 26.9 572.8Z" fill="#193afc" fill-rule="evenodd"/>
<path d="M26.9 572.8 63.9 572.8 60.1 570.3 59.7 567.9 62.3 564.6 66.8 562.1 75.1 559.6 94.3 556.8 109.8 553.3 116.3 551.1 120.8 547.8 124 544 126.3 539.9 127.9 535.8 128.8 530.9 130.3 503.7 128.1 474.1 40.9 474.1 39.2 476.8 37.3 477.7 35.4 476.9 33 474.1 26.3 474.1 26.3 572.8 26.9 572.8Z" fill="#2154fe" fill-rule="evenodd"/>
<path d="M26.9 572.8 57.9 572.8 55 570.3 55 567.9 57.8 564.6 63.2 561.5 72.9 558.6 91.7 555.8 102 553.4 113 549.8 118.9 545.8 122.6 540.7 125 535 127.3 514.4 127.6 498.8 125.2 474.1 41.5 474.1 39.7 477.4 37.3 478.7 34.7 477.4 32 474.1 26.3 474.1 26.3 572.8 26.9 572.8Z" fill="#286fff" fill-rule="evenodd"/>
<path d="M26.9 572.8 50.8 572.8 49.1 570.3 49.8 567.9 53 564.6 58.7 561.3 69.7 557.8 90.4 554.6 98.8 552.6 110.4 548.5 114 546.5 116.9 544 120.5 539.1 122.4 534.1 125.1 511.9 125.1 497.1 122.5 474.1 86.9 474.1 85.2 475.5 83.9 474.1 42.1 474.1 39.9 478.3 37.3 479.7 34.7 478.5 31.1 474.1 26.3 474.1 26.3 572.8 26.9 572.8Z" fill="#2d8dff" fill-rule="evenodd"/>
<path d="M26.9 572.8 41.4 572.8 41.5 570.3 44 567 48.5 563.8 55.3 560.5 67.7 556.7 89.1 553.5 96.8 551.6 108.5 547.1 112.4 544.8 115.1 542.4 118.1 538.3 120 533.3 122.9 511.1 122.7 496.3 119.9 474.1 88.5 474.1 86.7 476.6 85.2 477.4 83.5 476.6 82.6 474.1 42.8 474.1 40.2 479 38.6 480.3 37.3 480.6 34.1 479.1 30 474.1 26.3 474.1 26.3 572.8 26.9 572.8Z" fill="#33acff" fill-rule="evenodd"/>
<path d="M26.9 570.4 44.4 562.1 57.4 557.7 69 554.9 89.1 552.1 96.8 550 107.1 545.7 113 541.2 115.7 537.4 117.6 532.5 120.6 510.3 120.4 496.3 117.4 474.1 89.9 474.1 87.1 477.7 85.2 478.8 83.9 478.6 82.6 477.4 81.7 474.1 43.4 474.1 40.5 479.8 39.2 481 37.3 481.5 35.4 481 33.4 479.6 29 474.1 26.3 474.1 26.3 570.6 26.9 570.4Z" fill="#38cbff" fill-rule="evenodd"/>
<path d="M26.9 561.9 36 560.7 65.8 554 91 550.2 102.9 545.7 107.2 543.2 110.4 540.6 113.5 536.6 115.1 532.5 118.3 510.3 118.1 497.1 114.9 474.1 91.5 474.1 87.1 479.1 84.6 480.1 83.3 479.6 82 478.2 80.9 474.1 44.1 474.1 41.2 480.2 39.2 482 37.3 482.5 35.4 482.1 33.4 480.9 29.9 477.4 28 474.1 26.3 474.1 26.3 561.9 26.9 561.9Z" fill="#3ce4f7" fill-rule="evenodd"/>
<path d="M30.8 556.4 38.6 556.4 47 555.7 88.4 549.2 94.3 547.5 100.1 545 104.7 542.4 108.5 539.4 111.2 535.8 113 530.9 116 508.6 115.6 497.1 112.1 474.1 94 474.1 91.7 475.6 87.1 480.4 84.6 481.3 82.6 480.5 81.4 479 80.1 474.1 44.9 474.1 41.2 481.5 39.2 483.1 37.3 483.6 34.1 482.6 30.4 479.9 28.2 477.4 27 474.1 26.3 474.1 26.3 556 30.8 556.4Z" fill="#3ceedb" fill-rule="evenodd"/>
<path d="M38.6 553.1 45.1 553.4 52.2 552.9 87.8 547.6 93.6 545.7 99.1 543.2 104 540.2 107.1 537.4 109.2 534.1 110.5 530 113.5 507 112.9 496.3 108.7 474.1 98.5 474.1 93 476.4 87.8 481.3 84.6 482.4 82.6 481.8 80.8 479.9 79.7 477.4 79.2 474.1 45.8 474.1 41.8 482.1 39.9 483.9 37.3 484.7 34.1 484 28.2 480.4 26.9 478.7 26.3 475.9 26.3 550.9 38.6 553.1Z" fill="#3cf7c0" fill-rule="evenodd"/>
<path d="M43.1 550.7 49.6 551 56.1 550.6 86.9 545.7 92.1 544 97.5 541.5 102 538.6 105 535.8 106.9 532.5 107.9 528.8 110.3 511.9 110.6 504.5 110.1 498 108.5 489.7 105.9 480.6 104 477.2 101.4 476.5 94.9 477.5 92.3 478.8 87.8 482.7 84.6 483.6 82 482.7 80.1 480.7 78.7 477.4 78.2 474.1 46.8 474.1 43.1 481.9 39.9 485.4 36.7 486.2 29.5 484.1 26.3 484.4 26.3 546.3 36.7 549.5 43.1 550.7Z" fill="#3bff9e" fill-rule="evenodd"/>
<path d="M44.4 548.2 50.9 548.8 58 548.4 82.6 544 93 540.7 98.1 537.8 101.6 535 103.3 532.4 104.6 528.4 106.9 511.1 107.2 504.5 106.6 497.3 104.8 489.7 102.7 484 100.8 481.5 98.1 480.2 94.9 480.1 92.3 481 87.1 484.5 83.9 484.9 81.3 483.7 79.2 481.5 77.6 478.2 76.9 474.1 48.1 474.1 43.8 483.3 40.5 486.9 37.3 488 30.8 487.6 28.2 489.2 26.3 492.4 26.3 541.5 36.7 546 44.4 548.2Z" fill="#35fd67" fill-rule="evenodd"/>
<path d="M52.2 546.5 58.7 546.1 66.5 544.8 84.2 539.9 93 536.5 96.2 534.3 98.1 532.3 99.4 530 100.3 526.7 102.1 502.1 100.5 490.6 98.8 486.5 96.8 484.4 93.6 483.5 86.5 486.3 83.9 486.4 82 485.7 79.4 484 76.7 480.7 75.2 477.4 74.7 474.1 49.8 474.1 45.1 485 43.1 488.2 39.9 490.8 34.7 492.4 32.8 493.8 32.3 496.3 35.4 501.2 35.8 505.4 34 511.9 32.1 515.4 30.2 517.5 28.9 517.2 28.2 515.9 26.3 504.1 26.3 535.6 33.5 540.7 39.2 543.7 45.7 545.7 52.2 546.5Z" fill="#30fb2f" fill-rule="evenodd"/>
<path d="M51.5 544 57.4 544 63.8 543 70.3 541.2 76.1 538.9 86.5 534.3 90.4 531.9 92.9 529.2 94.4 525.1 94.7 520.2 94 507.8 95.1 494.7 93.9 489.7 91.7 488.1 84.6 488.3 80 486.7 71.6 481 67.2 475.7 65.1 474.1 52.2 474.1 50.4 478.2 49.9 482.3 50.9 485 54.5 488.9 54.5 491.4 52 494.7 44.4 500.2 41.2 504 34.2 518.5 31.7 525.9 31.5 529.2 32 532.5 33.1 535 35.4 537.7 38.6 540.1 42.5 542 51.5 544Z" fill="#46fb10" fill-rule="evenodd"/>
<path d="M50.9 541.6 60 541.4 69.7 538.9 82.2 532.5 85.6 530 87.8 527.6 89.6 523.5 90.1 516.9 89.5 497.1 88.7 493.8 87.2 492.2 76.1 488 72.3 487.7 67.7 488.4 64.5 490 57.3 495.5 47.7 501.6 43 506.2 39.1 512.8 35.8 520.2 34.7 525.1 34.8 530 36.5 534.1 39.8 537.4 45.1 540.2 50.9 541.6Z" fill="#78fd09" fill-rule="evenodd"/>
<path d="M49.6 539.1 54.1 539.7 58.7 539.5 68.4 537.2 77.7 532.5 81.3 529.8 84.3 526.7 86.1 523.5 86.9 520.2 87.1 507.8 85.8 498.2 84.6 495.5 82.8 493.8 79.6 492.2 76.1 491.5 72.3 491.7 68.4 492.7 50.9 501.8 47 504.7 43.8 508.3 40.5 513.6 37.9 519.3 36.8 524.3 37 528.4 38.1 531.7 40.7 535 44.4 537.4 49.6 539.1Z" fill="#a9ff02" fill-rule="evenodd"/>
<path d="M51.5 537.5 59.3 537.6 68.4 535.4 76.1 531.3 81.8 525.9 83.6 522.6 84.5 519.3 84.9 509.5 83.3 500.4 82 497.9 80 496.1 77.4 494.9 73.5 494.6 69 495.4 63.2 497.4 50.9 503.8 47 507 43.8 511 40.9 516 39.1 521 38.5 525.1 39 528.4 40.6 531.7 43.1 534.2 47 536.3 51.5 537.5Z" fill="#cdfd00" fill-rule="evenodd"/>
<path d="M51.5 535.8 58.7 536.1 67.1 534.3 74 530.9 79.3 525.9 82.2 520.2 83 511.9 81.8 503.7 80.7 501.2 78.7 499 76.1 497.7 72.3 497.3 67.7 498 62.5 499.5 57.4 501.7 52.2 504.6 48.3 507.8 45.4 511.1 42.8 515.2 41 519.3 40.2 523.5 40.4 526.7 41.8 530 44 532.5 47.7 534.7 51.5 535.8Z" fill="#ecfb00" fill-rule="evenodd"/>
<path d="M51.5 534.3 58.7 534.7 66.4 533.1 72.8 530 77.2 525.9 80.3 520.2 81.2 512.8 80 505.4 77.2 501.2 74.8 500 71.6 499.5 67.1 499.8 62.5 501 53.5 505.3 50.2 507.8 47 511.2 44.3 515.2 42.5 519.3 41.7 522.6 41.9 525.9 43.1 528.9 45.1 531.2 47.7 532.9 51.5 534.3Z" fill="#ffed00" fill-rule="evenodd"/>
<path d="M54.8 533.4 61.3 533.1 67.7 531.3 72.8 528.4 76.6 524.3 79 518.5 79.5 511.9 78.1 506.2 75.5 502.9 72.9 501.7 69 501.3 65.1 501.7 60.6 503 52.8 507.2 49.6 510.1 46.8 513.6 44.5 517.7 43.4 521 43.2 524.3 43.8 526.7 45.3 529.2 47.7 531.2 50.9 532.6 54.8 533.4Z" fill="#ffcc00" fill-rule="evenodd"/>
<path d="M52.8 531.8 58.7 532.2 65.1 531.1 70.3 528.6 74.2 525.1 77 520.2 78 513.6 76.8 507.8 74.2 504.5 71.6 503.3 69 502.8 61.9 503.8 54.8 507.3 48.9 512.8 45.5 518.5 44.7 521.8 44.7 524.3 45.5 526.7 47.5 529.2 50.1 530.9 52.8 531.8Z" fill="#ffab00" fill-rule="evenodd"/>
<path d="M55.4 530.9 61.3 530.8 66.4 529.4 70.8 526.7 73.8 523.5 75.9 518.5 76.4 513.6 75.5 509.3 72.9 505.9 70.3 504.7 67.7 504.3 61.3 505.3 54.8 508.7 49.1 514.4 46.4 520.2 46 522.6 46.5 525.1 47.7 527.2 49.6 529 52.2 530.2 55.4 530.9Z" fill="#ff8900" fill-rule="evenodd"/>
<path d="M53.5 529.2 58.7 529.8 63.8 529 68.4 527 71.5 524.3 74 520.2 74.9 515.2 74.4 511.1 72.3 507.7 70.3 506.4 67.7 505.7 62.5 506.1 56.7 508.7 51.5 513.3 48.3 518.5 47.6 523.5 49.6 527.1 53.5 529.2Z" fill="#ff6500" fill-rule="evenodd"/>
<path d="M56.1 528.5 60.6 528.5 64.6 527.6 67.8 525.9 71.2 522.6 73 518.5 73.4 514.4 72.6 511.1 70.3 508.3 65.8 507 61.3 507.8 55.5 511.1 51.5 515.3 49.5 519.3 49.2 523.5 51.6 526.7 56.1 528.5Z" fill="#ff4000" fill-rule="evenodd"/>
<path d="M56.1 526 59.3 526.4 62.8 525.9 65.8 524.7 68.2 522.6 69.8 520.2 70.8 516.9 70.5 513.6 69 511.1 66.4 509.7 62.5 509.8 58.7 511.4 54.8 514.8 52.4 518.5 51.9 521.8 53 524.3 56.1 526Z" fill="#ff1b00" fill-rule="evenodd"/>
<path d="M58 522.9 61.9 523.1 65.5 521 66.6 519.3 67.2 516.9 66.9 515.2 65.8 513.6 63.8 513 61.9 513.3 57.9 516 56.7 517.7 56 520.2 56.5 521.8 58 522.9Z" fill="#ee1100" fill-rule="evenodd"/>
</g>
<clipPath id="h2"><rect x="197.8" y="474.1" width="115.8" height="98.5"/></clipPath>
<g clip-path="url(#h2)">
<rect x="197.8" y="474.1" width="115.8" height="98.5" fill="#0d0bf6" />
<path d="M198.4 572.6 302.5 572.6 309.7 563.9 311.7 563.1 313.6 563.6 313.6 509.2 304.1 496.3 302.3 492.2 301.5 488.1 301.6 484 302.4 479.8 305.7 474.1 197.8 474.1 197.8 572.6 198.4 572.6Z" fill="#1220fb" fill-rule="evenodd"/>
<path d="M198.4 572.6 288.6 572.6 293.9 568.5 296.9 564.4 299.3 558.6 301.1 551.3 301.7 544.7 301.3 527.5 302.1 513.5 301.1 509.4 296 500.4 294.4 495.4 294 487.2 295.3 474.1 197.8 474.1 197.8 572.6 198.4 572.6ZM266.3 516.8 265.4 515.8 265.1 513.5 265.7 511.9 266.6 511.4 267.8 512.7 268 514.3 267.3 516.5 266.3 516.8Z" fill="#193afc" fill-rule="evenodd"/>
<path d="M198.4 572.6 282.3 572.6 288 566.9 291.9 561.1 294 553.7 295 544.7 295.4 526.6 295.2 519.2 294.4 514.3 289.8 503.4 288.4 497.9 288.5 474.1 197.8 474.1 197.8 572.6 198.4 572.6ZM266.3 519.2 264.5 517.6 263.8 513.5 264.7 510.2 266.6 508.8 267.9 509.3 268.7 510.2 269.5 514.3 268.6 517.8 267.3 519.1 266.3 519.2ZM220.7 511.9 219.9 510.2 220.3 507.8 221.6 506.3 222.9 506.2 223.9 506.9 224.7 508.6 224.4 511 222.9 512.4 220.7 511.9ZM222 489.7 220.1 487.2 220 484 221.6 481.7 223.5 481.3 225.6 483.1 225.8 486.4 224.2 489.4 222 489.7Z" fill="#2154fe" fill-rule="evenodd"/>
<path d="M198.4 572.6 277.3 572.6 284.7 563.7 286.8 560.3 288.9 554.5 289.9 547.2 290.3 523.4 289.2 517.6 285 506.9 283.7 501.2 283.5 474.1 197.8 474.1 197.8 572.6 198.4 572.6ZM265.7 520.9 264.7 520.1 263.4 517.6 262.9 512.7 263.5 510.2 264.7 508 266 507 267.3 506.8 269.1 507.8 270.2 509.4 270.9 514.3 270.2 517.6 268.8 520.1 267.3 521.1 265.7 520.9ZM219.9 514.3 217.9 511.9 217.7 507.8 219.7 503.6 221.6 502 222.9 501.9 224.8 503.2 226.1 505.4 226.9 508.6 226.7 511 225.5 513.4 223.5 514.8 221.6 515 219.9 514.3ZM221.4 493.8 219.7 491.9 218.4 489.3 217.9 484 219.7 480.5 221.6 479.5 223.5 479.2 225.5 479.9 227.1 481.5 227.9 484 227.9 486.4 226.8 490.3 224.8 493.2 222.9 494.3 221.4 493.8Z" fill="#286fff" fill-rule="evenodd"/>
<path d="M198.4 572.6 272.5 572.6 283 558.6 284.9 553.7 285.9 548 285.3 523.4 283.9 518.4 280.2 510.2 279.1 505.3 279 474.1 197.8 474.1 197.8 572.6 198.4 572.6ZM265.4 522.5 264.1 521.2 262.7 518.4 262.2 511.9 264.1 506.7 266 505 267.9 504.7 269.9 505.5 271.7 507.8 272.7 511 272.5 514.3 271.4 518.4 269.4 521.7 267.3 523 265.4 522.5ZM220.9 516.8 217.7 514.9 215.9 511 216.3 506.1 219.1 497.9 216.6 489.7 216.2 484.8 217.1 481.5 218.4 479.7 220.8 478.2 223.5 477.9 225.5 478.2 227.4 479.4 229.4 483.1 229.1 488.9 225.9 497.9 228.2 506.1 228.5 509.4 227.7 512.7 226 515.1 223.5 516.7 220.9 516.8Z" fill="#2d8dff" fill-rule="evenodd"/>
<path d="M198.4 572.6 267.8 572.6 277.4 560.3 280.8 554.5 282.3 548 280.4 525.8 279.5 521.8 277.6 518.2 275.6 517.1 274.4 518 269.9 523.9 267.9 524.9 266 524.7 264.1 523.2 262.8 521.1 261.2 514.3 262 508.6 264.1 504.5 267.3 502.2 272.4 501.4 273.6 499.5 274.4 493.8 274.2 474.1 197.8 474.1 197.8 572.6 198.4 572.6ZM220.8 518.4 218.4 517.5 216.6 516 214.5 511.4 214.5 506.9 216.5 497.9 214.9 488.9 214.8 484.8 215.6 481.5 217.1 479 219.7 477.4 223.5 476.7 226.6 477.4 228.7 478.7 230.1 480.7 230.8 483.1 230.6 488.9 228.4 497.9 229.8 509.4 228.8 513.5 226.8 516.4 224.2 518.1 220.8 518.4Z" fill="#33acff" fill-rule="evenodd"/>
<path d="M198.4 572.6 263.1 572.6 274.7 557.8 277.6 552.7 278.6 547.2 278.2 543.1 274.5 528.3 273.1 526.7 267.9 527.7 264.7 526.1 261.9 521.7 260.4 515.1 260.6 510.2 262 505.3 264.1 501.9 268.3 497.1 269.2 494.6 269.5 490.5 268.7 474.1 197.8 474.1 197.8 572.6 198.4 572.6ZM218.4 519.2 214.8 516 213.1 511 213.1 506.9 214.5 497.9 213.5 488.9 213.6 484 215 479.8 217.1 477.5 220.3 476.1 224.8 475.9 227.5 476.6 230 478.2 232 482.3 232.2 488.1 230.2 498.7 231 510.2 229.3 515.1 226.1 518.7 222.2 520.1 218.4 519.2Z" fill="#38cbff" fill-rule="evenodd"/>
<path d="M198.4 572.6 258.3 572.6 263.4 567 271.1 556.2 274.2 549.6 274.4 547.2 273.8 543.9 269.2 534.4 264.1 528.5 262.1 525.3 260.3 520.1 259.5 515.1 259.5 511 260.2 506.9 264.3 497.1 265.3 493 264.1 474.1 197.8 474.1 197.8 572.6 198.4 572.6ZM218.5 520.9 215.8 519.3 214.2 517.6 212.8 515.1 211.9 511.9 211.8 506.9 212.8 497.9 212.2 488.1 212.5 483.1 214 479 216.6 476.6 221 475.2 226.1 475.2 228.7 476 230.9 477.4 232.5 479.6 233.4 482.3 233.5 488.1 231.9 498.7 232.4 506.9 232.1 511 230.2 516 226.8 519.9 222.9 521.5 218.5 520.9Z" fill="#3ce4f7" fill-rule="evenodd"/>
<path d="M198.4 572.6 253.5 572.6 259.6 566.9 263.7 561.1 268.1 552.9 269.2 548 268.3 543.9 264.1 535.2 261.2 527.5 258.5 516 258.6 508.6 261.6 497.1 262.1 493 260.7 474.1 197.8 474.1 197.8 572.6 198.4 572.6ZM218.6 522.5 215.8 521.2 213.2 518.8 211.7 516 210.8 512.7 210.4 507.8 211.3 483.1 213.1 478.2 216 475.7 221 474.4 227.4 474.6 230.6 475.7 232.5 477.1 233.8 479 234.8 482.3 235 487.2 233.6 498.7 233.3 511 231.2 516.8 227.4 521.2 223.5 523 218.6 522.5Z" fill="#3ceedb" fill-rule="evenodd"/>
<path d="M198.4 572.6 248.9 572.6 256.3 566.1 260.2 561.1 263.3 554.5 264.4 548.8 263.7 544.7 259.9 534 257.1 515.1 257.2 508.6 259.5 493.8 257.9 474.1 229.1 474.1 231.9 475 233.9 476.6 235.4 479 236.3 482.3 236.5 488.1 235.3 498.7 234.8 509.4 233 516 230 520.9 226.1 523.9 222.2 524.7 217.1 523.6 212.6 520.4 210.2 516 209.2 510.2 209.6 488.9 210.5 481.5 211.3 479 213 476.6 215.2 475 218.1 474.1 197.8 474.1 197.8 572.6 198.4 572.6Z" fill="#3cf7c0" fill-rule="evenodd"/>
<path d="M198.4 572.6 244.5 572.6 253.8 565 258.1 559.5 260.3 553.7 260.9 548.8 260.2 544.7 257.1 536.5 256.3 532.4 256.4 524.2 255.3 511 257 493.8 255.1 474.1 232.9 474.1 235.1 475.5 236.6 477.4 238.2 483.1 238.2 489.7 236.1 510.2 234.1 516.8 230.6 522.6 227.4 525.4 222.9 526.4 217.1 525.4 212.6 522.8 209.8 519.2 208.2 513.5 207.6 500.4 208.9 483.1 210.8 477.4 212.6 475.3 214.9 474.1 197.8 474.1 197.8 572.6 198.4 572.6Z" fill="#3bff9e" fill-rule="evenodd"/>
<path d="M198.4 572.6 239.9 572.6 251 564.4 255.7 558.6 257.7 553.7 258.2 548.8 257.1 543.9 253.3 535.7 252.7 533.2 253.7 523.4 253.1 510.2 254.3 495.4 252 474.1 236.6 474.1 238.3 475.7 239.6 478.2 240.6 484.8 240.1 493.8 237.6 511 234.7 519.2 231.3 525.2 228 527.6 223.5 528.3 217.1 527.1 212 524.5 208.7 521 207.2 516.8 205.8 502 206.4 491.3 208.6 479 210.2 475.7 212.3 474.1 197.8 474.1 197.8 572.6 198.4 572.6Z" fill="#35fd67" fill-rule="evenodd"/>
<path d="M198.4 572.6 234 572.6 248 564.1 251.2 561.1 254 557 255.7 551.3 255.4 546.3 253.3 541.4 248.6 534.8 247.6 532.4 250.7 521.7 250.4 509.4 250.9 497.1 249.3 487 246.1 479 240.6 508.6 234 527.5 232.5 529 230.6 529.8 223.5 530.1 217.7 529 212.6 527.1 209.3 525 206.8 521.7 205.2 516 203.7 497.9 206.9 479.8 208.1 476.3 209.8 474.1 197.8 474.1 197.8 572.6 198.4 572.6ZM245.4 476.9 246.2 474.1 243.1 474.1 245.4 476.9Z" fill="#30fb2f" fill-rule="evenodd"/>
<path d="M198.4 572.6 223.5 572.6 233.2 569.7 242.2 565.6 248 561.6 251.6 557 253.5 551.3 253.3 547.2 251.7 543.1 249.1 539.8 245.4 537 236.4 533.8 221.6 531.4 213.9 529.5 207.7 526.6 204.5 523.4 203.2 519.2 201.7 507.9 199.4 500.4 205.9 477.4 207.2 474.1 197.8 474.1 197.8 498.7 198.5 502 197.8 511.1 197.8 572.6 198.4 572.6ZM240.9 524.4 242.2 524.9 244.1 524.3 246.1 521.7 246.4 516.8 245.7 514.3 244.8 513.4 242.8 514.7 240.5 519.2 239.9 522.5 240.9 524.4Z" fill="#46fb10" fill-rule="evenodd"/>
<path d="M202.9 571.8 212.6 572 222.2 570.6 232.5 567.9 241.5 564 246.7 560.2 250.2 555.4 251.5 549.6 250.2 544.7 246.7 540.6 240.9 537.7 231.9 535.1 212.4 530.7 201 526.7 199.1 526.8 197.8 527.9 197.8 571 202.9 571.8ZM199.1 485.8 200.4 485.9 201.7 484.1 204.4 474.1 197.8 474.1 197.8 483.2 199.1 485.8Z" fill="#78fd09" fill-rule="evenodd"/>
<path d="M201 570.2 209.4 570.6 219 569.5 231.3 566.6 239.6 563.2 245 559.5 248.1 555.4 249.5 550.4 249.3 548 248.4 545.5 246.1 542.6 243 540.6 232.5 536.9 206.2 531.2 202.3 531 199.1 531.8 197.8 532.6 197.8 569.5 201 570.2ZM199.1 476.8 200.3 475.7 200.7 474.1 197.8 474.1 197.8 476.2 199.1 476.8Z" fill="#a9ff02" fill-rule="evenodd"/>
<path d="M199.7 568.6 207.5 569.2 216.5 568.5 227.4 566.2 236.4 563.1 241.5 560.2 245.5 556.2 247.5 551.3 247 547.2 244.8 543.9 241.5 541.7 236.4 539.5 228 537 207.5 533.3 202.3 533.4 198.4 534.6 197.8 534.9 197.8 568.2 199.7 568.6Z" fill="#cdfd00" fill-rule="evenodd"/>
<path d="M203.6 567.7 211.3 567.7 219.7 566.5 229.3 564.2 236.4 561.5 240.9 558.6 244.1 555.1 245.6 551.3 245 547.2 242.8 544.5 239 542 232.5 539.6 224.8 537.5 208.1 534.9 202.9 535.2 197.8 536.6 197.8 566.8 203.6 567.7Z" fill="#ecfb00" fill-rule="evenodd"/>
<path d="M201 566.1 208.1 566.5 216.5 565.8 226.1 563.8 233.8 561.2 238.4 558.6 241.8 555.4 243.6 551.3 243.3 548 241.5 545.5 237.7 542.9 231.9 540.6 224.2 538.4 208.7 536.3 202.9 536.7 197.8 538 197.8 565.5 201 566.1Z" fill="#ffed00" fill-rule="evenodd"/>
<path d="M206.8 565.2 213.9 564.8 221.6 563.5 228.7 561.7 234.2 559.5 238 557 240.8 553.7 241.7 550.4 241.2 548 239.1 545.5 235.1 543.1 229.3 540.9 222.2 539.1 208.7 537.6 203.6 538 197.8 539.3 197.8 564.2 206.8 565.2Z" fill="#ffcc00" fill-rule="evenodd"/>
<path d="M202.3 563.6 208.7 563.9 215.8 563.3 223.5 561.8 230 559.8 234.5 557.6 237.7 555 239.4 552.1 239.4 548.8 237.7 546.3 233.9 543.9 228.7 541.8 222.2 540.2 209.4 538.9 203.6 539.4 197.8 540.6 197.8 562.9 202.3 563.6Z" fill="#ffab00" fill-rule="evenodd"/>
<path d="M200.4 562 206.8 562.5 213.2 562.3 220.9 561.1 227.4 559.4 232.5 557 235.7 554.5 237.4 551.3 237.2 548.8 235.2 546.3 231.9 544.3 226.8 542.4 221 541 208.7 540.2 197.8 541.8 197.8 561.5 200.4 562Z" fill="#ff8900" fill-rule="evenodd"/>
<path d="M199.7 560.4 205.5 561 212 561 218.4 560.2 224.8 558.7 229.4 557 233.1 554.5 234.9 552.1 235.1 549.6 233.6 547.2 231.2 545.5 226.8 543.6 221 542.2 209.4 541.4 197.8 543.1 197.8 560 199.7 560.4Z" fill="#ff6500" fill-rule="evenodd"/>
<path d="M206.2 559.5 217.1 559 225.4 557 231.1 553.7 232.5 551.5 232.6 549.6 230.8 547.2 228 545.5 218.7 543.1 208.7 542.8 197.8 544.5 197.8 558.4 206.2 559.5Z" fill="#ff4000" fill-rule="evenodd"/>
<path d="M204.2 556.2 213.2 556.6 221.1 555.4 226.2 552.9 227.5 551.3 227.5 549.6 226.2 548 223.5 546.6 216.5 545.2 208.1 545.4 197.8 547.4 197.8 555 204.2 556.2Z" fill="#ff1b00" fill-rule="evenodd"/>
</g>
<clipPath id="h3"><rect x="370" y="474.1" width="116" height="98.5"/></clipPath>
<g clip-path="url(#h3)">
<rect x="370" y="474.1" width="116" height="98.5" fill="#0d0bf6" />
<path d="M370.6 572.6 456.4 572.6 464.7 569.4 468.6 566.9 472.2 562.8 478.8 552.9 480.5 549.6 481.2 546.3 479.8 535.7 481.3 523.4 478 512.7 477.5 509.4 478.2 495.4 477 490.4 472.7 482.3 472.1 479.8 472.6 477.4 474.7 474.1 370 474.1 370 572.6 370.6 572.6ZM448.2 540.6 445.6 538.1 445 536.5 445.1 534 447.3 531.1 449.3 530.4 451.2 530.5 453.1 531.5 454.4 533.2 455 534.8 454.8 537.3 453.8 539.1 451.9 540.6 449.9 541 448.2 540.6ZM389.6 509.4 390 508.3 390.4 509.4 390 509.9 389.6 509.4Z" fill="#1220fb" fill-rule="evenodd"/>
<path d="M370.6 572.6 447.9 572.6 452.5 568.3 460.2 564.3 464.1 561.1 468.4 554.5 471.2 547.2 471.2 525.8 470.5 521.7 467.6 511.9 466.6 502 465.8 498.7 464 495.4 458.2 488.1 456 483.1 455.2 478.2 456.2 474.1 370 474.1 370 572.6 370.6 572.6ZM449.6 543.1 446.7 541.8 444.8 539.8 443.7 537.3 443.5 534.8 444.1 532.4 446 529.8 448.6 528.4 451.2 528.2 453.8 529 456 530.7 457.4 533.2 457.7 536.5 457 538.9 455.1 541.5 452.5 542.9 449.6 543.1ZM389.1 510.2 388.9 508.6 390 507.1 391.1 508.6 390.9 510.2 390 511 389.1 510.2Z" fill="#193afc" fill-rule="evenodd"/>
<path d="M370.6 572.6 442.7 572.6 449.3 563.9 458 555.4 459.6 552.9 460.9 549.6 461.1 547.2 460.6 545.5 458.9 545.1 453.1 546.2 448.6 545.2 444.7 542.2 443.1 539.8 442.3 537.3 442.1 534.8 442.8 531.7 444.1 529.4 446 527.5 448.6 526.1 451.8 525.4 459.6 526.2 460.8 525 461 523.4 460.2 518.4 456.5 505.3 450.6 492.5 447.7 484.8 446.2 479 445.6 474.1 370 474.1 370 572.6 370.6 572.6ZM388.9 511 388.6 507.8 390 506.4 391.4 507.8 391.4 510.2 390 511.7 388.9 511Z" fill="#2154fe" fill-rule="evenodd"/>
<path d="M370.6 572.6 438.5 572.6 441.3 569.3 447.6 557.8 449.4 552.1 448.7 549.6 444.1 544.2 441.9 540.6 440.9 537.3 440.9 533.2 442 529.9 443.5 527.4 450 520.9 450.8 519.2 451.1 516.8 449 506.9 440.4 482.3 439.5 474.1 370 474.1 370 572.6 370.6 572.6ZM389 511.9 388 508.6 388.7 506.6 390 505.8 391.5 506.9 391.8 510.2 390.6 512.2 389 511.9Z" fill="#286fff" fill-rule="evenodd"/>
<path d="M370.6 572.6 435 572.6 439 567.8 442.7 560.3 444.6 553.7 444.4 549.6 440.3 540.6 439.4 534.8 440.5 529.1 444.7 520.1 445.2 515.1 443.3 504.5 436.3 483.1 435.1 474.1 370 474.1 370 572.6 370.6 572.6ZM389.2 512.7 388 511 387.7 508.6 388.5 506.1 390 505.2 391.3 505.9 391.9 506.9 392.3 509.4 391.3 512.2 390 512.9 389.2 512.7Z" fill="#2d8dff" fill-rule="evenodd"/>
<path d="M370.6 572.6 431.8 572.6 436.6 566.9 439.6 560.3 441.4 552.9 441.2 548.8 438.4 539.8 437.9 534.8 438.4 529.9 440.8 520.1 441 513.5 439.6 504.5 433.8 485.6 431.4 474.1 370 474.1 370 572.6 370.6 572.6ZM388.5 512.7 387.5 510.2 387.5 507.8 388.6 505.3 390 504.6 391.9 506.1 392.5 510.2 391.9 512 390.6 513.3 389.3 513.3 388.5 512.7Z" fill="#33acff" fill-rule="evenodd"/>
<path d="M370.6 572.6 428.7 572.6 434.2 566 437.1 559.5 438.5 552.1 438.4 548 436.2 534.8 437.8 519.2 437.8 512.7 436.1 502.8 428.2 474.1 370 474.1 370 572.6 370.6 572.6ZM388.7 513.5 387.3 511 387.1 507.8 388 505.3 390 504.1 391.3 504.6 392.3 506.1 392.9 510.2 391.3 513.5 390 514 388.7 513.5Z" fill="#38cbff" fill-rule="evenodd"/>
<path d="M370.6 572.6 425.6 572.6 429.5 568.5 432.3 564.4 434.9 557.8 435.8 551.3 434.4 534.8 435 511.9 433.3 502 427 479 425.2 474.1 370 474.1 370 572.6 370.6 572.6ZM389.2 514.3 387.4 512.4 386.7 508.6 387.6 505.3 388.7 503.9 390 503.5 391.3 504 392.4 505.3 393.3 509.4 391.9 513.4 390.6 514.4 389.2 514.3Z" fill="#3ce4f7" fill-rule="evenodd"/>
<path d="M370.6 572.6 422.4 572.6 427.1 567.7 429.9 563.6 432.1 557.8 433.2 550.4 432.5 534 432.6 511 431.4 503.7 425.9 483.1 424.1 477.8 422.3 474.1 370 474.1 370 572.6 370.6 572.6ZM388.2 514.3 386.5 511 386.5 506.9 388 503.8 389.3 503 390.6 503 391.9 503.9 393.1 506.1 393.4 511 392.6 513.3 391.3 514.6 390 515 388.2 514.3Z" fill="#3ceedb" fill-rule="evenodd"/>
<path d="M370.6 572.6 418.7 572.6 424.5 566.9 427.8 561.9 429.8 556.2 430.7 549.6 430.5 511 429.1 503.7 423.6 483.1 421.8 478.2 419.3 474.1 370 474.1 370 572.6 370.6 572.6ZM388.5 515.1 386.3 511.9 386 507.8 387.4 503.8 388.7 502.6 390 502.3 391.3 502.7 392.9 504.5 393.8 506.9 394 510.2 393.4 512.7 391.9 514.8 390 515.6 388.5 515.1Z" fill="#3cf7c0" fill-rule="evenodd"/>
<path d="M370.6 572.6 414.2 572.6 415.5 571 422.2 565.3 425.6 560.3 427.3 555.4 428.2 548.8 428.4 511 427.1 504.5 421.5 484 419.1 478.2 416.3 474.1 370 474.1 370 572.6 370.6 572.6ZM388.7 516 387.4 515 386.1 512.7 385.5 507.8 386.8 503.7 388 502.2 390 501.5 391.9 502.3 393.5 504.5 394.3 506.9 394.4 510.2 393.5 513.5 392.3 515.1 390.6 516.2 388.7 516Z" fill="#3bff9e" fill-rule="evenodd"/>
<path d="M370.6 572.6 408.4 572.6 408.5 571 409.3 570.1 416.4 566.2 419.9 563.6 422 561.1 423.8 557.8 425.3 552.9 426 547.2 426.6 517.6 426.3 511 425.1 505.3 419 484.2 416.6 479 412.9 474.1 370 474.1 370 572.6 370.6 572.6ZM388.9 516.8 387.4 515.9 385.7 513.5 384.9 507.8 385.6 504.5 386.8 502.4 388 501.2 390 500.6 391.9 501.4 393.7 503.6 394.9 506.9 395 510.2 394.2 513.5 392.6 515.8 390.6 516.9 388.9 516.8Z" fill="#35fd67" fill-rule="evenodd"/>
<path d="M370.6 572.6 399.6 572.6 397 571 397.3 570.1 401 568.5 410.6 565.7 415.1 563.7 419.2 560.3 422.1 555.4 423.2 551.3 423.8 545.5 424.4 516.8 423.9 510.2 416.2 484.8 413.2 479.3 408.5 474.1 370 474.1 370 572.6 370.6 572.6ZM388.8 517.6 386.8 516.5 385.2 514.3 384.3 511.9 384 507.8 384.6 504.5 386.1 501.5 388 499.8 390 499.4 392.6 500.6 394.3 502.8 395.5 506.1 395.8 510.2 395 513.5 393.5 516 391.3 517.5 388.8 517.6Z" fill="#30fb2f" fill-rule="evenodd"/>
<path d="M380.3 572.6 382.7 572.6 380 572.6 380.3 572.6ZM376.4 570.2 381 570.3 407.4 564.2 413.8 561.5 417.7 558.2 420.3 553.6 421.6 547.2 421.4 528.3 421.9 514.3 420.6 506.9 414.5 489.3 411.9 484.2 409.3 481.3 406.1 479.7 403.5 479.8 401.6 480.9 396.8 485.6 393.8 487.7 389.3 489.6 385.5 490.2 384.2 489.7 383.2 488.1 381.6 475.1 371.3 474.7 370.4 474.9 370.2 475.7 370 497.5 371.2 495.4 377.7 494.2 380.3 494.6 382.9 497.4 387.4 496.4 390 496.6 392.6 498.2 394.9 501.2 396.7 505.3 397.4 508.6 396.9 512.7 394.5 516.4 391.3 518.5 388 518.4 385.3 516.8 382.6 513.5 381.5 510.2 380.3 503.7 379 501.3 375.8 499.8 370.6 499 370 511.3 370 568.5 376.4 570.2ZM383.5 474.2 395.6 474.1 383.1 474.1 383.5 474.2Z" fill="#46fb10" fill-rule="evenodd"/>
<path d="M375.2 566.9 386.1 566.3 399.6 564.1 406.7 562.4 410.6 560.8 414.1 558.6 416.4 556.2 418.2 552.9 419.4 548.8 419.8 543.9 418 525 418.4 511 417 506.1 411.9 494.2 410 490.9 408 489.2 406.1 488.8 403.5 489.8 400.9 492.2 398.8 495.4 398.5 498.7 400.9 505.4 401.7 509.4 401.3 512.7 399.6 515.2 393.8 518.7 390.6 519.8 382.9 519 370 520.6 370 566.2 375.2 566.9Z" fill="#78fd09" fill-rule="evenodd"/>
<path d="M370.6 564.5 382.2 564.8 400.3 562.3 409.1 559.5 411.9 557.8 414.4 555.4 416.4 552.1 417.6 548 417.5 538.9 414.9 529.1 409.3 518.7 408 518.4 390.6 521.3 370 523.3 370 564.4 370.6 564.5ZM409.3 515.5 410.6 515.8 411.9 514.4 412.7 511 411.2 507.1 409.3 505.7 408.3 506.9 408.1 509.4 409.3 515.5Z" fill="#a9ff02" fill-rule="evenodd"/>
<path d="M370.6 562.9 381.6 563.3 395.8 561.7 404.8 559.5 410.9 556.2 413.2 553.8 414.7 551.3 415.7 548 416 544.7 415.7 540.6 414.5 535.7 412.7 531.6 410.6 528.6 405.4 524.5 399 522.7 393.8 522.6 370 525.1 370 562.8 370.6 562.9Z" fill="#cdfd00" fill-rule="evenodd"/>
<path d="M370.6 561.4 381.6 561.8 393.8 560.7 402.9 558.6 408.7 555.8 412.7 551.3 414.2 545.5 413.2 538.5 410.1 532.4 404.8 527.4 401.6 525.8 397.7 524.8 390.6 524.6 370 526.7 370 561.4 370.6 561.4Z" fill="#ecfb00" fill-rule="evenodd"/>
<path d="M374.5 560.3 384.8 560.3 395.1 559.2 402.2 557.4 407.6 554.5 411.1 550.4 412.4 545.5 411.3 538.9 408 533.3 405.4 530.7 402.2 528.5 395.8 526.4 389.3 526.3 370 528.2 370 560 374.5 560.3Z" fill="#ffed00" fill-rule="evenodd"/>
<path d="M370.6 558.6 381 559.1 390.6 558.6 398.4 557.3 404.2 555 407.8 552.1 410.2 548 410.4 543.1 408.4 537.3 406 534 402.9 531.2 399.6 529.3 395.8 528.2 388.7 527.8 370 529.6 370 558.6 370.6 558.6Z" fill="#ffcc00" fill-rule="evenodd"/>
<path d="M379.7 557.8 388.7 557.6 395.8 556.6 401.6 554.7 405.5 552.1 408.3 548 408.7 543.9 407.2 538.9 404.2 534.8 399 531 393.2 529.4 386.8 529.4 370 530.9 370 557.2 379.7 557.8Z" fill="#ffab00" fill-rule="evenodd"/>
<path d="M374.5 556.2 382.9 556.6 390.6 556.2 396.4 555.1 400.9 553.4 404.2 551.2 406.3 548 406.8 543.9 405.5 539.8 403.5 536.7 400.9 534.3 397.8 532.4 394.5 531.3 386.8 530.7 370 532.3 370 555.8 374.5 556.2Z" fill="#ff8900" fill-rule="evenodd"/>
<path d="M371.9 554.5 387.4 555.2 393.3 554.5 398.4 553.1 402.2 550.7 404.3 548 404.9 544.7 404.2 541.4 402.3 538.1 399.8 535.7 396.4 533.6 393.2 532.6 385.5 532.2 370 533.8 370 554.4 371.9 554.5Z" fill="#ff6500" fill-rule="evenodd"/>
<path d="M379.7 553.8 389.7 553.7 394.5 552.9 398.6 551.3 401.6 548.8 402.7 546.3 402.8 543.9 401.7 540.6 397.7 536.4 394.8 534.8 391.3 533.9 382.9 533.8 370 535.3 370 552.8 379.7 553.8Z" fill="#ff4000" fill-rule="evenodd"/>
<path d="M381.6 551.3 390 551.2 395.8 549.5 397.8 548 398.8 546.3 399 543.9 398 541.4 394.3 538.1 388 536.4 380.3 536.7 370 538.7 370 549.6 381.6 551.3Z" fill="#ff1b00" fill-rule="evenodd"/>
<path d="M382.9 547.2 389.4 547.2 391.9 545.6 392.2 543.9 390 541.7 386.1 540.8 381 541.4 378 543.1 377.7 544.7 378.5 545.5 382.9 547.2Z" fill="#ee1100" fill-rule="evenodd"/>
</g>
<clipPath id="h4"><rect x="539.1" y="474.1" width="115.9" height="98.5"/></clipPath>
<g clip-path="url(#h4)">
<rect x="539.1" y="474.1" width="115.9" height="98.5" fill="#0d0bf6" />
<path d="M539.7 572.6 649.4 572.6 649.7 570.1 651.1 567.1 653.1 565 655 564.4 655 544.1 652.7 537.3 647.7 529.1 638.9 519.3 633.1 515.4 622.2 510.7 619.3 508.6 617.1 506.1 614.4 501.1 610.6 491 608.2 482.3 606.7 474.1 539.1 474.1 539.1 572.6 539.7 572.6ZM566.8 509.4 566.6 506.9 567.4 505.9 568.1 506.7 568.2 508.6 567.4 509.9 566.8 509.4Z" fill="#1220fb" fill-rule="evenodd"/>
<path d="M539.7 572.6 634.2 572.6 637 569.7 640.1 565.2 644.9 556.2 647 549.6 647 543.1 645.1 536.5 640.8 529.7 634.4 523.6 629.2 520.8 617.2 516.8 614.4 515 611.9 512.2 608.4 504.5 602.5 480.7 600.2 474.1 539.1 474.1 539.1 572.6 539.7 572.6ZM566.4 511 565.6 506.9 566.1 504.8 567.4 503.8 568.7 505.4 569 509.4 568.1 511.4 567.4 511.7 566.4 511Z" fill="#193afc" fill-rule="evenodd"/>
<path d="M539.7 572.6 624 572.6 631.8 566.1 636.5 559.5 639.5 552.9 640.9 547.2 640.8 541.4 639.3 536.5 636 531.6 631.8 527.9 627.3 525.7 614.4 521.9 610.6 519.3 608 516.4 606 512.7 604.5 507.8 599.1 481.5 595.8 474.1 539.1 474.1 539.1 572.6 539.7 572.6ZM566.6 512.7 565.3 510.2 564.9 506.9 565.6 503.7 566.1 502.8 567.4 502.2 569.2 504.5 569.7 508.6 568.7 512.1 567.4 513 566.6 512.7Z" fill="#2154fe" fill-rule="evenodd"/>
<path d="M539.7 572.6 617.1 572.6 628 562.8 632.1 557 634.2 552.1 635.4 547.2 635.4 542.2 634.2 538.1 632.2 534.8 629.2 532.3 613.1 526.1 608 522.7 604.8 519 602.8 515.1 601.1 509.4 596.6 483.1 594.7 478.2 592.2 474.1 570.9 474.1 568.1 477 566.1 477.7 564.2 476.7 562.5 474.1 539.1 474.1 539.1 572.6 539.7 572.6ZM566.1 513.5 564.6 510.2 564.4 506.1 565.5 501.8 566.1 501 567.4 500.6 568.7 501.6 569.7 503.7 570.2 509.4 568.7 513.5 567.4 514.1 566.1 513.5Z" fill="#286fff" fill-rule="evenodd"/>
<path d="M539.7 572.6 612.2 572.6 615.4 568.5 624.2 560.3 628 554.9 629.6 550.4 630.2 546.3 629.7 542.2 628 538.9 624.7 536.1 615.1 531.4 608 526.8 603.5 522.7 600.8 518.4 597.9 509.4 595.7 492.2 594.2 484.8 592.1 479 589 474.1 573.3 474.1 568.7 480.5 566.1 482.1 564.9 481.7 563.6 480.2 560.8 474.1 539.1 474.1 539.1 572.6 539.7 572.6ZM567.2 515.1 566.1 514.7 564.9 512.9 563.7 507.8 564.4 502 565.5 499.6 566.8 498.7 568.1 499.1 569.4 500.7 570.8 506.9 570 512.7 568.7 514.7 567.2 515.1Z" fill="#2d8dff" fill-rule="evenodd"/>
<path d="M539.7 572.6 608 572.6 611.9 567.4 620.4 558.6 623.6 553.7 625 548 624.6 544.7 623.4 542.2 620.1 538.9 603.6 526.6 600.3 522.8 597.7 518.4 594.9 509.4 593.2 493 591.8 485.6 589.2 479 585.6 474.1 575.9 474.1 568.7 485.6 566.1 488.1 564.9 487.7 562.9 484.6 559.5 474.1 539.1 474.1 539.1 572.6 539.7 572.6ZM566.5 516 564.1 512.7 563.1 506.1 564.2 499.1 565.5 496.4 566.8 495.7 568.7 497.3 570 499.7 571.1 503.7 571.5 507.8 571 511.9 570 514.3 568.1 516.1 566.5 516Z" fill="#33acff" fill-rule="evenodd"/>
<path d="M539.7 572.6 604.2 572.6 608.4 566.9 617 557 619.4 552.9 620.3 548 619.7 545.5 618.2 543.1 615.2 539.8 600.9 527.2 597.6 523.4 594.7 518.4 592.1 510.2 590.7 493.8 589.3 486.4 586.4 479.8 584.2 477 582.2 475.6 579.7 475.1 577.1 476.8 573.9 481.7 570.5 488.9 569.7 493.8 571.8 502.8 572.1 509.4 570.5 515.1 569 516.8 567.4 517.3 566.1 516.9 564.5 515.1 562.7 510.2 562.3 505.3 562.9 493.8 558.3 474.1 539.1 474.1 539.1 572.6 539.7 572.6Z" fill="#38cbff" fill-rule="evenodd"/>
<path d="M539.7 572.6 600.5 572.6 612.1 557.8 614.7 553.7 615.9 548.8 615.4 546.3 614.2 543.9 610.8 539.8 596.6 525.8 593.5 521.7 590.9 516.8 589 510.2 588.3 496.3 587.3 489.7 584.8 483.3 581.6 480.1 579.7 479.9 577.7 481 575.6 484 573.3 488.9 572 494.6 573 505.3 572.7 511 570.7 516.5 569.4 517.8 567.4 518.4 565.6 517.6 564.2 516.1 562.1 511 561.3 506.1 560.7 494.6 557.2 474.1 539.1 474.1 539.1 572.6 539.7 572.6Z" fill="#3ce4f7" fill-rule="evenodd"/>
<path d="M539.7 572.6 596.9 572.6 608.9 557 610.8 553.7 611.8 550.4 611.4 546.3 609 542.2 592.8 525 587.7 517.6 585.6 511 585.5 498.7 584.8 493 583 488.1 581 486.1 579 486.1 577.7 487.1 575 493 574.2 497.9 574.3 509.4 572.4 516 570.5 518.4 568.1 519.6 565.5 518.8 563.6 516.8 561.5 512.7 560.2 507.8 556.1 474.1 539.1 474.1 539.1 572.6 539.7 572.6Z" fill="#3ceedb" fill-rule="evenodd"/>
<path d="M539.7 572.6 593 572.6 597.7 567.9 603.2 560.3 606.7 554.5 608 550.4 608 548 607.3 545.5 604.3 540.6 599.1 534.8 585.8 521.7 579 513 577.7 513.3 573 518.4 569.4 520.8 567.4 520.9 565.5 520.2 562.3 516.8 559.8 511.9 558.4 506.9 555.1 474.1 539.1 474.1 539.1 572.6 539.7 572.6ZM579 503 579.7 502.7 580 501.2 579.7 498.2 579 498.4 578.6 499.5 579 503Z" fill="#3cf7c0" fill-rule="evenodd"/>
<path d="M539.7 572.6 588.9 572.6 593.9 568.5 598.3 563 602.9 555.4 604.5 550.4 604.1 546.3 601.5 541.4 596.7 535.7 590 529.5 582.9 524.5 577.7 521.9 574.5 521.6 568.7 522.5 566.1 522 563.4 520.1 560 516 557.8 511.9 556.7 506.9 554.1 474.1 539.1 474.1 539.1 572.6 539.7 572.6Z" fill="#3bff9e" fill-rule="evenodd"/>
<path d="M539.7 572.6 584 572.6 590.1 568.5 594.5 564.1 598.9 557 601 551.3 600.9 547.2 599.2 543.1 595.6 538.1 591.3 533.9 585.5 530.1 577.7 526.4 565.5 523.2 561.3 520.1 557.8 515.9 555.9 511.9 554.9 506.9 553 474.1 539.1 474.1 539.1 572.6 539.7 572.6Z" fill="#35fd67" fill-rule="evenodd"/>
<path d="M539.7 572.6 577.6 572.6 586.7 567.7 591.3 563.9 595.4 557.8 597.7 551.3 597.7 548 596.3 543.9 593.8 540.2 590.6 537 582.9 532.3 564.2 524.2 558.9 520.1 555.8 516.3 554.3 512.7 553.3 507.8 552 474.1 539.1 474.1 539.1 572.6 539.7 572.6Z" fill="#30fb2f" fill-rule="evenodd"/>
<path d="M539.7 572.6 564.8 572.6 564.3 571.8 565.5 570.8 576.4 568.8 581 567.4 586.1 564.7 590 561.1 593 556.2 594.4 551.3 594.2 548 593.5 545.5 591.6 542.2 589.3 539.8 584.2 536.3 562.7 525 557.3 520.9 554 516.8 552.3 512.7 551.6 507.8 550.8 474.1 539.1 474.1 539.1 572.6 539.7 572.6Z" fill="#46fb10" fill-rule="evenodd"/>
<path d="M539.7 570.5 548.1 570.6 561 567.7 573.9 566.1 579.7 564.7 584.2 562.3 587.3 559.5 589.9 555.4 590.9 551.3 590.1 546.3 586.5 541.4 581.9 538.1 558.9 524.2 555 520.9 551.9 516.8 550.4 512.7 549.7 507.8 549.6 474.1 539.1 474.1 539.1 570.5 539.7 570.5Z" fill="#78fd09" fill-rule="evenodd"/>
<path d="M539.7 568.5 545.5 568.1 570.7 564.2 577.1 562.7 581 560.8 584.2 558.1 586.4 554.5 587.2 551.3 587.1 548.8 586.2 546.3 582.9 542.2 574.5 536 556.4 524.2 552.7 520.9 549.7 516.8 548.2 512.7 547.6 507.8 548.2 474.1 539.1 474.1 539.1 568.5 539.7 568.5Z" fill="#a9ff02" fill-rule="evenodd"/>
<path d="M539.7 566.7 566.8 562.8 574.1 561.1 577.7 559.4 580.7 557 582.5 554.5 583.5 551.3 582.9 547.2 579.2 542.2 572.2 536.5 552.9 523.4 549.6 520.1 546.9 516 545.3 511.9 544.7 506.9 545.4 497.1 545.4 482.3 546.4 474.1 540.5 474.1 540.6 484 539.1 507.4 539.1 566.8 539.7 566.7Z" fill="#cdfd00" fill-rule="evenodd"/>
<path d="M539.7 565 562.9 561.8 571.3 559.9 574.5 558.4 577.5 556.2 579.3 553.7 580.2 550.4 579.9 548 578.8 545.5 574.6 540.6 568.7 535.9 550.5 523.4 542.3 514.7 540.4 513.9 539.1 514.3 539.1 565 539.7 565Z" fill="#ecfb00" fill-rule="evenodd"/>
<path d="M539.7 563.3 560.3 560.7 569.2 558.6 572.6 557 575.2 554.9 576.8 552.1 577.3 549.6 576.9 547.2 575.6 544.7 570.2 538.9 542.3 519.1 539.1 518.1 539.1 563.3 539.7 563.3Z" fill="#ffed00" fill-rule="evenodd"/>
<path d="M539.7 561.6 557.1 559.8 566.8 557.7 570.1 556.2 573 553.7 574.4 551.3 574.7 548.8 574.1 546.3 572.7 543.9 566.8 538.1 552 527.8 543 522.5 539.1 521.2 539.1 561.6 539.7 561.6Z" fill="#ffcc00" fill-rule="evenodd"/>
<path d="M539.7 559.9 555.2 558.7 564.9 556.7 570.1 553.7 571.9 551.3 572.4 548.8 571.9 546.3 569.9 543.1 561.4 535.7 548.1 527.2 543 524.8 539.1 523.9 539.1 559.9 539.7 559.9Z" fill="#ffab00" fill-rule="evenodd"/>
<path d="M539.7 558.2 553.9 557.5 563.8 555.4 566.9 553.7 569.3 551.3 570.1 548.8 569.7 546.3 568.3 543.9 565.3 540.6 555.2 532.9 545.5 527.7 539.1 526.3 539.1 558.2 539.7 558.2Z" fill="#ff8900" fill-rule="evenodd"/>
<path d="M539.7 556.4 552 556.2 561.6 554.4 564.8 552.9 566.6 551.3 567.7 548.8 567.5 546.3 566.1 543.9 563.1 540.6 553.3 533.2 544.9 529.3 541.7 528.6 539.1 528.7 539.1 556.3 539.7 556.4Z" fill="#ff6500" fill-rule="evenodd"/>
<path d="M541 554.6 551.3 554.8 559.7 553.3 562.4 552.1 564.3 550.4 565.2 548.8 565.1 546.3 563.8 543.9 561.6 541.4 552.6 534.5 545.5 531.2 542.3 530.7 539.7 530.9 539.1 531.2 539.1 554.3 541 554.6Z" fill="#ff4000" fill-rule="evenodd"/>
<path d="M546.8 552.1 553.3 551.8 557.9 550.4 560.5 548 560.4 545.5 557.3 541.4 550.8 536.5 545.5 534.4 541.7 534.4 539.1 536 539.1 550.1 542.3 551.5 546.8 552.1Z" fill="#ff1b00" fill-rule="evenodd"/>
<path d="M545.5 547.3 548.8 547.7 551.5 547.2 552.9 545.5 552.6 543.9 551.3 542.2 548.8 540.4 546.2 539.6 544.1 539.8 542.3 541.4 542 543.9 543 545.7 545.5 547.3Z" fill="#ee1100" fill-rule="evenodd"/>
</g>
<text x="4.4" y="479.2" font-size="14.5" font-weight="bold" fill="#000">j</text>
<defs><linearGradient id="cbg" x1="0" y1="1" x2="0" y2="0"><stop offset="0.0" stop-color="#280082"/><stop offset="0.08" stop-color="#1400d2"/><stop offset="0.18" stop-color="#0f14fa"/><stop offset="0.28" stop-color="#1e5aff"/><stop offset="0.35" stop-color="#32aaff"/><stop offset="0.41" stop-color="#3cebff"/><stop offset="0.48" stop-color="#50ffa0"/><stop offset="0.56" stop-color="#3cfa14"/><stop offset="0.64" stop-color="#beff00"/><stop offset="0.7" stop-color="#fff500"/><stop offset="0.78" stop-color="#ff9600"/><stop offset="0.87" stop-color="#ff1e00"/><stop offset="0.94" stop-color="#c80000"/><stop offset="1.0" stop-color="#820000"/></linearGradient></defs>
<rect x="142.8" y="474.1" width="1.8" height="98.7" fill="#A8A8A8" />
<rect x="144.6" y="474.1" width="12.2" height="98.7" fill="url(#cbg)" stroke="#888" stroke-width="0.5" />
<line x1="156.8" y1="474.1" x2="158" y2="474.1" stroke="#555" stroke-width="0.5" />
<text x="158.8" y="475.6" font-size="4.3" fill="#333">0.0178</text>
<line x1="156.8" y1="498.8" x2="158" y2="498.8" stroke="#555" stroke-width="0.5" />
<text x="158.8" y="500.3" font-size="4.3" fill="#333">0.0133</text>
<line x1="156.8" y1="523.5" x2="158" y2="523.5" stroke="#555" stroke-width="0.5" />
<text x="158.8" y="525" font-size="4.3" fill="#333">0.0089</text>
<line x1="156.8" y1="548.1" x2="158" y2="548.1" stroke="#555" stroke-width="0.5" />
<text x="158.8" y="549.7" font-size="4.3" fill="#333">0.0044</text>
<line x1="156.8" y1="572.8" x2="158" y2="572.8" stroke="#555" stroke-width="0.5" />
<text x="158.8" y="574.3" font-size="4.3" fill="#333">0.0000</text>
<text x="0" y="0" font-size="6.6" text-anchor="middle" fill="#333" transform="translate(148.3 523.5) rotate(90)">Intensity (arb. units)</text>
<line x1="26.3" y1="473.7" x2="26.3" y2="573.2" stroke="#333" stroke-width="0.9" />
<line x1="26.3" y1="572.8" x2="142.8" y2="572.8" stroke="#333" stroke-width="0.9" />
<line x1="26.3" y1="474.1" x2="142.8" y2="474.1" stroke="#555" stroke-width="0.7" />
<line x1="26.3" y1="572.8" x2="24.5" y2="572.8" stroke="#333" stroke-width="0.8" />
<line x1="26.3" y1="560.5" x2="25.2" y2="560.5" stroke="#333" stroke-width="0.8" />
<line x1="26.3" y1="548.1" x2="24.5" y2="548.1" stroke="#333" stroke-width="0.8" />
<line x1="26.3" y1="535.8" x2="25.2" y2="535.8" stroke="#333" stroke-width="0.8" />
<line x1="26.3" y1="523.5" x2="24.5" y2="523.5" stroke="#333" stroke-width="0.8" />
<line x1="26.3" y1="511.1" x2="25.2" y2="511.1" stroke="#333" stroke-width="0.8" />
<line x1="26.3" y1="498.8" x2="24.5" y2="498.8" stroke="#333" stroke-width="0.8" />
<line x1="26.3" y1="486.4" x2="25.2" y2="486.4" stroke="#333" stroke-width="0.8" />
<line x1="26.3" y1="474.1" x2="24.5" y2="474.1" stroke="#333" stroke-width="0.8" />
<text x="23.7" y="575.7" font-size="7" text-anchor="end">1.0</text>
<text x="23.7" y="551" font-size="7" text-anchor="end">1.5</text>
<text x="23.7" y="526.4" font-size="7" text-anchor="end">2.0</text>
<text x="23.7" y="501.7" font-size="7" text-anchor="end">2.5</text>
<text x="23.7" y="477" font-size="7" text-anchor="end">3.0</text>
<line x1="26.3" y1="572.8" x2="26.3" y2="574.6" stroke="#333" stroke-width="0.8" />
<line x1="32.8" y1="572.8" x2="32.8" y2="573.9" stroke="#333" stroke-width="0.8" />
<line x1="39.2" y1="572.8" x2="39.2" y2="574.6" stroke="#333" stroke-width="0.8" />
<line x1="45.7" y1="572.8" x2="45.7" y2="573.9" stroke="#333" stroke-width="0.8" />
<line x1="52.2" y1="572.8" x2="52.2" y2="574.6" stroke="#333" stroke-width="0.8" />
<line x1="58.7" y1="572.8" x2="58.7" y2="573.9" stroke="#333" stroke-width="0.8" />
<line x1="65.1" y1="572.8" x2="65.1" y2="574.6" stroke="#333" stroke-width="0.8" />
<line x1="71.6" y1="572.8" x2="71.6" y2="573.9" stroke="#333" stroke-width="0.8" />
<line x1="78.1" y1="572.8" x2="78.1" y2="574.6" stroke="#333" stroke-width="0.8" />
<line x1="84.6" y1="572.8" x2="84.6" y2="573.9" stroke="#333" stroke-width="0.8" />
<line x1="91" y1="572.8" x2="91" y2="574.6" stroke="#333" stroke-width="0.8" />
<line x1="97.5" y1="572.8" x2="97.5" y2="573.9" stroke="#333" stroke-width="0.8" />
<line x1="104" y1="572.8" x2="104" y2="574.6" stroke="#333" stroke-width="0.8" />
<line x1="110.4" y1="572.8" x2="110.4" y2="573.9" stroke="#333" stroke-width="0.8" />
<line x1="116.9" y1="572.8" x2="116.9" y2="574.6" stroke="#333" stroke-width="0.8" />
<line x1="123.4" y1="572.8" x2="123.4" y2="573.9" stroke="#333" stroke-width="0.8" />
<line x1="129.9" y1="572.8" x2="129.9" y2="574.6" stroke="#333" stroke-width="0.8" />
<line x1="136.3" y1="572.8" x2="136.3" y2="573.9" stroke="#333" stroke-width="0.8" />
<line x1="142.8" y1="572.8" x2="142.8" y2="574.6" stroke="#333" stroke-width="0.8" />
<text x="26.3" y="583.1" font-size="7.3" text-anchor="middle">3</text>
<text x="39.2" y="583.1" font-size="7.3" text-anchor="middle">4</text>
<text x="52.2" y="583.1" font-size="7.3" text-anchor="middle">5</text>
<text x="65.1" y="583.1" font-size="7.3" text-anchor="middle">6</text>
<text x="78.1" y="583.1" font-size="7.3" text-anchor="middle">7</text>
<text x="91" y="583.1" font-size="7.3" text-anchor="middle">8</text>
<text x="104" y="583.1" font-size="7.3" text-anchor="middle">9</text>
<text x="116.9" y="583.1" font-size="7.3" text-anchor="middle">10</text>
<text x="129.9" y="583.1" font-size="7.3" text-anchor="middle">11</text>
<text x="142.8" y="583.1" font-size="7.3" text-anchor="middle">12</text>
<text x="84.6" y="595.5" font-size="8.0" text-anchor="middle" fill="#222">k (Å<tspan font-size="5.3" dy="-2.8">-1</tspan><tspan dy="2.8">)</tspan></text>
<text x="0" y="0" font-size="8.5" text-anchor="middle" fill="#222" transform="translate(7.9 519.4) rotate(-90)">R+ΔR (Å)</text>
<text x="141.2" y="483.2" font-size="7.8" text-anchor="end" fill="#EEE" stroke="#555" stroke-width="0.5" paint-order="stroke">Cu Foil</text>
<rect x="313.6" y="474.1" width="1.8" height="98.5" fill="#A8A8A8" />
<rect x="315.4" y="474.1" width="12.2" height="98.5" fill="url(#cbg)" stroke="#888" stroke-width="0.5" />
<line x1="327.6" y1="474.1" x2="328.8" y2="474.1" stroke="#555" stroke-width="0.5" />
<text x="329.6" y="475.6" font-size="4.3" fill="#333">0.0088</text>
<line x1="327.6" y1="498.7" x2="328.8" y2="498.7" stroke="#555" stroke-width="0.5" />
<text x="329.6" y="500.3" font-size="4.3" fill="#333">0.0066</text>
<line x1="327.6" y1="523.4" x2="328.8" y2="523.4" stroke="#555" stroke-width="0.5" />
<text x="329.6" y="524.9" font-size="4.3" fill="#333">0.0044</text>
<line x1="327.6" y1="548" x2="328.8" y2="548" stroke="#555" stroke-width="0.5" />
<text x="329.6" y="549.5" font-size="4.3" fill="#333">0.0022</text>
<line x1="327.6" y1="572.6" x2="328.8" y2="572.6" stroke="#555" stroke-width="0.5" />
<text x="329.6" y="574.1" font-size="4.3" fill="#333">0.0000</text>
<text x="0" y="0" font-size="6.6" text-anchor="middle" fill="#333" transform="translate(319.1 523.4) rotate(90)">Intensity (arb. units)</text>
<line x1="197.8" y1="473.7" x2="197.8" y2="573" stroke="#333" stroke-width="0.9" />
<line x1="197.8" y1="572.6" x2="313.6" y2="572.6" stroke="#333" stroke-width="0.9" />
<line x1="197.8" y1="474.1" x2="313.6" y2="474.1" stroke="#555" stroke-width="0.7" />
<line x1="197.8" y1="572.6" x2="196" y2="572.6" stroke="#333" stroke-width="0.8" />
<line x1="197.8" y1="560.3" x2="196.7" y2="560.3" stroke="#333" stroke-width="0.8" />
<line x1="197.8" y1="548" x2="196" y2="548" stroke="#333" stroke-width="0.8" />
<line x1="197.8" y1="535.7" x2="196.7" y2="535.7" stroke="#333" stroke-width="0.8" />
<line x1="197.8" y1="523.4" x2="196" y2="523.4" stroke="#333" stroke-width="0.8" />
<line x1="197.8" y1="511" x2="196.7" y2="511" stroke="#333" stroke-width="0.8" />
<line x1="197.8" y1="498.7" x2="196" y2="498.7" stroke="#333" stroke-width="0.8" />
<line x1="197.8" y1="486.4" x2="196.7" y2="486.4" stroke="#333" stroke-width="0.8" />
<line x1="197.8" y1="474.1" x2="196" y2="474.1" stroke="#333" stroke-width="0.8" />
<text x="195.2" y="575.5" font-size="7" text-anchor="end">1.0</text>
<text x="195.2" y="550.9" font-size="7" text-anchor="end">1.5</text>
<text x="195.2" y="526.3" font-size="7" text-anchor="end">2.0</text>
<text x="195.2" y="501.6" font-size="7" text-anchor="end">2.5</text>
<text x="195.2" y="477" font-size="7" text-anchor="end">3.0</text>
<line x1="197.8" y1="572.6" x2="197.8" y2="574.4" stroke="#333" stroke-width="0.8" />
<line x1="204.2" y1="572.6" x2="204.2" y2="573.7" stroke="#333" stroke-width="0.8" />
<line x1="210.7" y1="572.6" x2="210.7" y2="574.4" stroke="#333" stroke-width="0.8" />
<line x1="217.1" y1="572.6" x2="217.1" y2="573.7" stroke="#333" stroke-width="0.8" />
<line x1="223.5" y1="572.6" x2="223.5" y2="574.4" stroke="#333" stroke-width="0.8" />
<line x1="230" y1="572.6" x2="230" y2="573.7" stroke="#333" stroke-width="0.8" />
<line x1="236.4" y1="572.6" x2="236.4" y2="574.4" stroke="#333" stroke-width="0.8" />
<line x1="242.8" y1="572.6" x2="242.8" y2="573.7" stroke="#333" stroke-width="0.8" />
<line x1="249.3" y1="572.6" x2="249.3" y2="574.4" stroke="#333" stroke-width="0.8" />
<line x1="255.7" y1="572.6" x2="255.7" y2="573.7" stroke="#333" stroke-width="0.8" />
<line x1="262.1" y1="572.6" x2="262.1" y2="574.4" stroke="#333" stroke-width="0.8" />
<line x1="268.6" y1="572.6" x2="268.6" y2="573.7" stroke="#333" stroke-width="0.8" />
<line x1="275" y1="572.6" x2="275" y2="574.4" stroke="#333" stroke-width="0.8" />
<line x1="281.4" y1="572.6" x2="281.4" y2="573.7" stroke="#333" stroke-width="0.8" />
<line x1="287.9" y1="572.6" x2="287.9" y2="574.4" stroke="#333" stroke-width="0.8" />
<line x1="294.3" y1="572.6" x2="294.3" y2="573.7" stroke="#333" stroke-width="0.8" />
<line x1="300.7" y1="572.6" x2="300.7" y2="574.4" stroke="#333" stroke-width="0.8" />
<line x1="307.2" y1="572.6" x2="307.2" y2="573.7" stroke="#333" stroke-width="0.8" />
<line x1="313.6" y1="572.6" x2="313.6" y2="574.4" stroke="#333" stroke-width="0.8" />
<text x="197.8" y="583.1" font-size="7.3" text-anchor="middle">3</text>
<text x="210.7" y="583.1" font-size="7.3" text-anchor="middle">4</text>
<text x="223.5" y="583.1" font-size="7.3" text-anchor="middle">5</text>
<text x="236.4" y="583.1" font-size="7.3" text-anchor="middle">6</text>
<text x="249.3" y="583.1" font-size="7.3" text-anchor="middle">7</text>
<text x="262.1" y="583.1" font-size="7.3" text-anchor="middle">8</text>
<text x="275" y="583.1" font-size="7.3" text-anchor="middle">9</text>
<text x="287.9" y="583.1" font-size="7.3" text-anchor="middle">10</text>
<text x="300.7" y="583.1" font-size="7.3" text-anchor="middle">11</text>
<text x="313.6" y="583.1" font-size="7.3" text-anchor="middle">12</text>
<text x="255.7" y="595.5" font-size="8.0" text-anchor="middle" fill="#222">k (Å<tspan font-size="5.3" dy="-2.8">-1</tspan><tspan dy="2.8">)</tspan></text>
<text x="0" y="0" font-size="8.5" text-anchor="middle" fill="#222" transform="translate(183.2 519.4) rotate(-90)">R+ΔR (Å)</text>
<text x="312" y="483.2" font-size="7.8" text-anchor="end" fill="#EEE" stroke="#555" stroke-width="0.5" paint-order="stroke">Cu-PC</text>
<rect x="486" y="474.1" width="1.8" height="98.5" fill="#A8A8A8" />
<rect x="487.8" y="474.1" width="12.2" height="98.5" fill="url(#cbg)" stroke="#888" stroke-width="0.5" />
<line x1="500" y1="474.1" x2="501.2" y2="474.1" stroke="#555" stroke-width="0.5" />
<text x="502" y="475.6" font-size="4.3" fill="#333">0.0083</text>
<line x1="500" y1="498.7" x2="501.2" y2="498.7" stroke="#555" stroke-width="0.5" />
<text x="502" y="500.3" font-size="4.3" fill="#333">0.0062</text>
<line x1="500" y1="523.4" x2="501.2" y2="523.4" stroke="#555" stroke-width="0.5" />
<text x="502" y="524.9" font-size="4.3" fill="#333">0.0042</text>
<line x1="500" y1="548" x2="501.2" y2="548" stroke="#555" stroke-width="0.5" />
<text x="502" y="549.5" font-size="4.3" fill="#333">0.0021</text>
<line x1="500" y1="572.6" x2="501.2" y2="572.6" stroke="#555" stroke-width="0.5" />
<text x="502" y="574.1" font-size="4.3" fill="#333">0.0000</text>
<text x="0" y="0" font-size="6.6" text-anchor="middle" fill="#333" transform="translate(491.5 523.4) rotate(90)">Intensity (arb. units)</text>
<line x1="370" y1="473.7" x2="370" y2="573" stroke="#333" stroke-width="0.9" />
<line x1="370" y1="572.6" x2="486" y2="572.6" stroke="#333" stroke-width="0.9" />
<line x1="370" y1="474.1" x2="486" y2="474.1" stroke="#555" stroke-width="0.7" />
<line x1="370" y1="572.6" x2="368.2" y2="572.6" stroke="#333" stroke-width="0.8" />
<line x1="370" y1="560.3" x2="368.9" y2="560.3" stroke="#333" stroke-width="0.8" />
<line x1="370" y1="548" x2="368.2" y2="548" stroke="#333" stroke-width="0.8" />
<line x1="370" y1="535.7" x2="368.9" y2="535.7" stroke="#333" stroke-width="0.8" />
<line x1="370" y1="523.4" x2="368.2" y2="523.4" stroke="#333" stroke-width="0.8" />
<line x1="370" y1="511" x2="368.9" y2="511" stroke="#333" stroke-width="0.8" />
<line x1="370" y1="498.7" x2="368.2" y2="498.7" stroke="#333" stroke-width="0.8" />
<line x1="370" y1="486.4" x2="368.9" y2="486.4" stroke="#333" stroke-width="0.8" />
<line x1="370" y1="474.1" x2="368.2" y2="474.1" stroke="#333" stroke-width="0.8" />
<text x="367.4" y="575.5" font-size="7" text-anchor="end">1.0</text>
<text x="367.4" y="550.9" font-size="7" text-anchor="end">1.5</text>
<text x="367.4" y="526.3" font-size="7" text-anchor="end">2.0</text>
<text x="367.4" y="501.6" font-size="7" text-anchor="end">2.5</text>
<text x="367.4" y="477" font-size="7" text-anchor="end">3.0</text>
<line x1="370" y1="572.6" x2="370" y2="574.4" stroke="#333" stroke-width="0.8" />
<line x1="376.4" y1="572.6" x2="376.4" y2="573.7" stroke="#333" stroke-width="0.8" />
<line x1="382.9" y1="572.6" x2="382.9" y2="574.4" stroke="#333" stroke-width="0.8" />
<line x1="389.3" y1="572.6" x2="389.3" y2="573.7" stroke="#333" stroke-width="0.8" />
<line x1="395.8" y1="572.6" x2="395.8" y2="574.4" stroke="#333" stroke-width="0.8" />
<line x1="402.2" y1="572.6" x2="402.2" y2="573.7" stroke="#333" stroke-width="0.8" />
<line x1="408.7" y1="572.6" x2="408.7" y2="574.4" stroke="#333" stroke-width="0.8" />
<line x1="415.1" y1="572.6" x2="415.1" y2="573.7" stroke="#333" stroke-width="0.8" />
<line x1="421.6" y1="572.6" x2="421.6" y2="574.4" stroke="#333" stroke-width="0.8" />
<line x1="428" y1="572.6" x2="428" y2="573.7" stroke="#333" stroke-width="0.8" />
<line x1="434.4" y1="572.6" x2="434.4" y2="574.4" stroke="#333" stroke-width="0.8" />
<line x1="440.9" y1="572.6" x2="440.9" y2="573.7" stroke="#333" stroke-width="0.8" />
<line x1="447.3" y1="572.6" x2="447.3" y2="574.4" stroke="#333" stroke-width="0.8" />
<line x1="453.8" y1="572.6" x2="453.8" y2="573.7" stroke="#333" stroke-width="0.8" />
<line x1="460.2" y1="572.6" x2="460.2" y2="574.4" stroke="#333" stroke-width="0.8" />
<line x1="466.7" y1="572.6" x2="466.7" y2="573.7" stroke="#333" stroke-width="0.8" />
<line x1="473.1" y1="572.6" x2="473.1" y2="574.4" stroke="#333" stroke-width="0.8" />
<line x1="479.6" y1="572.6" x2="479.6" y2="573.7" stroke="#333" stroke-width="0.8" />
<line x1="486" y1="572.6" x2="486" y2="574.4" stroke="#333" stroke-width="0.8" />
<text x="370" y="583.1" font-size="7.3" text-anchor="middle">3</text>
<text x="382.9" y="583.1" font-size="7.3" text-anchor="middle">4</text>
<text x="395.8" y="583.1" font-size="7.3" text-anchor="middle">5</text>
<text x="408.7" y="583.1" font-size="7.3" text-anchor="middle">6</text>
<text x="421.6" y="583.1" font-size="7.3" text-anchor="middle">7</text>
<text x="434.4" y="583.1" font-size="7.3" text-anchor="middle">8</text>
<text x="447.3" y="583.1" font-size="7.3" text-anchor="middle">9</text>
<text x="460.2" y="583.1" font-size="7.3" text-anchor="middle">10</text>
<text x="473.1" y="583.1" font-size="7.3" text-anchor="middle">11</text>
<text x="486" y="583.1" font-size="7.3" text-anchor="middle">12</text>
<text x="428" y="595.5" font-size="8.0" text-anchor="middle" fill="#222">k (Å<tspan font-size="5.3" dy="-2.8">-1</tspan><tspan dy="2.8">)</tspan></text>
<text x="0" y="0" font-size="8.5" text-anchor="middle" fill="#222" transform="translate(353.8 519.4) rotate(-90)">R+ΔR (Å)</text>
<text x="484.4" y="483.2" font-size="7.8" text-anchor="end" fill="#EEE" stroke="#555" stroke-width="0.5" paint-order="stroke">Cu-SAC</text>
<rect x="655" y="474.1" width="1.8" height="98.5" fill="#A8A8A8" />
<rect x="656.8" y="474.1" width="12.2" height="98.5" fill="url(#cbg)" stroke="#888" stroke-width="0.5" />
<line x1="669" y1="474.1" x2="670.2" y2="474.1" stroke="#555" stroke-width="0.5" />
<text x="671" y="475.6" font-size="4.3" fill="#333">0.0073</text>
<line x1="669" y1="498.7" x2="670.2" y2="498.7" stroke="#555" stroke-width="0.5" />
<text x="671" y="500.3" font-size="4.3" fill="#333">0.0055</text>
<line x1="669" y1="523.4" x2="670.2" y2="523.4" stroke="#555" stroke-width="0.5" />
<text x="671" y="524.9" font-size="4.3" fill="#333">0.0036</text>
<line x1="669" y1="548" x2="670.2" y2="548" stroke="#555" stroke-width="0.5" />
<text x="671" y="549.5" font-size="4.3" fill="#333">0.0018</text>
<line x1="669" y1="572.6" x2="670.2" y2="572.6" stroke="#555" stroke-width="0.5" />
<text x="671" y="574.1" font-size="4.3" fill="#333">0.0000</text>
<text x="0" y="0" font-size="6.6" text-anchor="middle" fill="#333" transform="translate(660.5 523.4) rotate(90)">Intensity (arb. units)</text>
<line x1="539.1" y1="473.7" x2="539.1" y2="573" stroke="#333" stroke-width="0.9" />
<line x1="539.1" y1="572.6" x2="655" y2="572.6" stroke="#333" stroke-width="0.9" />
<line x1="539.1" y1="474.1" x2="655" y2="474.1" stroke="#555" stroke-width="0.7" />
<line x1="539.1" y1="572.6" x2="537.3" y2="572.6" stroke="#333" stroke-width="0.8" />
<line x1="539.1" y1="560.3" x2="538" y2="560.3" stroke="#333" stroke-width="0.8" />
<line x1="539.1" y1="548" x2="537.3" y2="548" stroke="#333" stroke-width="0.8" />
<line x1="539.1" y1="535.7" x2="538" y2="535.7" stroke="#333" stroke-width="0.8" />
<line x1="539.1" y1="523.4" x2="537.3" y2="523.4" stroke="#333" stroke-width="0.8" />
<line x1="539.1" y1="511" x2="538" y2="511" stroke="#333" stroke-width="0.8" />
<line x1="539.1" y1="498.7" x2="537.3" y2="498.7" stroke="#333" stroke-width="0.8" />
<line x1="539.1" y1="486.4" x2="538" y2="486.4" stroke="#333" stroke-width="0.8" />
<line x1="539.1" y1="474.1" x2="537.3" y2="474.1" stroke="#333" stroke-width="0.8" />
<text x="536.5" y="575.5" font-size="7" text-anchor="end">1.0</text>
<text x="536.5" y="550.9" font-size="7" text-anchor="end">1.5</text>
<text x="536.5" y="526.3" font-size="7" text-anchor="end">2.0</text>
<text x="536.5" y="501.6" font-size="7" text-anchor="end">2.5</text>
<text x="536.5" y="477" font-size="7" text-anchor="end">3.0</text>
<line x1="539.1" y1="572.6" x2="539.1" y2="574.4" stroke="#333" stroke-width="0.8" />
<line x1="545.5" y1="572.6" x2="545.5" y2="573.7" stroke="#333" stroke-width="0.8" />
<line x1="552" y1="572.6" x2="552" y2="574.4" stroke="#333" stroke-width="0.8" />
<line x1="558.4" y1="572.6" x2="558.4" y2="573.7" stroke="#333" stroke-width="0.8" />
<line x1="564.9" y1="572.6" x2="564.9" y2="574.4" stroke="#333" stroke-width="0.8" />
<line x1="571.3" y1="572.6" x2="571.3" y2="573.7" stroke="#333" stroke-width="0.8" />
<line x1="577.7" y1="572.6" x2="577.7" y2="574.4" stroke="#333" stroke-width="0.8" />
<line x1="584.2" y1="572.6" x2="584.2" y2="573.7" stroke="#333" stroke-width="0.8" />
<line x1="590.6" y1="572.6" x2="590.6" y2="574.4" stroke="#333" stroke-width="0.8" />
<line x1="597.1" y1="572.6" x2="597.1" y2="573.7" stroke="#333" stroke-width="0.8" />
<line x1="603.5" y1="572.6" x2="603.5" y2="574.4" stroke="#333" stroke-width="0.8" />
<line x1="609.9" y1="572.6" x2="609.9" y2="573.7" stroke="#333" stroke-width="0.8" />
<line x1="616.4" y1="572.6" x2="616.4" y2="574.4" stroke="#333" stroke-width="0.8" />
<line x1="622.8" y1="572.6" x2="622.8" y2="573.7" stroke="#333" stroke-width="0.8" />
<line x1="629.2" y1="572.6" x2="629.2" y2="574.4" stroke="#333" stroke-width="0.8" />
<line x1="635.7" y1="572.6" x2="635.7" y2="573.7" stroke="#333" stroke-width="0.8" />
<line x1="642.1" y1="572.6" x2="642.1" y2="574.4" stroke="#333" stroke-width="0.8" />
<line x1="648.6" y1="572.6" x2="648.6" y2="573.7" stroke="#333" stroke-width="0.8" />
<line x1="655" y1="572.6" x2="655" y2="574.4" stroke="#333" stroke-width="0.8" />
<text x="539.1" y="583.1" font-size="7.3" text-anchor="middle">3</text>
<text x="552" y="583.1" font-size="7.3" text-anchor="middle">4</text>
<text x="564.9" y="583.1" font-size="7.3" text-anchor="middle">5</text>
<text x="577.7" y="583.1" font-size="7.3" text-anchor="middle">6</text>
<text x="590.6" y="583.1" font-size="7.3" text-anchor="middle">7</text>
<text x="603.5" y="583.1" font-size="7.3" text-anchor="middle">8</text>
<text x="616.4" y="583.1" font-size="7.3" text-anchor="middle">9</text>
<text x="629.2" y="583.1" font-size="7.3" text-anchor="middle">10</text>
<text x="642.1" y="583.1" font-size="7.3" text-anchor="middle">11</text>
<text x="655" y="583.1" font-size="7.3" text-anchor="middle">12</text>
<text x="597" y="595.5" font-size="8.0" text-anchor="middle" fill="#222">k (Å<tspan font-size="5.3" dy="-2.8">-1</tspan><tspan dy="2.8">)</tspan></text>
<text x="0" y="0" font-size="8.5" text-anchor="middle" fill="#222" transform="translate(525.4 519.4) rotate(-90)">R+ΔR (Å)</text>
<text x="653.4" y="483.2" font-size="7.8" text-anchor="end" fill="#EEE" stroke="#555" stroke-width="0.5" paint-order="stroke">CuNi-DAC</text>
<text x="46.3" y="524.8" font-size="8.2" fill="#EEE" stroke="#666" stroke-width="0.45" paint-order="stroke">Cu-Cu</text>
<text x="206.5" y="550.9" font-size="8.2" fill="#EEE" stroke="#666" stroke-width="0.45" paint-order="stroke">Cu-N</text>
<text x="378.5" y="549.9" font-size="8.2" fill="#EEE" stroke="#666" stroke-width="0.45" paint-order="stroke">Cu-N</text>
<text x="547" y="549.9" font-size="8.2" fill="#EEE" stroke="#666" stroke-width="0.45" paint-order="stroke">Cu-N</text>
<defs><linearGradient id="ins" x1="0" y1="0" x2="1" y2="1"><stop offset="0" stop-color="#f4f4f4"/><stop offset="0.5" stop-color="#d8d8d8"/><stop offset="1" stop-color="#f2f2f2"/></linearGradient></defs>
<rect x="456.8" y="486" width="28.5" height="25.9" fill="url(#ins)" stroke="#9aa" stroke-width="0.4" />
<line x1="463.7" y1="491.1" x2="463.7" y2="486.2" stroke="#D6EC3A" stroke-width="1.3" />
<line x1="463.7" y1="491.1" x2="457.2" y2="491.1" stroke="#D6EC3A" stroke-width="1.3" />
<line x1="470.9" y1="497.9" x2="463.7" y2="491.1" stroke="#D6EC3A" stroke-width="1.3" />
<line x1="470.9" y1="497.9" x2="467.3" y2="494.5" stroke="#F07030" stroke-width="1.3" />
<circle cx="463.7" cy="491.1" r="2.1" fill="#DDEE44" stroke="#A8BC10" stroke-width="0.5"/>
<line x1="478.8" y1="491.1" x2="478.8" y2="486.2" stroke="#D6EC3A" stroke-width="1.3" />
<line x1="478.8" y1="491.1" x2="485.1" y2="491.1" stroke="#D6EC3A" stroke-width="1.3" />
<line x1="470.9" y1="497.9" x2="478.8" y2="491.1" stroke="#D6EC3A" stroke-width="1.3" />
<line x1="470.9" y1="497.9" x2="474.9" y2="494.5" stroke="#F07030" stroke-width="1.3" />
<circle cx="478.8" cy="491.1" r="2.1" fill="#DDEE44" stroke="#A8BC10" stroke-width="0.5"/>
<line x1="462.9" y1="506.9" x2="462.9" y2="511.7" stroke="#D6EC3A" stroke-width="1.3" />
<line x1="462.9" y1="506.9" x2="457.2" y2="506.9" stroke="#D6EC3A" stroke-width="1.3" />
<line x1="470.9" y1="497.9" x2="462.9" y2="506.9" stroke="#D6EC3A" stroke-width="1.3" />
<line x1="470.9" y1="497.9" x2="466.9" y2="502.4" stroke="#F07030" stroke-width="1.3" />
<circle cx="462.9" cy="506.9" r="2.1" fill="#DDEE44" stroke="#A8BC10" stroke-width="0.5"/>
<line x1="478.1" y1="506.9" x2="478.1" y2="511.7" stroke="#D6EC3A" stroke-width="1.3" />
<line x1="478.1" y1="506.9" x2="485.1" y2="506.9" stroke="#D6EC3A" stroke-width="1.3" />
<line x1="470.9" y1="497.9" x2="478.1" y2="506.9" stroke="#D6EC3A" stroke-width="1.3" />
<line x1="470.9" y1="497.9" x2="474.5" y2="502.4" stroke="#F07030" stroke-width="1.3" />
<circle cx="478.1" cy="506.9" r="2.1" fill="#DDEE44" stroke="#A8BC10" stroke-width="0.5"/>
<circle cx="470.9" cy="497.9" r="3.2" fill="#F06A2A"/><circle cx="470.4" cy="497.3" r="1.2" fill="#fff" opacity="0.35"/>
<rect x="623.3" y="486.4" width="27.6" height="23.3" fill="url(#ins)" stroke="#9aa" stroke-width="0.4" />
<circle cx="625.5" cy="488.5" r="2.2" fill="#444" opacity="0.8"/>
<circle cx="647.5" cy="488" r="2.2" fill="#444" opacity="0.8"/>
<circle cx="648.5" cy="508" r="2.2" fill="#444" opacity="0.8"/>
<circle cx="624.5" cy="508.5" r="2.2" fill="#444" opacity="0.8"/>
<line x1="632.6" y1="499.3" x2="633.7" y2="492.8" stroke="#D6EC3A" stroke-width="1.3" />
<line x1="632.6" y1="499.3" x2="633.2" y2="496.1" stroke="#F07030" stroke-width="1.3" />
<line x1="642.3" y1="493.9" x2="633.7" y2="492.8" stroke="#D6EC3A" stroke-width="1.3" />
<line x1="642.3" y1="493.9" x2="638" y2="493.4" stroke="#40C8DC" stroke-width="1.3" />
<line x1="632.6" y1="499.3" x2="624.3" y2="497.5" stroke="#D6EC3A" stroke-width="1.3" />
<line x1="632.6" y1="499.3" x2="628.5" y2="498.4" stroke="#F07030" stroke-width="1.3" />
<line x1="632.6" y1="499.3" x2="631.5" y2="507.2" stroke="#D6EC3A" stroke-width="1.3" />
<line x1="632.6" y1="499.3" x2="632" y2="503.2" stroke="#F07030" stroke-width="1.3" />
<line x1="642.3" y1="493.9" x2="642" y2="501.1" stroke="#D6EC3A" stroke-width="1.3" />
<line x1="642.3" y1="493.9" x2="642.1" y2="497.5" stroke="#40C8DC" stroke-width="1.3" />
<line x1="642.3" y1="493.9" x2="642.3" y2="488.2" stroke="#D6EC3A" stroke-width="1.3" />
<line x1="642.3" y1="493.9" x2="642.3" y2="491" stroke="#40C8DC" stroke-width="1.3" />
<line x1="642.3" y1="493.9" x2="649.5" y2="495" stroke="#D6EC3A" stroke-width="1.3" />
<line x1="642.3" y1="493.9" x2="645.9" y2="494.4" stroke="#40C8DC" stroke-width="1.3" />
<circle cx="633.7" cy="492.8" r="1.9" fill="#DDEE44" stroke="#A8BC10" stroke-width="0.5"/>
<circle cx="624.3" cy="497.5" r="1.9" fill="#DDEE44" stroke="#A8BC10" stroke-width="0.5"/>
<circle cx="631.5" cy="507.2" r="1.9" fill="#DDEE44" stroke="#A8BC10" stroke-width="0.5"/>
<circle cx="642" cy="501.1" r="1.9" fill="#DDEE44" stroke="#A8BC10" stroke-width="0.5"/>
<circle cx="642.3" cy="488.2" r="1.9" fill="#DDEE44" stroke="#A8BC10" stroke-width="0.5"/>
<circle cx="649.5" cy="495" r="1.9" fill="#DDEE44" stroke="#A8BC10" stroke-width="0.5"/>
<circle cx="632.6" cy="499.3" r="2.8" fill="#F06A2A"/><circle cx="642.3" cy="493.9" r="2.8" fill="#40CCE0"/>
</svg></body></html>
